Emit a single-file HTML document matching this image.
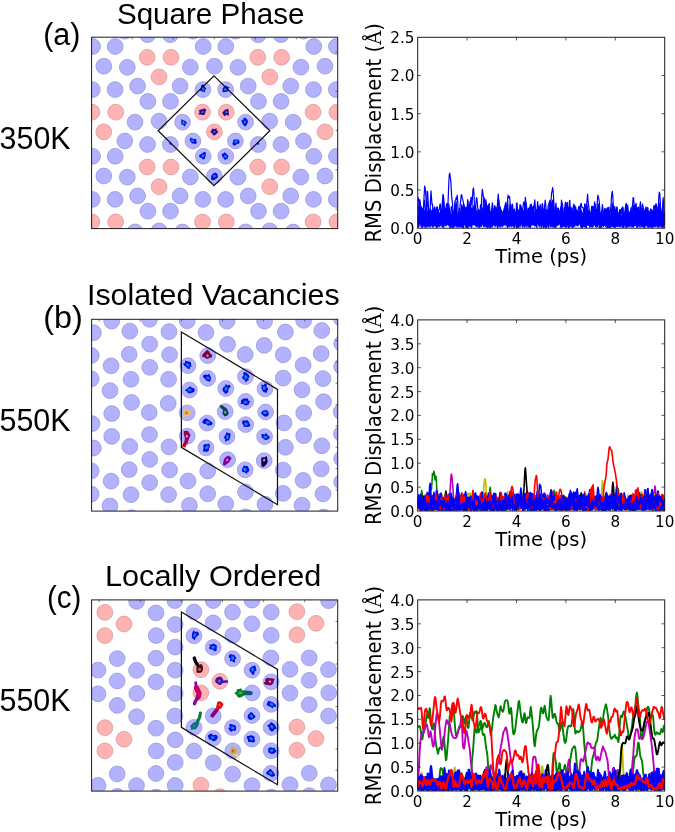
<!DOCTYPE html>
<html><head><meta charset="utf-8"><title>RMS Displacement figure</title>
<style>
html,body{margin:0;padding:0;background:#fff;}
svg{display:block}
.lb{font-family:"Liberation Sans",sans-serif;fill:#000}
.dv{font-family:"DejaVu Sans","Liberation Sans",sans-serif;fill:#000}
.sf{font-family:"DejaVu Serif","Liberation Serif",serif;fill:#000}
.ln{fill:none;stroke-linejoin:round;stroke-linecap:round}
</style></head><body>
<svg width="675" height="832" viewBox="0 0 675 832">
<rect width="675" height="832" fill="#fff"/>
<defs>
<clipPath id="cpa"><rect x="91.6" y="37.2" width="246.1" height="191.4"/></clipPath>
<clipPath id="cpb"><rect x="91.6" y="319.3" width="246.1" height="191.8"/></clipPath>
<clipPath id="cpc"><rect x="91.6" y="599.9" width="246.1" height="191.2"/></clipPath>
<clipPath id="cqa"><rect x="417.7" y="37.3" width="247.0" height="190.9"/></clipPath>
<clipPath id="cqb"><rect x="417.7" y="319.9" width="247.0" height="191.1"/></clipPath>
<clipPath id="cqc"><rect x="417.7" y="599.9" width="247.0" height="191.1"/></clipPath>
</defs>
<text x="116.9" y="24.0" font-size="30" class="lb" text-anchor="start" textLength="187.6" lengthAdjust="spacingAndGlyphs">Square Phase</text>
<text x="43.2" y="45.2" font-size="31" class="lb" text-anchor="start" textLength="37.3" lengthAdjust="spacingAndGlyphs">(a)</text>
<text x="-0.4" y="148.9" font-size="31.4" class="lb" text-anchor="start" textLength="70.9" lengthAdjust="spacingAndGlyphs">350K</text>
<text x="87.0" y="304.6" font-size="30" class="lb" text-anchor="start" textLength="252.7" lengthAdjust="spacingAndGlyphs">Isolated Vacancies</text>
<text x="43.3" y="328.0" font-size="31" class="lb" text-anchor="start" textLength="39.6" lengthAdjust="spacingAndGlyphs">(b)</text>
<text x="-0.5" y="430.7" font-size="31.4" class="lb" text-anchor="start" textLength="71.0" lengthAdjust="spacingAndGlyphs">550K</text>
<text x="105.0" y="585.9" font-size="30" class="lb" text-anchor="start" textLength="216.4" lengthAdjust="spacingAndGlyphs">Locally Ordered</text>
<text x="46.9" y="607.9" font-size="31" class="lb" text-anchor="start" textLength="34.3" lengthAdjust="spacingAndGlyphs">(c)</text>
<text x="-0.5" y="710.7" font-size="31.4" class="lb" text-anchor="start" textLength="71.0" lengthAdjust="spacingAndGlyphs">550K</text>
<g clip-path="url(#cpa)">
<circle cx="124.8" cy="31.2" r="7.9" fill="#b2b2ff" stroke="#9292d0" stroke-width="0.7"/>
<circle cx="92.6" cy="46.5" r="7.9" fill="#b2b2ff" stroke="#9292d0" stroke-width="0.7"/>
<circle cx="115.2" cy="46.5" r="7.9" fill="#b2b2ff" stroke="#9292d0" stroke-width="0.7"/>
<circle cx="103.8" cy="66.2" r="7.9" fill="#b2b2ff" stroke="#9292d0" stroke-width="0.7"/>
<circle cx="92.3" cy="89.6" r="7.9" fill="#b2b2ff" stroke="#9292d0" stroke-width="0.7"/>
<circle cx="115.1" cy="89.6" r="7.9" fill="#b2b2ff" stroke="#9292d0" stroke-width="0.7"/>
<circle cx="135.0" cy="122.1" r="7.9" fill="#b2b2ff" stroke="#9292d0" stroke-width="0.7"/>
<circle cx="124.8" cy="141.0" r="7.9" fill="#b2b2ff" stroke="#9292d0" stroke-width="0.7"/>
<circle cx="92.6" cy="156.3" r="7.9" fill="#b2b2ff" stroke="#9292d0" stroke-width="0.7"/>
<circle cx="115.2" cy="156.3" r="7.9" fill="#b2b2ff" stroke="#9292d0" stroke-width="0.7"/>
<circle cx="103.8" cy="176.0" r="7.9" fill="#b2b2ff" stroke="#9292d0" stroke-width="0.7"/>
<circle cx="91.9" cy="112.2" r="7.9" fill="#ffb2b2" stroke="#d49696" stroke-width="0.7"/>
<circle cx="115.7" cy="112.2" r="7.9" fill="#ffb2b2" stroke="#d49696" stroke-width="0.7"/>
<circle cx="103.8" cy="131.8" r="7.9" fill="#ffb2b2" stroke="#d49696" stroke-width="0.7"/>
<circle cx="147.6" cy="34.7" r="7.9" fill="#b2b2ff" stroke="#9292d0" stroke-width="0.7"/>
<circle cx="170.4" cy="34.7" r="7.9" fill="#b2b2ff" stroke="#9292d0" stroke-width="0.7"/>
<circle cx="127.3" cy="67.3" r="7.9" fill="#b2b2ff" stroke="#9292d0" stroke-width="0.7"/>
<circle cx="190.3" cy="67.2" r="7.9" fill="#b2b2ff" stroke="#9292d0" stroke-width="0.7"/>
<circle cx="137.6" cy="86.1" r="7.9" fill="#b2b2ff" stroke="#9292d0" stroke-width="0.7"/>
<circle cx="180.1" cy="86.1" r="7.9" fill="#b2b2ff" stroke="#9292d0" stroke-width="0.7"/>
<circle cx="147.9" cy="101.4" r="7.9" fill="#b2b2ff" stroke="#9292d0" stroke-width="0.7"/>
<circle cx="170.5" cy="101.4" r="7.9" fill="#b2b2ff" stroke="#9292d0" stroke-width="0.7"/>
<circle cx="159.1" cy="121.1" r="7.9" fill="#b2b2ff" stroke="#9292d0" stroke-width="0.7"/>
<circle cx="147.2" cy="57.3" r="7.9" fill="#ffb2b2" stroke="#d49696" stroke-width="0.7"/>
<circle cx="171.0" cy="57.3" r="7.9" fill="#ffb2b2" stroke="#d49696" stroke-width="0.7"/>
<circle cx="159.1" cy="76.9" r="7.9" fill="#ffb2b2" stroke="#d49696" stroke-width="0.7"/>
<circle cx="192.9" cy="31.2" r="7.9" fill="#b2b2ff" stroke="#9292d0" stroke-width="0.7"/>
<circle cx="235.4" cy="31.2" r="7.9" fill="#b2b2ff" stroke="#9292d0" stroke-width="0.7"/>
<circle cx="203.2" cy="46.5" r="7.9" fill="#b2b2ff" stroke="#9292d0" stroke-width="0.7"/>
<circle cx="225.8" cy="46.5" r="7.9" fill="#b2b2ff" stroke="#9292d0" stroke-width="0.7"/>
<circle cx="214.4" cy="66.2" r="7.9" fill="#b2b2ff" stroke="#9292d0" stroke-width="0.7"/>
<circle cx="92.3" cy="199.4" r="7.9" fill="#b2b2ff" stroke="#9292d0" stroke-width="0.7"/>
<circle cx="115.1" cy="199.4" r="7.9" fill="#b2b2ff" stroke="#9292d0" stroke-width="0.7"/>
<circle cx="135.0" cy="231.9" r="7.9" fill="#b2b2ff" stroke="#9292d0" stroke-width="0.7"/>
<circle cx="91.9" cy="221.9" r="7.9" fill="#ffb2b2" stroke="#d49696" stroke-width="0.7"/>
<circle cx="115.7" cy="221.9" r="7.9" fill="#ffb2b2" stroke="#d49696" stroke-width="0.7"/>
<circle cx="147.6" cy="144.5" r="7.9" fill="#b2b2ff" stroke="#9292d0" stroke-width="0.7"/>
<circle cx="170.4" cy="144.5" r="7.9" fill="#b2b2ff" stroke="#9292d0" stroke-width="0.7"/>
<circle cx="127.3" cy="177.1" r="7.9" fill="#b2b2ff" stroke="#9292d0" stroke-width="0.7"/>
<circle cx="190.3" cy="177.0" r="7.9" fill="#b2b2ff" stroke="#9292d0" stroke-width="0.7"/>
<circle cx="137.6" cy="195.9" r="7.9" fill="#b2b2ff" stroke="#9292d0" stroke-width="0.7"/>
<circle cx="180.1" cy="195.9" r="7.9" fill="#b2b2ff" stroke="#9292d0" stroke-width="0.7"/>
<circle cx="147.9" cy="211.2" r="7.9" fill="#b2b2ff" stroke="#9292d0" stroke-width="0.7"/>
<circle cx="170.5" cy="211.2" r="7.9" fill="#b2b2ff" stroke="#9292d0" stroke-width="0.7"/>
<circle cx="159.1" cy="230.9" r="7.9" fill="#b2b2ff" stroke="#9292d0" stroke-width="0.7"/>
<circle cx="147.2" cy="167.0" r="7.9" fill="#ffb2b2" stroke="#d49696" stroke-width="0.7"/>
<circle cx="171.0" cy="167.0" r="7.9" fill="#ffb2b2" stroke="#d49696" stroke-width="0.7"/>
<circle cx="159.1" cy="186.7" r="7.9" fill="#ffb2b2" stroke="#d49696" stroke-width="0.7"/>
<circle cx="202.9" cy="89.6" r="7.9" fill="#b2b2ff" stroke="#9292d0" stroke-width="0.7"/>
<circle cx="225.7" cy="89.6" r="7.9" fill="#b2b2ff" stroke="#9292d0" stroke-width="0.7"/>
<circle cx="182.6" cy="122.2" r="7.9" fill="#b2b2ff" stroke="#9292d0" stroke-width="0.7"/>
<circle cx="245.6" cy="122.1" r="7.9" fill="#b2b2ff" stroke="#9292d0" stroke-width="0.7"/>
<circle cx="192.9" cy="141.0" r="7.9" fill="#b2b2ff" stroke="#9292d0" stroke-width="0.7"/>
<circle cx="235.4" cy="141.0" r="7.9" fill="#b2b2ff" stroke="#9292d0" stroke-width="0.7"/>
<circle cx="203.2" cy="156.3" r="7.9" fill="#b2b2ff" stroke="#9292d0" stroke-width="0.7"/>
<circle cx="225.8" cy="156.3" r="7.9" fill="#b2b2ff" stroke="#9292d0" stroke-width="0.7"/>
<circle cx="214.4" cy="176.0" r="7.9" fill="#b2b2ff" stroke="#9292d0" stroke-width="0.7"/>
<circle cx="202.5" cy="112.2" r="7.9" fill="#ffb2b2" stroke="#d49696" stroke-width="0.7"/>
<circle cx="226.3" cy="112.2" r="7.9" fill="#ffb2b2" stroke="#d49696" stroke-width="0.7"/>
<circle cx="214.4" cy="131.8" r="7.9" fill="#ffb2b2" stroke="#d49696" stroke-width="0.7"/>
<circle cx="258.2" cy="34.7" r="7.9" fill="#b2b2ff" stroke="#9292d0" stroke-width="0.7"/>
<circle cx="281.0" cy="34.7" r="7.9" fill="#b2b2ff" stroke="#9292d0" stroke-width="0.7"/>
<circle cx="237.9" cy="67.3" r="7.9" fill="#b2b2ff" stroke="#9292d0" stroke-width="0.7"/>
<circle cx="300.9" cy="67.2" r="7.9" fill="#b2b2ff" stroke="#9292d0" stroke-width="0.7"/>
<circle cx="248.2" cy="86.1" r="7.9" fill="#b2b2ff" stroke="#9292d0" stroke-width="0.7"/>
<circle cx="290.7" cy="86.1" r="7.9" fill="#b2b2ff" stroke="#9292d0" stroke-width="0.7"/>
<circle cx="258.5" cy="101.4" r="7.9" fill="#b2b2ff" stroke="#9292d0" stroke-width="0.7"/>
<circle cx="281.1" cy="101.4" r="7.9" fill="#b2b2ff" stroke="#9292d0" stroke-width="0.7"/>
<circle cx="269.7" cy="121.1" r="7.9" fill="#b2b2ff" stroke="#9292d0" stroke-width="0.7"/>
<circle cx="257.8" cy="57.3" r="7.9" fill="#ffb2b2" stroke="#d49696" stroke-width="0.7"/>
<circle cx="281.6" cy="57.3" r="7.9" fill="#ffb2b2" stroke="#d49696" stroke-width="0.7"/>
<circle cx="269.8" cy="76.9" r="7.9" fill="#ffb2b2" stroke="#d49696" stroke-width="0.7"/>
<circle cx="303.5" cy="31.2" r="7.9" fill="#b2b2ff" stroke="#9292d0" stroke-width="0.7"/>
<circle cx="346.0" cy="31.2" r="7.9" fill="#b2b2ff" stroke="#9292d0" stroke-width="0.7"/>
<circle cx="313.8" cy="46.5" r="7.9" fill="#b2b2ff" stroke="#9292d0" stroke-width="0.7"/>
<circle cx="336.4" cy="46.5" r="7.9" fill="#b2b2ff" stroke="#9292d0" stroke-width="0.7"/>
<circle cx="325.0" cy="66.2" r="7.9" fill="#b2b2ff" stroke="#9292d0" stroke-width="0.7"/>
<circle cx="202.9" cy="199.4" r="7.9" fill="#b2b2ff" stroke="#9292d0" stroke-width="0.7"/>
<circle cx="225.7" cy="199.4" r="7.9" fill="#b2b2ff" stroke="#9292d0" stroke-width="0.7"/>
<circle cx="182.6" cy="232.0" r="7.9" fill="#b2b2ff" stroke="#9292d0" stroke-width="0.7"/>
<circle cx="245.6" cy="231.9" r="7.9" fill="#b2b2ff" stroke="#9292d0" stroke-width="0.7"/>
<circle cx="202.5" cy="221.9" r="7.9" fill="#ffb2b2" stroke="#d49696" stroke-width="0.7"/>
<circle cx="226.3" cy="221.9" r="7.9" fill="#ffb2b2" stroke="#d49696" stroke-width="0.7"/>
<circle cx="258.2" cy="144.5" r="7.9" fill="#b2b2ff" stroke="#9292d0" stroke-width="0.7"/>
<circle cx="281.0" cy="144.5" r="7.9" fill="#b2b2ff" stroke="#9292d0" stroke-width="0.7"/>
<circle cx="237.9" cy="177.1" r="7.9" fill="#b2b2ff" stroke="#9292d0" stroke-width="0.7"/>
<circle cx="300.9" cy="177.0" r="7.9" fill="#b2b2ff" stroke="#9292d0" stroke-width="0.7"/>
<circle cx="248.2" cy="195.9" r="7.9" fill="#b2b2ff" stroke="#9292d0" stroke-width="0.7"/>
<circle cx="290.7" cy="195.9" r="7.9" fill="#b2b2ff" stroke="#9292d0" stroke-width="0.7"/>
<circle cx="258.5" cy="211.2" r="7.9" fill="#b2b2ff" stroke="#9292d0" stroke-width="0.7"/>
<circle cx="281.1" cy="211.2" r="7.9" fill="#b2b2ff" stroke="#9292d0" stroke-width="0.7"/>
<circle cx="269.7" cy="230.9" r="7.9" fill="#b2b2ff" stroke="#9292d0" stroke-width="0.7"/>
<circle cx="257.8" cy="167.0" r="7.9" fill="#ffb2b2" stroke="#d49696" stroke-width="0.7"/>
<circle cx="281.6" cy="167.0" r="7.9" fill="#ffb2b2" stroke="#d49696" stroke-width="0.7"/>
<circle cx="269.8" cy="186.7" r="7.9" fill="#ffb2b2" stroke="#d49696" stroke-width="0.7"/>
<circle cx="313.5" cy="89.6" r="7.9" fill="#b2b2ff" stroke="#9292d0" stroke-width="0.7"/>
<circle cx="336.3" cy="89.6" r="7.9" fill="#b2b2ff" stroke="#9292d0" stroke-width="0.7"/>
<circle cx="293.2" cy="122.2" r="7.9" fill="#b2b2ff" stroke="#9292d0" stroke-width="0.7"/>
<circle cx="303.5" cy="141.0" r="7.9" fill="#b2b2ff" stroke="#9292d0" stroke-width="0.7"/>
<circle cx="346.0" cy="141.0" r="7.9" fill="#b2b2ff" stroke="#9292d0" stroke-width="0.7"/>
<circle cx="313.8" cy="156.3" r="7.9" fill="#b2b2ff" stroke="#9292d0" stroke-width="0.7"/>
<circle cx="336.4" cy="156.3" r="7.9" fill="#b2b2ff" stroke="#9292d0" stroke-width="0.7"/>
<circle cx="325.0" cy="176.0" r="7.9" fill="#b2b2ff" stroke="#9292d0" stroke-width="0.7"/>
<circle cx="313.1" cy="112.2" r="7.9" fill="#ffb2b2" stroke="#d49696" stroke-width="0.7"/>
<circle cx="336.9" cy="112.2" r="7.9" fill="#ffb2b2" stroke="#d49696" stroke-width="0.7"/>
<circle cx="325.1" cy="131.8" r="7.9" fill="#ffb2b2" stroke="#d49696" stroke-width="0.7"/>
<circle cx="313.5" cy="199.4" r="7.9" fill="#b2b2ff" stroke="#9292d0" stroke-width="0.7"/>
<circle cx="336.3" cy="199.4" r="7.9" fill="#b2b2ff" stroke="#9292d0" stroke-width="0.7"/>
<circle cx="293.2" cy="232.0" r="7.9" fill="#b2b2ff" stroke="#9292d0" stroke-width="0.7"/>
<circle cx="313.1" cy="221.9" r="7.9" fill="#ffb2b2" stroke="#d49696" stroke-width="0.7"/>
<circle cx="336.9" cy="221.9" r="7.9" fill="#ffb2b2" stroke="#d49696" stroke-width="0.7"/>
<polygon points="171.5,143.7 171.0,144.4 170.1,145.0 169.6,144.1 169.3,143.2 170.1,142.6 170.9,143.0" fill="#0a0ae0"/>
<polygon points="203.5,91.5 202.5,91.4 201.2,91.2 199.8,90.1 200.8,88.3 201.0,87.0 201.4,85.2 202.8,84.2 204.2,85.6 205.0,87.2 206.5,88.7 204.8,90.0 205.3,92.4" fill="#0606ee"/><polygon points="203.3,90.7 202.4,90.3 201.7,89.4 201.5,88.2 201.9,86.9 203.0,87.1 204.0,87.5 204.5,88.9 204.1,90.1" fill="#0058d8"/><polygon points="203.2,90.1 202.5,89.7 202.1,89.0 202.2,88.2 202.6,87.6 203.4,87.9 203.8,88.7 203.7,89.6" fill="#00a4a4"/>
<polygon points="222.3,91.8 222.8,90.1 222.5,88.7 223.6,87.3 225.0,85.8 226.9,85.7 227.7,87.0 229.9,87.2 228.1,89.1 228.1,90.5 227.1,92.1 225.4,91.7 223.8,92.2" fill="#0606ee"/><polygon points="224.3,90.3 223.7,89.4 224.3,88.2 225.6,87.6 227.0,87.5 227.3,88.6 227.4,89.8 226.3,90.7 224.9,91.1" fill="#0058d8"/><polygon points="224.7,90.0 224.4,89.3 225.0,88.4 225.9,88.2 226.7,88.5 226.6,89.3 226.2,90.1 225.3,90.4" fill="#00a4a4"/>
<polygon points="185.5,125.4 184.5,126.4 183.1,124.8 181.6,124.7 181.2,123.2 181.0,122.0 181.4,121.0 181.4,119.0 183.2,120.2 184.4,120.5 185.6,121.4 187.2,123.0 185.6,124.0" fill="#0606ee"/><polygon points="184.6,124.3 183.6,124.6 182.3,124.1 181.5,122.8 181.5,121.4 182.7,121.1 183.8,121.1 184.7,122.1 185.4,123.4" fill="#0058d8"/><polygon points="184.3,123.8 183.4,123.7 182.7,123.2 182.4,122.5 182.7,121.8 183.4,121.6 184.1,122.1 184.4,123.0" fill="#00a4a4"/>
<polygon points="246.3,125.5 245.0,126.5 243.4,125.1 242.5,123.5 241.7,121.8 241.7,120.0 243.4,119.8 243.8,117.5 245.5,118.1 247.1,119.2 248.0,121.2 247.5,122.9 247.1,124.3" fill="#0606ee"/><polygon points="245.5,123.5 244.5,123.9 243.8,122.7 243.5,121.6 243.7,120.6 244.6,120.3 245.6,120.6 246.1,121.7 246.0,122.8" fill="#0058d8"/><polygon points="245.2,123.0 244.6,122.9 244.0,122.3 244.0,121.5 244.3,120.7 245.1,120.9 245.6,121.6 245.7,122.5" fill="#00a4a4"/>
<polygon points="196.8,142.5 196.0,144.0 193.7,143.6 192.0,143.5 191.1,142.2 190.2,141.3 189.5,140.1 190.1,139.1 190.4,137.5 192.5,138.5 193.7,139.1 196.2,139.1 196.2,140.8" fill="#0606ee"/><polygon points="194.3,141.4 193.8,142.3 192.5,142.0 191.2,141.6 190.3,140.5 190.8,139.4 192.2,139.0 193.5,139.6 194.4,140.5" fill="#0058d8"/><polygon points="193.7,141.2 193.3,141.8 192.3,141.6 191.5,141.1 191.6,140.3 192.1,139.9 193.0,139.9 193.9,140.5" fill="#00a4a4"/>
<polygon points="232.4,143.8 233.1,142.1 233.0,140.7 234.3,139.6 235.8,139.5 236.9,139.4 238.2,139.4 238.8,140.3 239.7,141.5 239.2,143.4 237.0,143.9 235.3,145.4 233.3,145.2" fill="#0606ee"/><polygon points="233.9,142.8 234.2,141.5 235.0,140.5 236.1,140.0 237.1,140.2 237.6,141.0 237.6,142.1 236.6,143.2 235.1,143.4" fill="#0058d8"/><polygon points="234.9,142.1 234.8,141.4 235.4,140.6 236.3,140.6 237.0,140.8 237.2,141.6 236.5,142.3 235.6,142.6" fill="#00a4a4"/>
<polygon points="200.6,157.8 199.2,157.0 199.2,155.1 201.3,154.0 202.6,153.1 204.5,151.8 205.9,152.7 205.7,154.5 205.7,155.6 205.2,156.7 204.8,158.8 202.9,159.5 201.8,158.1" fill="#0606ee"/><polygon points="201.3,157.2 201.0,156.0 201.9,154.8 203.2,154.2 204.4,154.2 204.7,155.1 204.5,156.1 203.9,157.5 202.5,157.6" fill="#0058d8"/><polygon points="202.2,156.5 201.9,155.8 202.6,155.1 203.5,154.6 204.2,155.0 204.2,155.8 203.7,156.5 202.9,156.8" fill="#00a4a4"/>
<polygon points="227.8,159.0 226.4,158.9 225.1,160.3 223.9,158.4 222.7,157.2 222.0,155.7 221.7,153.7 223.5,153.5 224.7,152.3 226.4,153.7 227.7,154.9 228.5,156.4 227.6,157.5" fill="#0606ee"/><polygon points="226.8,157.9 225.7,158.0 224.7,157.5 223.5,156.6 223.9,155.5 224.5,154.7 225.7,154.6 226.8,155.6 227.0,156.9" fill="#0058d8"/><polygon points="226.2,157.3 225.5,157.5 224.7,157.1 224.4,156.3 224.5,155.5 225.3,155.4 226.0,155.9 226.5,156.6" fill="#00a4a4"/>
<polygon points="211.0,179.3 211.3,177.3 211.1,175.9 212.2,174.4 213.6,173.3 215.3,172.5 216.5,173.3 217.5,174.1 217.6,175.6 217.9,177.4 216.2,178.7 214.5,179.9 212.5,180.2" fill="#0606ee"/><polygon points="213.1,177.4 212.6,176.5 212.9,175.1 214.2,174.2 215.3,174.7 215.9,175.3 216.0,176.4 215.1,177.2 214.0,177.7" fill="#0058d8"/><polygon points="213.6,176.8 213.3,176.2 213.7,175.4 214.6,174.9 215.2,175.3 215.6,176.0 215.1,176.8 214.2,177.1" fill="#00a4a4"/>
<polygon points="198.4,114.4 199.6,112.2 198.8,110.2 201.1,109.6 202.8,108.9 205.1,108.4 206.3,110.1 205.3,112.1 205.3,113.6 204.0,114.9 202.2,115.1 200.8,114.5" fill="#2a00a0"/><polygon points="203.7,112.2 203.5,113.2 202.5,113.2 201.6,113.1 201.2,112.2 201.8,111.4 202.5,110.9 203.5,111.2" fill="#308070"/>
<polygon points="226.4,114.8 224.4,116.3 223.2,114.4 222.3,112.3 224.2,110.8 224.9,109.5 226.2,109.5 228.0,108.4 228.6,110.5 228.7,112.1 228.9,113.8 228.4,116.0" fill="#2a00a0"/><polygon points="227.8,112.2 227.1,113.0 226.3,113.3 225.2,113.2 225.0,112.2 225.3,111.2 226.3,111.1 227.1,111.4" fill="#308070"/>
<polygon points="212.8,134.9 212.3,133.3 210.3,132.2 211.5,130.2 212.6,128.4 214.5,129.2 216.5,127.9 216.6,130.3 218.4,131.4 217.1,133.2 215.8,134.4 214.3,135.4" fill="#2a00a0"/><polygon points="216.0,131.8 215.3,132.6 214.4,132.9 213.5,132.7 213.3,131.8 213.7,131.0 214.4,130.7 215.2,131.0" fill="#308070"/>
<polygon points="259.2,143.7 258.9,144.5 258.0,144.7 257.0,144.3 257.3,143.2 258.0,142.5 258.8,142.9" fill="#0a0ae0"/>
<polygon points="214.0,75.9 269.85,130.75 214.0,185.6 158.15,130.75" fill="none" stroke="#111" stroke-width="1.25"/>
</g>
<rect x="91.6" y="37.2" width="246.1" height="191.4" fill="none" stroke="#1c1c1c" stroke-width="1.0"/><path d="M132.2 37.2v2.2M173.2 37.2v2.2M214.3 37.2v2.2M255.3 37.2v2.2M296.4 37.2v2.2M337.7 52.0h-2.2M337.7 91.3h-2.2M337.7 130.6h-2.2M337.7 169.9h-2.2M337.7 209.2h-2.2" stroke="#222" stroke-width="0.6" fill="none"/>
<g clip-path="url(#cpb)">
<circle cx="187.2" cy="320.8" r="7.9" fill="#b2b2ff" stroke="#9292d0" stroke-width="0.7"/>
<circle cx="227.0" cy="321.2" r="7.9" fill="#b2b2ff" stroke="#9292d0" stroke-width="0.7"/>
<circle cx="264.6" cy="321.2" r="7.9" fill="#b2b2ff" stroke="#9292d0" stroke-width="0.7"/>
<circle cx="206.0" cy="332.5" r="7.9" fill="#b2b2ff" stroke="#9292d0" stroke-width="0.7"/>
<circle cx="227.6" cy="344.4" r="7.9" fill="#b2b2ff" stroke="#9292d0" stroke-width="0.7"/>
<circle cx="264.2" cy="345.4" r="7.9" fill="#b2b2ff" stroke="#9292d0" stroke-width="0.7"/>
<circle cx="245.2" cy="354.5" r="7.9" fill="#b2b2ff" stroke="#9292d0" stroke-width="0.7"/>
<circle cx="303.7" cy="320.4" r="7.9" fill="#b2b2ff" stroke="#9292d0" stroke-width="0.7"/>
<circle cx="341.5" cy="318.6" r="7.9" fill="#b2b2ff" stroke="#9292d0" stroke-width="0.7"/>
<circle cx="285.4" cy="332.0" r="7.9" fill="#b2b2ff" stroke="#9292d0" stroke-width="0.7"/>
<circle cx="321.8" cy="330.5" r="7.9" fill="#b2b2ff" stroke="#9292d0" stroke-width="0.7"/>
<circle cx="341.7" cy="343.4" r="7.9" fill="#b2b2ff" stroke="#9292d0" stroke-width="0.7"/>
<circle cx="283.2" cy="354.8" r="7.9" fill="#b2b2ff" stroke="#9292d0" stroke-width="0.7"/>
<circle cx="321.2" cy="353.6" r="7.9" fill="#b2b2ff" stroke="#9292d0" stroke-width="0.7"/>
<circle cx="303.1" cy="365.1" r="7.9" fill="#b2b2ff" stroke="#9292d0" stroke-width="0.7"/>
<circle cx="341.7" cy="366.6" r="7.9" fill="#b2b2ff" stroke="#9292d0" stroke-width="0.7"/>
<circle cx="283.2" cy="378.1" r="7.9" fill="#b2b2ff" stroke="#9292d0" stroke-width="0.7"/>
<circle cx="323.0" cy="378.6" r="7.9" fill="#b2b2ff" stroke="#9292d0" stroke-width="0.7"/>
<circle cx="302.0" cy="389.9" r="7.9" fill="#b2b2ff" stroke="#9292d0" stroke-width="0.7"/>
<circle cx="323.6" cy="401.7" r="7.9" fill="#b2b2ff" stroke="#9292d0" stroke-width="0.7"/>
<circle cx="341.2" cy="411.8" r="7.9" fill="#b2b2ff" stroke="#9292d0" stroke-width="0.7"/>
<circle cx="111.7" cy="321.1" r="7.9" fill="#b2b2ff" stroke="#9292d0" stroke-width="0.7"/>
<circle cx="149.5" cy="319.3" r="7.9" fill="#b2b2ff" stroke="#9292d0" stroke-width="0.7"/>
<circle cx="93.4" cy="332.7" r="7.9" fill="#b2b2ff" stroke="#9292d0" stroke-width="0.7"/>
<circle cx="129.8" cy="331.2" r="7.9" fill="#b2b2ff" stroke="#9292d0" stroke-width="0.7"/>
<circle cx="169.0" cy="331.6" r="7.9" fill="#b2b2ff" stroke="#9292d0" stroke-width="0.7"/>
<circle cx="149.7" cy="344.1" r="7.9" fill="#b2b2ff" stroke="#9292d0" stroke-width="0.7"/>
<circle cx="91.2" cy="355.5" r="7.9" fill="#b2b2ff" stroke="#9292d0" stroke-width="0.7"/>
<circle cx="129.2" cy="354.3" r="7.9" fill="#b2b2ff" stroke="#9292d0" stroke-width="0.7"/>
<circle cx="169.6" cy="354.7" r="7.9" fill="#b2b2ff" stroke="#9292d0" stroke-width="0.7"/>
<circle cx="111.1" cy="365.8" r="7.9" fill="#b2b2ff" stroke="#9292d0" stroke-width="0.7"/>
<circle cx="149.7" cy="367.3" r="7.9" fill="#b2b2ff" stroke="#9292d0" stroke-width="0.7"/>
<circle cx="91.2" cy="378.8" r="7.9" fill="#b2b2ff" stroke="#9292d0" stroke-width="0.7"/>
<circle cx="131.0" cy="379.3" r="7.9" fill="#b2b2ff" stroke="#9292d0" stroke-width="0.7"/>
<circle cx="168.6" cy="379.3" r="7.9" fill="#b2b2ff" stroke="#9292d0" stroke-width="0.7"/>
<circle cx="110.0" cy="390.6" r="7.9" fill="#b2b2ff" stroke="#9292d0" stroke-width="0.7"/>
<circle cx="131.6" cy="402.4" r="7.9" fill="#b2b2ff" stroke="#9292d0" stroke-width="0.7"/>
<circle cx="168.2" cy="403.4" r="7.9" fill="#b2b2ff" stroke="#9292d0" stroke-width="0.7"/>
<circle cx="149.2" cy="412.5" r="7.9" fill="#b2b2ff" stroke="#9292d0" stroke-width="0.7"/>
<circle cx="207.7" cy="355.6" r="7.9" fill="#b2b2ff" stroke="#9292d0" stroke-width="0.7"/>
<circle cx="188.0" cy="365.6" r="7.9" fill="#b2b2ff" stroke="#9292d0" stroke-width="0.7"/>
<circle cx="207.7" cy="378.4" r="7.9" fill="#b2b2ff" stroke="#9292d0" stroke-width="0.7"/>
<circle cx="245.5" cy="376.6" r="7.9" fill="#b2b2ff" stroke="#9292d0" stroke-width="0.7"/>
<circle cx="189.4" cy="390.0" r="7.9" fill="#b2b2ff" stroke="#9292d0" stroke-width="0.7"/>
<circle cx="225.8" cy="388.5" r="7.9" fill="#b2b2ff" stroke="#9292d0" stroke-width="0.7"/>
<circle cx="265.0" cy="388.9" r="7.9" fill="#b2b2ff" stroke="#9292d0" stroke-width="0.7"/>
<circle cx="245.7" cy="401.4" r="7.9" fill="#b2b2ff" stroke="#9292d0" stroke-width="0.7"/>
<circle cx="187.2" cy="412.8" r="7.9" fill="#b2b2ff" stroke="#9292d0" stroke-width="0.7"/>
<circle cx="225.2" cy="411.6" r="7.9" fill="#b2b2ff" stroke="#9292d0" stroke-width="0.7"/>
<circle cx="265.6" cy="412.0" r="7.9" fill="#b2b2ff" stroke="#9292d0" stroke-width="0.7"/>
<circle cx="207.1" cy="423.1" r="7.9" fill="#b2b2ff" stroke="#9292d0" stroke-width="0.7"/>
<circle cx="245.7" cy="424.6" r="7.9" fill="#b2b2ff" stroke="#9292d0" stroke-width="0.7"/>
<circle cx="187.2" cy="436.1" r="7.9" fill="#b2b2ff" stroke="#9292d0" stroke-width="0.7"/>
<circle cx="227.0" cy="436.6" r="7.9" fill="#b2b2ff" stroke="#9292d0" stroke-width="0.7"/>
<circle cx="264.6" cy="436.6" r="7.9" fill="#b2b2ff" stroke="#9292d0" stroke-width="0.7"/>
<circle cx="206.0" cy="447.9" r="7.9" fill="#b2b2ff" stroke="#9292d0" stroke-width="0.7"/>
<circle cx="227.6" cy="459.7" r="7.9" fill="#b2b2ff" stroke="#9292d0" stroke-width="0.7"/>
<circle cx="264.2" cy="460.7" r="7.9" fill="#b2b2ff" stroke="#9292d0" stroke-width="0.7"/>
<circle cx="245.2" cy="469.8" r="7.9" fill="#b2b2ff" stroke="#9292d0" stroke-width="0.7"/>
<circle cx="303.7" cy="412.9" r="7.9" fill="#b2b2ff" stroke="#9292d0" stroke-width="0.7"/>
<circle cx="284.0" cy="422.9" r="7.9" fill="#b2b2ff" stroke="#9292d0" stroke-width="0.7"/>
<circle cx="303.7" cy="435.7" r="7.9" fill="#b2b2ff" stroke="#9292d0" stroke-width="0.7"/>
<circle cx="341.5" cy="433.9" r="7.9" fill="#b2b2ff" stroke="#9292d0" stroke-width="0.7"/>
<circle cx="285.4" cy="447.3" r="7.9" fill="#b2b2ff" stroke="#9292d0" stroke-width="0.7"/>
<circle cx="321.8" cy="445.8" r="7.9" fill="#b2b2ff" stroke="#9292d0" stroke-width="0.7"/>
<circle cx="341.7" cy="458.7" r="7.9" fill="#b2b2ff" stroke="#9292d0" stroke-width="0.7"/>
<circle cx="283.2" cy="470.1" r="7.9" fill="#b2b2ff" stroke="#9292d0" stroke-width="0.7"/>
<circle cx="321.2" cy="468.9" r="7.9" fill="#b2b2ff" stroke="#9292d0" stroke-width="0.7"/>
<circle cx="303.1" cy="480.4" r="7.9" fill="#b2b2ff" stroke="#9292d0" stroke-width="0.7"/>
<circle cx="341.7" cy="481.9" r="7.9" fill="#b2b2ff" stroke="#9292d0" stroke-width="0.7"/>
<circle cx="283.2" cy="493.4" r="7.9" fill="#b2b2ff" stroke="#9292d0" stroke-width="0.7"/>
<circle cx="323.0" cy="493.9" r="7.9" fill="#b2b2ff" stroke="#9292d0" stroke-width="0.7"/>
<circle cx="302.0" cy="505.2" r="7.9" fill="#b2b2ff" stroke="#9292d0" stroke-width="0.7"/>
<circle cx="323.6" cy="517.0" r="7.9" fill="#b2b2ff" stroke="#9292d0" stroke-width="0.7"/>
<circle cx="111.7" cy="413.6" r="7.9" fill="#b2b2ff" stroke="#9292d0" stroke-width="0.7"/>
<circle cx="92.0" cy="423.6" r="7.9" fill="#b2b2ff" stroke="#9292d0" stroke-width="0.7"/>
<circle cx="111.7" cy="436.4" r="7.9" fill="#b2b2ff" stroke="#9292d0" stroke-width="0.7"/>
<circle cx="149.5" cy="434.6" r="7.9" fill="#b2b2ff" stroke="#9292d0" stroke-width="0.7"/>
<circle cx="93.4" cy="448.0" r="7.9" fill="#b2b2ff" stroke="#9292d0" stroke-width="0.7"/>
<circle cx="129.8" cy="446.5" r="7.9" fill="#b2b2ff" stroke="#9292d0" stroke-width="0.7"/>
<circle cx="169.0" cy="446.9" r="7.9" fill="#b2b2ff" stroke="#9292d0" stroke-width="0.7"/>
<circle cx="149.7" cy="459.4" r="7.9" fill="#b2b2ff" stroke="#9292d0" stroke-width="0.7"/>
<circle cx="91.2" cy="470.8" r="7.9" fill="#b2b2ff" stroke="#9292d0" stroke-width="0.7"/>
<circle cx="129.2" cy="469.6" r="7.9" fill="#b2b2ff" stroke="#9292d0" stroke-width="0.7"/>
<circle cx="169.6" cy="470.0" r="7.9" fill="#b2b2ff" stroke="#9292d0" stroke-width="0.7"/>
<circle cx="111.1" cy="481.1" r="7.9" fill="#b2b2ff" stroke="#9292d0" stroke-width="0.7"/>
<circle cx="149.7" cy="482.6" r="7.9" fill="#b2b2ff" stroke="#9292d0" stroke-width="0.7"/>
<circle cx="91.2" cy="494.1" r="7.9" fill="#b2b2ff" stroke="#9292d0" stroke-width="0.7"/>
<circle cx="131.0" cy="494.6" r="7.9" fill="#b2b2ff" stroke="#9292d0" stroke-width="0.7"/>
<circle cx="168.6" cy="494.6" r="7.9" fill="#b2b2ff" stroke="#9292d0" stroke-width="0.7"/>
<circle cx="110.0" cy="505.9" r="7.9" fill="#b2b2ff" stroke="#9292d0" stroke-width="0.7"/>
<circle cx="131.6" cy="517.7" r="7.9" fill="#b2b2ff" stroke="#9292d0" stroke-width="0.7"/>
<circle cx="168.2" cy="518.7" r="7.9" fill="#b2b2ff" stroke="#9292d0" stroke-width="0.7"/>
<circle cx="207.7" cy="471.0" r="7.9" fill="#b2b2ff" stroke="#9292d0" stroke-width="0.7"/>
<circle cx="188.0" cy="481.0" r="7.9" fill="#b2b2ff" stroke="#9292d0" stroke-width="0.7"/>
<circle cx="207.7" cy="493.8" r="7.9" fill="#b2b2ff" stroke="#9292d0" stroke-width="0.7"/>
<circle cx="245.5" cy="492.0" r="7.9" fill="#b2b2ff" stroke="#9292d0" stroke-width="0.7"/>
<circle cx="189.4" cy="505.4" r="7.9" fill="#b2b2ff" stroke="#9292d0" stroke-width="0.7"/>
<circle cx="225.8" cy="503.9" r="7.9" fill="#b2b2ff" stroke="#9292d0" stroke-width="0.7"/>
<circle cx="265.0" cy="504.2" r="7.9" fill="#b2b2ff" stroke="#9292d0" stroke-width="0.7"/>
<circle cx="245.7" cy="516.8" r="7.9" fill="#b2b2ff" stroke="#9292d0" stroke-width="0.7"/>
<polygon points="189.9,366.9 189.6,369.2 187.6,368.6 186.2,366.9 184.6,365.9 182.9,363.8 185.1,363.0 184.9,360.6 187.0,361.2 188.8,361.6 191.0,362.5 191.1,364.7 191.5,366.5" fill="#0606ee"/><polygon points="189.6,366.7 188.3,367.4 186.9,366.3 185.5,365.1 185.6,363.6 186.5,362.7 188.0,363.0 189.2,363.9 189.5,365.2" fill="#0058d8"/><polygon points="188.7,365.7 187.9,365.9 186.9,365.6 186.6,364.7 186.8,363.9 187.6,363.7 188.6,364.0 189.2,365.0" fill="#00a4a4"/>
<polygon points="210.7,380.6 209.7,381.7 207.9,380.9 206.2,380.6 205.3,379.0 203.0,377.2 203.3,375.0 205.4,374.5 207.3,374.9 209.2,373.8 210.3,376.3 211.3,377.8 210.6,379.1" fill="#0606ee"/><polygon points="209.6,379.6 208.5,380.1 207.1,379.6 206.3,378.3 205.9,376.9 207.0,376.4 208.2,376.3 209.2,377.2 210.0,378.5" fill="#0058d8"/><polygon points="208.9,378.9 208.2,379.1 207.3,378.8 206.8,377.9 206.9,377.0 207.8,376.8 208.8,377.2 209.3,378.2" fill="#00a4a4"/>
<polygon points="247.2,380.8 245.7,382.6 244.5,379.7 242.6,379.0 242.2,376.8 243.6,375.6 243.2,372.7 245.0,371.9 246.8,373.1 248.5,374.4 249.7,376.5 248.4,378.3 248.6,380.3" fill="#0606ee"/><polygon points="246.7,379.5 245.3,379.6 244.1,378.3 243.7,376.5 244.5,375.2 245.6,374.5 247.0,375.4 247.8,377.0 247.4,378.4" fill="#0058d8"/><polygon points="246.3,378.4 245.5,378.3 244.9,377.6 244.9,376.6 245.3,375.7 246.2,376.0 246.9,376.8 247.0,377.9" fill="#00a4a4"/>
<polygon points="194.8,390.0 194.1,391.8 192.1,392.7 190.2,393.3 188.0,393.3 187.3,391.5 184.8,390.8 186.2,389.3 187.4,388.4 188.4,387.4 190.3,386.3 191.7,387.8 194.1,388.3" fill="#0606ee"/><polygon points="192.5,390.0 191.5,391.2 190.1,391.7 188.5,391.5 187.3,390.6 187.2,389.3 188.4,388.3 190.1,388.1 191.2,389.0" fill="#0058d8"/><polygon points="191.0,390.0 190.6,390.7 189.7,391.1 188.7,390.7 188.2,390.0 188.8,389.3 189.7,389.0 190.6,389.3" fill="#00a4a4"/>
<polygon points="224.1,392.0 222.8,391.3 222.6,389.5 223.1,387.6 224.7,386.6 225.9,383.9 227.3,385.6 229.8,384.7 230.6,386.7 228.4,389.0 228.5,390.9 227.3,393.0 225.1,394.1" fill="#0606ee"/><polygon points="224.8,390.8 224.3,389.7 224.5,388.3 225.3,386.6 226.7,386.8 227.8,387.2 227.8,388.6 227.4,390.1 226.1,391.4" fill="#0058d8"/><polygon points="225.4,389.9 224.8,389.3 225.2,388.2 225.9,387.4 226.9,387.5 227.2,388.4 227.1,389.4 226.2,390.1" fill="#00a4a4"/>
<polygon points="264.3,392.3 263.0,391.5 262.2,390.0 261.4,388.6 261.5,386.8 261.5,384.2 263.6,385.3 265.0,383.2 266.8,384.1 266.5,386.9 268.3,388.7 267.3,390.8 266.3,392.9" fill="#0606ee"/><polygon points="264.3,390.3 263.2,389.9 262.6,388.5 262.3,386.7 263.5,385.8 264.8,386.0 265.7,386.9 265.9,388.4 265.2,389.6" fill="#0058d8"/><polygon points="264.3,389.4 263.4,389.2 263.2,388.1 263.3,387.0 264.2,386.8 264.9,387.1 265.3,388.1 265.0,389.0" fill="#00a4a4"/>
<polygon points="240.7,404.0 241.0,402.1 241.4,400.1 243.4,398.5 245.9,398.6 248.1,398.5 248.1,400.6 250.3,401.2 249.2,403.0 248.4,404.8 246.2,405.6 244.3,405.0 243.3,404.1" fill="#0606ee"/><polygon points="242.9,403.1 243.7,401.8 244.5,400.6 246.0,400.4 247.2,400.9 248.0,401.9 247.5,403.4 245.7,403.8 244.1,404.0" fill="#0058d8"/><polygon points="244.2,402.6 244.3,401.8 245.1,401.2 246.1,401.2 246.7,401.7 246.6,402.5 245.9,403.3 244.8,403.2" fill="#00a4a4"/>
<polygon points="261.0,412.7 262.2,411.5 263.2,410.5 264.7,410.3 266.5,409.9 267.5,411.0 268.6,412.0 268.7,413.3 268.6,414.9 267.1,416.4 264.6,416.4 262.9,415.2 261.6,414.1" fill="#0606ee"/><polygon points="262.7,412.7 263.4,411.6 264.7,411.0 266.1,411.4 267.2,412.1 267.8,413.4 266.2,414.0 264.8,414.4 263.2,413.9" fill="#0058d8"/><polygon points="263.6,412.7 264.2,412.0 265.1,411.6 266.1,411.9 266.5,412.6 266.2,413.4 265.2,413.9 264.0,413.5" fill="#00a4a4"/>
<polygon points="212.6,422.8 212.3,424.7 209.8,425.2 207.9,425.8 206.5,424.3 204.5,424.0 202.3,422.8 202.7,420.9 204.0,419.3 206.1,418.2 208.4,419.7 209.7,420.5 210.8,421.5" fill="#0606ee"/><polygon points="210.1,422.6 209.5,423.8 208.0,424.5 206.2,423.9 205.3,422.7 205.3,421.4 206.7,420.7 208.3,420.6 209.3,421.5" fill="#0058d8"/><polygon points="209.3,422.5 208.6,423.1 207.6,423.5 206.6,423.0 206.3,422.2 206.9,421.6 207.8,421.3 208.8,421.7" fill="#00a4a4"/>
<polygon points="250.3,424.9 249.6,426.4 247.7,426.9 245.9,426.7 243.7,426.8 243.5,424.9 242.3,423.8 242.2,422.3 242.5,420.4 245.1,420.4 247.5,420.2 248.9,421.9 249.4,423.5" fill="#0606ee"/><polygon points="248.1,424.5 247.8,425.8 246.0,425.9 244.6,425.1 244.1,424.1 244.0,422.9 245.1,422.1 246.8,422.4 247.9,423.3" fill="#0058d8"/><polygon points="247.5,424.3 246.9,425.1 245.8,424.9 245.0,424.4 244.7,423.7 245.2,423.0 246.3,422.9 247.1,423.5" fill="#00a4a4"/>
<polygon points="227.4,440.5 225.4,441.9 225.1,439.1 223.6,437.6 225.0,435.7 225.8,434.3 226.6,432.1 228.2,433.3 230.3,432.9 230.5,435.5 230.0,437.4 229.6,439.0 228.8,440.6" fill="#0606ee"/><polygon points="227.4,439.5 226.1,439.1 225.9,437.3 226.0,435.8 227.0,435.0 228.2,434.3 228.8,436.0 228.9,437.3 228.4,438.5" fill="#0058d8"/><polygon points="227.5,438.4 226.6,438.1 226.3,437.0 226.7,435.9 227.5,435.3 228.4,435.8 228.5,437.0 228.2,437.9" fill="#00a4a4"/>
<polygon points="270.0,437.5 268.7,438.7 267.3,439.7 265.5,439.9 263.9,439.2 263.0,438.2 261.6,437.3 261.6,435.9 261.4,433.8 264.4,434.6 266.4,432.9 267.5,435.0 268.9,436.0" fill="#0606ee"/><polygon points="268.0,437.3 267.2,438.5 265.5,438.8 264.2,438.2 263.0,437.4 263.2,436.2 264.1,435.0 265.8,435.5 267.1,436.1" fill="#0058d8"/><polygon points="266.9,437.2 266.1,437.7 265.2,438.0 264.1,437.7 263.8,436.8 264.5,436.3 265.4,436.1 266.2,436.4" fill="#00a4a4"/>
<polygon points="202.9,451.4 203.3,449.0 203.6,447.4 203.2,445.1 205.5,444.1 207.3,444.3 209.4,443.5 209.8,445.4 209.9,446.8 208.9,448.2 208.9,450.6 206.9,452.1 204.9,451.6" fill="#0606ee"/><polygon points="204.7,449.5 205.0,447.9 205.3,446.7 206.4,445.6 208.0,445.1 209.1,446.1 208.5,447.7 207.5,448.9 206.2,449.6" fill="#0058d8"/><polygon points="205.7,448.5 205.3,447.7 206.0,446.8 206.9,446.1 207.8,446.4 208.1,447.3 207.5,448.3 206.5,448.8" fill="#00a4a4"/>
<polygon points="247.1,474.1 245.1,472.5 243.8,472.2 241.8,471.6 242.1,469.4 242.5,468.0 243.2,467.1 243.8,465.2 245.4,466.1 247.7,466.0 248.8,468.4 249.5,471.0 247.5,471.9" fill="#0606ee"/><polygon points="245.8,471.3 244.7,471.3 243.5,470.6 242.8,469.0 243.4,467.8 244.6,467.5 245.8,467.8 246.8,469.1 246.9,470.8" fill="#0058d8"/><polygon points="245.6,470.9 244.6,470.9 243.9,470.0 243.9,469.0 244.3,468.1 245.2,468.3 245.9,469.0 246.0,470.1" fill="#00a4a4"/>
<polygon points="211.7,357.2 209.4,357.9 207.9,358.7 206.1,358.6 204.8,357.6 202.0,356.8 202.6,354.4 203.9,352.9 205.3,351.6 207.2,349.7 209.2,351.6 210.2,353.4 212.2,354.9" fill="#760040"/><polygon points="208.9,355.8 208.6,356.9 207.5,356.9 206.6,356.7 206.0,355.8 206.5,354.8 207.5,354.3 208.3,355.0" fill="#d878b0"/>
<path d="M183.6 410.4L186.6 409.2L189.6 410.0L191.2 413.2L188.8 415.4L185.8 416.8L183.4 418.6L183.0 414.3Z" fill="#e4c44c"/>
<polygon points="188.2,412.9 187.6,413.9 186.6,414.4 185.2,414.3 184.8,412.9 185.2,411.5 186.6,411.3 188.0,411.5" fill="#f06878"/>
<path d="M219.6 405.6L221.8 405.0L226.8 408.6L228.8 413.0L227.6 415.4L224.4 416.4L222.4 413.6L223.0 410.0L220.2 407.6Z" fill="#0c4448"/>
<polygon points="226.5,412.2 226.1,413.0 225.3,413.5 224.3,413.2 224.3,412.2 224.4,411.3 225.3,410.9 226.1,411.4" fill="#88b4b4"/>
<path d="M183.8 431.1L187.8 430.7L190.6 435.1L188.6 439.7L187.0 444.7L183.8 444.1L185.0 438.6L183.8 434.7Z" fill="#96005a"/>
<polygon points="187.8,436.2 187.5,437.2 186.9,437.7 186.3,437.3 185.9,436.2 186.2,434.9 186.9,434.7 187.4,435.2" fill="#e8a8d0"/>
<rect x="182.4" y="443.5" width="3.6" height="3.6" fill="#c4001c" transform="rotate(20 184.2 445.3)"/>
<polygon points="230.3,456.9 231.7,458.1 230.2,460.6 229.0,462.6 227.0,463.9 224.4,465.7 222.9,464.5 223.3,462.2 223.6,460.4 224.5,458.3 226.6,456.4 229.0,455.6" fill="#8400a8"/><polygon points="228.1,458.9 228.3,459.6 228.0,460.7 226.9,461.2 226.2,461.0 226.0,460.2 226.4,459.1 227.5,458.7" fill="#e080c8"/>
<polygon points="267.8,461.5 266.8,463.7 265.4,465.5 263.6,467.1 261.5,466.4 261.2,463.2 261.3,460.8 261.1,457.9 263.1,457.2 264.6,457.3 266.8,456.0 267.3,458.9" fill="#14004e"/><polygon points="265.3,460.1 264.8,461.1 264.0,461.8 263.2,461.1 263.0,460.1 263.4,459.2 264.0,458.6 264.8,459.0" fill="#b0a0e0"/>
<polygon points="181.4,332.0 277.5,389.4 277.5,504.7 181.4,447.4" fill="none" stroke="#111" stroke-width="1.25"/>
</g>
<rect x="91.6" y="319.3" width="246.1" height="191.8" fill="none" stroke="#1c1c1c" stroke-width="1.0"/><path d="M99.2 319.3v2.2M140.3 319.3v2.2M181.4 319.3v2.2M222.5 319.3v2.2M263.6 319.3v2.2M304.7 319.3v2.2M337.7 340.5h-2.2M337.7 361.9h-2.2M337.7 383.2h-2.2M337.7 404.6h-2.2M337.7 425.9h-2.2M337.7 447.2h-2.2M337.7 468.6h-2.2M337.7 490.0h-2.2" stroke="#222" stroke-width="0.6" fill="none"/>
<g clip-path="url(#cpc)">
<circle cx="174.9" cy="600.6" r="7.9" fill="#b2b2ff" stroke="#9292d0" stroke-width="0.7"/>
<circle cx="213.2" cy="600.5" r="7.9" fill="#b2b2ff" stroke="#9292d0" stroke-width="0.7"/>
<circle cx="252.0" cy="600.1" r="7.9" fill="#b2b2ff" stroke="#9292d0" stroke-width="0.7"/>
<circle cx="194.0" cy="612.0" r="7.9" fill="#b2b2ff" stroke="#9292d0" stroke-width="0.7"/>
<circle cx="232.5" cy="612.2" r="7.9" fill="#b2b2ff" stroke="#9292d0" stroke-width="0.7"/>
<circle cx="271.2" cy="612.1" r="7.9" fill="#b2b2ff" stroke="#9292d0" stroke-width="0.7"/>
<circle cx="213.2" cy="622.9" r="7.9" fill="#b2b2ff" stroke="#9292d0" stroke-width="0.7"/>
<circle cx="251.9" cy="623.8" r="7.9" fill="#b2b2ff" stroke="#9292d0" stroke-width="0.7"/>
<circle cx="232.8" cy="635.4" r="7.9" fill="#b2b2ff" stroke="#9292d0" stroke-width="0.7"/>
<circle cx="271.2" cy="635.4" r="7.9" fill="#b2b2ff" stroke="#9292d0" stroke-width="0.7"/>
<circle cx="270.9" cy="657.9" r="7.9" fill="#b2b2ff" stroke="#9292d0" stroke-width="0.7"/>
<circle cx="328.6" cy="600.7" r="7.9" fill="#b2b2ff" stroke="#9292d0" stroke-width="0.7"/>
<circle cx="296.9" cy="611.7" r="7.9" fill="#ffb2b2" stroke="#d49696" stroke-width="0.7"/>
<circle cx="316.0" cy="623.3" r="7.9" fill="#ffb2b2" stroke="#d49696" stroke-width="0.7"/>
<circle cx="296.9" cy="634.9" r="7.9" fill="#ffb2b2" stroke="#d49696" stroke-width="0.7"/>
<circle cx="309.2" cy="657.9" r="7.9" fill="#b2b2ff" stroke="#9292d0" stroke-width="0.7"/>
<circle cx="290.0" cy="669.4" r="7.9" fill="#b2b2ff" stroke="#9292d0" stroke-width="0.7"/>
<circle cx="328.5" cy="669.6" r="7.9" fill="#b2b2ff" stroke="#9292d0" stroke-width="0.7"/>
<circle cx="309.2" cy="680.3" r="7.9" fill="#b2b2ff" stroke="#9292d0" stroke-width="0.7"/>
<circle cx="328.8" cy="692.8" r="7.9" fill="#b2b2ff" stroke="#9292d0" stroke-width="0.7"/>
<circle cx="136.6" cy="601.4" r="7.9" fill="#b2b2ff" stroke="#9292d0" stroke-width="0.7"/>
<circle cx="156.0" cy="612.9" r="7.9" fill="#b2b2ff" stroke="#9292d0" stroke-width="0.7"/>
<circle cx="104.9" cy="612.4" r="7.9" fill="#ffb2b2" stroke="#d49696" stroke-width="0.7"/>
<circle cx="124.0" cy="624.0" r="7.9" fill="#ffb2b2" stroke="#d49696" stroke-width="0.7"/>
<circle cx="175.2" cy="624.5" r="7.9" fill="#b2b2ff" stroke="#9292d0" stroke-width="0.7"/>
<circle cx="104.9" cy="635.6" r="7.9" fill="#ffb2b2" stroke="#d49696" stroke-width="0.7"/>
<circle cx="156.2" cy="635.6" r="7.9" fill="#b2b2ff" stroke="#9292d0" stroke-width="0.7"/>
<circle cx="175.2" cy="647.1" r="7.9" fill="#b2b2ff" stroke="#9292d0" stroke-width="0.7"/>
<circle cx="117.2" cy="658.6" r="7.9" fill="#b2b2ff" stroke="#9292d0" stroke-width="0.7"/>
<circle cx="156.0" cy="658.2" r="7.9" fill="#b2b2ff" stroke="#9292d0" stroke-width="0.7"/>
<circle cx="98.0" cy="670.1" r="7.9" fill="#b2b2ff" stroke="#9292d0" stroke-width="0.7"/>
<circle cx="136.5" cy="670.3" r="7.9" fill="#b2b2ff" stroke="#9292d0" stroke-width="0.7"/>
<circle cx="175.2" cy="670.2" r="7.9" fill="#b2b2ff" stroke="#9292d0" stroke-width="0.7"/>
<circle cx="117.2" cy="681.0" r="7.9" fill="#b2b2ff" stroke="#9292d0" stroke-width="0.7"/>
<circle cx="155.9" cy="681.8" r="7.9" fill="#b2b2ff" stroke="#9292d0" stroke-width="0.7"/>
<circle cx="136.8" cy="693.5" r="7.9" fill="#b2b2ff" stroke="#9292d0" stroke-width="0.7"/>
<circle cx="175.2" cy="693.5" r="7.9" fill="#b2b2ff" stroke="#9292d0" stroke-width="0.7"/>
<circle cx="174.9" cy="716.0" r="7.9" fill="#b2b2ff" stroke="#9292d0" stroke-width="0.7"/>
<circle cx="194.0" cy="635.8" r="7.9" fill="#b2b2ff" stroke="#9292d0" stroke-width="0.7"/>
<circle cx="213.2" cy="647.4" r="7.9" fill="#b2b2ff" stroke="#9292d0" stroke-width="0.7"/>
<circle cx="232.6" cy="658.7" r="7.9" fill="#b2b2ff" stroke="#9292d0" stroke-width="0.7"/>
<circle cx="252.0" cy="670.2" r="7.9" fill="#b2b2ff" stroke="#9292d0" stroke-width="0.7"/>
<circle cx="200.9" cy="669.7" r="7.9" fill="#ffb2b2" stroke="#d49696" stroke-width="0.7"/>
<circle cx="220.0" cy="681.3" r="7.9" fill="#ffb2b2" stroke="#d49696" stroke-width="0.7"/>
<circle cx="271.2" cy="681.8" r="7.9" fill="#b2b2ff" stroke="#9292d0" stroke-width="0.7"/>
<circle cx="200.9" cy="692.9" r="7.9" fill="#ffb2b2" stroke="#d49696" stroke-width="0.7"/>
<circle cx="252.2" cy="692.9" r="7.9" fill="#b2b2ff" stroke="#9292d0" stroke-width="0.7"/>
<circle cx="271.2" cy="704.4" r="7.9" fill="#b2b2ff" stroke="#9292d0" stroke-width="0.7"/>
<circle cx="213.2" cy="715.9" r="7.9" fill="#b2b2ff" stroke="#9292d0" stroke-width="0.7"/>
<circle cx="252.0" cy="715.5" r="7.9" fill="#b2b2ff" stroke="#9292d0" stroke-width="0.7"/>
<circle cx="194.0" cy="727.4" r="7.9" fill="#b2b2ff" stroke="#9292d0" stroke-width="0.7"/>
<circle cx="232.5" cy="727.6" r="7.9" fill="#b2b2ff" stroke="#9292d0" stroke-width="0.7"/>
<circle cx="271.2" cy="727.5" r="7.9" fill="#b2b2ff" stroke="#9292d0" stroke-width="0.7"/>
<circle cx="213.2" cy="738.3" r="7.9" fill="#b2b2ff" stroke="#9292d0" stroke-width="0.7"/>
<circle cx="251.9" cy="739.1" r="7.9" fill="#b2b2ff" stroke="#9292d0" stroke-width="0.7"/>
<circle cx="232.8" cy="750.8" r="7.9" fill="#b2b2ff" stroke="#9292d0" stroke-width="0.7"/>
<circle cx="271.2" cy="750.8" r="7.9" fill="#b2b2ff" stroke="#9292d0" stroke-width="0.7"/>
<circle cx="270.9" cy="773.3" r="7.9" fill="#b2b2ff" stroke="#9292d0" stroke-width="0.7"/>
<circle cx="290.0" cy="693.1" r="7.9" fill="#b2b2ff" stroke="#9292d0" stroke-width="0.7"/>
<circle cx="309.2" cy="704.7" r="7.9" fill="#b2b2ff" stroke="#9292d0" stroke-width="0.7"/>
<circle cx="328.6" cy="716.0" r="7.9" fill="#b2b2ff" stroke="#9292d0" stroke-width="0.7"/>
<circle cx="296.9" cy="727.0" r="7.9" fill="#ffb2b2" stroke="#d49696" stroke-width="0.7"/>
<circle cx="316.0" cy="738.6" r="7.9" fill="#ffb2b2" stroke="#d49696" stroke-width="0.7"/>
<circle cx="296.9" cy="750.2" r="7.9" fill="#ffb2b2" stroke="#d49696" stroke-width="0.7"/>
<circle cx="309.2" cy="773.2" r="7.9" fill="#b2b2ff" stroke="#9292d0" stroke-width="0.7"/>
<circle cx="290.0" cy="784.7" r="7.9" fill="#b2b2ff" stroke="#9292d0" stroke-width="0.7"/>
<circle cx="328.5" cy="784.9" r="7.9" fill="#b2b2ff" stroke="#9292d0" stroke-width="0.7"/>
<circle cx="309.2" cy="795.6" r="7.9" fill="#b2b2ff" stroke="#9292d0" stroke-width="0.7"/>
<circle cx="98.0" cy="693.8" r="7.9" fill="#b2b2ff" stroke="#9292d0" stroke-width="0.7"/>
<circle cx="117.2" cy="705.4" r="7.9" fill="#b2b2ff" stroke="#9292d0" stroke-width="0.7"/>
<circle cx="136.6" cy="716.7" r="7.9" fill="#b2b2ff" stroke="#9292d0" stroke-width="0.7"/>
<circle cx="156.0" cy="728.2" r="7.9" fill="#b2b2ff" stroke="#9292d0" stroke-width="0.7"/>
<circle cx="104.9" cy="727.7" r="7.9" fill="#ffb2b2" stroke="#d49696" stroke-width="0.7"/>
<circle cx="124.0" cy="739.3" r="7.9" fill="#ffb2b2" stroke="#d49696" stroke-width="0.7"/>
<circle cx="175.2" cy="739.8" r="7.9" fill="#b2b2ff" stroke="#9292d0" stroke-width="0.7"/>
<circle cx="104.9" cy="750.9" r="7.9" fill="#ffb2b2" stroke="#d49696" stroke-width="0.7"/>
<circle cx="156.2" cy="750.9" r="7.9" fill="#b2b2ff" stroke="#9292d0" stroke-width="0.7"/>
<circle cx="175.2" cy="762.4" r="7.9" fill="#b2b2ff" stroke="#9292d0" stroke-width="0.7"/>
<circle cx="117.2" cy="773.9" r="7.9" fill="#b2b2ff" stroke="#9292d0" stroke-width="0.7"/>
<circle cx="156.0" cy="773.5" r="7.9" fill="#b2b2ff" stroke="#9292d0" stroke-width="0.7"/>
<circle cx="98.0" cy="785.4" r="7.9" fill="#b2b2ff" stroke="#9292d0" stroke-width="0.7"/>
<circle cx="136.5" cy="785.6" r="7.9" fill="#b2b2ff" stroke="#9292d0" stroke-width="0.7"/>
<circle cx="175.2" cy="785.5" r="7.9" fill="#b2b2ff" stroke="#9292d0" stroke-width="0.7"/>
<circle cx="117.2" cy="796.3" r="7.9" fill="#b2b2ff" stroke="#9292d0" stroke-width="0.7"/>
<circle cx="155.9" cy="797.1" r="7.9" fill="#b2b2ff" stroke="#9292d0" stroke-width="0.7"/>
<circle cx="194.0" cy="751.1" r="7.9" fill="#b2b2ff" stroke="#9292d0" stroke-width="0.7"/>
<circle cx="213.2" cy="762.8" r="7.9" fill="#b2b2ff" stroke="#9292d0" stroke-width="0.7"/>
<circle cx="232.6" cy="774.1" r="7.9" fill="#b2b2ff" stroke="#9292d0" stroke-width="0.7"/>
<circle cx="252.0" cy="785.6" r="7.9" fill="#b2b2ff" stroke="#9292d0" stroke-width="0.7"/>
<circle cx="200.9" cy="785.1" r="7.9" fill="#ffb2b2" stroke="#d49696" stroke-width="0.7"/>
<circle cx="220.0" cy="796.6" r="7.9" fill="#ffb2b2" stroke="#d49696" stroke-width="0.7"/>
<circle cx="271.2" cy="797.1" r="7.9" fill="#b2b2ff" stroke="#9292d0" stroke-width="0.7"/>
<polygon points="193.2,638.8 191.8,638.1 192.0,636.1 191.9,634.5 192.4,632.6 193.7,630.3 195.3,632.0 196.9,631.6 198.5,632.5 199.0,634.8 196.9,636.5 195.8,637.6 194.6,640.4" fill="#0606ee"/><polygon points="193.6,637.8 192.9,636.4 193.2,634.9 193.5,633.2 194.9,632.9 196.3,633.0 196.6,634.6 196.3,636.3 195.0,637.0" fill="#0058d8"/><polygon points="194.1,636.6 193.7,635.7 193.7,634.7 194.3,633.8 195.2,633.7 195.6,634.5 195.6,635.5 195.0,636.3" fill="#00a4a4"/>
<polygon points="216.6,648.6 216.6,650.5 214.8,651.5 212.7,649.5 210.6,649.5 208.8,648.1 210.3,646.6 208.9,644.4 211.6,644.8 212.9,643.6 215.0,644.3 216.8,645.5 216.8,647.3" fill="#0606ee"/><polygon points="215.4,648.1 214.5,649.0 213.0,649.0 211.4,648.3 211.0,646.9 211.4,645.8 212.8,645.7 214.3,645.7 215.4,646.8" fill="#0058d8"/><polygon points="214.5,647.7 213.9,648.4 212.8,648.3 212.0,647.5 212.0,646.7 212.6,646.1 213.6,646.3 214.3,646.9" fill="#00a4a4"/>
<polygon points="233.3,662.3 231.9,660.9 230.1,661.2 230.2,658.8 228.7,656.9 229.3,654.8 231.0,654.0 232.5,655.0 234.0,654.5 235.0,656.2 236.7,658.0 234.8,659.5 235.2,662.3" fill="#0606ee"/><polygon points="233.0,660.9 231.6,660.3 230.6,658.9 231.0,657.3 231.3,655.5 232.7,655.7 234.0,656.3 234.6,658.1 233.8,659.4" fill="#0058d8"/><polygon points="232.8,659.6 231.8,659.3 231.6,658.2 231.6,657.2 232.2,656.5 233.0,657.0 233.7,657.8 233.4,658.9" fill="#00a4a4"/>
<polygon points="252.5,675.1 251.3,672.7 250.2,671.7 249.3,670.1 249.8,668.3 251.0,667.3 251.9,666.3 253.1,666.3 255.3,665.5 255.9,667.9 256.5,670.3 254.6,671.6 254.3,674.2" fill="#0606ee"/><polygon points="252.5,671.7 251.3,671.5 250.6,670.1 251.0,668.5 251.8,667.0 253.2,667.3 254.1,668.4 254.5,670.1 253.5,671.2" fill="#0058d8"/><polygon points="252.5,671.3 251.7,670.7 251.5,669.6 251.7,668.5 252.5,668.3 253.4,668.5 253.6,669.6 253.2,670.6" fill="#00a4a4"/>
<polygon points="275.9,706.9 273.4,706.7 272.4,708.6 270.6,706.8 268.5,706.2 266.5,704.5 267.4,702.7 268.1,701.1 270.2,701.2 271.8,702.0 273.1,702.6 274.3,703.6 276.0,705.1" fill="#0606ee"/><polygon points="273.6,705.5 272.6,706.3 271.0,706.3 270.1,704.9 269.6,703.7 269.9,702.5 271.5,702.7 272.7,703.3 273.7,704.3" fill="#0058d8"/><polygon points="272.7,705.0 272.1,705.4 271.1,705.1 270.3,704.4 270.4,703.5 271.2,703.2 272.2,703.4 272.9,704.2" fill="#00a4a4"/>
<polygon points="253.8,718.5 252.7,719.0 251.3,720.1 249.1,719.5 247.6,717.5 247.8,715.6 248.4,714.2 249.7,713.8 250.5,712.1 252.4,712.8 253.8,714.4 255.4,716.0 255.1,717.7" fill="#0606ee"/><polygon points="253.4,718.2 252.0,718.5 250.6,717.6 249.2,716.5 249.7,715.3 250.2,714.2 251.6,714.3 252.8,715.3 253.2,716.6" fill="#0058d8"/><polygon points="252.5,717.3 251.6,717.3 250.7,717.0 250.0,716.0 250.5,715.3 251.2,715.1 252.2,715.4 252.7,716.4" fill="#00a4a4"/>
<polygon points="236.0,730.1 234.9,731.0 233.2,730.6 231.2,731.9 229.3,730.2 228.3,728.3 230.0,727.1 228.9,724.6 230.8,724.0 233.0,724.8 235.2,725.2 236.1,727.1 236.1,728.7" fill="#0606ee"/><polygon points="234.5,729.2 233.6,729.8 232.3,729.5 231.0,728.8 230.3,727.4 231.0,726.3 232.5,725.9 234.1,726.7 234.7,728.1" fill="#0058d8"/><polygon points="234.0,728.9 233.2,729.3 232.1,729.1 231.5,728.2 231.6,727.4 232.2,726.9 233.4,727.1 233.9,728.0" fill="#00a4a4"/>
<polygon points="274.3,729.3 273.6,731.1 271.5,731.4 269.5,729.7 268.9,727.6 267.1,725.6 268.8,724.5 269.9,723.7 271.0,721.9 273.1,723.3 274.8,724.7 275.8,726.7 276.7,729.0" fill="#0606ee"/><polygon points="273.4,728.5 272.3,729.1 270.7,728.4 269.6,726.9 269.9,725.5 270.6,724.5 272.1,724.7 273.3,725.9 273.7,727.2" fill="#0058d8"/><polygon points="272.8,727.8 271.9,727.8 270.9,727.6 270.7,726.5 271.0,725.8 271.7,725.6 272.7,725.9 273.0,726.9" fill="#00a4a4"/>
<polygon points="217.4,738.2 216.5,739.7 215.0,740.9 212.7,741.3 211.2,739.6 208.9,739.4 208.7,737.7 207.7,736.0 209.1,734.5 211.2,733.5 213.3,735.3 216.1,734.7 217.7,736.3" fill="#0606ee"/><polygon points="215.4,737.9 214.0,738.7 212.8,739.1 211.5,738.7 210.7,737.8 210.2,736.5 211.5,735.6 213.3,735.8 214.9,736.5" fill="#0058d8"/><polygon points="214.1,737.7 213.5,738.4 212.5,738.5 211.7,738.1 211.1,737.3 211.8,736.7 212.8,736.5 213.7,736.9" fill="#00a4a4"/>
<polygon points="254.2,742.5 252.3,742.3 250.7,741.9 248.3,741.9 247.8,739.4 246.6,737.3 247.6,735.7 249.7,736.1 250.8,735.1 252.5,735.7 254.5,736.8 254.4,738.9 255.2,741.0" fill="#0606ee"/><polygon points="252.7,740.6 251.4,740.6 249.9,740.4 249.5,738.8 249.0,737.2 250.3,736.9 251.5,737.2 252.6,738.0 253.4,739.5" fill="#0058d8"/><polygon points="252.2,740.0 251.2,739.8 250.3,739.4 249.9,738.4 250.1,737.5 251.1,737.6 252.0,738.0 252.3,739.0" fill="#00a4a4"/>
<polygon points="268.1,751.1 268.4,749.8 268.5,747.9 270.7,747.3 272.5,748.0 274.8,747.5 274.7,749.3 276.8,750.4 275.7,752.2 274.1,753.6 271.8,753.9 270.0,753.2 268.5,752.4" fill="#0606ee"/><polygon points="269.5,750.8 269.4,749.5 271.1,749.0 272.8,748.4 273.4,749.6 273.8,750.6 273.0,751.6 271.6,752.5 270.1,751.9" fill="#0058d8"/><polygon points="270.4,750.7 270.5,749.8 271.6,749.4 272.6,749.5 273.2,750.2 273.0,751.0 271.9,751.6 270.8,751.4" fill="#00a4a4"/>
<polygon points="275.3,775.5 273.6,776.5 271.7,777.1 269.8,775.5 268.0,774.9 266.1,773.5 266.4,771.7 268.1,771.0 268.9,769.7 270.7,768.8 272.3,770.9 273.4,772.1 274.2,773.4" fill="#0606ee"/><polygon points="272.9,774.2 271.9,775.2 270.3,774.5 269.1,773.7 268.6,772.6 269.1,771.5 270.3,771.1 271.7,771.8 272.7,772.9" fill="#0058d8"/><polygon points="271.8,773.6 271.3,774.3 270.1,774.0 269.6,773.2 269.2,772.3 270.2,772.0 271.1,772.1 272.1,772.8" fill="#00a4a4"/>
<path d="M194.3 658.1L195.5 661.7L197.7 665.1" class="ln" stroke="#080808" stroke-width="3.4"/>
<polygon points="203.0,669.6 201.9,672.1 200.0,673.1 198.4,672.8 196.5,672.8 196.5,670.2 196.4,668.2 196.9,666.0 198.6,665.4 200.1,664.3 202.1,664.5 202.9,666.9" fill="#4a0818"/><polygon points="201.1,669.5 200.7,670.7 199.5,671.1 198.5,670.5 197.8,669.5 198.4,668.4 199.5,667.7 200.8,668.2" fill="#a86870"/>
<path d="M222.0 681.7L226.8 681.5" class="ln" stroke="#3a18c0" stroke-width="2.6"/>
<polygon points="222.9,681.7 222.3,683.6 220.7,685.1 218.7,684.7 217.3,683.5 215.5,682.4 215.1,680.1 216.3,678.1 218.1,677.0 220.3,676.5 222.1,677.8 223.2,679.6" fill="#4410b0"/><polygon points="220.9,681.1 220.4,682.1 219.4,682.7 218.5,682.0 217.9,681.1 218.2,679.9 219.4,679.5 220.5,680.0" fill="#5078b0"/>
<polygon points="273.6,681.2 273.7,682.8 272.4,684.2 270.4,685.4 268.1,685.0 265.6,684.7 263.5,683.3 265.5,681.3 265.1,679.4 267.0,677.8 269.6,678.2 271.9,678.3 274.8,678.9" fill="#7a0058"/><polygon points="271.1,681.6 270.9,682.5 270.0,682.7 269.0,682.6 268.5,681.6 269.1,680.7 270.0,680.5 270.9,680.7" fill="#e098c4"/>
<path d="M195.7 682.7L196.1 686.9" class="ln" stroke="#8a00a0" stroke-width="2.8"/>
<path d="M196.5 687.9L199.1 693.4L198.3 696.9" class="ln" stroke="#c40060" stroke-width="5.2"/>
<path d="M197.5 697.9L195.3 701.3L194.5 703.7" class="ln" stroke="#8a00a0" stroke-width="3.4"/>
<path d="M244.2 692.7L250.6 693.1" class="ln" stroke="#0c5878" stroke-width="4.4"/>
<polygon points="244.7,692.9 244.7,695.0 242.9,696.2 241.1,697.3 238.8,697.8 237.1,696.2 236.1,694.6 234.1,692.9 236.6,691.4 236.8,689.3 239.0,689.1 241.2,688.2 242.2,690.4 245.4,690.6" fill="#087a28"/><polygon points="242.3,692.9 241.5,693.8 240.2,694.3 238.7,693.9 238.4,692.9 238.7,691.9 240.2,691.4 241.9,691.7" fill="#40b858"/>
<path d="M216.8 709.9L214.2 713.3L212.4 715.5" class="ln" stroke="#880088" stroke-width="4.0"/>
<polygon points="222.6,706.2 221.5,708.0 220.0,709.0 218.1,710.0 216.4,709.1 216.2,706.6 216.8,704.4 217.3,701.9 219.2,701.3 220.8,701.5 221.9,702.6 223.4,703.9" fill="#e40808"/><polygon points="220.9,705.1 220.5,706.4 219.6,706.8 218.8,706.3 218.6,705.1 218.6,703.7 219.6,703.5 220.5,703.8" fill="#ff4830"/>
<path d="M200.4 713.0L199.6 717.4L197.6 721.4" class="ln" stroke="#0a7a40" stroke-width="3.2"/>
<polygon points="198.1,721.4 199.1,723.3 198.3,725.8 197.0,727.7 195.4,729.6 193.6,729.3 191.1,730.2 191.0,727.8 190.1,725.9 192.2,723.9 193.8,722.3 195.7,722.0" fill="#106a80"/><polygon points="195.6,726.2 195.1,727.1 194.2,727.3 193.1,727.3 192.9,726.2 193.3,725.3 194.2,724.9 195.2,725.2" fill="#3888a0"/>
<path d="M235.4 753.4L237.6 756.0" class="ln" stroke="#e8e040" stroke-width="2.4"/>
<polygon points="237.3,750.6 237.1,752.6 235.6,754.1 233.6,754.2 231.4,754.5 229.8,752.8 230.5,750.6 229.9,748.5 231.4,746.8 233.6,746.4 235.2,747.8 237.3,748.4" fill="#c8b048"/><polygon points="234.3,751.0 233.7,752.1 233.0,752.6 232.0,752.6 231.7,751.0 232.2,749.8 233.0,749.4 233.7,749.8" fill="#e83868"/>
<polygon points="181.4,612.0 277.5,669.4 277.5,784.7 181.4,727.4" fill="none" stroke="#111" stroke-width="1.25"/>
</g>
<rect x="91.6" y="599.9" width="246.1" height="191.2" fill="none" stroke="#1c1c1c" stroke-width="1.0"/><path d="M99.2 599.9v2.2M140.3 599.9v2.2M181.4 599.9v2.2M222.5 599.9v2.2M263.6 599.9v2.2M304.7 599.9v2.2M337.7 621.5h-2.2M337.7 642.8h-2.2M337.7 664.0h-2.2M337.7 685.2h-2.2M337.7 706.5h-2.2M337.7 727.8h-2.2M337.7 749.0h-2.2M337.7 770.2h-2.2" stroke="#222" stroke-width="0.6" fill="none"/>
<g clip-path="url(#cqa)">
<polyline points="417.7,217.9 418.2,217.2 418.7,216.8 419.2,216.5 419.7,222.9 420.2,219.6 420.7,217.0 421.2,218.7 421.7,216.8 422.1,215.3 422.6,216.0 423.1,215.2 423.6,206.5 424.1,195.5 424.6,186.2 425.1,187.5 425.6,193.0 426.1,199.9 426.6,206.7 427.1,202.5 427.6,201.6 428.1,210.4 428.6,213.6 429.1,210.5 429.6,217.6 430.1,226.8 430.5,224.7 431.0,223.2 431.5,221.8 432.0,216.3 432.5,210.1 433.0,217.6 433.5,221.3 434.0,213.9 434.5,215.4 435.0,215.9 435.5,218.6 436.0,225.5 436.5,227.4 437.0,222.5 437.5,215.3 438.0,211.4 438.4,214.8 438.9,223.9 439.4,224.1 439.9,224.5 440.4,221.8 440.9,217.5 441.4,219.2 441.9,224.2 442.4,218.2 442.9,209.2 443.4,213.0 443.9,217.9 444.4,217.9 444.9,217.8 445.4,218.4 445.9,213.0 446.4,213.8 446.8,223.5 447.3,224.1 447.8,220.7 448.3,223.7 448.8,224.2 449.3,221.1 449.8,219.6 450.3,216.3 450.8,211.7 451.3,206.8 451.8,206.5 452.3,212.0 452.8,221.0 453.3,227.6 453.8,220.3 454.3,215.6 454.8,214.8 455.2,215.6 455.7,216.1 456.2,216.7 456.7,220.9 457.2,220.7 457.7,221.2 458.2,225.8 458.7,216.4 459.2,208.7 459.7,208.5 460.2,214.6 460.7,217.5 461.2,220.2 461.7,220.7 462.2,220.6 462.7,220.2 463.1,217.6 463.6,215.5 464.1,219.0 464.6,221.3 465.1,213.0 465.6,210.8 466.1,215.1 466.6,218.7 467.1,221.5 467.6,224.1 468.1,222.3 468.6,220.0 469.1,213.2 469.6,208.3 470.1,206.9 470.6,213.0 471.1,220.2 471.5,215.2 472.0,212.4 472.5,215.8 473.0,219.8 473.5,219.4 474.0,216.1 474.5,213.1 475.0,215.0 475.5,219.7 476.0,220.5 476.5,221.4 477.0,224.5 477.5,223.0 478.0,215.1 478.5,210.6 479.0,213.2 479.4,214.6 479.9,217.3 480.4,222.2 480.9,218.2 481.4,215.6 481.9,212.6 482.4,209.6 482.9,212.2 483.4,211.7 483.9,209.0 484.4,206.1 484.9,212.8 485.4,222.2 485.9,223.4 486.4,223.0 486.9,221.5 487.4,225.9 487.8,222.7 488.3,219.8 488.8,222.1 489.3,225.4 489.8,227.4 490.3,226.5 490.8,223.7 491.3,221.3 491.8,217.4 492.3,215.0 492.8,216.3 493.3,220.4 493.8,221.3 494.3,213.8 494.8,210.0 495.3,210.8 495.8,212.5 496.2,215.5 496.7,218.5 497.2,221.3 497.7,219.2 498.2,218.4 498.7,221.0 499.2,220.4 499.7,223.4 500.2,227.2 500.7,225.0 501.2,220.6 501.7,219.5 502.2,219.1 502.7,214.1 503.2,219.0 503.7,214.9 504.1,208.3 504.6,210.0 505.1,215.8 505.6,220.3 506.1,222.7 506.6,223.9 507.1,221.7 507.6,216.7 508.1,218.8 508.6,221.1 509.1,215.3 509.6,213.0 510.1,218.9 510.6,222.5 511.1,226.6 511.6,222.7 512.1,219.1 512.5,217.7 513.0,223.1 513.5,226.0 514.0,221.0 514.5,216.0 515.0,215.5 515.5,217.1 516.0,217.8 516.5,220.7 517.0,218.9 517.5,214.1 518.0,220.9 518.5,225.8 519.0,221.3 519.5,218.8 520.0,210.8 520.5,211.4 520.9,221.9 521.4,221.9 521.9,219.6 522.4,222.3 522.9,224.1 523.4,223.9 523.9,224.7 524.4,219.6 524.9,219.4 525.4,211.8 525.9,211.7 526.4,216.3 526.9,215.1 527.4,214.6 527.9,223.3 528.4,226.5 528.9,221.9 529.3,217.9 529.8,221.7 530.3,220.7 530.8,220.6 531.3,217.0 531.8,213.9 532.3,224.3 532.8,216.6 533.3,216.2 533.8,224.2 534.3,222.9 534.8,220.5 535.3,217.2 535.8,211.4 536.3,209.7 536.8,211.2 537.2,217.1 537.7,219.7 538.2,215.1 538.7,209.7 539.2,209.4 539.7,215.2 540.2,219.5 540.7,219.0 541.2,219.7 541.7,223.2 542.2,219.5 542.7,214.8 543.2,214.5 543.7,219.4 544.2,224.5 544.7,221.5 545.2,225.7 545.6,222.4 546.1,220.3 546.6,221.3 547.1,219.9 547.6,219.4 548.1,226.1 548.6,223.8 549.1,220.9 549.6,220.1 550.1,222.3 550.6,220.3 551.1,211.8 551.6,219.6 552.1,222.3 552.6,221.0 553.1,226.5 553.5,223.6 554.0,220.8 554.5,223.1 555.0,226.7 555.5,218.4 556.0,219.7 556.5,225.7 557.0,220.2 557.5,225.3 558.0,212.9 558.5,211.2 559.0,216.3 559.5,217.7 560.0,221.5 560.5,223.5 561.0,209.7 561.5,200.0 561.9,204.4 562.4,216.9 562.9,226.3 563.4,220.8 563.9,220.4 564.4,220.7 564.9,221.8 565.4,220.4 565.9,218.6 566.4,219.0 566.9,220.6 567.4,220.1 567.9,216.8 568.4,216.5 568.9,214.2 569.4,212.2 569.9,217.8 570.3,220.6 570.8,210.5 571.3,216.3 571.8,218.7 572.3,211.1 572.8,210.3 573.3,211.8 573.8,215.2 574.3,217.6 574.8,215.3 575.3,215.7 575.8,215.5 576.3,214.3 576.8,220.0 577.3,222.1 577.8,218.4 578.2,213.6 578.7,211.9 579.2,211.7 579.7,210.2 580.2,214.8 580.7,222.8 581.2,224.6 581.7,226.0 582.2,219.5 582.7,216.7 583.2,215.9 583.7,220.8 584.2,213.5 584.7,203.8 585.2,204.6 585.7,213.7 586.2,220.3 586.6,222.9 587.1,224.1 587.6,216.2 588.1,211.1 588.6,213.9 589.1,217.7 589.6,216.3 590.1,218.3 590.6,222.1 591.1,223.7 591.6,219.2 592.1,216.1 592.6,216.0 593.1,217.4 593.6,219.8 594.1,221.4 594.6,219.3 595.0,218.3 595.5,220.2 596.0,218.5 596.5,215.8 597.0,207.9 597.5,198.0 598.0,195.0 598.5,197.7 599.0,199.6 599.5,204.1 600.0,214.0 600.5,220.5 601.0,218.2 601.5,214.1 602.0,214.1 602.5,220.2 603.0,224.5 603.4,219.2 603.9,219.1 604.4,220.6 604.9,220.1 605.4,214.4 605.9,215.7 606.4,222.3 606.9,220.0 607.4,215.9 607.9,211.5 608.4,213.4 608.9,218.1 609.4,218.7 609.9,218.0 610.4,220.8 610.9,225.8 611.3,223.6 611.8,216.9 612.3,217.9 612.8,212.8 613.3,205.9 613.8,206.6 614.3,209.8 614.8,216.6 615.3,224.6 615.8,219.1 616.3,217.3 616.8,220.0 617.3,220.8 617.8,218.3 618.3,220.4 618.8,223.0 619.3,219.6 619.7,217.1 620.2,217.0 620.7,224.0 621.2,224.3 621.7,224.3 622.2,222.7 622.7,222.0 623.2,218.7 623.7,219.0 624.2,225.5 624.7,218.7 625.2,209.2 625.7,204.4 626.2,203.4 626.7,206.4 627.2,214.0 627.7,219.0 628.1,216.8 628.6,213.8 629.1,221.5 629.6,226.0 630.1,224.7 630.6,224.0 631.1,223.5 631.6,225.5 632.1,223.3 632.6,222.1 633.1,222.9 633.6,225.2 634.1,221.9 634.6,218.9 635.1,217.7 635.6,218.6 636.0,220.4 636.5,223.9 637.0,220.3 637.5,218.3 638.0,218.4 638.5,216.8 639.0,217.0 639.5,219.5 640.0,222.9 640.5,224.6 641.0,224.9 641.5,221.8 642.0,219.2 642.5,218.6 643.0,219.2 643.5,217.6 644.0,217.0 644.4,214.8 644.9,212.5 645.4,208.9 645.9,206.9 646.4,209.9 646.9,215.7 647.4,219.7 647.9,227.3 648.4,222.5 648.9,218.9 649.4,217.9 649.9,220.9 650.4,221.9 650.9,218.5 651.4,222.1 651.9,225.9 652.4,226.9 652.8,222.0 653.3,221.2 653.8,216.0 654.3,217.9 654.8,223.8 655.3,225.8 655.8,223.3 656.3,222.6 656.8,224.7 657.3,221.2 657.8,209.5 658.3,206.1 658.8,209.5 659.3,211.7 659.8,211.8 660.3,219.5 660.7,222.5 661.2,220.9 661.7,224.2 662.2,218.2 662.7,204.0 663.2,197.7 663.7,205.4 664.2,218.1 664.7,222.9" class="ln" stroke="#0000ff" stroke-width="1.2"/>
<polyline points="417.7,227.6 418.2,222.0 418.7,219.7 419.2,217.3 419.7,210.2 420.2,207.3 420.7,212.7 421.2,218.7 421.7,218.2 422.1,219.1 422.6,219.7 423.1,223.3 423.6,226.1 424.1,224.8 424.6,220.6 425.1,216.0 425.6,212.7 426.1,213.3 426.6,204.3 427.1,191.2 427.6,191.6 428.1,201.1 428.6,209.2 429.1,211.8 429.6,212.6 430.1,212.3 430.5,212.5 431.0,213.7 431.5,217.9 432.0,220.7 432.5,218.0 433.0,224.2 433.5,219.9 434.0,211.8 434.5,216.2 435.0,224.1 435.5,221.2 436.0,219.6 436.5,218.5 437.0,224.2 437.5,223.8 438.0,221.0 438.4,222.9 438.9,226.3 439.4,221.9 439.9,219.6 440.4,218.4 440.9,214.9 441.4,210.6 441.9,213.6 442.4,222.5 442.9,227.1 443.4,221.8 443.9,215.5 444.4,217.3 444.9,219.1 445.4,210.6 445.9,215.7 446.4,222.4 446.8,223.5 447.3,224.5 447.8,210.0 448.3,206.2 448.8,216.7 449.3,219.4 449.8,215.9 450.3,217.2 450.8,223.7 451.3,219.6 451.8,220.9 452.3,221.9 452.8,223.8 453.3,221.2 453.8,214.2 454.3,215.8 454.8,222.3 455.2,215.3 455.7,216.8 456.2,219.5 456.7,218.8 457.2,217.0 457.7,214.2 458.2,212.6 458.7,216.3 459.2,222.9 459.7,222.5 460.2,219.7 460.7,220.8 461.2,226.2 461.7,220.3 462.2,215.6 462.7,217.2 463.1,212.8 463.6,211.6 464.1,218.9 464.6,215.6 465.1,209.8 465.6,207.8 466.1,211.6 466.6,217.7 467.1,211.9 467.6,199.7 468.1,201.2 468.6,209.8 469.1,217.6 469.6,224.0 470.1,222.3 470.6,218.7 471.1,216.5 471.5,211.1 472.0,207.3 472.5,210.2 473.0,215.6 473.5,218.1 474.0,220.9 474.5,224.0 475.0,223.1 475.5,222.2 476.0,226.3 476.5,224.5 477.0,223.6 477.5,226.6 478.0,223.9 478.5,224.4 479.0,223.1 479.4,227.7 479.9,222.4 480.4,219.4 480.9,217.9 481.4,221.0 481.9,220.6 482.4,219.6 482.9,212.1 483.4,209.3 483.9,212.3 484.4,208.8 484.9,206.8 485.4,208.4 485.9,211.3 486.4,215.8 486.9,221.2 487.4,222.1 487.8,223.5 488.3,218.5 488.8,219.4 489.3,217.8 489.8,216.0 490.3,216.3 490.8,220.7 491.3,222.9 491.8,217.4 492.3,215.2 492.8,219.2 493.3,219.0 493.8,218.8 494.3,219.6 494.8,220.6 495.3,219.3 495.8,215.0 496.2,217.3 496.7,221.1 497.2,221.5 497.7,219.7 498.2,213.2 498.7,208.1 499.2,209.8 499.7,214.8 500.2,216.0 500.7,225.0 501.2,218.4 501.7,215.9 502.2,217.4 502.7,215.8 503.2,217.9 503.7,215.7 504.1,218.8 504.6,221.1 505.1,211.7 505.6,205.3 506.1,210.6 506.6,220.2 507.1,223.4 507.6,212.8 508.1,211.7 508.6,216.6 509.1,216.5 509.6,210.1 510.1,204.4 510.6,205.3 511.1,212.2 511.6,214.6 512.1,207.0 512.5,204.1 513.0,208.9 513.5,215.1 514.0,212.2 514.5,211.2 515.0,212.4 515.5,212.6 516.0,213.3 516.5,213.5 517.0,221.1 517.5,223.1 518.0,215.4 518.5,211.5 519.0,212.1 519.5,223.4 520.0,218.7 520.5,221.7 520.9,220.7 521.4,217.8 521.9,222.7 522.4,222.5 522.9,217.3 523.4,215.6 523.9,216.8 524.4,210.3 524.9,204.4 525.4,205.1 525.9,210.9 526.4,217.0 526.9,220.4 527.4,222.2 527.9,223.6 528.4,222.0 528.9,219.3 529.3,219.0 529.8,222.0 530.3,218.9 530.8,214.9 531.3,215.5 531.8,219.7 532.3,224.2 532.8,223.3 533.3,221.6 533.8,221.0 534.3,218.9 534.8,217.6 535.3,217.0 535.8,217.4 536.3,220.4 536.8,223.3 537.2,222.5 537.7,221.1 538.2,221.6 538.7,218.2 539.2,221.1 539.7,219.8 540.2,215.4 540.7,212.9 541.2,213.6 541.7,213.4 542.2,210.9 542.7,217.1 543.2,221.5 543.7,223.7 544.2,219.9 544.7,221.7 545.2,226.7 545.6,226.0 546.1,227.6 546.6,222.7 547.1,224.0 547.6,224.8 548.1,224.8 548.6,222.4 549.1,220.6 549.6,215.6 550.1,216.6 550.6,223.1 551.1,217.1 551.6,226.0 552.1,216.9 552.6,218.5 553.1,219.8 553.5,221.2 554.0,224.1 554.5,223.3 555.0,218.7 555.5,206.3 556.0,203.1 556.5,215.9 557.0,220.7 557.5,214.2 558.0,208.0 558.5,208.3 559.0,210.7 559.5,211.4 560.0,215.8 560.5,220.6 561.0,222.2 561.5,223.5 561.9,223.6 562.4,217.8 562.9,216.5 563.4,217.0 563.9,218.4 564.4,218.7 564.9,213.2 565.4,215.7 565.9,221.0 566.4,221.3 566.9,222.8 567.4,218.1 567.9,218.4 568.4,216.0 568.9,213.9 569.4,219.8 569.9,217.7 570.3,217.2 570.8,221.1 571.3,221.9 571.8,217.9 572.3,219.6 572.8,222.8 573.3,219.3 573.8,216.7 574.3,216.2 574.8,218.9 575.3,220.5 575.8,222.5 576.3,218.0 576.8,216.9 577.3,215.4 577.8,213.5 578.2,218.2 578.7,219.0 579.2,216.3 579.7,218.9 580.2,222.6 580.7,221.1 581.2,220.5 581.7,223.0 582.2,224.3 582.7,216.7 583.2,218.5 583.7,222.6 584.2,222.3 584.7,226.7 585.2,223.9 585.7,221.5 586.2,223.8 586.6,225.6 587.1,224.6 587.6,222.2 588.1,222.1 588.6,221.8 589.1,214.6 589.6,211.2 590.1,215.4 590.6,219.6 591.1,223.8 591.6,220.3 592.1,213.4 592.6,208.6 593.1,206.8 593.6,210.4 594.1,216.0 594.6,216.0 595.0,216.0 595.5,215.7 596.0,219.8 596.5,223.2 597.0,217.9 597.5,217.0 598.0,214.1 598.5,219.2 599.0,223.5 599.5,221.3 600.0,216.1 600.5,213.1 601.0,216.8 601.5,224.7 602.0,224.9 602.5,220.7 603.0,220.1 603.4,225.2 603.9,222.6 604.4,222.1 604.9,211.0 605.4,210.1 605.9,217.4 606.4,223.2 606.9,217.8 607.4,215.0 607.9,218.0 608.4,220.9 608.9,226.5 609.4,216.1 609.9,210.9 610.4,210.6 610.9,206.7 611.3,199.5 611.8,193.5 612.3,191.3 612.8,195.7 613.3,206.4 613.8,216.5 614.3,217.4 614.8,210.2 615.3,210.1 615.8,215.3 616.3,214.5 616.8,214.3 617.3,222.8 617.8,222.1 618.3,217.7 618.8,216.9 619.3,213.7 619.7,210.5 620.2,210.8 620.7,213.7 621.2,210.2 621.7,208.2 622.2,214.6 622.7,221.4 623.2,218.3 623.7,220.2 624.2,217.5 624.7,218.4 625.2,219.1 625.7,220.7 626.2,227.3 626.7,219.2 627.2,217.5 627.7,221.5 628.1,225.0 628.6,217.5 629.1,217.8 629.6,219.7 630.1,224.2 630.6,219.3 631.1,210.1 631.6,211.4 632.1,215.0 632.6,216.0 633.1,219.1 633.6,222.8 634.1,223.2 634.6,221.5 635.1,224.3 635.6,225.3 636.0,220.4 636.5,216.7 637.0,216.6 637.5,217.7 638.0,220.3 638.5,221.0 639.0,214.7 639.5,217.8 640.0,224.0 640.5,223.2 641.0,215.3 641.5,214.0 642.0,222.6 642.5,225.9 643.0,223.8 643.5,224.7 644.0,216.5 644.4,213.0 644.9,217.5 645.4,222.4 645.9,220.6 646.4,221.9 646.9,218.2 647.4,215.6 647.9,216.5 648.4,213.1 648.9,211.3 649.4,216.3 649.9,225.7 650.4,216.5 650.9,212.6 651.4,218.3 651.9,223.0 652.4,223.7 652.8,216.7 653.3,209.3 653.8,211.2 654.3,219.4 654.8,226.5 655.3,215.7 655.8,209.0 656.3,213.1 656.8,220.9 657.3,214.9 657.8,217.8 658.3,226.7 658.8,219.1 659.3,218.0 659.8,218.3 660.3,217.6 660.7,221.3 661.2,222.1 661.7,217.1 662.2,213.5 662.7,215.9 663.2,226.5 663.7,220.2 664.2,215.5 664.7,216.4" class="ln" stroke="#0000ff" stroke-width="1.2"/>
<polyline points="417.7,205.5 418.2,207.3 418.7,212.7 419.2,212.5 419.7,214.8 420.2,221.6 420.7,217.4 421.2,216.1 421.7,221.1 422.1,220.7 422.6,216.6 423.1,220.4 423.6,222.2 424.1,225.2 424.6,224.0 425.1,224.3 425.6,226.1 426.1,222.1 426.6,221.9 427.1,227.0 427.6,222.3 428.1,223.2 428.6,223.9 429.1,223.0 429.6,221.1 430.1,212.8 430.5,199.1 431.0,190.8 431.5,197.8 432.0,204.6 432.5,204.0 433.0,215.5 433.5,215.2 434.0,210.7 434.5,210.6 435.0,216.6 435.5,219.6 436.0,216.0 436.5,207.7 437.0,212.1 437.5,218.4 438.0,219.5 438.4,223.7 438.9,222.5 439.4,215.9 439.9,214.4 440.4,221.1 440.9,217.5 441.4,212.5 441.9,213.3 442.4,214.3 442.9,217.6 443.4,224.0 443.9,223.9 444.4,217.9 444.9,216.2 445.4,218.0 445.9,221.8 446.4,223.4 446.8,219.8 447.3,219.2 447.8,222.8 448.3,225.4 448.8,223.1 449.3,216.3 449.8,212.6 450.3,215.8 450.8,217.0 451.3,215.0 451.8,217.0 452.3,222.5 452.8,224.1 453.3,219.2 453.8,220.9 454.3,225.8 454.8,223.9 455.2,220.8 455.7,213.0 456.2,208.7 456.7,216.4 457.2,225.6 457.7,220.6 458.2,218.5 458.7,217.3 459.2,213.1 459.7,216.9 460.2,223.0 460.7,217.1 461.2,219.7 461.7,220.2 462.2,221.7 462.7,223.7 463.1,214.5 463.6,205.8 464.1,204.7 464.6,210.5 465.1,218.5 465.6,225.1 466.1,225.3 466.6,222.6 467.1,221.9 467.6,223.3 468.1,222.4 468.6,223.1 469.1,222.9 469.6,219.7 470.1,219.6 470.6,222.0 471.1,225.7 471.5,227.3 472.0,226.2 472.5,222.0 473.0,219.9 473.5,219.5 474.0,224.2 474.5,213.4 475.0,208.7 475.5,212.4 476.0,217.3 476.5,216.6 477.0,219.0 477.5,223.9 478.0,221.3 478.5,218.6 479.0,216.6 479.4,217.5 479.9,221.9 480.4,222.2 480.9,219.1 481.4,220.9 481.9,223.1 482.4,216.4 482.9,215.2 483.4,215.2 483.9,215.6 484.4,218.0 484.9,222.1 485.4,223.4 485.9,210.4 486.4,205.0 486.9,209.4 487.4,213.4 487.8,213.3 488.3,211.3 488.8,210.5 489.3,217.2 489.8,226.9 490.3,223.2 490.8,222.0 491.3,223.6 491.8,225.8 492.3,227.0 492.8,222.3 493.3,215.1 493.8,208.6 494.3,209.0 494.8,205.7 495.3,209.3 495.8,224.2 496.2,219.7 496.7,219.5 497.2,221.7 497.7,221.5 498.2,222.6 498.7,220.0 499.2,213.7 499.7,213.6 500.2,212.8 500.7,212.6 501.2,217.5 501.7,222.8 502.2,220.2 502.7,217.8 503.2,220.0 503.7,218.2 504.1,218.6 504.6,223.0 505.1,223.8 505.6,222.4 506.1,217.2 506.6,209.8 507.1,211.9 507.6,221.2 508.1,221.4 508.6,215.2 509.1,214.1 509.6,221.4 510.1,222.2 510.6,220.6 511.1,222.1 511.6,223.1 512.1,215.6 512.5,211.4 513.0,210.9 513.5,209.7 514.0,210.5 514.5,214.0 515.0,219.6 515.5,220.6 516.0,218.2 516.5,216.1 517.0,217.9 517.5,226.7 518.0,220.2 518.5,224.1 519.0,222.6 519.5,218.7 520.0,212.8 520.5,214.6 520.9,225.4 521.4,223.6 521.9,222.2 522.4,222.4 522.9,218.9 523.4,216.3 523.9,216.2 524.4,218.0 524.9,220.3 525.4,224.3 525.9,224.4 526.4,221.3 526.9,220.2 527.4,217.5 527.9,209.2 528.4,209.3 528.9,215.8 529.3,218.6 529.8,219.0 530.3,225.8 530.8,217.9 531.3,220.6 531.8,225.7 532.3,217.9 532.8,212.9 533.3,213.9 533.8,215.5 534.3,203.4 534.8,199.9 535.3,206.7 535.8,214.9 536.3,220.4 536.8,222.0 537.2,219.4 537.7,217.9 538.2,218.5 538.7,218.9 539.2,224.7 539.7,223.5 540.2,217.3 540.7,215.5 541.2,219.9 541.7,225.8 542.2,223.6 542.7,220.8 543.2,218.4 543.7,212.8 544.2,210.6 544.7,216.5 545.2,220.3 545.6,220.7 546.1,223.5 546.6,221.8 547.1,217.8 547.6,219.8 548.1,223.5 548.6,223.5 549.1,220.2 549.6,214.9 550.1,210.6 550.6,210.9 551.1,217.8 551.6,226.1 552.1,219.5 552.6,216.3 553.1,220.0 553.5,223.3 554.0,222.9 554.5,220.7 555.0,213.5 555.5,211.5 556.0,216.5 556.5,222.7 557.0,221.9 557.5,217.8 558.0,215.8 558.5,222.6 559.0,220.5 559.5,220.2 560.0,223.3 560.5,220.8 561.0,212.4 561.5,206.3 561.9,208.9 562.4,217.6 562.9,221.8 563.4,218.9 563.9,219.6 564.4,221.6 564.9,219.4 565.4,216.1 565.9,217.6 566.4,217.0 566.9,212.5 567.4,212.2 567.9,216.8 568.4,219.5 568.9,219.0 569.4,220.6 569.9,220.9 570.3,223.1 570.8,222.5 571.3,223.8 571.8,226.2 572.3,225.2 572.8,224.9 573.3,227.0 573.8,224.6 574.3,224.5 574.8,221.9 575.3,216.4 575.8,211.6 576.3,212.4 576.8,218.3 577.3,220.6 577.8,218.2 578.2,218.3 578.7,224.6 579.2,222.9 579.7,212.8 580.2,208.1 580.7,213.4 581.2,217.2 581.7,218.2 582.2,219.2 582.7,225.1 583.2,226.6 583.7,224.5 584.2,219.5 584.7,218.8 585.2,221.8 585.7,224.7 586.2,227.5 586.6,222.8 587.1,222.8 587.6,223.4 588.1,219.9 588.6,225.2 589.1,225.0 589.6,225.2 590.1,226.7 590.6,225.6 591.1,214.9 591.6,206.4 592.1,209.7 592.6,213.8 593.1,221.8 593.6,224.9 594.1,225.4 594.6,219.0 595.0,217.4 595.5,223.8 596.0,217.2 596.5,219.0 597.0,226.9 597.5,226.5 598.0,219.1 598.5,218.0 599.0,222.1 599.5,222.1 600.0,222.1 600.5,218.5 601.0,216.4 601.5,215.4 602.0,213.6 602.5,213.4 603.0,216.2 603.4,224.9 603.9,224.3 604.4,225.5 604.9,222.9 605.4,220.8 605.9,213.9 606.4,209.3 606.9,212.2 607.4,217.4 607.9,224.3 608.4,223.7 608.9,216.6 609.4,215.8 609.9,220.0 610.4,221.1 610.9,218.4 611.3,214.5 611.8,207.5 612.3,203.0 612.8,207.4 613.3,214.8 613.8,215.1 614.3,215.2 614.8,223.0 615.3,221.7 615.8,218.2 616.3,223.6 616.8,226.4 617.3,226.2 617.8,223.0 618.3,219.3 618.8,215.2 619.3,218.5 619.7,220.0 620.2,214.7 620.7,214.0 621.2,220.7 621.7,224.7 622.2,223.9 622.7,224.9 623.2,218.6 623.7,213.4 624.2,218.9 624.7,224.1 625.2,221.1 625.7,224.1 626.2,218.8 626.7,211.0 627.2,212.0 627.7,215.8 628.1,219.7 628.6,221.7 629.1,214.4 629.6,213.2 630.1,213.1 630.6,214.4 631.1,215.4 631.6,212.2 632.1,206.8 632.6,204.5 633.1,197.6 633.6,198.0 634.1,204.0 634.6,210.5 635.1,213.7 635.6,207.5 636.0,204.6 636.5,211.6 637.0,224.4 637.5,219.6 638.0,219.3 638.5,224.0 639.0,212.0 639.5,215.1 640.0,227.5 640.5,216.2 641.0,208.4 641.5,210.2 642.0,213.7 642.5,215.8 643.0,224.3 643.5,227.0 644.0,220.3 644.4,217.3 644.9,220.2 645.4,219.6 645.9,218.3 646.4,222.4 646.9,225.5 647.4,221.1 647.9,225.4 648.4,227.3 648.9,221.0 649.4,213.9 649.9,215.9 650.4,223.1 650.9,215.0 651.4,210.2 651.9,217.1 652.4,227.7 652.8,221.3 653.3,216.1 653.8,216.1 654.3,217.7 654.8,218.3 655.3,219.3 655.8,219.3 656.3,216.3 656.8,217.5 657.3,223.8 657.8,219.7 658.3,221.7 658.8,226.2 659.3,220.1 659.8,216.7 660.3,223.2 660.7,217.0 661.2,214.0 661.7,214.1 662.2,217.0 662.7,220.8 663.2,221.1 663.7,223.9 664.2,223.6 664.7,217.9" class="ln" stroke="#0000ff" stroke-width="1.2"/>
<polyline points="417.7,216.0 418.2,222.1 418.7,223.9 419.2,223.8 419.7,223.9 420.2,216.1 420.7,212.7 421.2,213.0 421.7,216.1 422.1,217.7 422.6,221.1 423.1,222.3 423.6,212.4 424.1,201.6 424.6,200.1 425.1,205.7 425.6,210.6 426.1,213.7 426.6,212.9 427.1,212.1 427.6,215.0 428.1,216.9 428.6,213.7 429.1,213.0 429.6,216.1 430.1,218.4 430.5,216.4 431.0,214.6 431.5,216.9 432.0,220.8 432.5,221.6 433.0,224.3 433.5,226.3 434.0,221.9 434.5,219.9 435.0,220.3 435.5,222.1 436.0,225.1 436.5,224.8 437.0,227.1 437.5,222.5 438.0,217.9 438.4,220.7 438.9,226.0 439.4,225.3 439.9,226.0 440.4,224.5 440.9,221.3 441.4,214.4 441.9,213.8 442.4,218.3 442.9,217.8 443.4,215.5 443.9,217.4 444.4,220.7 444.9,218.4 445.4,214.6 445.9,210.5 446.4,205.2 446.8,203.5 447.3,205.9 447.8,207.9 448.3,196.1 448.8,182.6 449.3,174.5 449.8,173.2 450.3,177.5 450.8,180.7 451.3,190.4 451.8,198.2 452.3,201.6 452.8,207.2 453.3,215.4 453.8,219.0 454.3,217.0 454.8,218.4 455.2,214.1 455.7,209.0 456.2,209.7 456.7,216.3 457.2,223.7 457.7,220.2 458.2,213.8 458.7,212.4 459.2,217.6 459.7,224.2 460.2,222.2 460.7,219.9 461.2,222.0 461.7,224.8 462.2,225.2 462.7,220.4 463.1,216.9 463.6,213.3 464.1,211.8 464.6,218.0 465.1,216.4 465.6,219.3 466.1,217.8 466.6,223.8 467.1,219.3 467.6,214.4 468.1,217.3 468.6,216.4 469.1,215.7 469.6,225.4 470.1,220.3 470.6,218.9 471.1,224.3 471.5,223.1 472.0,215.5 472.5,213.6 473.0,220.8 473.5,223.7 474.0,216.2 474.5,209.4 475.0,205.2 475.5,206.1 476.0,209.3 476.5,216.5 477.0,221.7 477.5,221.8 478.0,221.0 478.5,220.9 479.0,220.7 479.4,220.2 479.9,220.3 480.4,223.2 480.9,226.7 481.4,216.7 481.9,211.3 482.4,216.1 482.9,219.7 483.4,226.3 483.9,221.6 484.4,221.3 484.9,223.5 485.4,216.3 485.9,212.1 486.4,216.4 486.9,217.4 487.4,212.7 487.8,213.4 488.3,217.9 488.8,222.9 489.3,218.3 489.8,219.9 490.3,218.8 490.8,211.4 491.3,210.4 491.8,208.1 492.3,202.9 492.8,206.2 493.3,215.6 493.8,222.0 494.3,224.6 494.8,225.2 495.3,225.4 495.8,222.4 496.2,225.8 496.7,225.4 497.2,223.0 497.7,224.1 498.2,220.9 498.7,219.3 499.2,224.4 499.7,218.2 500.2,225.8 500.7,221.7 501.2,225.2 501.7,220.7 502.2,214.2 502.7,212.2 503.2,213.9 503.7,220.5 504.1,220.2 504.6,214.1 505.1,208.1 505.6,202.7 506.1,203.6 506.6,212.9 507.1,226.0 507.6,215.4 508.1,211.1 508.6,213.9 509.1,217.2 509.6,220.0 510.1,222.2 510.6,218.7 511.1,214.1 511.6,214.1 512.1,219.2 512.5,220.5 513.0,219.8 513.5,225.4 514.0,221.4 514.5,216.2 515.0,217.4 515.5,220.1 516.0,219.3 516.5,222.0 517.0,221.9 517.5,224.8 518.0,219.2 518.5,217.3 519.0,217.7 519.5,212.2 520.0,204.5 520.5,205.6 520.9,213.7 521.4,221.4 521.9,223.2 522.4,226.6 522.9,219.3 523.4,218.0 523.9,222.2 524.4,224.6 524.9,223.5 525.4,223.1 525.9,225.3 526.4,222.0 526.9,217.0 527.4,216.9 527.9,216.7 528.4,214.7 528.9,217.1 529.3,226.9 529.8,223.4 530.3,223.2 530.8,210.3 531.3,204.0 531.8,208.7 532.3,214.3 532.8,207.6 533.3,205.9 533.8,215.1 534.3,223.5 534.8,215.4 535.3,220.7 535.8,220.3 536.3,220.7 536.8,227.4 537.2,223.7 537.7,222.5 538.2,222.1 538.7,224.9 539.2,225.0 539.7,222.2 540.2,221.6 540.7,219.4 541.2,220.0 541.7,212.0 542.2,203.6 542.7,204.8 543.2,211.4 543.7,216.9 544.2,209.0 544.7,208.0 545.2,215.2 545.6,221.7 546.1,220.3 546.6,215.9 547.1,215.0 547.6,220.7 548.1,224.3 548.6,224.4 549.1,220.1 549.6,220.1 550.1,222.7 550.6,221.5 551.1,222.6 551.6,223.8 552.1,219.6 552.6,221.3 553.1,222.1 553.5,219.8 554.0,222.4 554.5,225.2 555.0,225.3 555.5,217.6 556.0,211.0 556.5,207.5 557.0,208.7 557.5,212.4 558.0,220.5 558.5,223.7 559.0,219.8 559.5,212.6 560.0,217.8 560.5,223.0 561.0,221.5 561.5,224.8 561.9,214.7 562.4,203.0 562.9,210.2 563.4,225.2 563.9,222.5 564.4,223.5 564.9,214.3 565.4,215.9 565.9,221.9 566.4,226.4 566.9,224.4 567.4,222.0 567.9,213.9 568.4,209.4 568.9,214.6 569.4,219.1 569.9,218.7 570.3,222.0 570.8,220.7 571.3,217.5 571.8,213.4 572.3,215.2 572.8,220.6 573.3,217.4 573.8,214.4 574.3,213.9 574.8,217.1 575.3,218.7 575.8,215.9 576.3,219.9 576.8,215.9 577.3,215.5 577.8,220.5 578.2,223.2 578.7,219.3 579.2,215.9 579.7,216.4 580.2,219.3 580.7,223.5 581.2,225.0 581.7,225.7 582.2,227.6 582.7,226.3 583.2,220.9 583.7,217.7 584.2,217.6 584.7,216.2 585.2,217.7 585.7,217.5 586.2,212.1 586.6,210.1 587.1,212.8 587.6,218.6 588.1,225.5 588.6,223.4 589.1,224.4 589.6,226.8 590.1,223.6 590.6,224.1 591.1,224.4 591.6,216.0 592.1,217.7 592.6,223.5 593.1,217.2 593.6,215.1 594.1,214.6 594.6,221.0 595.0,222.6 595.5,223.5 596.0,222.9 596.5,221.0 597.0,221.6 597.5,220.2 598.0,214.4 598.5,214.6 599.0,217.6 599.5,220.3 600.0,227.2 600.5,219.6 601.0,216.1 601.5,220.7 602.0,222.6 602.5,213.9 603.0,211.6 603.4,216.8 603.9,220.1 604.4,216.4 604.9,215.7 605.4,220.0 605.9,226.5 606.4,216.0 606.9,208.9 607.4,207.7 607.9,213.8 608.4,217.5 608.9,214.2 609.4,211.4 609.9,214.9 610.4,226.3 610.9,222.5 611.3,222.7 611.8,221.7 612.3,223.1 612.8,217.6 613.3,214.5 613.8,219.8 614.3,227.1 614.8,219.2 615.3,217.4 615.8,225.2 616.3,218.2 616.8,214.1 617.3,211.6 617.8,212.1 618.3,222.1 618.8,222.2 619.3,215.4 619.7,210.7 620.2,211.7 620.7,220.1 621.2,221.4 621.7,224.4 622.2,227.1 622.7,226.2 623.2,223.7 623.7,221.7 624.2,222.5 624.7,219.4 625.2,212.0 625.7,210.0 626.2,213.7 626.7,223.4 627.2,220.4 627.7,220.6 628.1,226.9 628.6,226.3 629.1,224.7 629.6,221.7 630.1,219.6 630.6,214.7 631.1,211.2 631.6,210.3 632.1,211.3 632.6,211.0 633.1,207.9 633.6,207.2 634.1,210.1 634.6,212.3 635.1,215.7 635.6,224.6 636.0,213.7 636.5,213.3 637.0,222.4 637.5,227.1 638.0,224.0 638.5,222.3 639.0,226.1 639.5,221.6 640.0,213.9 640.5,213.2 641.0,219.7 641.5,225.8 642.0,217.9 642.5,213.4 643.0,216.9 643.5,219.7 644.0,220.1 644.4,220.6 644.9,210.7 645.4,209.0 645.9,211.2 646.4,216.6 646.9,222.6 647.4,223.7 647.9,221.2 648.4,220.9 648.9,226.1 649.4,221.7 649.9,220.5 650.4,224.2 650.9,225.4 651.4,225.3 651.9,225.0 652.4,225.1 652.8,224.7 653.3,212.3 653.8,206.1 654.3,215.7 654.8,217.4 655.3,214.7 655.8,217.4 656.3,215.5 656.8,213.8 657.3,216.8 657.8,217.2 658.3,207.5 658.8,196.9 659.3,192.1 659.8,193.6 660.3,202.1 660.7,212.2 661.2,219.5 661.7,220.1 662.2,213.0 662.7,209.7 663.2,215.2 663.7,217.8 664.2,213.0 664.7,215.3" class="ln" stroke="#0000ff" stroke-width="1.2"/>
<polyline points="417.7,200.5 418.2,197.5 418.7,201.4 419.2,212.0 419.7,220.3 420.2,221.3 420.7,219.4 421.2,221.2 421.7,224.0 422.1,227.7 422.6,221.5 423.1,219.2 423.6,218.3 424.1,213.3 424.6,217.7 425.1,224.0 425.6,220.9 426.1,218.1 426.6,212.4 427.1,217.3 427.6,224.9 428.1,222.2 428.6,215.7 429.1,211.1 429.6,213.5 430.1,220.5 430.5,223.2 431.0,219.4 431.5,213.3 432.0,216.8 432.5,219.1 433.0,216.9 433.5,220.9 434.0,223.3 434.5,218.9 435.0,218.2 435.5,221.0 436.0,226.1 436.5,222.3 437.0,223.0 437.5,224.8 438.0,223.8 438.4,219.4 438.9,218.3 439.4,224.1 439.9,220.4 440.4,211.4 440.9,209.4 441.4,214.2 441.9,222.0 442.4,220.5 442.9,212.4 443.4,212.0 443.9,219.4 444.4,221.1 444.9,220.7 445.4,223.0 445.9,219.4 446.4,221.6 446.8,222.1 447.3,217.9 447.8,224.4 448.3,220.3 448.8,214.4 449.3,217.3 449.8,223.3 450.3,217.3 450.8,221.1 451.3,224.6 451.8,219.3 452.3,212.7 452.8,213.0 453.3,222.0 453.8,223.2 454.3,212.6 454.8,201.7 455.2,201.2 455.7,199.4 456.2,197.3 456.7,199.9 457.2,195.2 457.7,200.9 458.2,214.4 458.7,222.6 459.2,216.2 459.7,211.9 460.2,212.8 460.7,219.4 461.2,224.0 461.7,223.8 462.2,221.2 462.7,218.8 463.1,220.9 463.6,227.8 464.1,220.5 464.6,216.4 465.1,216.2 465.6,221.4 466.1,227.3 466.6,225.2 467.1,219.4 467.6,219.7 468.1,224.6 468.6,221.9 469.1,221.5 469.6,220.7 470.1,225.8 470.6,219.2 471.1,216.8 471.5,218.8 472.0,220.3 472.5,221.3 473.0,221.1 473.5,221.2 474.0,225.0 474.5,219.4 475.0,213.1 475.5,214.6 476.0,220.3 476.5,225.2 477.0,225.2 477.5,224.2 478.0,214.3 478.5,209.3 479.0,211.5 479.4,217.3 479.9,221.3 480.4,205.6 480.9,204.6 481.4,214.6 481.9,220.7 482.4,218.5 482.9,219.6 483.4,221.5 483.9,221.5 484.4,226.0 484.9,220.4 485.4,218.0 485.9,219.0 486.4,215.7 486.9,212.5 487.4,210.6 487.8,211.5 488.3,214.2 488.8,221.4 489.3,227.4 489.8,224.0 490.3,220.5 490.8,217.5 491.3,212.3 491.8,210.5 492.3,215.8 492.8,218.0 493.3,213.6 493.8,212.2 494.3,216.5 494.8,215.1 495.3,217.0 495.8,221.4 496.2,222.8 496.7,220.2 497.2,217.1 497.7,223.9 498.2,224.5 498.7,220.5 499.2,223.4 499.7,215.5 500.2,216.8 500.7,225.7 501.2,225.7 501.7,223.0 502.2,217.3 502.7,216.3 503.2,215.8 503.7,212.4 504.1,215.8 504.6,223.6 505.1,221.0 505.6,220.3 506.1,217.8 506.6,217.2 507.1,216.0 507.6,215.0 508.1,217.9 508.6,216.6 509.1,213.9 509.6,212.5 510.1,213.7 510.6,214.1 511.1,215.0 511.6,218.7 512.1,218.9 512.5,220.0 513.0,220.7 513.5,220.8 514.0,224.0 514.5,221.8 515.0,220.8 515.5,218.1 516.0,218.0 516.5,216.3 517.0,207.3 517.5,208.7 518.0,218.2 518.5,225.8 519.0,225.8 519.5,225.5 520.0,221.4 520.5,220.3 520.9,218.8 521.4,215.2 521.9,214.6 522.4,214.8 522.9,216.1 523.4,221.7 523.9,221.4 524.4,220.5 524.9,222.4 525.4,220.9 525.9,216.8 526.4,216.6 526.9,219.6 527.4,221.9 527.9,220.0 528.4,215.2 528.9,213.4 529.3,209.0 529.8,208.6 530.3,218.2 530.8,222.6 531.3,221.9 531.8,220.5 532.3,218.1 532.8,216.2 533.3,218.0 533.8,222.7 534.3,225.0 534.8,224.4 535.3,220.2 535.8,224.1 536.3,221.0 536.8,217.6 537.2,216.0 537.7,213.3 538.2,216.7 538.7,215.3 539.2,208.5 539.7,211.2 540.2,216.6 540.7,220.8 541.2,223.9 541.7,226.3 542.2,224.2 542.7,217.2 543.2,215.0 543.7,216.2 544.2,220.0 544.7,223.7 545.2,217.5 545.6,219.4 546.1,220.4 546.6,217.0 547.1,220.6 547.6,224.0 548.1,217.8 548.6,220.7 549.1,224.3 549.6,219.5 550.1,218.7 550.6,217.6 551.1,220.7 551.6,224.1 552.1,220.7 552.6,221.2 553.1,222.2 553.5,220.3 554.0,219.2 554.5,220.2 555.0,219.7 555.5,217.2 556.0,215.0 556.5,220.5 557.0,221.9 557.5,218.9 558.0,216.7 558.5,217.9 559.0,222.6 559.5,221.9 560.0,221.2 560.5,225.6 561.0,225.1 561.5,226.2 561.9,218.4 562.4,212.2 562.9,213.5 563.4,220.4 563.9,224.2 564.4,221.8 564.9,225.4 565.4,222.9 565.9,216.1 566.4,213.2 566.9,205.7 567.4,202.5 567.9,209.8 568.4,215.5 568.9,217.0 569.4,222.4 569.9,220.9 570.3,215.3 570.8,218.1 571.3,221.6 571.8,221.3 572.3,223.4 572.8,222.9 573.3,217.6 573.8,218.1 574.3,225.0 574.8,226.5 575.3,223.5 575.8,223.9 576.3,217.3 576.8,216.3 577.3,215.6 577.8,211.7 578.2,212.7 578.7,221.1 579.2,216.6 579.7,210.0 580.2,206.3 580.7,209.6 581.2,214.3 581.7,215.8 582.2,216.9 582.7,219.0 583.2,221.3 583.7,215.9 584.2,209.9 584.7,211.2 585.2,218.2 585.7,220.8 586.2,222.3 586.6,224.1 587.1,223.2 587.6,217.4 588.1,213.2 588.6,215.4 589.1,219.5 589.6,220.5 590.1,220.6 590.6,224.0 591.1,214.8 591.6,210.5 592.1,209.7 592.6,211.1 593.1,213.9 593.6,209.5 594.1,210.5 594.6,220.9 595.0,224.7 595.5,217.9 596.0,215.2 596.5,217.2 597.0,215.6 597.5,208.7 598.0,204.3 598.5,208.1 599.0,209.9 599.5,214.6 600.0,218.5 600.5,218.8 601.0,218.4 601.5,213.7 602.0,210.7 602.5,216.0 603.0,223.6 603.4,226.5 603.9,217.9 604.4,209.8 604.9,208.3 605.4,209.3 605.9,211.6 606.4,213.8 606.9,212.4 607.4,219.1 607.9,226.6 608.4,222.3 608.9,216.3 609.4,214.3 609.9,217.8 610.4,216.6 610.9,214.8 611.3,216.6 611.8,217.7 612.3,219.7 612.8,226.5 613.3,221.3 613.8,217.1 614.3,219.2 614.8,220.4 615.3,222.4 615.8,221.2 616.3,216.1 616.8,219.8 617.3,225.5 617.8,223.7 618.3,224.6 618.8,216.6 619.3,218.2 619.7,221.0 620.2,223.8 620.7,222.6 621.2,225.2 621.7,224.8 622.2,222.3 622.7,222.9 623.2,224.0 623.7,220.6 624.2,214.8 624.7,214.6 625.2,217.7 625.7,218.5 626.2,216.2 626.7,212.4 627.2,215.8 627.7,222.6 628.1,221.1 628.6,220.6 629.1,219.4 629.6,222.8 630.1,223.7 630.6,219.4 631.1,217.9 631.6,214.0 632.1,212.0 632.6,215.4 633.1,221.8 633.6,225.9 634.1,222.0 634.6,225.7 635.1,223.4 635.6,222.9 636.0,220.4 636.5,219.6 637.0,220.1 637.5,222.8 638.0,225.2 638.5,221.4 639.0,222.1 639.5,219.2 640.0,215.7 640.5,211.8 641.0,211.8 641.5,215.7 642.0,214.3 642.5,210.0 643.0,208.6 643.5,213.9 644.0,221.2 644.4,226.8 644.9,223.7 645.4,219.4 645.9,216.1 646.4,212.2 646.9,210.0 647.4,217.2 647.9,222.9 648.4,211.4 648.9,211.3 649.4,215.2 649.9,219.1 650.4,219.8 650.9,216.5 651.4,216.4 651.9,218.6 652.4,221.7 652.8,220.7 653.3,218.0 653.8,220.1 654.3,222.7 654.8,225.5 655.3,225.6 655.8,221.6 656.3,218.6 656.8,220.1 657.3,226.9 657.8,223.3 658.3,222.6 658.8,224.2 659.3,216.7 659.8,210.6 660.3,218.4 660.7,223.8 661.2,217.1 661.7,214.9 662.2,221.5 662.7,225.5 663.2,222.8 663.7,220.9 664.2,222.9 664.7,219.2" class="ln" stroke="#0000ff" stroke-width="1.2"/>
<polyline points="417.7,220.1 418.2,224.9 418.7,221.6 419.2,216.9 419.7,219.0 420.2,226.0 420.7,218.3 421.2,215.8 421.7,220.9 422.1,223.0 422.6,222.9 423.1,223.3 423.6,222.3 424.1,223.6 424.6,222.7 425.1,218.3 425.6,212.5 426.1,211.3 426.6,214.0 427.1,220.0 427.6,220.3 428.1,218.1 428.6,220.3 429.1,223.0 429.6,223.2 430.1,220.1 430.5,216.9 431.0,219.8 431.5,225.2 432.0,224.8 432.5,225.4 433.0,219.4 433.5,211.3 434.0,212.0 434.5,213.8 435.0,215.0 435.5,218.3 436.0,222.3 436.5,223.6 437.0,217.3 437.5,215.9 438.0,215.3 438.4,211.6 438.9,215.3 439.4,222.4 439.9,222.4 440.4,223.4 440.9,220.0 441.4,214.5 441.9,213.5 442.4,217.5 442.9,221.9 443.4,227.3 443.9,216.9 444.4,211.6 444.9,214.5 445.4,209.2 445.9,209.6 446.4,217.8 446.8,221.7 447.3,222.7 447.8,213.8 448.3,207.6 448.8,206.9 449.3,216.4 449.8,227.6 450.3,227.0 450.8,222.4 451.3,217.6 451.8,217.4 452.3,218.8 452.8,223.3 453.3,217.1 453.8,211.3 454.3,213.2 454.8,218.2 455.2,220.1 455.7,215.3 456.2,215.2 456.7,226.8 457.2,217.0 457.7,226.1 458.2,220.7 458.7,223.6 459.2,222.3 459.7,211.0 460.2,204.3 460.7,200.8 461.2,195.0 461.7,194.7 462.2,198.2 462.7,199.3 463.1,201.1 463.6,204.3 464.1,213.7 464.6,221.2 465.1,225.0 465.6,224.6 466.1,219.1 466.6,214.9 467.1,215.7 467.6,213.4 468.1,208.5 468.6,210.1 469.1,214.2 469.6,215.9 470.1,216.9 470.6,219.6 471.1,218.4 471.5,212.4 472.0,214.0 472.5,219.3 473.0,212.0 473.5,208.4 474.0,209.8 474.5,210.2 475.0,212.5 475.5,221.4 476.0,219.8 476.5,218.0 477.0,223.0 477.5,224.7 478.0,224.2 478.5,222.0 479.0,217.1 479.4,218.9 479.9,224.4 480.4,225.2 480.9,223.9 481.4,216.4 481.9,213.0 482.4,216.8 482.9,221.5 483.4,218.5 483.9,214.4 484.4,210.7 484.9,211.8 485.4,217.3 485.9,218.8 486.4,220.1 486.9,221.3 487.4,224.0 487.8,224.8 488.3,218.7 488.8,220.4 489.3,224.4 489.8,222.8 490.3,214.0 490.8,212.6 491.3,215.7 491.8,219.2 492.3,219.9 492.8,221.2 493.3,220.4 493.8,216.7 494.3,217.8 494.8,225.6 495.3,226.3 495.8,223.4 496.2,220.7 496.7,220.9 497.2,216.5 497.7,209.8 498.2,206.9 498.7,212.0 499.2,214.5 499.7,208.2 500.2,208.6 500.7,212.8 501.2,217.4 501.7,219.1 502.2,216.8 502.7,219.6 503.2,222.5 503.7,215.5 504.1,213.9 504.6,218.3 505.1,219.0 505.6,213.8 506.1,212.6 506.6,217.1 507.1,222.6 507.6,217.8 508.1,221.1 508.6,225.3 509.1,226.2 509.6,221.3 510.1,219.3 510.6,222.5 511.1,221.5 511.6,217.0 512.1,211.0 512.5,212.4 513.0,221.2 513.5,225.1 514.0,225.3 514.5,224.0 515.0,222.6 515.5,224.0 516.0,221.6 516.5,222.1 517.0,227.9 517.5,226.3 518.0,218.9 518.5,211.6 519.0,213.6 519.5,217.7 520.0,219.8 520.5,218.8 520.9,214.7 521.4,218.4 521.9,223.8 522.4,219.4 522.9,208.3 523.4,203.9 523.9,201.8 524.4,203.0 524.9,213.3 525.4,223.2 525.9,222.7 526.4,222.9 526.9,224.3 527.4,220.6 527.9,220.3 528.4,222.8 528.9,224.1 529.3,223.4 529.8,224.7 530.3,223.2 530.8,218.2 531.3,216.4 531.8,223.3 532.3,221.1 532.8,212.3 533.3,211.5 533.8,213.3 534.3,215.7 534.8,220.5 535.3,224.2 535.8,217.5 536.3,218.8 536.8,217.0 537.2,207.0 537.7,201.5 538.2,211.1 538.7,220.4 539.2,220.9 539.7,223.9 540.2,223.8 540.7,216.4 541.2,213.2 541.7,213.3 542.2,216.0 542.7,218.4 543.2,215.4 543.7,217.5 544.2,219.2 544.7,222.2 545.2,227.3 545.6,223.3 546.1,217.3 546.6,216.7 547.1,220.0 547.6,211.5 548.1,214.2 548.6,225.9 549.1,216.0 549.6,205.3 550.1,200.2 550.6,202.0 551.1,210.2 551.6,216.6 552.1,215.8 552.6,221.3 553.1,219.1 553.5,215.0 554.0,217.2 554.5,222.3 555.0,221.5 555.5,209.3 556.0,210.9 556.5,221.5 557.0,217.6 557.5,210.0 558.0,210.1 558.5,215.9 559.0,221.8 559.5,222.2 560.0,217.5 560.5,209.0 561.0,206.5 561.5,211.0 561.9,218.5 562.4,223.1 562.9,219.1 563.4,223.9 563.9,220.3 564.4,217.2 564.9,217.6 565.4,219.8 565.9,217.3 566.4,208.7 566.9,202.9 567.4,207.4 567.9,220.0 568.4,223.1 568.9,223.4 569.4,222.9 569.9,225.8 570.3,222.3 570.8,218.2 571.3,217.4 571.8,219.0 572.3,214.9 572.8,210.9 573.3,206.5 573.8,204.2 574.3,209.1 574.8,218.8 575.3,219.9 575.8,218.9 576.3,216.2 576.8,218.4 577.3,220.2 577.8,217.6 578.2,220.1 578.7,218.5 579.2,218.4 579.7,217.2 580.2,215.5 580.7,223.0 581.2,225.0 581.7,220.4 582.2,217.6 582.7,222.1 583.2,222.5 583.7,218.5 584.2,215.6 584.7,221.6 585.2,221.5 585.7,216.3 586.2,217.5 586.6,222.9 587.1,222.6 587.6,215.3 588.1,210.6 588.6,213.0 589.1,216.9 589.6,224.8 590.1,222.4 590.6,223.4 591.1,224.6 591.6,218.0 592.1,217.2 592.6,221.6 593.1,225.6 593.6,224.5 594.1,221.6 594.6,214.5 595.0,215.7 595.5,217.4 596.0,217.6 596.5,218.6 597.0,221.1 597.5,223.7 598.0,223.5 598.5,213.5 599.0,207.3 599.5,212.3 600.0,217.4 600.5,217.2 601.0,218.4 601.5,220.3 602.0,221.3 602.5,215.1 603.0,214.1 603.4,225.5 603.9,219.9 604.4,222.3 604.9,224.4 605.4,221.6 605.9,222.9 606.4,221.1 606.9,221.2 607.4,225.0 607.9,216.4 608.4,207.9 608.9,207.1 609.4,215.4 609.9,222.2 610.4,220.9 610.9,226.0 611.3,219.0 611.8,216.0 612.3,217.5 612.8,220.2 613.3,222.0 613.8,216.4 614.3,217.5 614.8,221.4 615.3,225.9 615.8,223.4 616.3,216.8 616.8,208.7 617.3,210.9 617.8,225.4 618.3,217.8 618.8,215.4 619.3,212.7 619.7,209.5 620.2,209.8 620.7,220.0 621.2,224.2 621.7,221.8 622.2,220.7 622.7,219.7 623.2,216.6 623.7,214.6 624.2,215.8 624.7,215.4 625.2,218.3 625.7,222.5 626.2,219.9 626.7,219.2 627.2,218.4 627.7,216.2 628.1,213.1 628.6,214.1 629.1,217.2 629.6,220.6 630.1,221.0 630.6,212.6 631.1,207.5 631.6,211.9 632.1,216.3 632.6,214.7 633.1,220.9 633.6,224.5 634.1,221.8 634.6,220.0 635.1,219.2 635.6,222.9 636.0,223.3 636.5,219.5 637.0,223.8 637.5,227.4 638.0,224.3 638.5,220.4 639.0,220.3 639.5,221.5 640.0,214.6 640.5,211.2 641.0,213.3 641.5,218.9 642.0,216.5 642.5,210.5 643.0,209.8 643.5,215.2 644.0,222.9 644.4,217.1 644.9,213.2 645.4,218.4 645.9,222.8 646.4,220.3 646.9,214.9 647.4,218.4 647.9,224.4 648.4,224.4 648.9,221.2 649.4,226.1 649.9,219.5 650.4,212.5 650.9,209.6 651.4,211.0 651.9,215.9 652.4,214.3 652.8,210.9 653.3,211.5 653.8,216.0 654.3,222.5 654.8,223.2 655.3,223.7 655.8,221.5 656.3,218.2 656.8,220.0 657.3,221.4 657.8,216.4 658.3,216.0 658.8,218.8 659.3,222.7 659.8,226.5 660.3,221.4 660.7,211.7 661.2,215.1 661.7,224.6 662.2,225.3 662.7,222.7 663.2,224.4 663.7,223.7 664.2,222.8 664.7,224.7" class="ln" stroke="#0000ff" stroke-width="1.2"/>
<polyline points="417.7,222.4 418.2,218.9 418.7,218.8 419.2,217.6 419.7,216.8 420.2,217.0 420.7,219.0 421.2,222.4 421.7,217.7 422.1,212.0 422.6,210.1 423.1,213.5 423.6,222.0 424.1,224.1 424.6,214.1 425.1,213.8 425.6,221.8 426.1,221.6 426.6,221.2 427.1,226.0 427.6,218.6 428.1,217.0 428.6,221.3 429.1,226.7 429.6,222.8 430.1,226.0 430.5,216.7 431.0,210.2 431.5,211.7 432.0,218.3 432.5,225.5 433.0,227.3 433.5,218.6 434.0,211.5 434.5,214.2 435.0,219.1 435.5,223.2 436.0,222.5 436.5,218.5 437.0,223.3 437.5,226.7 438.0,223.4 438.4,216.5 438.9,215.9 439.4,219.3 439.9,223.3 440.4,220.2 440.9,213.4 441.4,214.4 441.9,220.0 442.4,223.2 442.9,226.1 443.4,220.8 443.9,219.0 444.4,217.4 444.9,219.2 445.4,222.6 445.9,220.8 446.4,223.8 446.8,223.3 447.3,219.7 447.8,217.5 448.3,219.7 448.8,218.7 449.3,217.9 449.8,221.7 450.3,220.8 450.8,214.6 451.3,214.5 451.8,218.0 452.3,218.0 452.8,216.9 453.3,220.0 453.8,218.5 454.3,220.0 454.8,226.8 455.2,225.0 455.7,221.9 456.2,215.7 456.7,220.8 457.2,222.3 457.7,220.6 458.2,220.7 458.7,221.1 459.2,222.6 459.7,221.2 460.2,221.8 460.7,220.4 461.2,216.4 461.7,218.6 462.2,220.2 462.7,223.2 463.1,223.7 463.6,219.5 464.1,220.8 464.6,221.8 465.1,217.0 465.6,216.2 466.1,216.7 466.6,218.1 467.1,220.2 467.6,221.4 468.1,218.9 468.6,213.7 469.1,211.8 469.6,211.6 470.1,209.5 470.6,200.9 471.1,197.0 471.5,200.9 472.0,206.1 472.5,196.5 473.0,189.2 473.5,188.0 474.0,193.8 474.5,207.1 475.0,214.8 475.5,220.5 476.0,218.6 476.5,217.7 477.0,221.8 477.5,224.4 478.0,218.7 478.5,210.3 479.0,215.1 479.4,220.8 479.9,210.8 480.4,209.5 480.9,217.0 481.4,221.0 481.9,224.7 482.4,222.3 482.9,214.7 483.4,209.3 483.9,209.3 484.4,215.1 484.9,220.7 485.4,219.8 485.9,220.8 486.4,227.1 486.9,223.5 487.4,221.5 487.8,225.5 488.3,221.0 488.8,219.4 489.3,224.1 489.8,226.2 490.3,219.6 490.8,215.4 491.3,215.8 491.8,214.9 492.3,222.7 492.8,223.6 493.3,220.2 493.8,219.5 494.3,225.4 494.8,224.8 495.3,223.0 495.8,220.8 496.2,217.7 496.7,212.6 497.2,212.4 497.7,214.1 498.2,206.2 498.7,200.1 499.2,204.9 499.7,218.4 500.2,226.3 500.7,221.6 501.2,215.4 501.7,214.7 502.2,220.5 502.7,221.5 503.2,215.9 503.7,210.7 504.1,213.8 504.6,223.0 505.1,218.5 505.6,220.0 506.1,226.0 506.6,220.0 507.1,205.7 507.6,200.2 508.1,208.9 508.6,216.3 509.1,219.4 509.6,223.5 510.1,221.3 510.6,223.8 511.1,226.3 511.6,218.3 512.1,212.8 512.5,217.0 513.0,225.4 513.5,218.5 514.0,222.2 514.5,225.6 515.0,222.4 515.5,222.6 516.0,223.1 516.5,220.6 517.0,216.2 517.5,214.4 518.0,215.9 518.5,220.5 519.0,220.9 519.5,216.7 520.0,219.6 520.5,224.7 520.9,217.3 521.4,217.1 521.9,218.3 522.4,218.6 522.9,219.3 523.4,219.2 523.9,226.4 524.4,216.7 524.9,204.0 525.4,197.3 525.9,203.3 526.4,219.8 526.9,225.2 527.4,222.1 527.9,218.5 528.4,217.0 528.9,224.0 529.3,218.4 529.8,210.5 530.3,204.5 530.8,207.2 531.3,217.9 531.8,218.2 532.3,210.9 532.8,213.2 533.3,215.8 533.8,216.6 534.3,217.4 534.8,222.1 535.3,217.7 535.8,210.4 536.3,211.7 536.8,219.7 537.2,215.6 537.7,217.1 538.2,216.6 538.7,207.5 539.2,209.4 539.7,216.9 540.2,219.9 540.7,219.4 541.2,222.3 541.7,225.9 542.2,220.7 542.7,215.1 543.2,210.9 543.7,211.3 544.2,210.7 544.7,205.0 545.2,200.1 545.6,203.6 546.1,209.5 546.6,213.8 547.1,216.8 547.6,220.3 548.1,223.9 548.6,220.1 549.1,216.8 549.6,215.9 550.1,216.5 550.6,216.1 551.1,214.2 551.6,215.2 552.1,215.9 552.6,208.5 553.1,202.5 553.5,205.4 554.0,218.7 554.5,221.2 555.0,213.9 555.5,213.4 556.0,209.4 556.5,209.6 557.0,213.7 557.5,214.9 558.0,216.8 558.5,222.9 559.0,220.5 559.5,218.1 560.0,217.4 560.5,217.7 561.0,221.5 561.5,226.4 561.9,224.8 562.4,222.1 562.9,223.5 563.4,221.8 563.9,221.2 564.4,222.3 564.9,219.8 565.4,212.8 565.9,209.9 566.4,215.3 566.9,221.5 567.4,216.8 567.9,211.3 568.4,216.6 568.9,224.4 569.4,219.9 569.9,218.7 570.3,223.3 570.8,223.1 571.3,217.8 571.8,213.7 572.3,219.7 572.8,222.7 573.3,218.2 573.8,222.7 574.3,216.4 574.8,216.6 575.3,221.2 575.8,219.2 576.3,211.2 576.8,209.7 577.3,217.8 577.8,224.6 578.2,224.8 578.7,217.1 579.2,210.3 579.7,207.1 580.2,207.4 580.7,209.8 581.2,212.2 581.7,219.1 582.2,222.2 582.7,213.3 583.2,215.3 583.7,224.0 584.2,223.4 584.7,225.9 585.2,226.2 585.7,226.8 586.2,219.3 586.6,217.7 587.1,221.7 587.6,214.0 588.1,211.8 588.6,214.8 589.1,214.7 589.6,217.7 590.1,226.5 590.6,217.5 591.1,212.9 591.6,209.8 592.1,209.2 592.6,212.6 593.1,216.4 593.6,214.3 594.1,210.8 594.6,208.6 595.0,207.8 595.5,208.9 596.0,210.2 596.5,214.9 597.0,220.6 597.5,220.5 598.0,219.6 598.5,222.5 599.0,218.3 599.5,214.1 600.0,212.7 600.5,212.3 601.0,216.9 601.5,220.7 602.0,221.5 602.5,216.5 603.0,214.3 603.4,217.2 603.9,217.0 604.4,216.8 604.9,213.4 605.4,211.6 605.9,214.6 606.4,223.3 606.9,223.6 607.4,227.5 607.9,224.2 608.4,221.6 608.9,211.9 609.4,213.7 609.9,216.4 610.4,221.4 610.9,222.8 611.3,218.9 611.8,217.8 612.3,223.7 612.8,225.5 613.3,226.7 613.8,225.1 614.3,223.5 614.8,225.3 615.3,218.7 615.8,210.7 616.3,209.8 616.8,214.6 617.3,218.3 617.8,216.8 618.3,217.8 618.8,217.5 619.3,215.4 619.7,218.2 620.2,223.1 620.7,222.0 621.2,219.7 621.7,220.1 622.2,221.6 622.7,225.6 623.2,221.4 623.7,221.9 624.2,222.0 624.7,219.1 625.2,218.9 625.7,212.8 626.2,211.2 626.7,214.6 627.2,215.2 627.7,219.2 628.1,221.4 628.6,216.8 629.1,219.6 629.6,221.1 630.1,218.4 630.6,212.5 631.1,214.4 631.6,220.3 632.1,225.5 632.6,221.5 633.1,215.6 633.6,220.7 634.1,223.2 634.6,221.0 635.1,224.3 635.6,224.2 636.0,222.5 636.5,215.3 637.0,207.3 637.5,208.2 638.0,212.8 638.5,214.1 639.0,215.3 639.5,216.6 640.0,217.9 640.5,218.6 641.0,217.5 641.5,217.4 642.0,217.6 642.5,220.3 643.0,225.8 643.5,220.3 644.0,220.3 644.4,216.9 644.9,220.5 645.4,223.7 645.9,226.0 646.4,225.4 646.9,222.0 647.4,220.4 647.9,222.7 648.4,223.0 648.9,219.4 649.4,219.6 649.9,224.5 650.4,209.4 650.9,209.0 651.4,217.2 651.9,225.0 652.4,225.5 652.8,225.4 653.3,223.2 653.8,218.6 654.3,215.9 654.8,214.1 655.3,214.5 655.8,212.2 656.3,214.1 656.8,222.6 657.3,218.3 657.8,215.4 658.3,221.4 658.8,217.3 659.3,220.7 659.8,219.7 660.3,216.4 660.7,218.9 661.2,216.4 661.7,213.5 662.2,214.3 662.7,221.9 663.2,222.2 663.7,219.1 664.2,220.7 664.7,214.7" class="ln" stroke="#0000ff" stroke-width="1.2"/>
<polyline points="417.7,219.7 418.2,218.6 418.7,209.3 419.2,207.9 419.7,213.9 420.2,214.6 420.7,207.1 421.2,206.4 421.7,218.1 422.1,227.3 422.6,218.5 423.1,209.8 423.6,212.9 424.1,218.9 424.6,219.0 425.1,217.0 425.6,221.1 426.1,214.0 426.6,208.6 427.1,211.0 427.6,218.8 428.1,223.2 428.6,222.9 429.1,221.2 429.6,218.4 430.1,220.3 430.5,225.4 431.0,223.5 431.5,219.4 432.0,218.9 432.5,224.6 433.0,224.0 433.5,223.9 434.0,224.2 434.5,220.0 435.0,217.9 435.5,218.8 436.0,212.7 436.5,209.0 437.0,209.8 437.5,209.5 438.0,211.9 438.4,210.8 438.9,210.3 439.4,209.6 439.9,204.3 440.4,204.0 440.9,211.2 441.4,218.6 441.9,216.6 442.4,205.9 442.9,199.3 443.4,201.7 443.9,209.9 444.4,216.9 444.9,221.1 445.4,225.3 445.9,220.9 446.4,215.7 446.8,214.6 447.3,220.7 447.8,220.8 448.3,218.3 448.8,219.0 449.3,215.7 449.8,216.4 450.3,221.7 450.8,222.1 451.3,218.2 451.8,215.4 452.3,213.2 452.8,211.3 453.3,211.1 453.8,212.0 454.3,212.4 454.8,211.5 455.2,212.8 455.7,221.3 456.2,220.0 456.7,215.1 457.2,214.2 457.7,222.8 458.2,222.7 458.7,224.4 459.2,225.3 459.7,222.7 460.2,220.8 460.7,223.2 461.2,220.4 461.7,222.1 462.2,219.5 462.7,217.6 463.1,216.9 463.6,211.8 464.1,210.7 464.6,215.4 465.1,216.4 465.6,216.8 466.1,224.2 466.6,224.8 467.1,220.5 467.6,221.1 468.1,227.2 468.6,223.6 469.1,225.4 469.6,224.0 470.1,224.7 470.6,226.4 471.1,222.4 471.5,214.3 472.0,216.7 472.5,222.4 473.0,217.7 473.5,223.6 474.0,220.2 474.5,216.5 475.0,215.3 475.5,208.8 476.0,202.2 476.5,197.6 477.0,198.7 477.5,205.8 478.0,210.3 478.5,214.5 479.0,224.7 479.4,220.8 479.9,217.4 480.4,215.5 480.9,217.9 481.4,223.1 481.9,224.4 482.4,221.4 482.9,218.7 483.4,220.4 483.9,225.0 484.4,222.6 484.9,220.9 485.4,221.8 485.9,220.0 486.4,214.9 486.9,220.0 487.4,226.6 487.8,223.3 488.3,222.2 488.8,223.8 489.3,220.6 489.8,221.6 490.3,224.4 490.8,226.1 491.3,225.1 491.8,223.8 492.3,221.0 492.8,220.7 493.3,221.0 493.8,224.6 494.3,217.7 494.8,211.1 495.3,213.8 495.8,222.4 496.2,225.3 496.7,223.9 497.2,222.3 497.7,217.2 498.2,210.1 498.7,210.4 499.2,217.0 499.7,220.0 500.2,217.2 500.7,214.1 501.2,213.0 501.7,213.6 502.2,218.2 502.7,226.5 503.2,222.0 503.7,218.4 504.1,219.1 504.6,220.7 505.1,222.0 505.6,218.5 506.1,218.4 506.6,214.3 507.1,213.8 507.6,221.2 508.1,225.4 508.6,223.9 509.1,215.4 509.6,210.0 510.1,209.5 510.6,216.0 511.1,223.0 511.6,222.6 512.1,219.7 512.5,225.9 513.0,222.4 513.5,222.8 514.0,215.0 514.5,209.0 515.0,213.6 515.5,221.5 516.0,222.7 516.5,219.1 517.0,218.1 517.5,224.9 518.0,218.3 518.5,214.6 519.0,217.6 519.5,220.4 520.0,224.4 520.5,222.9 520.9,220.9 521.4,221.1 521.9,214.9 522.4,209.7 522.9,212.4 523.4,212.3 523.9,212.1 524.4,212.9 524.9,208.4 525.4,207.7 525.9,216.0 526.4,222.8 526.9,227.2 527.4,220.4 527.9,217.3 528.4,221.3 528.9,223.3 529.3,227.2 529.8,223.5 530.3,218.9 530.8,217.8 531.3,224.8 531.8,219.8 532.3,214.7 532.8,214.7 533.3,212.7 533.8,216.5 534.3,224.4 534.8,222.3 535.3,221.1 535.8,225.7 536.3,219.5 536.8,211.6 537.2,216.2 537.7,222.9 538.2,214.1 538.7,213.0 539.2,211.9 539.7,208.6 540.2,209.6 540.7,211.3 541.2,210.9 541.7,210.9 542.2,214.9 542.7,221.9 543.2,221.1 543.7,219.0 544.2,217.2 544.7,217.8 545.2,223.1 545.6,222.4 546.1,219.8 546.6,218.9 547.1,219.8 547.6,219.7 548.1,222.8 548.6,227.7 549.1,224.2 549.6,223.3 550.1,221.4 550.6,224.5 551.1,221.8 551.6,218.5 552.1,219.9 552.6,224.2 553.1,227.5 553.5,223.4 554.0,220.3 554.5,223.9 555.0,225.5 555.5,222.3 556.0,221.6 556.5,223.3 557.0,225.6 557.5,217.6 558.0,217.8 558.5,220.7 559.0,221.3 559.5,218.7 560.0,216.4 560.5,216.2 561.0,219.6 561.5,222.4 561.9,217.9 562.4,215.3 562.9,218.5 563.4,223.3 563.9,221.3 564.4,226.5 564.9,223.4 565.4,226.2 565.9,219.8 566.4,218.8 566.9,222.7 567.4,221.4 567.9,220.7 568.4,214.3 568.9,212.9 569.4,221.0 569.9,214.7 570.3,214.2 570.8,225.6 571.3,220.9 571.8,216.4 572.3,217.6 572.8,218.3 573.3,220.0 573.8,223.9 574.3,215.6 574.8,218.0 575.3,224.0 575.8,220.4 576.3,221.0 576.8,225.6 577.3,223.3 577.8,226.0 578.2,224.3 578.7,219.7 579.2,216.3 579.7,222.6 580.2,215.4 580.7,204.2 581.2,203.3 581.7,206.1 582.2,207.7 582.7,207.5 583.2,207.5 583.7,211.7 584.2,216.9 584.7,218.4 585.2,216.6 585.7,220.8 586.2,227.4 586.6,223.9 587.1,218.3 587.6,212.0 588.1,211.3 588.6,218.2 589.1,222.0 589.6,215.7 590.1,216.7 590.6,225.3 591.1,220.8 591.6,223.6 592.1,217.8 592.6,214.1 593.1,217.8 593.6,220.8 594.1,224.4 594.6,221.6 595.0,216.8 595.5,213.1 596.0,214.3 596.5,218.5 597.0,225.1 597.5,210.0 598.0,203.8 598.5,206.6 599.0,213.3 599.5,216.9 600.0,216.0 600.5,213.4 601.0,212.7 601.5,215.4 602.0,213.0 602.5,209.6 603.0,213.0 603.4,216.4 603.9,214.6 604.4,210.8 604.9,212.9 605.4,219.5 605.9,222.7 606.4,216.7 606.9,210.4 607.4,211.8 607.9,210.5 608.4,211.5 608.9,219.5 609.4,227.4 609.9,221.8 610.4,219.4 610.9,220.5 611.3,223.2 611.8,226.0 612.3,226.0 612.8,226.2 613.3,223.9 613.8,222.6 614.3,224.0 614.8,221.9 615.3,221.7 615.8,224.3 616.3,224.0 616.8,223.4 617.3,226.4 617.8,223.7 618.3,222.0 618.8,221.6 619.3,221.9 619.7,221.6 620.2,218.5 620.7,219.8 621.2,218.0 621.7,219.8 622.2,222.4 622.7,224.0 623.2,223.6 623.7,219.3 624.2,219.1 624.7,218.1 625.2,219.3 625.7,224.3 626.2,228.0 626.7,225.5 627.2,223.5 627.7,218.3 628.1,217.7 628.6,218.4 629.1,222.5 629.6,222.5 630.1,211.5 630.6,212.8 631.1,224.2 631.6,218.6 632.1,216.3 632.6,221.5 633.1,225.4 633.6,222.0 634.1,217.3 634.6,217.6 635.1,215.0 635.6,206.8 636.0,203.3 636.5,208.8 637.0,216.2 637.5,217.2 638.0,222.4 638.5,224.0 639.0,219.8 639.5,224.8 640.0,222.0 640.5,218.0 641.0,218.2 641.5,214.5 642.0,207.2 642.5,204.2 643.0,206.1 643.5,212.8 644.0,218.5 644.4,222.2 644.9,216.6 645.4,211.8 645.9,213.9 646.4,219.7 646.9,215.2 647.4,207.5 647.9,207.8 648.4,215.8 648.9,222.5 649.4,226.8 649.9,224.2 650.4,225.1 650.9,227.5 651.4,224.1 651.9,218.9 652.4,211.9 652.8,212.7 653.3,215.2 653.8,215.6 654.3,211.2 654.8,211.9 655.3,217.7 655.8,221.3 656.3,217.7 656.8,215.2 657.3,220.4 657.8,217.4 658.3,206.8 658.8,206.3 659.3,207.7 659.8,207.3 660.3,216.2 660.7,224.0 661.2,217.7 661.7,218.1 662.2,223.5 662.7,225.1 663.2,222.6 663.7,225.9 664.2,220.5 664.7,213.4" class="ln" stroke="#0000ff" stroke-width="1.2"/>
<polyline points="417.7,224.9 418.2,227.1 418.7,216.9 419.2,205.4 419.7,199.5 420.2,201.8 420.7,207.3 421.2,212.6 421.7,215.3 422.1,216.4 422.6,211.4 423.1,207.6 423.6,215.1 424.1,221.8 424.6,218.7 425.1,222.5 425.6,222.6 426.1,216.4 426.6,211.8 427.1,212.0 427.6,216.1 428.1,219.0 428.6,224.2 429.1,219.7 429.6,218.9 430.1,221.2 430.5,221.0 431.0,223.0 431.5,223.9 432.0,219.7 432.5,223.3 433.0,224.0 433.5,223.1 434.0,214.3 434.5,206.8 435.0,208.4 435.5,215.0 436.0,213.6 436.5,209.8 437.0,213.0 437.5,217.6 438.0,222.0 438.4,218.4 438.9,216.0 439.4,220.5 439.9,219.7 440.4,212.5 440.9,210.9 441.4,215.7 441.9,217.5 442.4,213.3 442.9,208.9 443.4,211.1 443.9,215.6 444.4,220.0 444.9,226.2 445.4,221.4 445.9,216.1 446.4,213.4 446.8,209.7 447.3,207.9 447.8,210.1 448.3,213.4 448.8,218.1 449.3,218.4 449.8,213.0 450.3,213.9 450.8,221.3 451.3,219.4 451.8,214.7 452.3,216.3 452.8,221.8 453.3,215.2 453.8,215.9 454.3,220.5 454.8,215.5 455.2,215.8 455.7,217.3 456.2,216.1 456.7,216.9 457.2,222.6 457.7,226.5 458.2,222.4 458.7,219.1 459.2,219.2 459.7,218.8 460.2,219.2 460.7,219.5 461.2,221.1 461.7,220.5 462.2,213.8 462.7,208.9 463.1,211.1 463.6,219.3 464.1,219.0 464.6,218.9 465.1,219.1 465.6,210.3 466.1,206.8 466.6,214.9 467.1,223.1 467.6,220.6 468.1,220.3 468.6,222.3 469.1,222.0 469.6,216.3 470.1,217.6 470.6,224.6 471.1,218.2 471.5,224.0 472.0,219.3 472.5,224.3 473.0,220.3 473.5,218.1 474.0,220.8 474.5,213.0 475.0,212.7 475.5,216.2 476.0,219.3 476.5,213.7 477.0,211.2 477.5,217.4 478.0,217.0 478.5,220.4 479.0,226.2 479.4,225.1 479.9,218.6 480.4,211.9 480.9,209.7 481.4,204.2 481.9,194.0 482.4,189.3 482.9,193.1 483.4,197.0 483.9,201.6 484.4,206.9 484.9,210.2 485.4,213.1 485.9,214.7 486.4,216.4 486.9,217.8 487.4,211.9 487.8,210.9 488.3,214.7 488.8,214.9 489.3,210.7 489.8,214.3 490.3,223.8 490.8,221.2 491.3,217.2 491.8,216.5 492.3,222.3 492.8,223.1 493.3,217.6 493.8,221.8 494.3,223.3 494.8,220.5 495.3,225.0 495.8,217.7 496.2,221.8 496.7,222.6 497.2,221.9 497.7,228.1 498.2,224.0 498.7,219.2 499.2,216.8 499.7,222.0 500.2,222.8 500.7,219.8 501.2,213.4 501.7,211.2 502.2,213.7 502.7,212.3 503.2,212.8 503.7,214.9 504.1,214.3 504.6,215.7 505.1,217.8 505.6,220.7 506.1,217.2 506.6,218.8 507.1,219.3 507.6,216.9 508.1,217.3 508.6,214.2 509.1,213.7 509.6,218.0 510.1,219.9 510.6,215.4 511.1,210.9 511.6,210.2 512.1,210.0 512.5,210.6 513.0,215.0 513.5,219.2 514.0,223.2 514.5,210.3 515.0,212.1 515.5,220.8 516.0,221.6 516.5,214.9 517.0,210.4 517.5,214.5 518.0,220.1 518.5,221.3 519.0,220.7 519.5,218.4 520.0,219.0 520.5,224.3 520.9,223.9 521.4,222.0 521.9,219.9 522.4,217.7 522.9,218.5 523.4,215.4 523.9,212.6 524.4,216.3 524.9,221.1 525.4,219.6 525.9,220.2 526.4,223.6 526.9,223.2 527.4,223.9 527.9,219.1 528.4,215.2 528.9,212.6 529.3,211.2 529.8,207.0 530.3,207.1 530.8,207.8 531.3,207.4 531.8,210.0 532.3,212.3 532.8,216.3 533.3,220.5 533.8,219.8 534.3,215.8 534.8,219.2 535.3,225.4 535.8,219.2 536.3,217.9 536.8,222.3 537.2,219.6 537.7,214.1 538.2,214.8 538.7,220.3 539.2,222.5 539.7,222.3 540.2,215.1 540.7,211.9 541.2,217.3 541.7,227.7 542.2,216.8 542.7,211.4 543.2,215.9 543.7,227.5 544.2,218.8 544.7,218.7 545.2,220.7 545.6,216.7 546.1,217.4 546.6,226.1 547.1,219.2 547.6,213.4 548.1,216.4 548.6,221.3 549.1,218.3 549.6,221.2 550.1,209.1 550.6,208.2 551.1,224.3 551.6,219.8 552.1,220.6 552.6,222.0 553.1,218.0 553.5,217.9 554.0,220.9 554.5,221.5 555.0,222.8 555.5,223.8 556.0,217.4 556.5,212.0 557.0,214.9 557.5,217.5 558.0,216.0 558.5,215.6 559.0,216.6 559.5,216.7 560.0,221.4 560.5,226.8 561.0,222.8 561.5,221.1 561.9,221.8 562.4,221.5 562.9,218.9 563.4,215.5 563.9,216.3 564.4,216.2 564.9,215.2 565.4,216.5 565.9,217.8 566.4,217.8 566.9,210.6 567.4,212.8 567.9,222.4 568.4,227.4 568.9,217.1 569.4,201.4 569.9,200.3 570.3,213.6 570.8,223.6 571.3,224.3 571.8,220.2 572.3,214.6 572.8,217.5 573.3,224.6 573.8,221.6 574.3,210.5 574.8,207.1 575.3,213.6 575.8,213.2 576.3,213.6 576.8,218.5 577.3,224.9 577.8,218.8 578.2,217.9 578.7,220.7 579.2,219.7 579.7,219.6 580.2,225.3 580.7,224.8 581.2,220.9 581.7,219.7 582.2,223.2 582.7,224.2 583.2,221.9 583.7,220.8 584.2,222.7 584.7,214.8 585.2,211.2 585.7,213.8 586.2,216.9 586.6,220.1 587.1,219.5 587.6,220.5 588.1,222.4 588.6,218.7 589.1,217.9 589.6,222.0 590.1,226.4 590.6,223.3 591.1,218.8 591.6,215.0 592.1,214.8 592.6,216.8 593.1,217.5 593.6,219.9 594.1,223.4 594.6,219.5 595.0,215.6 595.5,214.4 596.0,211.7 596.5,209.7 597.0,213.3 597.5,218.6 598.0,218.8 598.5,224.5 599.0,217.5 599.5,214.3 600.0,214.9 600.5,213.4 601.0,220.4 601.5,222.6 602.0,212.3 602.5,212.4 603.0,219.3 603.4,222.9 603.9,224.1 604.4,220.1 604.9,217.6 605.4,216.7 605.9,213.5 606.4,213.1 606.9,216.4 607.4,223.7 607.9,216.6 608.4,211.0 608.9,213.0 609.4,215.7 609.9,221.7 610.4,222.3 610.9,214.5 611.3,219.5 611.8,218.8 612.3,212.1 612.8,215.5 613.3,223.4 613.8,226.3 614.3,219.7 614.8,211.2 615.3,209.9 615.8,215.5 616.3,217.9 616.8,216.0 617.3,218.7 617.8,222.3 618.3,218.2 618.8,221.3 619.3,223.3 619.7,226.5 620.2,224.0 620.7,221.8 621.2,218.8 621.7,217.6 622.2,223.6 622.7,217.6 623.2,212.9 623.7,217.7 624.2,224.7 624.7,218.1 625.2,217.5 625.7,222.5 626.2,217.6 626.7,213.9 627.2,212.5 627.7,207.0 628.1,211.7 628.6,220.7 629.1,219.5 629.6,221.7 630.1,223.9 630.6,219.6 631.1,221.1 631.6,225.3 632.1,217.7 632.6,214.1 633.1,219.6 633.6,224.8 634.1,220.4 634.6,212.1 635.1,206.7 635.6,211.8 636.0,221.9 636.5,225.5 637.0,217.6 637.5,212.8 638.0,211.7 638.5,210.6 639.0,215.0 639.5,225.5 640.0,222.1 640.5,218.8 641.0,216.7 641.5,218.2 642.0,218.7 642.5,217.8 643.0,219.4 643.5,220.7 644.0,216.7 644.4,212.0 644.9,210.6 645.4,216.3 645.9,218.5 646.4,211.6 646.9,214.6 647.4,218.4 647.9,217.6 648.4,215.6 648.9,218.4 649.4,225.8 649.9,224.8 650.4,221.6 650.9,217.2 651.4,215.9 651.9,220.9 652.4,225.5 652.8,217.0 653.3,214.5 653.8,211.3 654.3,206.3 654.8,205.5 655.3,208.0 655.8,209.1 656.3,214.3 656.8,222.9 657.3,225.5 657.8,223.4 658.3,221.1 658.8,219.2 659.3,219.5 659.8,223.5 660.3,226.1 660.7,221.0 661.2,220.2 661.7,225.2 662.2,224.2 662.7,221.5 663.2,223.0 663.7,223.0 664.2,212.8 664.7,214.0" class="ln" stroke="#0000ff" stroke-width="1.2"/>
<polyline points="417.7,217.4 418.2,221.8 418.7,226.7 419.2,222.0 419.7,222.4 420.2,219.2 420.7,213.8 421.2,211.2 421.7,215.0 422.1,223.6 422.6,209.3 423.1,208.4 423.6,220.6 424.1,223.2 424.6,224.6 425.1,226.0 425.6,225.4 426.1,219.3 426.6,211.9 427.1,213.7 427.6,220.3 428.1,219.4 428.6,215.0 429.1,210.7 429.6,211.8 430.1,216.0 430.5,221.7 431.0,226.1 431.5,222.7 432.0,218.0 432.5,218.2 433.0,216.7 433.5,214.5 434.0,219.2 434.5,221.4 435.0,222.1 435.5,223.2 436.0,220.9 436.5,217.6 437.0,217.1 437.5,225.0 438.0,219.5 438.4,216.5 438.9,217.1 439.4,217.1 439.9,212.9 440.4,212.1 440.9,221.7 441.4,222.1 441.9,211.8 442.4,201.5 442.9,194.5 443.4,195.4 443.9,200.8 444.4,207.3 444.9,218.3 445.4,223.7 445.9,223.1 446.4,224.5 446.8,219.9 447.3,215.2 447.8,216.0 448.3,222.8 448.8,223.5 449.3,221.5 449.8,223.1 450.3,226.2 450.8,220.6 451.3,218.1 451.8,227.7 452.3,216.2 452.8,210.8 453.3,213.2 453.8,219.0 454.3,219.6 454.8,215.4 455.2,214.5 455.7,220.1 456.2,220.3 456.7,216.6 457.2,214.7 457.7,218.3 458.2,224.2 458.7,224.3 459.2,223.7 459.7,219.3 460.2,223.7 460.7,219.4 461.2,211.3 461.7,214.0 462.2,219.7 462.7,227.0 463.1,223.8 463.6,223.9 464.1,225.0 464.6,220.4 465.1,219.7 465.6,221.8 466.1,224.0 466.6,222.2 467.1,212.5 467.6,206.4 468.1,209.4 468.6,215.7 469.1,212.2 469.6,204.7 470.1,201.5 470.6,208.6 471.1,221.0 471.5,221.7 472.0,212.7 472.5,212.8 473.0,217.8 473.5,216.5 474.0,214.4 474.5,216.4 475.0,223.8 475.5,219.3 476.0,215.5 476.5,213.7 477.0,213.3 477.5,216.7 478.0,211.7 478.5,212.7 479.0,224.9 479.4,219.2 479.9,217.9 480.4,222.3 480.9,218.6 481.4,216.0 481.9,212.4 482.4,207.8 482.9,209.8 483.4,217.8 483.9,224.6 484.4,220.8 484.9,214.8 485.4,204.3 485.9,199.6 486.4,203.8 486.9,209.2 487.4,214.7 487.8,219.2 488.3,220.9 488.8,219.1 489.3,218.0 489.8,216.0 490.3,220.7 490.8,223.6 491.3,220.9 491.8,221.6 492.3,224.7 492.8,225.7 493.3,224.6 493.8,214.8 494.3,216.2 494.8,221.3 495.3,219.3 495.8,220.3 496.2,221.0 496.7,217.3 497.2,213.0 497.7,212.1 498.2,221.1 498.7,218.9 499.2,211.6 499.7,216.6 500.2,214.2 500.7,211.0 501.2,209.7 501.7,215.3 502.2,221.3 502.7,219.4 503.2,216.4 503.7,219.9 504.1,223.9 504.6,218.7 505.1,214.6 505.6,215.6 506.1,223.0 506.6,221.3 507.1,215.4 507.6,216.4 508.1,220.0 508.6,225.0 509.1,224.2 509.6,224.9 510.1,221.9 510.6,220.3 511.1,224.8 511.6,223.0 512.1,214.8 512.5,213.2 513.0,217.8 513.5,223.7 514.0,227.8 514.5,225.6 515.0,219.3 515.5,216.4 516.0,223.9 516.5,224.6 517.0,220.2 517.5,217.7 518.0,221.0 518.5,220.1 519.0,219.5 519.5,225.0 520.0,216.0 520.5,210.4 520.9,211.9 521.4,211.4 521.9,208.0 522.4,215.2 522.9,226.9 523.4,216.5 523.9,214.5 524.4,222.4 524.9,227.2 525.4,225.3 525.9,223.1 526.4,219.2 526.9,219.7 527.4,220.7 527.9,217.9 528.4,217.4 528.9,218.2 529.3,214.7 529.8,211.8 530.3,219.8 530.8,221.6 531.3,220.2 531.8,222.8 532.3,221.6 532.8,217.9 533.3,215.2 533.8,220.2 534.3,224.5 534.8,222.5 535.3,224.8 535.8,223.0 536.3,220.8 536.8,218.1 537.2,219.7 537.7,219.8 538.2,216.6 538.7,217.0 539.2,222.2 539.7,225.3 540.2,224.3 540.7,218.9 541.2,212.5 541.7,213.4 542.2,218.2 542.7,222.9 543.2,224.3 543.7,220.9 544.2,220.3 544.7,218.1 545.2,216.8 545.6,213.6 546.1,218.9 546.6,225.6 547.1,225.7 547.6,215.7 548.1,206.2 548.6,204.2 549.1,202.9 549.6,201.3 550.1,200.9 550.6,207.5 551.1,220.2 551.6,225.8 552.1,226.1 552.6,218.7 553.1,218.9 553.5,223.6 554.0,214.3 554.5,217.0 555.0,216.9 555.5,214.5 556.0,215.4 556.5,217.5 557.0,214.2 557.5,216.8 558.0,219.9 558.5,214.1 559.0,218.4 559.5,223.6 560.0,221.4 560.5,221.4 561.0,226.4 561.5,221.9 561.9,222.2 562.4,221.8 562.9,220.6 563.4,217.9 563.9,210.4 564.4,207.6 564.9,209.3 565.4,207.1 565.9,205.7 566.4,211.5 566.9,217.2 567.4,216.9 567.9,215.5 568.4,219.1 568.9,225.6 569.4,214.4 569.9,208.7 570.3,211.4 570.8,215.2 571.3,218.4 571.8,223.1 572.3,227.1 572.8,224.9 573.3,222.9 573.8,221.1 574.3,216.2 574.8,210.9 575.3,213.2 575.8,220.0 576.3,221.2 576.8,217.2 577.3,218.8 577.8,222.2 578.2,216.8 578.7,219.8 579.2,223.2 579.7,221.8 580.2,220.0 580.7,220.9 581.2,224.8 581.7,227.4 582.2,224.1 582.7,220.0 583.2,223.3 583.7,222.9 584.2,219.9 584.7,223.3 585.2,222.4 585.7,221.8 586.2,217.5 586.6,215.8 587.1,220.9 587.6,218.1 588.1,219.8 588.6,220.8 589.1,216.6 589.6,219.4 590.1,225.7 590.6,222.6 591.1,218.7 591.6,214.0 592.1,212.2 592.6,219.2 593.1,220.7 593.6,219.7 594.1,224.9 594.6,218.5 595.0,210.1 595.5,213.8 596.0,224.2 596.5,223.3 597.0,222.5 597.5,223.5 598.0,220.3 598.5,217.0 599.0,218.3 599.5,220.7 600.0,219.2 600.5,214.8 601.0,212.4 601.5,212.4 602.0,217.4 602.5,223.4 603.0,219.9 603.4,218.9 603.9,219.3 604.4,224.6 604.9,219.4 605.4,217.5 605.9,221.7 606.4,227.2 606.9,220.4 607.4,214.4 607.9,215.9 608.4,220.7 608.9,220.8 609.4,214.9 609.9,213.4 610.4,221.5 610.9,223.7 611.3,220.6 611.8,226.3 612.3,219.2 612.8,216.0 613.3,221.6 613.8,223.7 614.3,214.7 614.8,206.6 615.3,214.1 615.8,223.0 616.3,224.5 616.8,221.0 617.3,212.8 617.8,219.7 618.3,223.9 618.8,216.5 619.3,215.6 619.7,221.4 620.2,226.7 620.7,223.1 621.2,220.4 621.7,223.3 622.2,225.1 622.7,219.3 623.2,213.0 623.7,213.9 624.2,221.7 624.7,222.6 625.2,217.9 625.7,215.4 626.2,216.2 626.7,222.3 627.2,217.5 627.7,214.9 628.1,215.1 628.6,217.0 629.1,222.6 629.6,226.1 630.1,224.5 630.6,220.5 631.1,213.1 631.6,212.9 632.1,219.4 632.6,218.0 633.1,215.5 633.6,215.0 634.1,207.4 634.6,205.3 635.1,211.1 635.6,216.9 636.0,215.6 636.5,216.3 637.0,219.3 637.5,221.7 638.0,222.9 638.5,218.7 639.0,218.3 639.5,220.5 640.0,223.1 640.5,222.4 641.0,223.1 641.5,226.5 642.0,224.6 642.5,216.9 643.0,211.5 643.5,211.4 644.0,213.2 644.4,221.2 644.9,227.4 645.4,223.8 645.9,215.3 646.4,217.1 646.9,217.9 647.4,214.9 647.9,216.6 648.4,217.9 648.9,221.5 649.4,221.9 649.9,212.1 650.4,213.2 650.9,222.2 651.4,216.8 651.9,214.3 652.4,216.6 652.8,222.6 653.3,224.3 653.8,223.5 654.3,220.7 654.8,219.7 655.3,220.4 655.8,222.9 656.3,221.3 656.8,215.4 657.3,215.7 657.8,218.8 658.3,222.6 658.8,225.3 659.3,224.9 659.8,222.9 660.3,222.3 660.7,222.3 661.2,222.2 661.7,221.5 662.2,220.2 662.7,213.0 663.2,214.2 663.7,218.3 664.2,224.8 664.7,223.5" class="ln" stroke="#0000ff" stroke-width="1.2"/>
<polyline points="417.7,205.5 418.2,210.7 418.7,218.5 419.2,219.7 419.7,220.3 420.2,221.2 420.7,222.3 421.2,221.8 421.7,221.6 422.1,226.6 422.6,227.0 423.1,221.9 423.6,213.9 424.1,209.8 424.6,212.5 425.1,217.2 425.6,221.3 426.1,223.2 426.6,220.9 427.1,223.3 427.6,224.1 428.1,226.3 428.6,219.9 429.1,213.0 429.6,217.3 430.1,223.6 430.5,221.9 431.0,220.3 431.5,224.0 432.0,219.9 432.5,214.4 433.0,212.7 433.5,217.4 434.0,220.7 434.5,222.8 435.0,220.8 435.5,217.6 436.0,216.4 436.5,212.0 437.0,206.8 437.5,207.0 438.0,212.3 438.4,219.9 438.9,222.8 439.4,220.5 439.9,216.9 440.4,217.4 440.9,225.3 441.4,221.5 441.9,222.7 442.4,222.9 442.9,219.5 443.4,215.6 443.9,212.8 444.4,217.0 444.9,224.3 445.4,214.3 445.9,208.2 446.4,207.8 446.8,208.5 447.3,216.5 447.8,223.9 448.3,209.0 448.8,207.8 449.3,215.8 449.8,220.6 450.3,217.8 450.8,216.6 451.3,219.9 451.8,214.9 452.3,215.2 452.8,219.4 453.3,216.8 453.8,213.4 454.3,213.1 454.8,216.0 455.2,221.6 455.7,216.6 456.2,214.4 456.7,216.1 457.2,218.9 457.7,216.5 458.2,215.2 458.7,215.4 459.2,213.3 459.7,214.8 460.2,219.6 460.7,221.1 461.2,209.8 461.7,204.6 462.2,206.7 462.7,213.2 463.1,215.7 463.6,219.5 464.1,219.1 464.6,215.7 465.1,216.8 465.6,222.4 466.1,224.3 466.6,223.7 467.1,222.6 467.6,222.4 468.1,219.5 468.6,222.1 469.1,226.4 469.6,222.1 470.1,218.9 470.6,219.8 471.1,216.0 471.5,208.6 472.0,210.7 472.5,219.3 473.0,219.9 473.5,216.8 474.0,215.3 474.5,221.4 475.0,217.4 475.5,209.7 476.0,210.7 476.5,217.5 477.0,218.3 477.5,215.0 478.0,216.0 478.5,222.8 479.0,222.4 479.4,217.6 479.9,216.6 480.4,218.9 480.9,224.7 481.4,226.3 481.9,224.2 482.4,214.8 482.9,211.6 483.4,218.9 483.9,219.8 484.4,220.6 484.9,221.8 485.4,219.0 485.9,218.8 486.4,220.0 486.9,223.4 487.4,226.8 487.8,222.1 488.3,218.4 488.8,223.6 489.3,225.5 489.8,223.1 490.3,221.0 490.8,220.1 491.3,217.0 491.8,214.6 492.3,216.2 492.8,217.9 493.3,217.4 493.8,219.2 494.3,223.0 494.8,219.2 495.3,208.5 495.8,207.2 496.2,216.4 496.7,213.5 497.2,206.7 497.7,200.9 498.2,194.0 498.7,199.3 499.2,208.1 499.7,211.8 500.2,214.4 500.7,218.9 501.2,223.5 501.7,223.3 502.2,218.9 502.7,217.7 503.2,218.2 503.7,221.6 504.1,225.1 504.6,218.7 505.1,213.4 505.6,212.8 506.1,217.5 506.6,224.2 507.1,218.4 507.6,216.5 508.1,216.7 508.6,219.8 509.1,216.6 509.6,209.1 510.1,213.6 510.6,223.5 511.1,219.1 511.6,213.8 512.1,217.5 512.5,222.9 513.0,222.8 513.5,222.9 514.0,219.6 514.5,216.8 515.0,219.7 515.5,219.0 516.0,224.6 516.5,225.0 517.0,226.8 517.5,220.2 518.0,212.1 518.5,210.1 519.0,213.3 519.5,216.7 520.0,213.6 520.5,207.7 520.9,210.7 521.4,222.9 521.9,220.5 522.4,217.7 522.9,221.9 523.4,224.0 523.9,216.0 524.4,217.3 524.9,219.9 525.4,221.6 525.9,223.5 526.4,220.9 526.9,220.1 527.4,216.9 527.9,215.7 528.4,219.1 528.9,222.0 529.3,220.4 529.8,215.8 530.3,217.0 530.8,221.9 531.3,218.7 531.8,217.8 532.3,212.6 532.8,207.5 533.3,213.0 533.8,222.4 534.3,223.1 534.8,217.2 535.3,215.5 535.8,215.4 536.3,217.5 536.8,219.5 537.2,214.3 537.7,211.9 538.2,211.5 538.7,206.4 539.2,212.0 539.7,215.7 540.2,215.4 540.7,218.2 541.2,220.9 541.7,215.7 542.2,211.1 542.7,210.9 543.2,211.8 543.7,219.0 544.2,225.0 544.7,221.7 545.2,223.6 545.6,219.9 546.1,220.4 546.6,224.0 547.1,224.5 547.6,222.9 548.1,218.0 548.6,210.2 549.1,206.3 549.6,213.0 550.1,222.6 550.6,226.8 551.1,220.3 551.6,210.8 552.1,204.4 552.6,200.0 553.1,200.9 553.5,208.7 554.0,217.1 554.5,222.8 555.0,226.6 555.5,227.4 556.0,222.1 556.5,217.3 557.0,213.2 557.5,213.4 558.0,221.1 558.5,221.8 559.0,213.9 559.5,219.2 560.0,221.4 560.5,224.2 561.0,226.7 561.5,227.7 561.9,218.6 562.4,212.2 562.9,217.1 563.4,220.6 563.9,212.4 564.4,214.6 564.9,223.2 565.4,227.0 565.9,227.3 566.4,225.0 566.9,220.2 567.4,216.3 567.9,217.7 568.4,223.3 568.9,220.6 569.4,227.2 569.9,221.6 570.3,219.1 570.8,220.6 571.3,220.6 571.8,223.4 572.3,227.6 572.8,224.5 573.3,221.4 573.8,217.4 574.3,218.4 574.8,225.3 575.3,220.9 575.8,219.0 576.3,223.3 576.8,222.5 577.3,213.7 577.8,215.9 578.2,221.5 578.7,214.7 579.2,212.8 579.7,214.4 580.2,218.9 580.7,226.6 581.2,221.3 581.7,214.4 582.2,213.1 582.7,216.8 583.2,217.5 583.7,214.3 584.2,212.0 584.7,213.1 585.2,220.3 585.7,218.8 586.2,215.5 586.6,205.0 587.1,204.9 587.6,216.4 588.1,222.8 588.6,221.6 589.1,222.7 589.6,222.8 590.1,218.2 590.6,214.8 591.1,219.7 591.6,215.8 592.1,207.1 592.6,206.5 593.1,210.9 593.6,212.9 594.1,210.3 594.6,206.2 595.0,204.1 595.5,212.5 596.0,219.2 596.5,215.4 597.0,215.8 597.5,216.3 598.0,217.1 598.5,223.8 599.0,222.8 599.5,218.1 600.0,215.6 600.5,214.2 601.0,212.9 601.5,215.2 602.0,220.0 602.5,222.3 603.0,225.4 603.4,226.3 603.9,224.8 604.4,224.6 604.9,220.7 605.4,216.3 605.9,221.1 606.4,221.5 606.9,219.2 607.4,219.6 607.9,224.5 608.4,224.5 608.9,220.6 609.4,217.5 609.9,219.7 610.4,228.0 610.9,220.6 611.3,217.8 611.8,217.2 612.3,215.3 612.8,216.4 613.3,223.1 613.8,221.9 614.3,214.5 614.8,216.5 615.3,217.4 615.8,213.5 616.3,216.3 616.8,220.5 617.3,222.3 617.8,224.7 618.3,226.1 618.8,225.3 619.3,222.2 619.7,217.0 620.2,213.5 620.7,214.8 621.2,219.5 621.7,221.3 622.2,217.4 622.7,218.8 623.2,226.8 623.7,224.9 624.2,225.7 624.7,222.8 625.2,219.4 625.7,208.8 626.2,207.2 626.7,211.3 627.2,205.9 627.7,205.1 628.1,217.2 628.6,222.1 629.1,212.1 629.6,212.4 630.1,219.7 630.6,224.1 631.1,220.8 631.6,220.6 632.1,221.0 632.6,222.5 633.1,225.9 633.6,220.3 634.1,212.7 634.6,206.4 635.1,207.5 635.6,215.1 636.0,224.1 636.5,221.6 637.0,217.2 637.5,215.7 638.0,212.2 638.5,215.9 639.0,221.3 639.5,218.9 640.0,216.5 640.5,216.2 641.0,221.0 641.5,221.9 642.0,218.6 642.5,221.1 643.0,227.0 643.5,220.8 644.0,219.8 644.4,224.3 644.9,223.4 645.4,220.0 645.9,219.9 646.4,216.9 646.9,213.9 647.4,212.6 647.9,214.3 648.4,211.0 648.9,214.3 649.4,224.3 649.9,224.5 650.4,223.5 650.9,219.8 651.4,223.1 651.9,226.8 652.4,223.1 652.8,219.9 653.3,221.4 653.8,224.8 654.3,222.4 654.8,218.2 655.3,219.8 655.8,226.6 656.3,221.0 656.8,221.3 657.3,223.2 657.8,215.5 658.3,213.7 658.8,213.4 659.3,210.4 659.8,208.0 660.3,208.0 660.7,209.2 661.2,212.2 661.7,217.8 662.2,215.3 662.7,209.7 663.2,211.9 663.7,219.1 664.2,224.9 664.7,219.8" class="ln" stroke="#0000ff" stroke-width="1.2"/>
<polyline points="417.7,224.1 418.2,222.1 418.7,214.2 419.2,208.1 419.7,206.7 420.2,210.2 420.7,218.8 421.2,220.9 421.7,218.8 422.1,219.1 422.6,219.3 423.1,220.6 423.6,217.3 424.1,217.2 424.6,225.3 425.1,226.3 425.6,220.3 426.1,212.8 426.6,212.8 427.1,215.6 427.6,214.0 428.1,212.0 428.6,218.1 429.1,225.3 429.6,224.1 430.1,220.2 430.5,220.3 431.0,222.2 431.5,218.9 432.0,217.1 432.5,218.3 433.0,220.1 433.5,223.3 434.0,225.6 434.5,225.7 435.0,225.2 435.5,225.9 436.0,219.6 436.5,216.6 437.0,214.3 437.5,211.5 438.0,213.5 438.4,223.9 438.9,221.4 439.4,214.9 439.9,216.3 440.4,223.3 440.9,213.9 441.4,217.4 441.9,226.3 442.4,222.6 442.9,220.3 443.4,221.8 443.9,221.5 444.4,219.9 444.9,212.3 445.4,210.9 445.9,212.5 446.4,220.6 446.8,221.2 447.3,216.0 447.8,221.4 448.3,223.4 448.8,223.0 449.3,224.9 449.8,218.8 450.3,214.3 450.8,214.8 451.3,220.7 451.8,225.6 452.3,227.1 452.8,222.9 453.3,220.3 453.8,218.0 454.3,219.1 454.8,218.5 455.2,210.6 455.7,204.2 456.2,201.7 456.7,210.6 457.2,224.6 457.7,222.9 458.2,221.6 458.7,218.8 459.2,218.1 459.7,218.5 460.2,214.7 460.7,216.5 461.2,220.4 461.7,214.3 462.2,208.1 462.7,210.3 463.1,219.4 463.6,218.0 464.1,210.3 464.6,213.4 465.1,222.0 465.6,224.7 466.1,227.1 466.6,227.8 467.1,223.0 467.6,220.1 468.1,218.7 468.6,222.9 469.1,224.5 469.6,222.4 470.1,218.9 470.6,214.4 471.1,214.6 471.5,222.0 472.0,220.8 472.5,214.6 473.0,217.1 473.5,222.4 474.0,224.9 474.5,220.5 475.0,220.1 475.5,225.9 476.0,224.6 476.5,225.4 477.0,224.9 477.5,226.7 478.0,220.9 478.5,215.5 479.0,216.8 479.4,216.2 479.9,214.2 480.4,214.6 480.9,216.2 481.4,221.4 481.9,222.7 482.4,220.0 482.9,215.2 483.4,215.2 483.9,223.5 484.4,225.1 484.9,226.8 485.4,225.5 485.9,220.8 486.4,223.7 486.9,214.1 487.4,210.0 487.8,206.5 488.3,207.8 488.8,211.4 489.3,214.3 489.8,219.2 490.3,225.3 490.8,227.6 491.3,222.4 491.8,216.4 492.3,216.0 492.8,217.9 493.3,224.1 493.8,219.1 494.3,217.6 494.8,214.0 495.3,218.2 495.8,225.3 496.2,219.6 496.7,221.3 497.2,224.1 497.7,217.8 498.2,219.5 498.7,226.1 499.2,224.2 499.7,214.5 500.2,206.8 500.7,211.1 501.2,222.0 501.7,215.7 502.2,214.9 502.7,222.1 503.2,224.8 503.7,221.2 504.1,224.3 504.6,224.5 505.1,220.8 505.6,223.7 506.1,224.9 506.6,217.6 507.1,208.3 507.6,199.0 508.1,195.0 508.6,197.0 509.1,198.2 509.6,196.5 510.1,203.9 510.6,215.6 511.1,216.6 511.6,214.9 512.1,215.3 512.5,218.8 513.0,215.4 513.5,214.9 514.0,220.8 514.5,225.1 515.0,218.9 515.5,222.0 516.0,218.0 516.5,203.4 517.0,202.8 517.5,211.4 518.0,220.3 518.5,218.1 519.0,218.2 519.5,220.7 520.0,227.0 520.5,224.2 520.9,217.0 521.4,207.6 521.9,208.8 522.4,216.5 522.9,216.2 523.4,214.6 523.9,211.1 524.4,219.8 524.9,219.2 525.4,210.8 525.9,214.4 526.4,220.5 526.9,222.0 527.4,223.3 527.9,217.5 528.4,208.2 528.9,213.3 529.3,223.9 529.8,223.7 530.3,218.0 530.8,216.3 531.3,211.2 531.8,210.6 532.3,211.9 532.8,210.5 533.3,212.3 533.8,221.2 534.3,219.9 534.8,225.4 535.3,218.4 535.8,218.0 536.3,222.7 536.8,223.5 537.2,223.6 537.7,222.6 538.2,222.8 538.7,221.1 539.2,218.2 539.7,209.8 540.2,204.5 540.7,206.7 541.2,213.2 541.7,219.9 542.2,223.1 542.7,222.1 543.2,220.3 543.7,219.2 544.2,219.3 544.7,212.7 545.2,209.9 545.6,209.8 546.1,209.7 546.6,213.3 547.1,218.5 547.6,220.8 548.1,219.7 548.6,220.4 549.1,224.8 549.6,218.8 550.1,218.1 550.6,220.9 551.1,217.7 551.6,212.7 552.1,212.8 552.6,217.3 553.1,215.7 553.5,213.1 554.0,218.9 554.5,220.5 555.0,218.9 555.5,213.9 556.0,207.8 556.5,208.2 557.0,214.7 557.5,222.9 558.0,222.7 558.5,218.7 559.0,217.9 559.5,223.4 560.0,224.1 560.5,221.7 561.0,215.6 561.5,212.7 561.9,217.5 562.4,222.7 562.9,226.6 563.4,225.5 563.9,225.1 564.4,226.2 564.9,220.4 565.4,214.4 565.9,211.4 566.4,215.5 566.9,223.1 567.4,223.9 567.9,223.7 568.4,217.9 568.9,211.8 569.4,209.0 569.9,209.9 570.3,210.1 570.8,207.1 571.3,210.3 571.8,215.0 572.3,215.0 572.8,214.7 573.3,218.8 573.8,222.2 574.3,223.8 574.8,220.6 575.3,216.3 575.8,216.0 576.3,217.0 576.8,215.1 577.3,221.9 577.8,217.9 578.2,209.6 578.7,206.9 579.2,206.2 579.7,208.5 580.2,217.5 580.7,226.6 581.2,217.1 581.7,210.7 582.2,215.4 582.7,221.6 583.2,221.4 583.7,216.6 584.2,218.7 584.7,218.1 585.2,221.4 585.7,222.0 586.2,222.8 586.6,220.6 587.1,208.8 587.6,207.3 588.1,214.2 588.6,223.2 589.1,219.1 589.6,213.6 590.1,215.9 590.6,216.7 591.1,217.0 591.6,219.2 592.1,222.4 592.6,221.2 593.1,210.3 593.6,207.2 594.1,220.3 594.6,217.7 595.0,219.8 595.5,221.2 596.0,221.4 596.5,224.8 597.0,224.8 597.5,220.4 598.0,218.6 598.5,221.7 599.0,225.4 599.5,227.9 600.0,223.0 600.5,219.5 601.0,223.8 601.5,223.0 602.0,219.0 602.5,218.7 603.0,224.2 603.4,217.4 603.9,213.8 604.4,221.9 604.9,221.9 605.4,215.8 605.9,212.5 606.4,212.7 606.9,222.5 607.4,218.3 607.9,213.8 608.4,218.9 608.9,225.2 609.4,225.8 609.9,221.6 610.4,222.1 610.9,221.1 611.3,218.1 611.8,215.5 612.3,210.9 612.8,211.9 613.3,221.1 613.8,215.7 614.3,216.0 614.8,219.7 615.3,220.4 615.8,222.0 616.3,224.6 616.8,220.4 617.3,214.3 617.8,215.4 618.3,216.6 618.8,219.3 619.3,222.3 619.7,225.7 620.2,226.3 620.7,224.9 621.2,220.0 621.7,219.4 622.2,215.3 622.7,206.9 623.2,208.3 623.7,222.2 624.2,219.4 624.7,216.0 625.2,219.2 625.7,223.6 626.2,219.4 626.7,215.4 627.2,220.4 627.7,226.3 628.1,219.7 628.6,217.6 629.1,216.4 629.6,219.8 630.1,217.4 630.6,211.8 631.1,209.7 631.6,216.3 632.1,226.7 632.6,225.2 633.1,227.1 633.6,225.6 634.1,219.4 634.6,213.7 635.1,213.3 635.6,216.9 636.0,217.3 636.5,215.5 637.0,219.3 637.5,222.9 638.0,223.5 638.5,218.1 639.0,214.0 639.5,215.5 640.0,218.1 640.5,220.9 641.0,221.3 641.5,222.5 642.0,224.9 642.5,224.8 643.0,216.5 643.5,219.1 644.0,220.5 644.4,213.8 644.9,221.6 645.4,222.0 645.9,217.2 646.4,215.5 646.9,216.3 647.4,216.6 647.9,214.9 648.4,217.7 648.9,222.6 649.4,221.5 649.9,226.1 650.4,219.2 650.9,220.8 651.4,225.5 651.9,218.5 652.4,213.4 652.8,217.0 653.3,224.9 653.8,226.7 654.3,225.0 654.8,225.7 655.3,222.8 655.8,224.6 656.3,223.8 656.8,225.4 657.3,224.9 657.8,213.5 658.3,206.9 658.8,213.2 659.3,208.2 659.8,203.0 660.3,204.6 660.7,209.8 661.2,216.0 661.7,220.0 662.2,213.2 662.7,213.9 663.2,216.5 663.7,214.2 664.2,215.1 664.7,211.1" class="ln" stroke="#0000ff" stroke-width="1.2"/>
<polyline points="417.7,207.8 418.2,211.1 418.7,218.9 419.2,216.0 419.7,216.3 420.2,222.4 420.7,219.7 421.2,216.6 421.7,217.4 422.1,223.6 422.6,225.0 423.1,222.5 423.6,216.2 424.1,211.9 424.6,213.7 425.1,217.1 425.6,215.0 426.1,219.0 426.6,222.9 427.1,216.0 427.6,217.2 428.1,218.5 428.6,217.3 429.1,220.4 429.6,218.7 430.1,213.7 430.5,215.3 431.0,216.7 431.5,212.0 432.0,210.7 432.5,216.2 433.0,223.3 433.5,221.1 434.0,214.4 434.5,218.1 435.0,222.5 435.5,224.4 436.0,221.2 436.5,215.3 437.0,217.5 437.5,213.0 438.0,219.9 438.4,219.9 438.9,218.5 439.4,226.1 439.9,220.1 440.4,218.5 440.9,218.3 441.4,218.2 441.9,218.6 442.4,216.5 442.9,217.6 443.4,221.1 443.9,222.7 444.4,222.5 444.9,218.6 445.4,216.4 445.9,215.2 446.4,219.5 446.8,222.5 447.3,219.8 447.8,218.1 448.3,217.5 448.8,216.9 449.3,217.2 449.8,222.0 450.3,224.9 450.8,225.1 451.3,220.4 451.8,216.1 452.3,222.3 452.8,220.4 453.3,222.7 453.8,221.5 454.3,212.5 454.8,207.8 455.2,213.6 455.7,225.5 456.2,224.8 456.7,225.3 457.2,224.2 457.7,225.3 458.2,227.3 458.7,220.6 459.2,219.6 459.7,226.7 460.2,220.7 460.7,212.9 461.2,212.4 461.7,219.8 462.2,214.7 462.7,207.0 463.1,209.3 463.6,217.6 464.1,219.1 464.6,216.6 465.1,213.5 465.6,211.7 466.1,214.3 466.6,217.9 467.1,218.4 467.6,220.9 468.1,223.5 468.6,221.8 469.1,221.6 469.6,216.4 470.1,211.0 470.6,215.5 471.1,220.8 471.5,216.8 472.0,214.8 472.5,211.8 473.0,208.0 473.5,205.9 474.0,209.2 474.5,215.9 475.0,223.7 475.5,219.5 476.0,215.4 476.5,215.2 477.0,219.5 477.5,223.1 478.0,223.5 478.5,218.5 479.0,216.5 479.4,216.4 479.9,217.5 480.4,216.5 480.9,213.3 481.4,215.8 481.9,219.9 482.4,219.4 482.9,221.5 483.4,221.6 483.9,223.5 484.4,225.3 484.9,225.0 485.4,219.7 485.9,208.9 486.4,212.8 486.9,221.6 487.4,208.3 487.8,205.5 488.3,212.3 488.8,216.6 489.3,218.8 489.8,223.0 490.3,225.3 490.8,218.3 491.3,216.2 491.8,212.2 492.3,210.2 492.8,211.4 493.3,213.6 493.8,216.7 494.3,221.6 494.8,217.2 495.3,209.4 495.8,212.4 496.2,220.2 496.7,224.8 497.2,223.0 497.7,220.0 498.2,219.6 498.7,222.9 499.2,223.8 499.7,219.4 500.2,216.9 500.7,219.5 501.2,225.8 501.7,226.1 502.2,222.8 502.7,223.3 503.2,224.7 503.7,220.7 504.1,220.7 504.6,219.5 505.1,215.4 505.6,214.6 506.1,218.5 506.6,223.3 507.1,222.1 507.6,227.7 508.1,223.6 508.6,223.1 509.1,226.7 509.6,221.5 510.1,213.4 510.6,204.0 511.1,205.8 511.6,213.4 512.1,211.1 512.5,212.5 513.0,216.8 513.5,219.3 514.0,217.4 514.5,216.1 515.0,217.6 515.5,216.5 516.0,216.1 516.5,216.0 517.0,215.1 517.5,216.6 518.0,221.8 518.5,227.2 519.0,221.6 519.5,220.0 520.0,219.9 520.5,220.3 520.9,218.9 521.4,222.5 521.9,223.2 522.4,216.6 522.9,215.2 523.4,216.0 523.9,215.4 524.4,213.1 524.9,210.6 525.4,205.2 525.9,202.4 526.4,205.0 526.9,210.5 527.4,217.5 527.9,220.8 528.4,226.0 528.9,226.5 529.3,223.1 529.8,222.2 530.3,227.8 530.8,220.0 531.3,216.9 531.8,218.0 532.3,223.2 532.8,224.5 533.3,221.9 533.8,223.8 534.3,225.8 534.8,221.6 535.3,219.8 535.8,225.3 536.3,226.1 536.8,222.1 537.2,221.9 537.7,223.3 538.2,216.4 538.7,220.2 539.2,226.6 539.7,225.2 540.2,223.9 540.7,225.5 541.2,223.4 541.7,225.4 542.2,224.5 542.7,224.1 543.2,225.3 543.7,219.8 544.2,217.9 544.7,218.6 545.2,218.4 545.6,215.5 546.1,217.2 546.6,227.7 547.1,217.0 547.6,210.3 548.1,210.6 548.6,211.8 549.1,215.9 549.6,219.8 550.1,210.8 550.6,214.5 551.1,219.4 551.6,217.0 552.1,215.5 552.6,213.1 553.1,217.6 553.5,221.7 554.0,218.7 554.5,215.5 555.0,218.2 555.5,216.3 556.0,213.6 556.5,215.6 557.0,220.0 557.5,220.8 558.0,217.7 558.5,220.0 559.0,222.8 559.5,217.8 560.0,214.9 560.5,215.0 561.0,220.0 561.5,223.8 561.9,225.6 562.4,225.7 562.9,221.6 563.4,221.5 563.9,225.0 564.4,218.2 564.9,206.7 565.4,202.0 565.9,206.8 566.4,211.7 566.9,211.4 567.4,212.6 567.9,223.6 568.4,221.3 568.9,221.7 569.4,220.2 569.9,213.8 570.3,211.4 570.8,216.5 571.3,222.1 571.8,221.4 572.3,220.2 572.8,218.1 573.3,213.8 573.8,217.2 574.3,217.6 574.8,210.1 575.3,207.3 575.8,213.2 576.3,223.0 576.8,224.3 577.3,222.2 577.8,220.5 578.2,216.8 578.7,217.2 579.2,220.5 579.7,223.0 580.2,222.5 580.7,217.1 581.2,213.4 581.7,218.6 582.2,221.2 582.7,215.8 583.2,213.4 583.7,220.2 584.2,219.1 584.7,209.7 585.2,214.7 585.7,222.4 586.2,220.7 586.6,208.4 587.1,207.5 587.6,217.8 588.1,223.0 588.6,217.5 589.1,216.0 589.6,214.4 590.1,215.8 590.6,222.8 591.1,226.5 591.6,223.1 592.1,218.9 592.6,215.8 593.1,217.6 593.6,215.8 594.1,213.8 594.6,216.7 595.0,219.8 595.5,225.4 596.0,225.3 596.5,226.9 597.0,223.2 597.5,218.4 598.0,220.6 598.5,217.0 599.0,212.7 599.5,216.8 600.0,218.1 600.5,222.5 601.0,226.7 601.5,227.3 602.0,224.9 602.5,220.5 603.0,218.1 603.4,222.5 603.9,225.7 604.4,223.4 604.9,224.3 605.4,223.1 605.9,217.5 606.4,216.9 606.9,219.3 607.4,217.2 607.9,221.8 608.4,224.6 608.9,222.9 609.4,227.2 609.9,227.2 610.4,222.3 610.9,218.8 611.3,220.8 611.8,223.6 612.3,222.1 612.8,220.2 613.3,219.9 613.8,218.4 614.3,214.2 614.8,209.1 615.3,210.3 615.8,214.0 616.3,214.0 616.8,206.8 617.3,207.5 617.8,216.5 618.3,223.0 618.8,220.5 619.3,216.6 619.7,218.5 620.2,220.2 620.7,223.3 621.2,223.2 621.7,221.1 622.2,218.6 622.7,213.3 623.2,216.9 623.7,227.6 624.2,221.2 624.7,216.6 625.2,210.7 625.7,209.5 626.2,212.4 626.7,215.4 627.2,214.8 627.7,217.8 628.1,220.8 628.6,218.7 629.1,216.5 629.6,222.9 630.1,221.1 630.6,219.1 631.1,220.1 631.6,224.1 632.1,222.2 632.6,220.4 633.1,217.1 633.6,215.0 634.1,216.0 634.6,221.8 635.1,224.7 635.6,222.0 636.0,216.7 636.5,219.3 637.0,220.5 637.5,213.8 638.0,209.4 638.5,207.2 639.0,210.4 639.5,214.6 640.0,216.4 640.5,213.5 641.0,208.7 641.5,209.6 642.0,213.1 642.5,217.9 643.0,223.2 643.5,222.8 644.0,216.2 644.4,211.5 644.9,213.0 645.4,218.1 645.9,219.9 646.4,218.6 646.9,223.9 647.4,223.0 647.9,222.4 648.4,223.1 648.9,219.9 649.4,214.3 649.9,213.3 650.4,217.9 650.9,218.6 651.4,216.8 651.9,221.2 652.4,223.8 652.8,215.5 653.3,213.3 653.8,214.8 654.3,214.9 654.8,211.6 655.3,211.0 655.8,203.8 656.3,204.1 656.8,211.5 657.3,222.4 657.8,222.1 658.3,221.7 658.8,227.1 659.3,220.8 659.8,213.8 660.3,213.0 660.7,219.6 661.2,221.6 661.7,216.3 662.2,215.4 662.7,219.4 663.2,227.5 663.7,219.2 664.2,216.7 664.7,221.6" class="ln" stroke="#0000ff" stroke-width="1.2"/>
<polyline points="417.7,219.5 418.2,220.6 418.7,220.9 419.2,216.5 419.7,214.6 420.2,216.1 420.7,213.1 421.2,209.7 421.7,212.1 422.1,217.8 422.6,223.3 423.1,222.7 423.6,221.8 424.1,224.2 424.6,220.0 425.1,227.9 425.6,215.6 426.1,212.0 426.6,217.9 427.1,226.9 427.6,221.8 428.1,218.0 428.6,218.3 429.1,220.9 429.6,223.5 430.1,223.8 430.5,224.1 431.0,225.2 431.5,224.0 432.0,222.0 432.5,224.1 433.0,220.1 433.5,214.8 434.0,208.4 434.5,210.2 435.0,221.0 435.5,216.9 436.0,209.8 436.5,208.5 437.0,214.4 437.5,220.2 438.0,224.2 438.4,219.9 438.9,217.4 439.4,219.8 439.9,222.7 440.4,224.9 440.9,223.4 441.4,221.5 441.9,222.6 442.4,219.0 442.9,218.6 443.4,215.9 443.9,211.8 444.4,213.5 444.9,223.1 445.4,223.1 445.9,218.5 446.4,215.9 446.8,221.6 447.3,223.5 447.8,219.7 448.3,209.1 448.8,203.9 449.3,210.7 449.8,218.4 450.3,219.0 450.8,216.8 451.3,218.3 451.8,220.1 452.3,222.7 452.8,223.9 453.3,218.2 453.8,222.9 454.3,224.1 454.8,218.5 455.2,217.4 455.7,224.7 456.2,222.1 456.7,218.8 457.2,217.0 457.7,214.4 458.2,215.9 458.7,219.4 459.2,217.7 459.7,215.2 460.2,215.1 460.7,218.9 461.2,227.0 461.7,221.7 462.2,221.9 462.7,227.1 463.1,226.1 463.6,224.5 464.1,221.4 464.6,220.6 465.1,221.4 465.6,224.9 466.1,225.6 466.6,224.2 467.1,223.6 467.6,227.5 468.1,221.8 468.6,214.1 469.1,212.0 469.6,219.7 470.1,222.0 470.6,218.7 471.1,220.8 471.5,219.8 472.0,213.1 472.5,210.1 473.0,211.0 473.5,217.0 474.0,221.2 474.5,215.5 475.0,218.1 475.5,219.4 476.0,217.0 476.5,218.5 477.0,220.5 477.5,222.4 478.0,224.6 478.5,223.0 479.0,219.5 479.4,214.4 479.9,216.3 480.4,221.5 480.9,218.6 481.4,219.2 481.9,216.6 482.4,216.0 482.9,214.7 483.4,202.2 483.9,197.3 484.4,199.1 484.9,203.2 485.4,211.1 485.9,213.3 486.4,210.9 486.9,215.9 487.4,225.1 487.8,227.6 488.3,226.0 488.8,223.9 489.3,224.1 489.8,225.3 490.3,216.9 490.8,220.4 491.3,225.0 491.8,222.1 492.3,224.8 492.8,222.7 493.3,220.5 493.8,218.7 494.3,216.3 494.8,222.0 495.3,218.9 495.8,214.2 496.2,221.5 496.7,224.6 497.2,225.0 497.7,222.5 498.2,214.3 498.7,216.7 499.2,217.5 499.7,217.8 500.2,222.1 500.7,220.0 501.2,216.1 501.7,218.0 502.2,223.7 502.7,224.3 503.2,217.9 503.7,221.2 504.1,221.1 504.6,208.7 505.1,205.2 505.6,211.9 506.1,218.4 506.6,216.1 507.1,213.6 507.6,214.6 508.1,220.2 508.6,224.2 509.1,222.7 509.6,220.6 510.1,221.3 510.6,225.0 511.1,218.8 511.6,211.1 512.1,213.1 512.5,221.7 513.0,222.7 513.5,217.1 514.0,214.1 514.5,218.1 515.0,226.7 515.5,219.7 516.0,219.6 516.5,219.6 517.0,218.3 517.5,218.4 518.0,223.6 518.5,226.6 519.0,225.7 519.5,221.7 520.0,216.0 520.5,209.0 520.9,205.7 521.4,209.6 521.9,214.9 522.4,220.2 522.9,219.4 523.4,214.1 523.9,215.7 524.4,219.6 524.9,214.1 525.4,215.4 525.9,221.1 526.4,222.7 526.9,221.0 527.4,221.4 527.9,223.7 528.4,223.3 528.9,219.2 529.3,218.4 529.8,223.5 530.3,226.3 530.8,224.7 531.3,223.5 531.8,219.1 532.3,213.0 532.8,211.2 533.3,209.9 533.8,210.9 534.3,213.1 534.8,216.9 535.3,222.6 535.8,224.0 536.3,222.3 536.8,216.0 537.2,218.9 537.7,223.0 538.2,211.9 538.7,207.3 539.2,206.7 539.7,212.1 540.2,218.2 540.7,219.7 541.2,222.0 541.7,220.7 542.2,223.0 542.7,223.5 543.2,219.5 543.7,223.2 544.2,217.7 544.7,215.7 545.2,213.1 545.6,217.4 546.1,221.8 546.6,219.9 547.1,217.9 547.6,223.2 548.1,223.0 548.6,220.4 549.1,214.2 549.6,208.3 550.1,209.4 550.6,208.3 551.1,199.7 551.6,192.8 552.1,190.8 552.6,187.6 553.1,190.4 553.5,196.5 554.0,205.1 554.5,211.5 555.0,214.6 555.5,220.1 556.0,223.6 556.5,218.6 557.0,213.1 557.5,215.5 558.0,218.3 558.5,224.8 559.0,221.0 559.5,217.6 560.0,218.8 560.5,215.7 561.0,215.7 561.5,217.3 561.9,218.6 562.4,219.9 562.9,222.2 563.4,225.2 563.9,222.9 564.4,219.1 564.9,226.2 565.4,220.5 565.9,218.7 566.4,219.6 566.9,224.7 567.4,219.0 567.9,206.7 568.4,208.2 568.9,222.7 569.4,222.9 569.9,223.6 570.3,226.2 570.8,222.7 571.3,215.8 571.8,214.1 572.3,211.4 572.8,212.1 573.3,220.8 573.8,224.5 574.3,217.6 574.8,212.3 575.3,212.8 575.8,210.7 576.3,216.0 576.8,223.1 577.3,219.4 577.8,220.5 578.2,223.1 578.7,219.3 579.2,212.4 579.7,210.7 580.2,210.7 580.7,211.6 581.2,218.2 581.7,223.9 582.2,221.2 582.7,220.9 583.2,214.6 583.7,220.0 584.2,218.7 584.7,224.2 585.2,223.7 585.7,222.1 586.2,218.0 586.6,217.8 587.1,222.9 587.6,224.4 588.1,224.5 588.6,221.3 589.1,217.1 589.6,215.8 590.1,218.4 590.6,220.1 591.1,219.9 591.6,225.0 592.1,227.3 592.6,226.2 593.1,226.4 593.6,219.4 594.1,207.9 594.6,201.8 595.0,204.3 595.5,210.2 596.0,215.0 596.5,219.9 597.0,225.3 597.5,222.1 598.0,216.0 598.5,213.6 599.0,215.5 599.5,225.0 600.0,220.4 600.5,217.4 601.0,217.7 601.5,218.1 602.0,217.3 602.5,217.6 603.0,214.5 603.4,212.1 603.9,218.2 604.4,218.6 604.9,210.8 605.4,210.8 605.9,216.0 606.4,220.1 606.9,219.3 607.4,222.6 607.9,220.6 608.4,211.8 608.9,212.6 609.4,217.7 609.9,219.8 610.4,221.2 610.9,217.8 611.3,219.8 611.8,225.0 612.3,215.8 612.8,218.8 613.3,224.5 613.8,226.9 614.3,224.7 614.8,223.2 615.3,227.0 615.8,224.7 616.3,225.1 616.8,224.8 617.3,222.9 617.8,222.7 618.3,220.2 618.8,219.6 619.3,224.6 619.7,226.3 620.2,222.6 620.7,216.7 621.2,216.9 621.7,224.0 622.2,220.5 622.7,217.2 623.2,216.5 623.7,218.8 624.2,220.2 624.7,222.6 625.2,218.0 625.7,213.2 626.2,216.0 626.7,216.9 627.2,217.1 627.7,221.1 628.1,225.7 628.6,220.8 629.1,221.7 629.6,222.5 630.1,220.5 630.6,222.3 631.1,227.0 631.6,219.0 632.1,216.1 632.6,213.4 633.1,205.9 633.6,205.4 634.1,210.7 634.6,214.5 635.1,216.8 635.6,215.8 636.0,216.0 636.5,215.4 637.0,211.2 637.5,212.0 638.0,214.8 638.5,215.8 639.0,218.2 639.5,214.2 640.0,205.0 640.5,201.9 641.0,212.9 641.5,224.6 642.0,220.1 642.5,222.6 643.0,222.5 643.5,227.0 644.0,221.0 644.4,221.4 644.9,222.3 645.4,220.9 645.9,218.0 646.4,213.4 646.9,215.1 647.4,224.9 647.9,221.1 648.4,221.9 648.9,224.3 649.4,219.2 649.9,222.1 650.4,222.4 650.9,218.4 651.4,219.2 651.9,226.3 652.4,223.7 652.8,221.6 653.3,222.1 653.8,226.6 654.3,224.1 654.8,224.3 655.3,220.4 655.8,220.8 656.3,224.9 656.8,220.4 657.3,222.4 657.8,222.2 658.3,215.4 658.8,215.4 659.3,219.4 659.8,219.9 660.3,221.4 660.7,220.4 661.2,220.3 661.7,219.5 662.2,220.0 662.7,226.9 663.2,223.3 663.7,221.2 664.2,216.1 664.7,223.6" class="ln" stroke="#0000ff" stroke-width="1.2"/>
<polyline points="417.7,220.7 418.2,216.9 418.7,213.3 419.2,214.7 419.7,217.5 420.2,220.3 420.7,220.5 421.2,214.6 421.7,211.8 422.1,212.7 422.6,213.9 423.1,217.9 423.6,223.3 424.1,223.0 424.6,216.0 425.1,218.5 425.6,217.8 426.1,215.8 426.6,220.3 427.1,222.1 427.6,221.1 428.1,224.6 428.6,212.6 429.1,208.9 429.6,211.0 430.1,214.4 430.5,214.1 431.0,214.3 431.5,212.7 432.0,212.8 432.5,216.0 433.0,217.4 433.5,217.3 434.0,220.8 434.5,218.4 435.0,218.1 435.5,218.8 436.0,218.9 436.5,219.2 437.0,225.3 437.5,219.8 438.0,215.3 438.4,219.0 438.9,217.6 439.4,217.4 439.9,217.5 440.4,217.1 440.9,216.2 441.4,217.6 441.9,222.3 442.4,224.3 442.9,219.8 443.4,215.8 443.9,220.1 444.4,214.5 444.9,210.0 445.4,219.9 445.9,224.0 446.4,225.6 446.8,221.1 447.3,216.2 447.8,212.8 448.3,214.6 448.8,224.8 449.3,220.6 449.8,219.7 450.3,220.5 450.8,221.9 451.3,220.3 451.8,222.1 452.3,218.6 452.8,214.9 453.3,214.8 453.8,212.5 454.3,215.6 454.8,225.8 455.2,220.3 455.7,215.2 456.2,212.9 456.7,217.9 457.2,219.2 457.7,217.3 458.2,219.0 458.7,214.2 459.2,212.1 459.7,216.7 460.2,224.3 460.7,226.9 461.2,222.3 461.7,217.9 462.2,216.7 462.7,221.6 463.1,227.6 463.6,220.5 464.1,211.5 464.6,206.8 465.1,212.9 465.6,223.4 466.1,220.4 466.6,223.2 467.1,226.0 467.6,226.3 468.1,221.4 468.6,218.2 469.1,224.1 469.6,222.1 470.1,219.9 470.6,213.9 471.1,211.1 471.5,214.1 472.0,219.4 472.5,221.2 473.0,219.7 473.5,219.4 474.0,217.7 474.5,215.2 475.0,215.7 475.5,222.5 476.0,222.8 476.5,225.8 477.0,222.1 477.5,218.1 478.0,213.4 478.5,218.2 479.0,226.8 479.4,223.2 479.9,221.4 480.4,220.8 480.9,221.1 481.4,216.5 481.9,216.6 482.4,221.9 482.9,221.7 483.4,215.8 483.9,212.7 484.4,214.9 484.9,212.2 485.4,218.7 485.9,224.4 486.4,215.9 486.9,210.8 487.4,217.9 487.8,216.2 488.3,208.3 488.8,204.3 489.3,203.6 489.8,211.3 490.3,220.5 490.8,222.2 491.3,223.1 491.8,222.0 492.3,221.9 492.8,219.2 493.3,219.4 493.8,216.6 494.3,209.7 494.8,210.7 495.3,217.8 495.8,217.1 496.2,215.5 496.7,219.1 497.2,222.0 497.7,220.6 498.2,219.3 498.7,221.7 499.2,222.5 499.7,221.5 500.2,223.3 500.7,224.4 501.2,222.6 501.7,220.5 502.2,214.3 502.7,214.0 503.2,222.5 503.7,213.7 504.1,211.7 504.6,216.7 505.1,217.6 505.6,219.8 506.1,219.7 506.6,209.3 507.1,210.2 507.6,220.4 508.1,223.2 508.6,223.7 509.1,222.5 509.6,219.2 510.1,217.7 510.6,220.4 511.1,224.9 511.6,223.3 512.1,216.8 512.5,216.3 513.0,223.1 513.5,223.0 514.0,215.2 514.5,212.7 515.0,213.9 515.5,215.2 516.0,219.1 516.5,224.4 517.0,216.8 517.5,216.7 518.0,213.0 518.5,214.0 519.0,220.2 519.5,218.3 520.0,212.5 520.5,214.8 520.9,218.8 521.4,214.9 521.9,217.7 522.4,220.9 522.9,219.8 523.4,216.1 523.9,215.1 524.4,210.4 524.9,206.8 525.4,210.6 525.9,218.2 526.4,214.8 526.9,211.2 527.4,212.9 527.9,215.1 528.4,213.5 528.9,216.0 529.3,225.1 529.8,225.0 530.3,225.5 530.8,223.2 531.3,221.7 531.8,218.3 532.3,213.7 532.8,213.4 533.3,211.2 533.8,216.2 534.3,224.2 534.8,225.9 535.3,225.0 535.8,222.4 536.3,219.9 536.8,217.3 537.2,218.2 537.7,218.2 538.2,215.4 538.7,213.3 539.2,215.3 539.7,217.8 540.2,218.1 540.7,220.6 541.2,227.6 541.7,221.2 542.2,216.3 542.7,212.3 543.2,216.5 543.7,226.9 544.2,225.6 544.7,223.5 545.2,221.8 545.6,224.5 546.1,223.5 546.6,224.7 547.1,222.1 547.6,219.1 548.1,218.0 548.6,216.8 549.1,216.5 549.6,211.8 550.1,204.1 550.6,202.3 551.1,202.9 551.6,206.6 552.1,214.5 552.6,217.3 553.1,216.8 553.5,215.9 554.0,219.8 554.5,224.6 555.0,227.0 555.5,227.8 556.0,224.3 556.5,221.6 557.0,224.1 557.5,215.4 558.0,214.5 558.5,219.5 559.0,220.6 559.5,218.3 560.0,216.1 560.5,217.2 561.0,220.3 561.5,223.2 561.9,217.7 562.4,218.8 562.9,222.4 563.4,222.4 563.9,216.9 564.4,219.1 564.9,222.7 565.4,217.3 565.9,218.0 566.4,218.2 566.9,214.8 567.4,218.7 567.9,226.5 568.4,218.4 568.9,215.6 569.4,225.9 569.9,219.4 570.3,222.8 570.8,221.5 571.3,213.4 571.8,208.1 572.3,211.2 572.8,217.5 573.3,224.9 573.8,221.9 574.3,210.0 574.8,205.5 575.3,207.8 575.8,207.4 576.3,215.0 576.8,217.9 577.3,211.9 577.8,213.1 578.2,219.3 578.7,219.7 579.2,218.3 579.7,217.3 580.2,218.9 580.7,222.6 581.2,225.8 581.7,223.7 582.2,220.6 582.7,218.6 583.2,217.8 583.7,218.2 584.2,216.7 584.7,219.0 585.2,224.3 585.7,210.5 586.2,204.8 586.6,204.6 587.1,199.9 587.6,194.1 588.1,201.7 588.6,205.2 589.1,208.6 589.6,213.8 590.1,219.6 590.6,224.4 591.1,224.0 591.6,225.7 592.1,221.9 592.6,216.1 593.1,219.5 593.6,225.3 594.1,217.7 594.6,216.3 595.0,220.7 595.5,226.4 596.0,221.9 596.5,221.9 597.0,218.9 597.5,216.1 598.0,214.9 598.5,216.6 599.0,219.2 599.5,217.2 600.0,217.6 600.5,221.4 601.0,227.8 601.5,220.0 602.0,208.4 602.5,204.7 603.0,210.2 603.4,215.8 603.9,219.3 604.4,225.2 604.9,222.7 605.4,223.1 605.9,220.1 606.4,216.0 606.9,217.1 607.4,220.5 607.9,224.3 608.4,227.3 608.9,225.6 609.4,222.9 609.9,216.5 610.4,209.3 610.9,209.6 611.3,210.5 611.8,212.4 612.3,218.8 612.8,226.4 613.3,226.4 613.8,226.0 614.3,220.4 614.8,218.2 615.3,219.7 615.8,222.2 616.3,220.0 616.8,214.2 617.3,220.5 617.8,222.8 618.3,218.1 618.8,216.1 619.3,215.8 619.7,215.5 620.2,221.0 620.7,224.9 621.2,223.2 621.7,219.0 622.2,219.8 622.7,220.9 623.2,221.2 623.7,221.6 624.2,226.0 624.7,222.2 625.2,219.9 625.7,216.8 626.2,221.8 626.7,220.0 627.2,219.7 627.7,224.6 628.1,220.8 628.6,223.3 629.1,226.5 629.6,219.4 630.1,216.5 630.6,218.5 631.1,219.1 631.6,214.0 632.1,213.9 632.6,222.2 633.1,226.5 633.6,226.7 634.1,221.0 634.6,212.1 635.1,217.7 635.6,225.2 636.0,224.9 636.5,225.6 637.0,227.2 637.5,221.3 638.0,217.1 638.5,220.9 639.0,223.1 639.5,219.1 640.0,223.1 640.5,223.1 641.0,219.0 641.5,223.3 642.0,212.9 642.5,212.0 643.0,215.0 643.5,213.6 644.0,216.9 644.4,219.9 644.9,222.8 645.4,219.8 645.9,219.7 646.4,221.2 646.9,218.6 647.4,215.0 647.9,217.5 648.4,226.7 648.9,223.3 649.4,220.7 649.9,219.4 650.4,217.8 650.9,216.8 651.4,218.7 651.9,223.7 652.4,215.5 652.8,211.1 653.3,215.5 653.8,221.3 654.3,218.0 654.8,219.5 655.3,225.7 655.8,221.9 656.3,223.2 656.8,218.5 657.3,218.0 657.8,216.3 658.3,216.0 658.8,219.8 659.3,223.4 659.8,225.6 660.3,220.0 660.7,215.7 661.2,219.5 661.7,227.4 662.2,219.4 662.7,215.1 663.2,215.2 663.7,216.4 664.2,217.1 664.7,222.4" class="ln" stroke="#0000ff" stroke-width="1.2"/>
</g>
<rect x="417.7" y="37.3" width="247.0" height="190.9" fill="none" stroke="#1c1c1c" stroke-width="1.0"/><path d="M467.1 228.2v-3.2M467.1 37.3v3.2M516.5 228.2v-3.2M516.5 37.3v3.2M565.9 228.2v-3.2M565.9 37.3v3.2M615.3 228.2v-3.2M615.3 37.3v3.2M417.7 190.0h3.2M664.7 190.0h-3.2M417.7 151.8h3.2M664.7 151.8h-3.2M417.7 113.7h3.2M664.7 113.7h-3.2M417.7 75.5h3.2M664.7 75.5h-3.2" stroke="#111" stroke-width="0.7" fill="none"/><text x="0" y="0" font-size="16.4" class="dv" text-anchor="middle" transform="translate(417.7 243.7) scale(0.93 1)">0</text><text x="0" y="0" font-size="16.4" class="dv" text-anchor="middle" transform="translate(467.1 243.7) scale(0.93 1)">2</text><text x="0" y="0" font-size="16.4" class="dv" text-anchor="middle" transform="translate(516.5 243.7) scale(0.93 1)">4</text><text x="0" y="0" font-size="16.4" class="dv" text-anchor="middle" transform="translate(565.9 243.7) scale(0.93 1)">6</text><text x="0" y="0" font-size="16.4" class="dv" text-anchor="middle" transform="translate(615.3 243.7) scale(0.93 1)">8</text><text x="0" y="0" font-size="16.4" class="dv" text-anchor="middle" transform="translate(664.7 243.7) scale(0.93 1)">10</text><text x="0" y="0" font-size="16.4" class="dv" text-anchor="end" transform="translate(414.5 234.1) scale(0.93 1)">0.0</text><text x="0" y="0" font-size="16.4" class="dv" text-anchor="end" transform="translate(414.5 195.9) scale(0.93 1)">0.5</text><text x="0" y="0" font-size="16.4" class="dv" text-anchor="end" transform="translate(414.5 157.7) scale(0.93 1)">1.0</text><text x="0" y="0" font-size="16.4" class="dv" text-anchor="end" transform="translate(414.5 119.6) scale(0.93 1)">1.5</text><text x="0" y="0" font-size="16.4" class="dv" text-anchor="end" transform="translate(414.5 81.4) scale(0.93 1)">2.0</text><text x="0" y="0" font-size="16.4" class="dv" text-anchor="end" transform="translate(414.5 43.2) scale(0.93 1)">2.5</text><text x="541.2" y="263.0" font-size="19.5" class="dv" text-anchor="middle">Time (ps)</text><text x="0" y="0" font-size="19.6" class="dv" text-anchor="middle" transform="translate(380.7 132.8) rotate(-90) scale(1 1.07)">RMS Displacement (<tspan class="sf" font-size="19.5">Å</tspan>)</text>
<g clip-path="url(#cqb)">
<polyline points="417.7,505.6 418.2,506.4 418.7,504.0 419.2,497.3 419.7,498.3 420.2,506.4 420.7,503.3 421.2,497.1 421.7,490.6 422.1,492.3 422.6,499.4 423.1,504.5 423.6,504.1 424.1,501.4 424.6,498.5 425.1,498.3 425.6,501.5 426.1,505.2 426.6,505.5 427.1,505.3 427.6,506.5 428.1,509.4 428.6,510.3 429.1,507.0 429.6,503.8 430.1,498.2 430.5,492.7 431.0,489.4 431.5,488.9 432.0,482.0 432.5,473.6 433.0,473.6 433.5,475.3 434.0,471.2 434.5,474.4 435.0,480.0 435.5,476.4 436.0,476.3 436.5,483.3 437.0,492.8 437.5,497.3 438.0,503.4 438.4,503.3 438.9,501.0 439.4,501.7 439.9,503.2 440.4,507.6 440.9,508.2 441.4,509.0 441.9,506.1 442.4,504.5 442.9,503.7 443.4,507.6 443.9,505.1 444.4,499.9 444.9,495.7 445.4,494.4 445.9,497.2 446.4,502.7 446.8,499.8 447.3,499.8 447.8,503.1 448.3,501.1 448.8,498.0 449.3,499.8 449.8,504.0 450.3,500.9 450.8,499.0 451.3,504.6 451.8,506.9 452.3,500.9 452.8,501.7 453.3,507.9 453.8,506.5 454.3,502.8 454.8,499.9 455.2,498.3 455.7,500.7 456.2,506.9 456.7,506.7 457.2,503.4 457.7,498.3 458.2,498.5 458.7,506.1 459.2,506.2 459.7,499.4 460.2,495.6 460.7,495.9 461.2,500.5 461.7,504.0 462.2,502.0 462.7,499.0 463.1,498.7 463.6,498.8 464.1,501.5 464.6,509.8 465.1,503.9 465.6,500.4 466.1,499.4 466.6,501.2 467.1,505.0 467.6,506.3 468.1,507.8 468.6,506.3 469.1,503.9 469.6,505.6 470.1,508.3 470.6,503.8 471.1,498.5 471.5,496.8 472.0,498.4 472.5,504.0 473.0,504.7 473.5,502.0 474.0,506.2 474.5,508.4 475.0,508.4 475.5,506.6 476.0,505.1 476.5,504.7 477.0,501.4 477.5,499.0 478.0,500.4 478.5,503.0 479.0,504.9 479.4,504.6 479.9,503.0 480.4,503.6 480.9,503.9 481.4,506.3 481.9,507.0 482.4,499.0 482.9,499.7 483.4,505.7 483.9,509.3 484.4,508.0 484.9,505.4 485.4,507.0 485.9,510.3 486.4,506.9 486.9,502.0 487.4,501.7 487.8,508.7 488.3,502.1 488.8,497.8 489.3,494.5 489.8,489.5 490.3,487.3 490.8,492.9 491.3,502.8 491.8,506.1 492.3,504.5 492.8,504.5 493.3,507.7 493.8,500.0 494.3,498.8 494.8,499.6 495.3,495.6 495.8,493.7 496.2,498.6 496.7,505.1 497.2,509.0 497.7,505.4 498.2,499.6 498.7,500.2 499.2,504.5 499.7,503.5 500.2,501.9 500.7,501.7 501.2,503.9 501.7,507.4 502.2,510.2 502.7,506.8 503.2,507.5 503.7,509.4 504.1,504.5 504.6,502.8 505.1,504.5 505.6,507.8 506.1,510.1 506.6,506.6 507.1,504.8 507.6,505.0 508.1,507.3 508.6,505.9 509.1,501.7 509.6,498.1 510.1,497.6 510.6,500.5 511.1,503.9 511.6,506.4 512.1,507.9 512.5,504.1 513.0,500.5 513.5,498.7 514.0,498.6 514.5,501.6 515.0,501.9 515.5,499.8 516.0,501.5 516.5,504.8 517.0,503.5 517.5,500.3 518.0,500.4 518.5,503.1 519.0,502.7 519.5,503.3 520.0,504.2 520.5,500.7 520.9,501.7 521.4,506.5 521.9,506.8 522.4,504.8 522.9,506.5 523.4,508.7 523.9,509.7 524.4,505.8 524.9,503.7 525.4,501.6 525.9,498.7 526.4,495.8 526.9,495.0 527.4,496.3 527.9,500.1 528.4,507.7 528.9,507.1 529.3,506.0 529.8,501.7 530.3,495.0 530.8,497.1 531.3,505.1 531.8,507.3 532.3,501.5 532.8,497.1 533.3,500.4 533.8,503.8 534.3,504.8 534.8,504.5 535.3,502.3 535.8,499.3 536.3,496.5 536.8,496.2 537.2,499.2 537.7,499.7 538.2,495.8 538.7,495.5 539.2,496.7 539.7,497.7 540.2,501.0 540.7,504.8 541.2,506.2 541.7,504.8 542.2,502.2 542.7,501.1 543.2,499.5 543.7,498.6 544.2,501.9 544.7,504.7 545.2,501.8 545.6,500.6 546.1,505.6 546.6,506.1 547.1,502.9 547.6,505.2 548.1,508.7 548.6,508.3 549.1,506.2 549.6,505.4 550.1,505.5 550.6,505.2 551.1,504.2 551.6,503.1 552.1,501.4 552.6,499.3 553.1,499.6 553.5,494.5 554.0,490.3 554.5,494.3 555.0,499.8 555.5,498.2 556.0,497.4 556.5,503.9 557.0,505.1 557.5,504.0 558.0,508.8 558.5,505.6 559.0,500.3 559.5,499.6 560.0,500.3 560.5,498.2 561.0,498.0 561.5,499.7 561.9,501.1 562.4,503.4 562.9,510.0 563.4,501.5 563.9,495.8 564.4,496.5 564.9,501.2 565.4,502.4 565.9,501.4 566.4,499.1 566.9,497.4 567.4,499.8 567.9,501.4 568.4,501.3 568.9,504.3 569.4,504.8 569.9,507.2 570.3,507.1 570.8,507.1 571.3,507.2 571.8,509.2 572.3,501.7 572.8,494.5 573.3,493.8 573.8,499.5 574.3,504.9 574.8,504.6 575.3,502.3 575.8,500.6 576.3,502.6 576.8,505.1 577.3,502.8 577.8,499.5 578.2,498.3 578.7,501.4 579.2,506.8 579.7,508.7 580.2,507.6 580.7,504.6 581.2,504.8 581.7,502.4 582.2,503.5 582.7,510.4 583.2,508.2 583.7,504.4 584.2,503.8 584.7,505.2 585.2,505.2 585.7,510.0 586.2,504.1 586.6,497.7 587.1,497.7 587.6,501.9 588.1,502.6 588.6,501.9 589.1,503.7 589.6,503.7 590.1,505.8 590.6,507.4 591.1,507.2 591.6,508.9 592.1,504.9 592.6,504.1 593.1,508.9 593.6,506.8 594.1,503.9 594.6,504.5 595.0,508.0 595.5,504.7 596.0,500.9 596.5,501.3 597.0,504.7 597.5,508.6 598.0,509.4 598.5,509.0 599.0,507.0 599.5,509.4 600.0,505.5 600.5,503.3 601.0,501.7 601.5,503.8 602.0,506.4 602.5,507.1 603.0,505.6 603.4,501.5 603.9,498.7 604.4,498.9 604.9,502.2 605.4,505.1 605.9,504.9 606.4,505.6 606.9,507.7 607.4,502.4 607.9,498.1 608.4,497.8 608.9,501.9 609.4,506.4 609.9,510.7 610.4,505.7 610.9,502.9 611.3,505.4 611.8,508.2 612.3,505.8 612.8,503.5 613.3,504.9 613.8,509.1 614.3,507.2 614.8,510.3 615.3,502.8 615.8,498.9 616.3,504.1 616.8,503.1 617.3,494.9 617.8,489.0 618.3,488.4 618.8,495.6 619.3,508.2 619.7,501.5 620.2,494.5 620.7,493.8 621.2,498.9 621.7,504.8 622.2,506.4 622.7,503.3 623.2,501.4 623.7,498.0 624.2,501.8 624.7,505.1 625.2,503.5 625.7,508.7 626.2,505.9 626.7,503.8 627.2,503.1 627.7,503.1 628.1,506.1 628.6,507.9 629.1,507.7 629.6,503.0 630.1,499.6 630.6,501.6 631.1,503.5 631.6,503.3 632.1,503.3 632.6,503.8 633.1,502.7 633.6,503.2 634.1,505.9 634.6,505.9 635.1,504.4 635.6,505.5 636.0,507.0 636.5,503.3 637.0,501.4 637.5,504.7 638.0,508.4 638.5,507.1 639.0,507.5 639.5,505.0 640.0,502.2 640.5,502.6 641.0,507.0 641.5,506.2 642.0,508.8 642.5,509.6 643.0,509.7 643.5,507.3 644.0,506.5 644.4,507.8 644.9,503.8 645.4,497.1 645.9,497.2 646.4,503.9 646.9,505.9 647.4,502.9 647.9,504.4 648.4,505.5 648.9,506.0 649.4,509.1 649.9,507.0 650.4,502.2 650.9,501.4 651.4,507.5 651.9,507.5 652.4,509.5 652.8,507.3 653.3,502.6 653.8,500.1 654.3,504.1 654.8,508.7 655.3,510.4 655.8,506.0 656.3,503.5 656.8,499.7 657.3,498.1 657.8,500.7 658.3,503.1 658.8,503.7 659.3,505.4 659.8,504.7 660.3,502.0 660.7,507.2 661.2,506.0 661.7,503.8 662.2,505.4 662.7,504.2 663.2,502.5 663.7,503.4 664.2,504.0 664.7,498.6" class="ln" stroke="#008000" stroke-width="1.6"/>
<polyline points="417.7,498.9 418.2,502.3 418.7,504.6 419.2,500.9 419.7,500.3 420.2,501.8 420.7,505.9 421.2,505.4 421.7,503.4 422.1,504.9 422.6,503.6 423.1,501.1 423.6,502.1 424.1,504.1 424.6,501.4 425.1,499.2 425.6,502.1 426.1,506.0 426.6,503.7 427.1,501.4 427.6,504.1 428.1,505.0 428.6,505.8 429.1,508.4 429.6,508.9 430.1,509.2 430.5,506.3 431.0,504.2 431.5,506.2 432.0,509.4 432.5,508.2 433.0,503.8 433.5,499.1 434.0,497.6 434.5,501.2 435.0,507.1 435.5,507.7 436.0,508.4 436.5,508.7 437.0,509.7 437.5,509.6 438.0,506.7 438.4,506.0 438.9,501.7 439.4,494.1 439.9,495.5 440.4,505.6 440.9,507.2 441.4,506.0 441.9,509.6 442.4,503.5 442.9,501.6 443.4,504.5 443.9,508.4 444.4,508.9 444.9,505.2 445.4,504.6 445.9,504.8 446.4,502.8 446.8,501.2 447.3,506.4 447.8,508.0 448.3,508.1 448.8,503.1 449.3,496.5 449.8,494.0 450.3,487.6 450.8,478.7 451.3,474.1 451.8,475.8 452.3,480.9 452.8,486.0 453.3,494.5 453.8,502.6 454.3,500.3 454.8,500.8 455.2,504.0 455.7,506.0 456.2,506.1 456.7,504.3 457.2,502.6 457.7,501.8 458.2,504.1 458.7,507.5 459.2,502.9 459.7,500.6 460.2,500.4 460.7,502.2 461.2,503.8 461.7,504.9 462.2,507.0 462.7,507.6 463.1,502.2 463.6,497.1 464.1,498.7 464.6,505.4 465.1,507.5 465.6,505.4 466.1,507.3 466.6,507.9 467.1,505.8 467.6,508.8 468.1,506.1 468.6,503.5 469.1,506.5 469.6,510.0 470.1,504.3 470.6,499.2 471.1,499.1 471.5,502.5 472.0,507.8 472.5,506.4 473.0,504.8 473.5,507.9 474.0,508.2 474.5,508.8 475.0,510.1 475.5,510.1 476.0,509.6 476.5,506.1 477.0,501.8 477.5,499.6 478.0,501.4 478.5,506.1 479.0,507.9 479.4,507.0 479.9,504.4 480.4,505.1 480.9,508.8 481.4,507.8 481.9,505.4 482.4,506.1 482.9,507.4 483.4,509.1 483.9,510.3 484.4,506.7 484.9,504.2 485.4,505.0 485.9,506.6 486.4,506.0 486.9,504.6 487.4,501.7 487.8,502.0 488.3,505.8 488.8,505.7 489.3,502.8 489.8,499.5 490.3,498.3 490.8,497.1 491.3,494.9 491.8,497.1 492.3,501.4 492.8,501.0 493.3,499.7 493.8,501.0 494.3,501.5 494.8,501.5 495.3,505.2 495.8,508.1 496.2,503.1 496.7,501.8 497.2,506.8 497.7,500.5 498.2,497.8 498.7,502.2 499.2,506.0 499.7,508.8 500.2,507.5 500.7,504.9 501.2,504.3 501.7,502.2 502.2,503.8 502.7,508.0 503.2,507.5 503.7,504.6 504.1,501.4 504.6,502.0 505.1,506.7 505.6,508.2 506.1,508.5 506.6,506.0 507.1,504.6 507.6,505.9 508.1,508.5 508.6,507.7 509.1,507.2 509.6,508.3 510.1,508.3 510.6,507.7 511.1,505.7 511.6,502.7 512.1,503.0 512.5,505.1 513.0,502.8 513.5,501.0 514.0,504.7 514.5,508.8 515.0,504.9 515.5,501.2 516.0,497.4 516.5,498.9 517.0,501.7 517.5,502.5 518.0,500.9 518.5,496.8 519.0,495.8 519.5,499.6 520.0,504.3 520.5,505.7 520.9,508.6 521.4,507.1 521.9,506.1 522.4,497.2 522.9,498.4 523.4,505.7 523.9,506.9 524.4,503.8 524.9,501.5 525.4,504.4 525.9,504.4 526.4,493.1 526.9,491.6 527.4,496.5 527.9,502.4 528.4,504.5 528.9,499.3 529.3,499.1 529.8,502.5 530.3,506.5 530.8,506.0 531.3,503.6 531.8,505.5 532.3,508.0 532.8,510.5 533.3,510.0 533.8,509.1 534.3,505.7 534.8,503.9 535.3,502.9 535.8,503.5 536.3,507.4 536.8,509.3 537.2,505.6 537.7,504.7 538.2,508.2 538.7,508.1 539.2,507.1 539.7,507.7 540.2,508.6 540.7,505.1 541.2,505.3 541.7,506.6 542.2,505.1 542.7,500.2 543.2,500.4 543.7,495.8 544.2,492.9 544.7,498.2 545.2,503.5 545.6,503.6 546.1,504.3 546.6,502.8 547.1,498.7 547.6,495.1 548.1,495.5 548.6,502.2 549.1,507.2 549.6,505.2 550.1,506.2 550.6,504.8 551.1,508.9 551.6,506.1 552.1,502.1 552.6,503.4 553.1,500.9 553.5,500.1 554.0,505.5 554.5,506.0 555.0,505.8 555.5,508.2 556.0,510.1 556.5,509.6 557.0,508.1 557.5,509.3 558.0,508.0 558.5,506.3 559.0,508.5 559.5,506.1 560.0,501.2 560.5,503.0 561.0,509.2 561.5,506.1 561.9,510.0 562.4,507.0 562.9,508.2 563.4,508.7 563.9,503.3 564.4,499.9 564.9,500.8 565.4,503.6 565.9,505.8 566.4,510.2 566.9,507.8 567.4,508.6 567.9,509.6 568.4,507.1 568.9,507.6 569.4,510.5 569.9,505.3 570.3,503.7 570.8,504.5 571.3,504.7 571.8,506.0 572.3,508.2 572.8,504.5 573.3,501.9 573.8,504.8 574.3,506.8 574.8,508.2 575.3,506.3 575.8,499.8 576.3,494.9 576.8,494.8 577.3,496.0 577.8,498.9 578.2,502.3 578.7,503.2 579.2,502.4 579.7,501.7 580.2,503.6 580.7,504.2 581.2,503.0 581.7,505.9 582.2,509.4 582.7,505.6 583.2,503.2 583.7,501.3 584.2,497.6 584.7,496.0 585.2,500.1 585.7,506.4 586.2,506.3 586.6,501.3 587.1,502.2 587.6,510.9 588.1,500.7 588.6,498.5 589.1,503.3 589.6,505.8 590.1,503.8 590.6,503.2 591.1,504.8 591.6,509.5 592.1,504.5 592.6,503.1 593.1,507.8 593.6,506.3 594.1,507.5 594.6,504.5 595.0,500.7 595.5,498.0 596.0,499.1 596.5,504.0 597.0,505.6 597.5,504.7 598.0,504.7 598.5,502.0 599.0,502.1 599.5,506.9 600.0,505.7 600.5,502.6 601.0,501.8 601.5,506.1 602.0,509.3 602.5,503.3 603.0,499.2 603.4,499.1 603.9,501.1 604.4,501.3 604.9,497.6 605.4,495.9 605.9,499.7 606.4,500.2 606.9,501.0 607.4,498.8 607.9,496.9 608.4,498.6 608.9,499.7 609.4,498.7 609.9,496.6 610.4,494.2 610.9,495.6 611.3,500.5 611.8,502.1 612.3,499.4 612.8,503.0 613.3,509.3 613.8,503.5 614.3,504.1 614.8,509.1 615.3,506.4 615.8,504.0 616.3,503.0 616.8,498.4 617.3,494.2 617.8,495.8 618.3,501.1 618.8,504.8 619.3,504.3 619.7,502.9 620.2,502.7 620.7,500.4 621.2,501.0 621.7,506.9 622.2,509.4 622.7,508.8 623.2,505.2 623.7,507.0 624.2,506.9 624.7,503.3 625.2,505.7 625.7,503.4 626.2,499.2 626.7,501.7 627.2,507.4 627.7,507.6 628.1,507.9 628.6,501.2 629.1,499.7 629.6,500.2 630.1,503.7 630.6,509.7 631.1,506.1 631.6,506.1 632.1,507.5 632.6,508.0 633.1,507.8 633.6,510.1 634.1,507.9 634.6,504.3 635.1,500.6 635.6,495.9 636.0,491.1 636.5,489.5 637.0,491.2 637.5,494.2 638.0,496.5 638.5,498.4 639.0,501.4 639.5,506.8 640.0,504.7 640.5,503.0 641.0,502.3 641.5,505.0 642.0,507.1 642.5,498.9 643.0,496.3 643.5,500.9 644.0,508.1 644.4,506.7 644.9,501.8 645.4,502.1 645.9,503.0 646.4,501.1 646.9,502.5 647.4,504.4 647.9,503.9 648.4,503.3 648.9,502.1 649.4,502.2 649.9,502.3 650.4,502.1 650.9,499.2 651.4,498.1 651.9,502.9 652.4,509.8 652.8,506.3 653.3,505.0 653.8,500.9 654.3,492.7 654.8,486.0 655.3,487.6 655.8,494.6 656.3,501.6 656.8,508.6 657.3,503.7 657.8,497.2 658.3,495.1 658.8,500.3 659.3,508.4 659.8,507.3 660.3,504.4 660.7,503.7 661.2,506.5 661.7,508.2 662.2,503.5 662.7,503.6 663.2,508.9 663.7,508.2 664.2,509.7 664.7,508.6" class="ln" stroke="#bf00bf" stroke-width="1.6"/>
<polyline points="417.7,501.2 418.2,502.0 418.7,502.5 419.2,501.1 419.7,501.0 420.2,506.0 420.7,510.1 421.2,506.1 421.7,502.8 422.1,504.4 422.6,507.7 423.1,507.0 423.6,501.6 424.1,495.1 424.6,496.7 425.1,502.6 425.6,504.2 426.1,503.4 426.6,497.9 427.1,494.4 427.6,494.1 428.1,497.7 428.6,502.9 429.1,506.4 429.6,509.8 430.1,508.1 430.5,506.3 431.0,505.6 431.5,503.5 432.0,504.1 432.5,506.5 433.0,505.9 433.5,507.2 434.0,508.9 434.5,510.2 435.0,509.0 435.5,507.1 436.0,504.9 436.5,502.3 437.0,503.3 437.5,505.8 438.0,507.4 438.4,505.8 438.9,504.7 439.4,505.9 439.9,506.8 440.4,505.3 440.9,499.5 441.4,493.7 441.9,494.7 442.4,504.6 442.9,505.8 443.4,504.8 443.9,505.9 444.4,502.8 444.9,506.5 445.4,505.0 445.9,496.6 446.4,495.9 446.8,499.9 447.3,501.0 447.8,501.5 448.3,502.8 448.8,503.2 449.3,502.4 449.8,502.2 450.3,504.7 450.8,506.8 451.3,505.1 451.8,501.9 452.3,501.6 452.8,502.4 453.3,500.8 453.8,498.9 454.3,499.4 454.8,502.4 455.2,504.3 455.7,502.2 456.2,502.2 456.7,506.7 457.2,508.7 457.7,504.1 458.2,503.3 458.7,502.9 459.2,503.4 459.7,504.0 460.2,503.1 460.7,501.0 461.2,501.5 461.7,504.2 462.2,507.4 462.7,508.8 463.1,504.6 463.6,504.4 464.1,507.8 464.6,507.4 465.1,504.6 465.6,502.0 466.1,495.7 466.6,494.7 467.1,497.5 467.6,495.6 468.1,493.3 468.6,495.8 469.1,496.0 469.6,493.9 470.1,493.0 470.6,497.2 471.1,503.9 471.5,507.8 472.0,503.6 472.5,499.1 473.0,499.5 473.5,503.6 474.0,507.2 474.5,508.5 475.0,506.2 475.5,505.7 476.0,508.4 476.5,505.4 477.0,503.7 477.5,506.5 478.0,510.4 478.5,507.8 479.0,508.5 479.4,506.7 479.9,506.6 480.4,506.6 480.9,506.2 481.4,506.6 481.9,506.2 482.4,501.3 482.9,498.8 483.4,494.2 483.9,486.4 484.4,481.2 484.9,478.8 485.4,479.4 485.9,485.2 486.4,494.6 486.9,500.6 487.4,499.6 487.8,501.3 488.3,506.8 488.8,509.0 489.3,509.0 489.8,507.9 490.3,506.2 490.8,500.8 491.3,496.7 491.8,503.2 492.3,508.4 492.8,503.6 493.3,502.3 493.8,500.6 494.3,500.5 494.8,500.3 495.3,502.6 495.8,506.1 496.2,509.0 496.7,508.4 497.2,506.3 497.7,505.0 498.2,507.3 498.7,504.9 499.2,499.8 499.7,498.8 500.2,498.5 500.7,498.7 501.2,501.1 501.7,503.4 502.2,503.2 502.7,502.5 503.2,506.5 503.7,503.9 504.1,499.1 504.6,501.3 505.1,500.6 505.6,501.1 506.1,503.9 506.6,502.3 507.1,496.0 507.6,491.5 508.1,494.2 508.6,500.4 509.1,502.1 509.6,504.4 510.1,503.2 510.6,500.9 511.1,502.2 511.6,506.8 512.1,506.4 512.5,507.8 513.0,508.2 513.5,508.8 514.0,507.6 514.5,500.8 515.0,496.9 515.5,497.9 516.0,502.3 516.5,505.8 517.0,505.9 517.5,506.1 518.0,507.9 518.5,510.2 519.0,509.1 519.5,504.1 520.0,500.7 520.5,501.3 520.9,503.3 521.4,502.1 521.9,499.7 522.4,501.9 522.9,506.7 523.4,509.3 523.9,509.7 524.4,508.4 524.9,508.6 525.4,506.2 525.9,501.1 526.4,499.3 526.9,499.7 527.4,503.5 527.9,505.1 528.4,499.7 528.9,494.9 529.3,497.3 529.8,503.4 530.3,508.1 530.8,504.6 531.3,502.6 531.8,506.5 532.3,509.6 532.8,509.2 533.3,505.4 533.8,503.5 534.3,505.2 534.8,505.3 535.3,503.1 535.8,503.1 536.3,504.7 536.8,502.2 537.2,502.3 537.7,507.3 538.2,509.3 538.7,507.1 539.2,507.0 539.7,506.0 540.2,509.3 540.7,504.6 541.2,506.1 541.7,508.3 542.2,502.5 542.7,502.0 543.2,503.8 543.7,503.3 544.2,502.9 544.7,503.2 545.2,501.3 545.6,499.8 546.1,499.4 546.6,502.8 547.1,506.5 547.6,504.6 548.1,504.0 548.6,507.4 549.1,509.7 549.6,505.6 550.1,501.4 550.6,502.8 551.1,508.9 551.6,501.9 552.1,501.8 552.6,507.7 553.1,506.5 553.5,503.1 554.0,499.7 554.5,500.9 555.0,501.6 555.5,501.9 556.0,507.1 556.5,506.4 557.0,502.5 557.5,503.4 558.0,505.8 558.5,505.0 559.0,506.0 559.5,510.3 560.0,508.7 560.5,505.4 561.0,504.3 561.5,504.3 561.9,504.9 562.4,506.0 562.9,506.4 563.4,507.6 563.9,501.6 564.4,501.6 564.9,507.8 565.4,506.9 565.9,499.8 566.4,496.5 566.9,497.4 567.4,502.9 567.9,508.8 568.4,508.7 568.9,508.0 569.4,508.6 569.9,510.3 570.3,506.7 570.8,504.5 571.3,503.5 571.8,504.8 572.3,501.4 572.8,499.5 573.3,498.0 573.8,496.4 574.3,499.4 574.8,502.5 575.3,503.3 575.8,502.2 576.3,500.8 576.8,501.9 577.3,505.2 577.8,508.2 578.2,504.5 578.7,498.5 579.2,499.3 579.7,503.8 580.2,507.6 580.7,508.2 581.2,500.2 581.7,495.8 582.2,497.4 582.7,499.7 583.2,501.1 583.7,504.7 584.2,510.1 584.7,505.6 585.2,502.2 585.7,495.5 586.2,494.4 586.6,500.5 587.1,507.1 587.6,506.1 588.1,508.7 588.6,504.2 589.1,502.7 589.6,508.3 590.1,505.8 590.6,500.1 591.1,497.7 591.6,496.4 592.1,497.4 592.6,500.8 593.1,503.9 593.6,505.7 594.1,508.5 594.6,504.2 595.0,504.5 595.5,509.2 596.0,507.0 596.5,504.2 597.0,500.2 597.5,499.8 598.0,503.4 598.5,506.8 599.0,502.6 599.5,501.8 600.0,507.5 600.5,508.2 601.0,503.0 601.5,495.1 602.0,485.7 602.5,480.7 603.0,484.1 603.4,493.7 603.9,496.2 604.4,501.2 604.9,506.4 605.4,508.5 605.9,509.2 606.4,510.8 606.9,508.3 607.4,499.5 607.9,496.4 608.4,503.0 608.9,507.1 609.4,504.9 609.9,507.7 610.4,506.6 610.9,503.1 611.3,502.5 611.8,503.5 612.3,503.3 612.8,505.2 613.3,510.1 613.8,507.3 614.3,507.9 614.8,509.2 615.3,507.9 615.8,505.8 616.3,506.2 616.8,505.2 617.3,501.8 617.8,499.1 618.3,500.3 618.8,503.7 619.3,508.5 619.7,507.6 620.2,505.1 620.7,507.6 621.2,509.7 621.7,507.7 622.2,506.8 622.7,508.3 623.2,507.1 623.7,506.5 624.2,505.2 624.7,504.2 625.2,505.1 625.7,508.7 626.2,508.4 626.7,509.4 627.2,505.0 627.7,497.9 628.1,495.0 628.6,500.7 629.1,507.6 629.6,505.6 630.1,508.9 630.6,505.0 631.1,506.8 631.6,510.8 632.1,507.9 632.6,507.3 633.1,506.0 633.6,499.7 634.1,499.4 634.6,503.1 635.1,502.1 635.6,504.5 636.0,507.4 636.5,507.0 637.0,508.3 637.5,507.1 638.0,502.3 638.5,502.6 639.0,503.8 639.5,505.4 640.0,505.5 640.5,500.2 641.0,493.6 641.5,491.9 642.0,493.6 642.5,495.9 643.0,498.8 643.5,506.0 644.0,504.6 644.4,500.6 644.9,503.4 645.4,509.2 645.9,508.1 646.4,507.5 646.9,507.3 647.4,505.0 647.9,502.9 648.4,500.8 648.9,499.7 649.4,500.7 649.9,504.7 650.4,505.0 650.9,502.3 651.4,502.0 651.9,500.9 652.4,502.7 652.8,504.3 653.3,503.4 653.8,497.8 654.3,494.6 654.8,497.8 655.3,503.5 655.8,506.0 656.3,509.0 656.8,509.2 657.3,507.0 657.8,501.4 658.3,497.9 658.8,499.7 659.3,505.8 659.8,507.3 660.3,504.5 660.7,505.7 661.2,503.9 661.7,503.8 662.2,506.0 662.7,507.2 663.2,509.8 663.7,508.5 664.2,507.5 664.7,508.7" class="ln" stroke="#bfbf00" stroke-width="1.6"/>
<polyline points="417.7,505.3 418.2,503.8 418.7,501.8 419.2,500.2 419.7,502.2 420.2,503.3 420.7,501.5 421.2,500.7 421.7,503.4 422.1,504.1 422.6,501.9 423.1,500.0 423.6,496.2 424.1,498.3 424.6,505.1 425.1,506.9 425.6,506.6 426.1,504.6 426.6,501.2 427.1,501.0 427.6,505.0 428.1,507.1 428.6,503.4 429.1,503.7 429.6,509.3 430.1,508.1 430.5,510.0 431.0,505.7 431.5,501.8 432.0,502.1 432.5,505.5 433.0,505.9 433.5,503.1 434.0,502.6 434.5,503.6 435.0,503.9 435.5,503.3 436.0,502.4 436.5,502.0 437.0,498.7 437.5,496.0 438.0,497.7 438.4,504.0 438.9,504.4 439.4,503.3 439.9,506.4 440.4,509.0 440.9,505.9 441.4,503.6 441.9,505.4 442.4,506.8 442.9,504.7 443.4,500.1 443.9,498.9 444.4,503.1 444.9,502.0 445.4,495.2 445.9,491.0 446.4,495.8 446.8,501.8 447.3,502.0 447.8,503.3 448.3,504.0 448.8,501.3 449.3,499.4 449.8,498.7 450.3,499.6 450.8,502.1 451.3,506.1 451.8,507.5 452.3,502.7 452.8,500.9 453.3,501.2 453.8,502.0 454.3,501.5 454.8,502.4 455.2,506.5 455.7,509.1 456.2,510.2 456.7,508.6 457.2,503.4 457.7,502.3 458.2,507.3 458.7,507.7 459.2,505.9 459.7,506.5 460.2,506.0 460.7,500.0 461.2,495.9 461.7,498.8 462.2,504.0 462.7,506.6 463.1,505.1 463.6,504.9 464.1,504.0 464.6,505.6 465.1,510.8 465.6,504.4 466.1,499.9 466.6,500.8 467.1,504.1 467.6,507.5 468.1,509.2 468.6,509.2 469.1,507.9 469.6,505.7 470.1,507.7 470.6,505.0 471.1,499.5 471.5,499.2 472.0,501.0 472.5,501.3 473.0,503.9 473.5,510.1 474.0,505.4 474.5,503.1 475.0,501.6 475.5,498.4 476.0,497.2 476.5,499.3 477.0,506.4 477.5,505.0 478.0,499.7 478.5,501.7 479.0,506.3 479.4,505.2 479.9,501.5 480.4,500.6 480.9,502.2 481.4,504.1 481.9,508.8 482.4,503.5 482.9,499.1 483.4,504.3 483.9,509.0 484.4,504.8 484.9,504.7 485.4,506.8 485.9,503.1 486.4,503.6 486.9,506.8 487.4,505.5 487.8,505.4 488.3,507.8 488.8,507.1 489.3,506.1 489.8,503.1 490.3,501.2 490.8,498.6 491.3,495.7 491.8,498.5 492.3,501.2 492.8,496.6 493.3,496.3 493.8,502.5 494.3,510.5 494.8,505.1 495.3,501.1 495.8,502.0 496.2,503.0 496.7,503.1 497.2,507.6 497.7,506.4 498.2,508.2 498.7,506.9 499.2,504.6 499.7,504.3 500.2,505.7 500.7,506.9 501.2,508.9 501.7,509.8 502.2,508.9 502.7,507.5 503.2,506.8 503.7,503.5 504.1,504.0 504.6,503.9 505.1,502.6 505.6,503.9 506.1,502.0 506.6,499.4 507.1,500.1 507.6,503.4 508.1,506.1 508.6,508.8 509.1,507.8 509.6,506.8 510.1,507.4 510.6,504.7 511.1,503.2 511.6,504.2 512.1,504.3 512.5,503.6 513.0,506.3 513.5,507.9 514.0,505.2 514.5,503.6 515.0,501.5 515.5,500.9 516.0,504.6 516.5,502.8 517.0,496.4 517.5,497.9 518.0,504.1 518.5,506.0 519.0,508.0 519.5,507.3 520.0,506.4 520.5,508.0 520.9,507.0 521.4,508.1 521.9,506.0 522.4,503.4 522.9,501.5 523.4,493.8 523.9,490.3 524.4,480.8 524.9,470.4 525.4,467.7 525.9,473.7 526.4,482.8 526.9,488.6 527.4,495.7 527.9,502.5 528.4,505.3 528.9,506.6 529.3,508.2 529.8,501.5 530.3,497.4 530.8,498.3 531.3,501.7 531.8,506.8 532.3,504.8 532.8,501.9 533.3,503.9 533.8,506.1 534.3,506.7 534.8,506.7 535.3,505.2 535.8,503.6 536.3,505.3 536.8,508.4 537.2,508.8 537.7,507.6 538.2,507.4 538.7,503.2 539.2,502.1 539.7,503.9 540.2,506.7 540.7,508.5 541.2,509.5 541.7,508.0 542.2,504.3 542.7,501.7 543.2,502.5 543.7,503.5 544.2,503.6 544.7,506.6 545.2,508.6 545.6,505.5 546.1,502.6 546.6,502.1 547.1,505.0 547.6,506.7 548.1,506.9 548.6,502.1 549.1,503.2 549.6,507.4 550.1,502.0 550.6,501.5 551.1,504.7 551.6,506.1 552.1,504.7 552.6,503.3 553.1,504.6 553.5,507.3 554.0,507.1 554.5,505.9 555.0,507.7 555.5,507.5 556.0,502.8 556.5,504.3 557.0,508.8 557.5,507.6 558.0,506.6 558.5,505.4 559.0,502.8 559.5,501.4 560.0,505.0 560.5,504.9 561.0,502.3 561.5,504.1 561.9,510.4 562.4,502.0 562.9,498.4 563.4,502.1 563.9,504.4 564.4,506.9 564.9,509.7 565.4,507.1 565.9,505.3 566.4,504.5 566.9,503.0 567.4,502.7 567.9,503.8 568.4,502.8 568.9,503.1 569.4,507.2 569.9,508.3 570.3,507.1 570.8,501.6 571.3,496.8 571.8,497.0 572.3,501.3 572.8,502.0 573.3,499.7 573.8,501.6 574.3,501.5 574.8,495.7 575.3,492.7 575.8,492.4 576.3,494.9 576.8,498.5 577.3,500.8 577.8,502.5 578.2,504.4 578.7,505.1 579.2,500.7 579.7,495.6 580.2,495.3 580.7,494.3 581.2,492.9 581.7,497.7 582.2,498.4 582.7,498.8 583.2,504.4 583.7,508.1 584.2,508.3 584.7,507.2 585.2,507.1 585.7,508.5 586.2,503.4 586.6,504.0 587.1,504.9 587.6,500.2 588.1,500.9 588.6,506.2 589.1,509.1 589.6,509.6 590.1,507.7 590.6,506.9 591.1,507.2 591.6,507.9 592.1,504.7 592.6,502.6 593.1,502.1 593.6,499.8 594.1,498.9 594.6,499.3 595.0,502.5 595.5,509.0 596.0,507.5 596.5,508.1 597.0,503.4 597.5,502.0 598.0,504.7 598.5,505.7 599.0,503.7 599.5,502.9 600.0,504.7 600.5,508.2 601.0,508.9 601.5,507.9 602.0,505.2 602.5,504.9 603.0,504.0 603.4,504.2 603.9,506.0 604.4,504.3 604.9,500.9 605.4,496.8 605.9,494.1 606.4,492.6 606.9,494.4 607.4,500.8 607.9,507.2 608.4,509.2 608.9,509.6 609.4,506.8 609.9,505.6 610.4,505.0 610.9,503.8 611.3,502.8 611.8,498.2 612.3,488.3 612.8,482.4 613.3,485.0 613.8,492.3 614.3,497.3 614.8,499.4 615.3,500.9 615.8,502.3 616.3,503.3 616.8,504.6 617.3,504.7 617.8,502.4 618.3,500.0 618.8,497.6 619.3,497.1 619.7,502.0 620.2,508.7 620.7,508.8 621.2,509.3 621.7,506.0 622.2,501.7 622.7,500.8 623.2,503.9 623.7,505.6 624.2,506.8 624.7,508.9 625.2,506.3 625.7,504.4 626.2,507.2 626.7,509.4 627.2,507.7 627.7,504.3 628.1,500.3 628.6,503.7 629.1,507.0 629.6,499.0 630.1,495.9 630.6,495.9 631.1,498.0 631.6,500.5 632.1,501.2 632.6,501.7 633.1,505.2 633.6,505.6 634.1,504.6 634.6,510.6 635.1,501.6 635.6,498.5 636.0,501.9 636.5,501.8 637.0,500.1 637.5,501.5 638.0,504.9 638.5,498.7 639.0,493.7 639.5,492.8 640.0,496.2 640.5,500.0 641.0,495.8 641.5,495.4 642.0,497.3 642.5,499.2 643.0,500.1 643.5,500.3 644.0,503.6 644.4,508.9 644.9,506.3 645.4,504.3 645.9,503.2 646.4,504.0 646.9,504.6 647.4,504.8 647.9,506.0 648.4,508.0 648.9,507.5 649.4,504.7 649.9,502.7 650.4,502.7 650.9,504.8 651.4,508.2 651.9,509.1 652.4,509.6 652.8,508.0 653.3,509.8 653.8,507.1 654.3,502.6 654.8,501.6 655.3,504.9 655.8,507.8 656.3,505.3 656.8,505.7 657.3,504.5 657.8,501.0 658.3,502.2 658.8,506.8 659.3,501.1 659.8,501.4 660.3,505.9 660.7,507.7 661.2,508.5 661.7,507.5 662.2,507.9 662.7,507.7 663.2,508.2 663.7,508.3 664.2,509.3 664.7,502.9" class="ln" stroke="#000000" stroke-width="1.6"/>
<polyline points="417.7,503.2 418.2,504.9 418.7,504.2 419.2,507.7 419.7,506.0 420.2,507.1 420.7,509.9 421.2,507.6 421.7,507.1 422.1,506.8 422.6,506.2 423.1,507.4 423.6,508.9 424.1,503.0 424.6,503.1 425.1,509.4 425.6,506.7 426.1,504.4 426.6,503.3 427.1,502.0 427.6,500.8 428.1,500.4 428.6,502.5 429.1,497.7 429.6,486.5 430.1,483.3 430.5,489.1 431.0,496.0 431.5,498.9 432.0,504.7 432.5,500.9 433.0,495.4 433.5,495.7 434.0,500.7 434.5,504.4 435.0,506.2 435.5,506.0 436.0,504.7 436.5,508.9 437.0,506.6 437.5,507.9 438.0,508.8 438.4,509.1 438.9,506.6 439.4,502.7 439.9,505.9 440.4,504.2 440.9,504.0 441.4,507.6 441.9,507.0 442.4,503.1 442.9,498.8 443.4,497.5 443.9,500.7 444.4,503.2 444.9,499.5 445.4,499.3 445.9,503.4 446.4,507.0 446.8,509.2 447.3,507.2 447.8,505.8 448.3,506.1 448.8,503.2 449.3,503.0 449.8,503.1 450.3,500.4 450.8,501.4 451.3,502.2 451.8,499.2 452.3,499.6 452.8,504.0 453.3,507.1 453.8,504.6 454.3,502.9 454.8,501.2 455.2,499.9 455.7,500.0 456.2,501.6 456.7,503.1 457.2,505.7 457.7,509.0 458.2,508.2 458.7,504.5 459.2,503.8 459.7,506.0 460.2,506.7 460.7,502.5 461.2,502.3 461.7,505.3 462.2,507.1 462.7,508.9 463.1,502.6 463.6,498.3 464.1,495.7 464.6,499.2 465.1,506.4 465.6,504.8 466.1,507.6 466.6,507.4 467.1,503.9 467.6,501.5 468.1,503.9 468.6,508.7 469.1,508.8 469.6,506.2 470.1,507.6 470.6,509.0 471.1,510.1 471.5,508.0 472.0,505.5 472.5,505.7 473.0,505.5 473.5,504.4 474.0,504.6 474.5,506.0 475.0,502.1 475.5,497.6 476.0,499.3 476.5,506.3 477.0,507.8 477.5,504.0 478.0,505.0 478.5,508.4 479.0,504.7 479.4,502.1 479.9,503.7 480.4,507.0 480.9,510.1 481.4,509.3 481.9,509.6 482.4,509.9 482.9,507.5 483.4,506.0 483.9,504.5 484.4,501.7 484.9,500.5 485.4,503.5 485.9,508.3 486.4,507.5 486.9,505.1 487.4,506.4 487.8,505.3 488.3,505.7 488.8,504.4 489.3,500.0 489.8,498.8 490.3,503.5 490.8,505.4 491.3,502.7 491.8,504.6 492.3,508.3 492.8,503.3 493.3,501.4 493.8,504.3 494.3,506.1 494.8,503.9 495.3,502.9 495.8,504.7 496.2,507.0 496.7,506.4 497.2,507.9 497.7,505.9 498.2,505.0 498.7,503.2 499.2,499.3 499.7,500.1 500.2,504.4 500.7,509.6 501.2,510.0 501.7,508.4 502.2,506.2 502.7,507.1 503.2,507.5 503.7,506.0 504.1,504.8 504.6,509.1 505.1,509.0 505.6,505.8 506.1,502.7 506.6,503.7 507.1,505.8 507.6,499.4 508.1,497.4 508.6,499.3 509.1,500.2 509.6,498.9 510.1,501.5 510.6,508.4 511.1,503.6 511.6,501.8 512.1,503.6 512.5,510.1 513.0,501.5 513.5,498.7 514.0,500.2 514.5,502.7 515.0,504.6 515.5,504.9 516.0,504.2 516.5,505.4 517.0,505.8 517.5,506.0 518.0,505.0 518.5,501.4 519.0,499.6 519.5,501.4 520.0,502.8 520.5,502.4 520.9,501.7 521.4,500.2 521.9,500.4 522.4,502.7 522.9,503.8 523.4,503.0 523.9,501.4 524.4,501.9 524.9,504.0 525.4,505.2 525.9,507.8 526.4,507.9 526.9,505.9 527.4,503.0 527.9,502.8 528.4,505.4 528.9,507.3 529.3,508.0 529.8,504.3 530.3,505.2 530.8,510.4 531.3,505.5 531.8,499.3 532.3,493.7 532.8,494.5 533.3,499.6 533.8,502.7 534.3,506.6 534.8,508.5 535.3,504.9 535.8,500.2 536.3,496.8 536.8,495.2 537.2,497.2 537.7,504.2 538.2,509.7 538.7,506.2 539.2,500.6 539.7,498.2 540.2,498.7 540.7,500.7 541.2,501.6 541.7,496.8 542.2,494.9 542.7,501.1 543.2,508.0 543.7,505.1 544.2,506.0 544.7,508.3 545.2,508.7 545.6,506.6 546.1,501.2 546.6,499.5 547.1,505.3 547.6,510.2 548.1,509.5 548.6,505.4 549.1,501.7 549.6,502.8 550.1,506.5 550.6,509.0 551.1,504.7 551.6,505.4 552.1,509.3 552.6,506.3 553.1,500.6 553.5,500.1 554.0,504.5 554.5,505.0 555.0,499.2 555.5,498.5 556.0,502.6 556.5,507.1 557.0,504.6 557.5,503.6 558.0,503.0 558.5,504.1 559.0,505.6 559.5,506.8 560.0,510.0 560.5,508.2 561.0,507.5 561.5,509.9 561.9,505.1 562.4,505.7 562.9,506.6 563.4,504.0 563.9,507.7 564.4,506.3 564.9,503.9 565.4,505.4 565.9,507.7 566.4,506.8 566.9,505.6 567.4,506.1 567.9,507.6 568.4,507.8 568.9,507.9 569.4,503.9 569.9,498.5 570.3,500.2 570.8,504.0 571.3,497.9 571.8,496.0 572.3,498.6 572.8,500.6 573.3,501.3 573.8,502.2 574.3,502.0 574.8,500.9 575.3,501.2 575.8,502.9 576.3,502.8 576.8,502.5 577.3,504.9 577.8,508.6 578.2,505.7 578.7,503.5 579.2,504.4 579.7,504.2 580.2,503.0 580.7,503.5 581.2,505.0 581.7,506.7 582.2,500.7 582.7,497.1 583.2,501.1 583.7,506.5 584.2,507.9 584.7,507.7 585.2,509.7 585.7,508.7 586.2,508.3 586.6,507.3 587.1,505.0 587.6,503.4 588.1,502.1 588.6,501.5 589.1,504.3 589.6,504.7 590.1,503.5 590.6,505.1 591.1,508.2 591.6,506.4 592.1,502.8 592.6,502.7 593.1,505.4 593.6,507.3 594.1,501.6 594.6,501.7 595.0,502.5 595.5,502.3 596.0,505.5 596.5,507.2 597.0,504.8 597.5,502.9 598.0,504.0 598.5,507.2 599.0,509.6 599.5,508.7 600.0,509.4 600.5,508.4 601.0,503.3 601.5,499.1 602.0,498.6 602.5,504.7 603.0,508.8 603.4,507.4 603.9,508.0 604.4,502.8 604.9,502.9 605.4,506.4 605.9,510.6 606.4,508.8 606.9,507.4 607.4,507.7 607.9,507.9 608.4,507.6 608.9,503.5 609.4,501.8 609.9,504.6 610.4,506.2 610.9,503.1 611.3,500.9 611.8,502.4 612.3,503.3 612.8,498.6 613.3,494.0 613.8,493.7 614.3,499.0 614.8,507.0 615.3,510.3 615.8,508.3 616.3,506.1 616.8,506.6 617.3,505.8 617.8,504.3 618.3,505.5 618.8,507.3 619.3,507.6 619.7,509.3 620.2,508.1 620.7,507.8 621.2,508.7 621.7,505.6 622.2,502.9 622.7,503.1 623.2,498.3 623.7,493.8 624.2,492.9 624.7,497.3 625.2,506.7 625.7,505.6 626.2,500.6 626.7,502.6 627.2,509.0 627.7,506.1 628.1,505.7 628.6,508.0 629.1,508.1 629.6,507.2 630.1,509.6 630.6,507.9 631.1,506.8 631.6,505.9 632.1,504.7 632.6,503.2 633.1,500.6 633.6,497.5 634.1,497.5 634.6,499.2 635.1,499.2 635.6,500.3 636.0,503.0 636.5,504.7 637.0,502.6 637.5,501.8 638.0,504.7 638.5,504.9 639.0,502.3 639.5,500.7 640.0,502.5 640.5,505.7 641.0,506.8 641.5,507.6 642.0,504.4 642.5,504.3 643.0,507.7 643.5,508.0 644.0,505.0 644.4,505.1 644.9,509.6 645.4,504.7 645.9,501.8 646.4,503.0 646.9,507.5 647.4,508.7 647.9,508.8 648.4,505.2 648.9,497.8 649.4,497.3 649.9,504.2 650.4,504.4 650.9,499.5 651.4,494.0 651.9,489.5 652.4,490.3 652.8,493.2 653.3,499.2 653.8,506.6 654.3,507.9 654.8,505.0 655.3,504.1 655.8,505.0 656.3,504.5 656.8,501.3 657.3,496.2 657.8,491.0 658.3,491.5 658.8,500.2 659.3,508.3 659.8,504.5 660.3,506.0 660.7,505.0 661.2,501.3 661.7,501.1 662.2,502.1 662.7,502.7 663.2,502.9 663.7,505.8 664.2,509.2 664.7,505.9" class="ln" stroke="#0000ff" stroke-width="1.6"/>
<polyline points="417.7,502.3 418.2,499.1 418.7,496.5 419.2,499.9 419.7,508.7 420.2,505.2 420.7,506.4 421.2,506.3 421.7,505.6 422.1,510.4 422.6,506.0 423.1,507.5 423.6,507.2 424.1,499.8 424.6,497.7 425.1,500.4 425.6,503.3 426.1,502.4 426.6,497.1 427.1,492.5 427.6,492.5 428.1,496.5 428.6,500.8 429.1,506.3 429.6,509.3 430.1,509.0 430.5,504.7 431.0,502.2 431.5,502.8 432.0,506.0 432.5,510.5 433.0,506.4 433.5,501.7 434.0,497.2 434.5,495.5 435.0,498.2 435.5,503.0 436.0,495.1 436.5,490.5 437.0,491.0 437.5,493.5 438.0,496.6 438.4,499.8 438.9,502.5 439.4,503.5 439.9,504.0 440.4,508.1 440.9,505.6 441.4,499.5 441.9,501.2 442.4,504.4 442.9,503.4 443.4,502.1 443.9,503.3 444.4,506.0 444.9,505.3 445.4,504.2 445.9,502.3 446.4,500.4 446.8,499.0 447.3,498.9 447.8,502.6 448.3,506.3 448.8,506.5 449.3,505.4 449.8,506.2 450.3,506.9 450.8,507.0 451.3,508.2 451.8,506.8 452.3,509.6 452.8,503.8 453.3,503.0 453.8,503.8 454.3,503.6 454.8,504.0 455.2,505.3 455.7,507.5 456.2,507.3 456.7,506.8 457.2,507.5 457.7,506.0 458.2,504.5 458.7,507.6 459.2,506.6 459.7,504.1 460.2,505.7 460.7,507.8 461.2,506.5 461.7,504.3 462.2,503.3 462.7,504.0 463.1,504.5 463.6,504.3 464.1,502.7 464.6,500.4 465.1,499.6 465.6,498.6 466.1,497.4 466.6,498.4 467.1,501.1 467.6,503.9 468.1,506.1 468.6,506.6 469.1,506.2 469.6,505.8 470.1,502.4 470.6,496.4 471.1,496.3 471.5,505.8 472.0,504.0 472.5,497.9 473.0,500.3 473.5,506.9 474.0,510.5 474.5,510.2 475.0,507.5 475.5,503.1 476.0,503.2 476.5,508.5 477.0,507.3 477.5,503.9 478.0,501.9 478.5,501.9 479.0,504.1 479.4,507.5 479.9,506.3 480.4,502.4 480.9,501.6 481.4,503.2 481.9,503.3 482.4,505.3 482.9,508.9 483.4,502.4 483.9,503.0 484.4,505.6 484.9,508.2 485.4,509.0 485.9,507.6 486.4,508.0 486.9,508.5 487.4,506.3 487.8,503.7 488.3,504.1 488.8,507.3 489.3,507.9 489.8,506.3 490.3,501.9 490.8,499.3 491.3,498.2 491.8,497.2 492.3,497.9 492.8,499.0 493.3,498.1 493.8,498.4 494.3,501.8 494.8,504.5 495.3,504.5 495.8,506.9 496.2,508.7 496.7,509.8 497.2,509.4 497.7,510.3 498.2,507.3 498.7,504.6 499.2,508.1 499.7,509.3 500.2,506.6 500.7,506.2 501.2,508.8 501.7,508.7 502.2,505.5 502.7,504.7 503.2,507.0 503.7,509.2 504.1,510.1 504.6,505.4 505.1,498.5 505.6,493.2 506.1,494.3 506.6,500.3 507.1,503.6 507.6,509.2 508.1,503.1 508.6,498.1 509.1,502.1 509.6,507.6 510.1,508.3 510.6,506.1 511.1,504.8 511.6,502.6 512.1,498.3 512.5,498.0 513.0,501.1 513.5,504.9 514.0,507.1 514.5,506.6 515.0,506.9 515.5,509.5 516.0,503.4 516.5,497.9 517.0,498.5 517.5,503.8 518.0,506.1 518.5,505.3 519.0,505.9 519.5,506.0 520.0,505.9 520.5,504.6 520.9,501.4 521.4,502.5 521.9,504.0 522.4,505.4 522.9,506.8 523.4,500.1 523.9,497.1 524.4,503.0 524.9,507.4 525.4,503.2 525.9,507.6 526.4,500.6 526.9,497.4 527.4,498.4 527.9,499.8 528.4,504.8 528.9,505.4 529.3,501.0 529.8,500.9 530.3,501.5 530.8,499.2 531.3,493.7 531.8,493.6 532.3,500.6 532.8,507.1 533.3,508.4 533.8,506.6 534.3,508.7 534.8,506.2 535.3,501.6 535.8,502.7 536.3,505.9 536.8,508.9 537.2,503.5 537.7,498.0 538.2,497.5 538.7,498.1 539.2,499.0 539.7,503.7 540.2,507.4 540.7,506.1 541.2,507.9 541.7,507.6 542.2,504.6 542.7,503.9 543.2,505.7 543.7,507.6 544.2,506.8 544.7,503.6 545.2,505.8 545.6,509.2 546.1,510.0 546.6,508.2 547.1,507.3 547.6,507.7 548.1,506.6 548.6,506.4 549.1,508.7 549.6,505.6 550.1,500.3 550.6,500.2 551.1,504.6 551.6,508.5 552.1,501.6 552.6,501.5 553.1,501.2 553.5,500.9 554.0,504.1 554.5,508.7 555.0,510.1 555.5,510.4 556.0,506.7 556.5,502.2 557.0,502.5 557.5,505.9 558.0,508.3 558.5,509.3 559.0,506.0 559.5,504.1 560.0,504.5 560.5,507.7 561.0,508.2 561.5,504.6 561.9,505.0 562.4,504.4 562.9,504.8 563.4,507.3 563.9,506.3 564.4,505.5 564.9,503.7 565.4,507.3 565.9,509.6 566.4,509.8 566.9,507.5 567.4,507.1 567.9,509.8 568.4,509.3 568.9,509.4 569.4,509.5 569.9,507.9 570.3,504.9 570.8,499.5 571.3,493.7 571.8,493.0 572.3,496.9 572.8,500.0 573.3,499.9 573.8,500.4 574.3,501.1 574.8,499.0 575.3,495.6 575.8,496.1 576.3,502.8 576.8,509.4 577.3,508.1 577.8,503.4 578.2,498.1 578.7,498.0 579.2,503.4 579.7,507.3 580.2,506.3 580.7,504.0 581.2,505.8 581.7,507.2 582.2,504.8 582.7,503.1 583.2,504.2 583.7,504.9 584.2,505.8 584.7,507.5 585.2,508.0 585.7,506.5 586.2,507.2 586.6,505.9 587.1,504.0 587.6,502.7 588.1,501.6 588.6,503.6 589.1,503.5 589.6,506.6 590.1,507.1 590.6,504.3 591.1,502.3 591.6,501.8 592.1,502.6 592.6,505.0 593.1,505.6 593.6,504.3 594.1,500.8 594.6,496.9 595.0,496.5 595.5,500.7 596.0,503.6 596.5,503.9 597.0,506.6 597.5,508.2 598.0,505.0 598.5,501.1 599.0,499.5 599.5,499.0 600.0,500.9 600.5,504.0 601.0,505.0 601.5,504.1 602.0,503.5 602.5,505.8 603.0,510.5 603.4,508.2 603.9,509.0 604.4,505.2 604.9,501.1 605.4,497.5 605.9,494.0 606.4,495.1 606.9,500.6 607.4,506.8 607.9,509.3 608.4,507.3 608.9,507.4 609.4,509.2 609.9,505.5 610.4,502.5 610.9,502.4 611.3,506.4 611.8,507.3 612.3,506.2 612.8,508.2 613.3,508.5 613.8,505.7 614.3,505.6 614.8,506.1 615.3,506.8 615.8,508.3 616.3,508.4 616.8,505.4 617.3,503.9 617.8,503.8 618.3,503.8 618.8,501.4 619.3,497.9 619.7,500.3 620.2,508.2 620.7,503.6 621.2,502.0 621.7,503.1 622.2,503.6 622.7,504.4 623.2,506.5 623.7,506.2 624.2,501.7 624.7,498.7 625.2,498.8 625.7,499.4 626.2,500.2 626.7,502.5 627.2,505.8 627.7,506.9 628.1,504.3 628.6,502.6 629.1,499.3 629.6,498.6 630.1,499.1 630.6,498.9 631.1,498.3 631.6,501.0 632.1,504.9 632.6,505.0 633.1,505.9 633.6,508.1 634.1,505.7 634.6,504.8 635.1,505.8 635.6,508.3 636.0,505.7 636.5,501.5 637.0,506.8 637.5,505.2 638.0,500.1 638.5,502.4 639.0,506.1 639.5,506.2 640.0,509.0 640.5,507.6 641.0,504.6 641.5,506.8 642.0,509.1 642.5,504.0 643.0,500.0 643.5,501.2 644.0,503.9 644.4,503.8 644.9,504.2 645.4,506.3 645.9,509.0 646.4,509.4 646.9,507.1 647.4,504.1 647.9,505.1 648.4,508.1 648.9,505.9 649.4,507.5 649.9,508.5 650.4,504.2 650.9,502.0 651.4,502.3 651.9,502.2 652.4,504.5 652.8,507.2 653.3,508.6 653.8,506.8 654.3,507.0 654.8,506.4 655.3,504.5 655.8,506.6 656.3,507.2 656.8,506.5 657.3,500.7 657.8,495.1 658.3,495.6 658.8,500.0 659.3,501.1 659.8,500.5 660.3,503.7 660.7,504.1 661.2,498.7 661.7,495.5 662.2,494.8 662.7,496.0 663.2,497.5 663.7,500.8 664.2,508.4 664.7,506.0" class="ln" stroke="#0000ff" stroke-width="1.6"/>
<polyline points="417.7,507.5 418.2,507.6 418.7,506.1 419.2,505.1 419.7,507.8 420.2,505.4 420.7,503.6 421.2,503.4 421.7,503.8 422.1,501.7 422.6,499.4 423.1,502.5 423.6,506.1 424.1,504.6 424.6,502.4 425.1,501.0 425.6,502.0 426.1,504.8 426.6,504.0 427.1,502.9 427.6,503.4 428.1,502.6 428.6,502.2 429.1,503.3 429.6,502.2 430.1,500.2 430.5,498.6 431.0,501.6 431.5,504.9 432.0,506.8 432.5,507.5 433.0,503.0 433.5,498.6 434.0,504.0 434.5,506.0 435.0,499.4 435.5,500.9 436.0,507.4 436.5,508.6 437.0,504.7 437.5,502.5 438.0,504.1 438.4,508.4 438.9,505.7 439.4,500.6 439.9,501.5 440.4,506.1 440.9,509.3 441.4,509.3 441.9,506.5 442.4,505.2 442.9,510.2 443.4,505.5 443.9,504.8 444.4,504.4 444.9,504.9 445.4,508.4 445.9,508.9 446.4,507.7 446.8,506.9 447.3,503.5 447.8,497.3 448.3,494.4 448.8,498.2 449.3,503.8 449.8,506.5 450.3,505.5 450.8,502.7 451.3,501.1 451.8,503.0 452.3,504.6 452.8,504.0 453.3,502.4 453.8,504.0 454.3,508.1 454.8,509.0 455.2,503.3 455.7,498.8 456.2,496.5 456.7,491.8 457.2,485.4 457.7,483.8 458.2,490.1 458.7,500.7 459.2,502.3 459.7,503.0 460.2,502.8 460.7,501.9 461.2,503.6 461.7,508.3 462.2,503.0 462.7,504.8 463.1,508.9 463.6,504.0 464.1,499.1 464.6,494.2 465.1,498.0 465.6,506.4 466.1,501.0 466.6,499.6 467.1,501.0 467.6,507.1 468.1,507.9 468.6,504.3 469.1,505.9 469.6,508.0 470.1,503.0 470.6,503.8 471.1,505.6 471.5,505.2 472.0,503.8 472.5,504.1 473.0,507.5 473.5,507.7 474.0,503.7 474.5,500.9 475.0,500.0 475.5,502.3 476.0,508.5 476.5,503.7 477.0,500.2 477.5,501.9 478.0,501.7 478.5,498.7 479.0,498.3 479.4,498.3 479.9,498.1 480.4,503.3 480.9,507.9 481.4,504.7 481.9,504.3 482.4,505.3 482.9,506.9 483.4,505.6 483.9,503.3 484.4,502.4 484.9,502.2 485.4,503.2 485.9,505.1 486.4,506.9 486.9,506.6 487.4,502.6 487.8,498.2 488.3,496.0 488.8,498.4 489.3,502.1 489.8,505.1 490.3,507.9 490.8,506.8 491.3,504.0 491.8,505.7 492.3,507.8 492.8,501.9 493.3,495.6 493.8,493.3 494.3,495.7 494.8,502.9 495.3,508.6 495.8,509.4 496.2,506.4 496.7,503.9 497.2,503.3 497.7,505.4 498.2,504.8 498.7,502.2 499.2,501.7 499.7,503.4 500.2,509.5 500.7,506.7 501.2,507.9 501.7,502.5 502.2,497.8 502.7,496.9 503.2,498.8 503.7,502.3 504.1,501.4 504.6,500.9 505.1,505.9 505.6,508.3 506.1,502.0 506.6,499.9 507.1,502.4 507.6,506.6 508.1,505.3 508.6,501.3 509.1,502.5 509.6,504.6 510.1,502.5 510.6,505.7 511.1,504.9 511.6,499.2 512.1,496.6 512.5,497.6 513.0,499.0 513.5,501.7 514.0,507.1 514.5,506.1 515.0,501.6 515.5,504.3 516.0,506.1 516.5,505.2 517.0,509.3 517.5,506.2 518.0,504.2 518.5,506.5 519.0,505.2 519.5,503.8 520.0,507.5 520.5,503.8 520.9,502.2 521.4,504.7 521.9,507.6 522.4,507.0 522.9,510.9 523.4,508.2 523.9,509.8 524.4,506.0 524.9,507.3 525.4,508.0 525.9,504.5 526.4,503.6 526.9,507.2 527.4,502.9 527.9,495.1 528.4,493.0 528.9,496.2 529.3,497.9 529.8,498.2 530.3,500.5 530.8,503.9 531.3,503.3 531.8,501.7 532.3,498.0 532.8,494.3 533.3,495.2 533.8,496.5 534.3,497.9 534.8,503.0 535.3,505.9 535.8,502.8 536.3,500.7 536.8,501.2 537.2,500.2 537.7,501.5 538.2,501.0 538.7,498.6 539.2,504.8 539.7,508.0 540.2,504.8 540.7,504.9 541.2,502.7 541.7,500.4 542.2,506.2 542.7,504.0 543.2,503.3 543.7,509.0 544.2,506.8 544.7,501.5 545.2,498.1 545.6,498.0 546.1,500.5 546.6,506.0 547.1,510.0 547.6,509.4 548.1,508.2 548.6,509.4 549.1,506.1 549.6,503.0 550.1,503.2 550.6,503.5 551.1,505.5 551.6,506.0 552.1,502.6 552.6,497.7 553.1,498.5 553.5,506.1 554.0,508.1 554.5,507.7 555.0,504.6 555.5,502.2 556.0,499.9 556.5,500.4 557.0,502.1 557.5,504.1 558.0,506.8 558.5,506.2 559.0,501.9 559.5,499.5 560.0,501.3 560.5,504.4 561.0,507.3 561.5,508.1 561.9,505.4 562.4,506.8 562.9,507.8 563.4,507.7 563.9,508.6 564.4,502.9 564.9,497.6 565.4,499.9 565.9,507.2 566.4,509.2 566.9,506.7 567.4,504.1 567.9,500.3 568.4,499.2 568.9,503.1 569.4,499.2 569.9,497.3 570.3,498.0 570.8,496.0 571.3,496.6 571.8,503.1 572.3,506.8 572.8,507.5 573.3,508.3 573.8,506.9 574.3,509.1 574.8,507.0 575.3,503.2 575.8,500.4 576.3,497.1 576.8,490.9 577.3,488.8 577.8,493.9 578.2,499.3 578.7,500.3 579.2,500.0 579.7,503.0 580.2,504.6 580.7,501.0 581.2,500.6 581.7,504.1 582.2,503.9 582.7,504.4 583.2,507.0 583.7,506.4 584.2,502.4 584.7,501.8 585.2,505.0 585.7,505.5 586.2,502.5 586.6,498.3 587.1,496.3 587.6,501.1 588.1,506.4 588.6,505.8 589.1,498.8 589.6,489.9 590.1,491.7 590.6,501.4 591.1,508.0 591.6,505.1 592.1,508.5 592.6,506.8 593.1,505.9 593.6,505.4 594.1,502.9 594.6,502.6 595.0,501.9 595.5,501.3 596.0,502.5 596.5,506.2 597.0,507.9 597.5,502.6 598.0,503.8 598.5,510.3 599.0,506.5 599.5,506.3 600.0,502.2 600.5,497.5 601.0,500.0 601.5,506.7 602.0,502.7 602.5,503.7 603.0,506.6 603.4,504.0 603.9,500.8 604.4,501.3 604.9,503.6 605.4,503.9 605.9,505.7 606.4,507.7 606.9,505.7 607.4,502.4 607.9,501.8 608.4,506.9 608.9,507.4 609.4,503.8 609.9,504.1 610.4,505.9 610.9,504.8 611.3,503.4 611.8,505.3 612.3,506.7 612.8,506.1 613.3,505.0 613.8,503.2 614.3,501.6 614.8,503.1 615.3,506.9 615.8,504.7 616.3,498.4 616.8,493.3 617.3,490.5 617.8,493.0 618.3,500.4 618.8,501.2 619.3,500.7 619.7,504.7 620.2,502.5 620.7,497.0 621.2,493.4 621.7,496.9 622.2,505.0 622.7,508.7 623.2,501.4 623.7,496.0 624.2,495.5 624.7,498.9 625.2,504.4 625.7,507.7 626.2,504.6 626.7,503.3 627.2,505.1 627.7,508.4 628.1,508.5 628.6,506.2 629.1,503.4 629.6,502.5 630.1,503.7 630.6,506.1 631.1,507.3 631.6,507.3 632.1,506.6 632.6,510.0 633.1,504.2 633.6,500.7 634.1,501.9 634.6,508.2 635.1,505.5 635.6,495.9 636.0,491.0 636.5,497.6 637.0,507.5 637.5,502.0 638.0,500.3 638.5,506.2 639.0,507.5 639.5,503.6 640.0,503.9 640.5,505.8 641.0,507.1 641.5,509.0 642.0,506.0 642.5,505.9 643.0,506.6 643.5,504.5 644.0,502.8 644.4,505.9 644.9,505.4 645.4,501.3 645.9,505.8 646.4,508.6 646.9,504.2 647.4,504.8 647.9,507.4 648.4,502.5 648.9,501.0 649.4,504.8 649.9,504.4 650.4,503.4 650.9,506.9 651.4,506.2 651.9,500.8 652.4,497.7 652.8,500.6 653.3,505.6 653.8,501.9 654.3,499.1 654.8,504.3 655.3,505.9 655.8,502.2 656.3,502.6 656.8,506.5 657.3,504.8 657.8,501.1 658.3,501.5 658.8,504.3 659.3,504.5 659.8,502.4 660.3,502.8 660.7,504.4 661.2,503.2 661.7,502.2 662.2,503.8 662.7,506.1 663.2,507.0 663.7,507.1 664.2,505.3 664.7,503.6" class="ln" stroke="#0000ff" stroke-width="1.6"/>
<polyline points="417.7,506.4 418.2,507.9 418.7,507.6 419.2,504.1 419.7,504.7 420.2,500.9 420.7,494.3 421.2,494.8 421.7,502.7 422.1,508.5 422.6,508.0 423.1,509.8 423.6,504.0 424.1,501.7 424.6,503.4 425.1,504.2 425.6,502.2 426.1,501.1 426.6,502.1 427.1,501.8 427.6,498.9 428.1,498.9 428.6,503.4 429.1,508.9 429.6,506.9 430.1,502.9 430.5,502.6 431.0,506.7 431.5,505.2 432.0,501.3 432.5,501.9 433.0,507.1 433.5,508.6 434.0,504.3 434.5,503.5 435.0,509.2 435.5,504.5 436.0,502.7 436.5,500.7 437.0,498.7 437.5,502.8 438.0,503.6 438.4,504.1 438.9,507.4 439.4,508.9 439.9,510.5 440.4,506.2 440.9,499.9 441.4,497.8 441.9,502.7 442.4,510.6 442.9,502.9 443.4,498.7 443.9,499.8 444.4,505.3 444.9,510.0 445.4,505.4 445.9,502.3 446.4,499.7 446.8,500.2 447.3,505.7 447.8,508.4 448.3,501.4 448.8,497.3 449.3,497.7 449.8,501.3 450.3,502.4 450.8,500.8 451.3,504.1 451.8,508.1 452.3,503.4 452.8,507.1 453.3,507.1 453.8,503.9 454.3,504.1 454.8,504.7 455.2,506.1 455.7,505.4 456.2,504.9 456.7,506.0 457.2,506.5 457.7,508.0 458.2,509.7 458.7,509.3 459.2,508.1 459.7,510.0 460.2,509.1 460.7,507.4 461.2,505.9 461.7,501.6 462.2,497.5 462.7,500.2 463.1,510.8 463.6,501.4 464.1,500.3 464.6,503.0 465.1,504.2 465.6,505.7 466.1,506.3 466.6,507.1 467.1,510.4 467.6,507.5 468.1,506.9 468.6,505.7 469.1,501.1 469.6,501.6 470.1,506.4 470.6,504.7 471.1,502.8 471.5,498.6 472.0,497.8 472.5,506.6 473.0,502.7 473.5,496.3 474.0,495.3 474.5,495.0 475.0,494.3 475.5,496.5 476.0,499.6 476.5,499.1 477.0,496.4 477.5,496.7 478.0,501.1 478.5,504.7 479.0,502.7 479.4,499.6 479.9,499.7 480.4,497.3 480.9,495.2 481.4,499.5 481.9,503.3 482.4,503.1 482.9,501.3 483.4,502.7 483.9,508.1 484.4,506.2 484.9,502.6 485.4,502.1 485.9,504.6 486.4,506.4 486.9,507.9 487.4,508.0 487.8,499.3 488.3,493.3 488.8,493.6 489.3,497.4 489.8,503.1 490.3,506.5 490.8,506.9 491.3,508.0 491.8,508.6 492.3,509.5 492.8,510.0 493.3,510.4 493.8,510.5 494.3,508.1 494.8,505.1 495.3,502.4 495.8,501.5 496.2,503.2 496.7,507.6 497.2,503.6 497.7,505.1 498.2,508.8 498.7,509.1 499.2,509.4 499.7,504.1 500.2,501.5 500.7,500.3 501.2,499.1 501.7,501.3 502.2,504.0 502.7,506.3 503.2,509.8 503.7,504.2 504.1,503.5 504.6,506.4 505.1,507.7 505.6,504.6 506.1,506.1 506.6,506.2 507.1,503.6 507.6,503.7 508.1,506.7 508.6,504.6 509.1,500.4 509.6,496.4 510.1,491.3 510.6,492.9 511.1,497.0 511.6,498.1 512.1,500.0 512.5,501.2 513.0,502.5 513.5,504.7 514.0,505.2 514.5,505.2 515.0,504.5 515.5,504.2 516.0,506.6 516.5,509.8 517.0,506.2 517.5,505.6 518.0,507.6 518.5,503.9 519.0,499.3 519.5,497.4 520.0,500.5 520.5,504.1 520.9,506.7 521.4,507.8 521.9,503.0 522.4,501.2 522.9,501.6 523.4,503.0 523.9,503.9 524.4,500.8 524.9,496.0 525.4,497.3 525.9,503.7 526.4,501.8 526.9,500.5 527.4,503.3 527.9,502.6 528.4,498.9 528.9,499.0 529.3,504.5 529.8,509.1 530.3,509.7 530.8,507.3 531.3,507.2 531.8,506.9 532.3,505.7 532.8,505.7 533.3,507.6 533.8,506.3 534.3,502.2 534.8,497.7 535.3,496.1 535.8,498.6 536.3,500.5 536.8,500.8 537.2,501.2 537.7,500.6 538.2,502.2 538.7,504.4 539.2,505.8 539.7,505.4 540.2,505.6 540.7,507.0 541.2,507.2 541.7,507.9 542.2,508.7 542.7,501.3 543.2,494.2 543.7,496.5 544.2,507.5 544.7,501.8 545.2,494.0 545.6,495.0 546.1,501.6 546.6,505.9 547.1,505.9 547.6,506.9 548.1,508.2 548.6,503.9 549.1,503.6 549.6,505.9 550.1,503.7 550.6,498.3 551.1,497.8 551.6,501.3 552.1,502.8 552.6,500.8 553.1,497.7 553.5,500.0 554.0,506.6 554.5,504.6 555.0,501.3 555.5,501.5 556.0,503.0 556.5,500.9 557.0,498.7 557.5,496.5 558.0,496.2 558.5,497.7 559.0,498.7 559.5,504.0 560.0,508.3 560.5,507.5 561.0,506.4 561.5,509.4 561.9,506.2 562.4,502.5 562.9,504.0 563.4,505.6 563.9,502.1 564.4,497.8 564.9,497.2 565.4,499.7 565.9,504.0 566.4,506.8 566.9,508.0 567.4,505.1 567.9,503.9 568.4,504.2 568.9,504.9 569.4,501.1 569.9,494.2 570.3,490.5 570.8,491.7 571.3,497.1 571.8,503.7 572.3,507.1 572.8,507.4 573.3,506.7 573.8,507.0 574.3,506.2 574.8,507.6 575.3,509.4 575.8,509.0 576.3,504.1 576.8,501.3 577.3,500.1 577.8,500.1 578.2,503.5 578.7,507.9 579.2,507.3 579.7,499.2 580.2,496.2 580.7,501.7 581.2,505.0 581.7,503.1 582.2,499.1 582.7,495.8 583.2,498.8 583.7,502.0 584.2,503.5 584.7,508.7 585.2,504.8 585.7,504.5 586.2,508.1 586.6,501.2 587.1,501.9 587.6,507.0 588.1,504.7 588.6,506.5 589.1,508.9 589.6,505.7 590.1,500.7 590.6,498.6 591.1,499.6 591.6,501.3 592.1,500.8 592.6,502.4 593.1,508.7 593.6,505.5 594.1,503.0 594.6,502.9 595.0,501.8 595.5,500.1 596.0,497.7 596.5,496.4 597.0,501.1 597.5,507.6 598.0,502.6 598.5,497.0 599.0,498.4 599.5,506.0 600.0,508.3 600.5,504.8 601.0,502.1 601.5,501.0 602.0,503.0 602.5,506.2 603.0,507.1 603.4,507.1 603.9,506.3 604.4,503.2 604.9,500.7 605.4,503.6 605.9,509.8 606.4,506.2 606.9,504.3 607.4,502.9 607.9,501.6 608.4,501.8 608.9,502.6 609.4,503.1 609.9,504.8 610.4,506.0 610.9,502.4 611.3,500.0 611.8,504.0 612.3,506.9 612.8,506.7 613.3,505.7 613.8,502.5 614.3,502.4 614.8,503.0 615.3,504.3 615.8,507.5 616.3,508.9 616.8,504.5 617.3,504.9 617.8,507.2 618.3,507.2 618.8,509.9 619.3,508.6 619.7,504.2 620.2,501.3 620.7,502.5 621.2,504.7 621.7,507.1 622.2,506.1 622.7,504.8 623.2,503.6 623.7,501.6 624.2,501.9 624.7,503.4 625.2,501.2 625.7,501.7 626.2,505.6 626.7,507.7 627.2,507.9 627.7,508.7 628.1,506.9 628.6,508.6 629.1,508.4 629.6,508.2 630.1,506.8 630.6,503.1 631.1,500.1 631.6,500.9 632.1,503.2 632.6,506.8 633.1,507.2 633.6,503.3 634.1,501.8 634.6,505.7 635.1,509.7 635.6,508.4 636.0,506.4 636.5,508.4 637.0,504.1 637.5,498.5 638.0,499.3 638.5,501.7 639.0,498.1 639.5,495.3 640.0,496.9 640.5,499.3 641.0,497.4 641.5,494.9 642.0,498.5 642.5,504.2 643.0,508.3 643.5,507.1 644.0,504.0 644.4,503.3 644.9,502.9 645.4,502.8 645.9,504.9 646.4,502.6 646.9,502.5 647.4,505.5 647.9,508.5 648.4,508.4 648.9,506.1 649.4,503.5 649.9,502.6 650.4,505.7 650.9,506.1 651.4,501.4 651.9,501.6 652.4,507.4 652.8,505.1 653.3,500.7 653.8,498.6 654.3,501.5 654.8,503.7 655.3,503.6 655.8,504.6 656.3,506.2 656.8,508.6 657.3,507.8 657.8,509.7 658.3,505.1 658.8,507.1 659.3,509.9 659.8,510.1 660.3,507.5 660.7,506.6 661.2,505.7 661.7,502.6 662.2,501.6 662.7,504.9 663.2,508.3 663.7,506.1 664.2,505.6 664.7,508.3" class="ln" stroke="#0000ff" stroke-width="1.6"/>
<polyline points="417.7,502.4 418.2,504.2 418.7,506.6 419.2,504.2 419.7,504.0 420.2,501.2 420.7,498.0 421.2,500.7 421.7,503.3 422.1,504.3 422.6,506.0 423.1,506.8 423.6,507.4 424.1,505.1 424.6,505.3 425.1,508.7 425.6,508.5 426.1,505.1 426.6,504.9 427.1,504.9 427.6,499.1 428.1,493.4 428.6,494.7 429.1,499.4 429.6,503.8 430.1,509.3 430.5,503.3 431.0,500.6 431.5,504.1 432.0,510.4 432.5,508.1 433.0,509.9 433.5,509.4 434.0,509.6 434.5,509.3 435.0,506.9 435.5,505.6 436.0,504.4 436.5,504.8 437.0,506.4 437.5,505.1 438.0,505.3 438.4,501.3 438.9,496.8 439.4,500.1 439.9,506.8 440.4,505.0 440.9,500.7 441.4,499.1 441.9,502.0 442.4,505.8 442.9,506.3 443.4,502.5 443.9,501.0 444.4,501.3 444.9,504.4 445.4,507.4 445.9,510.4 446.4,504.5 446.8,501.2 447.3,500.5 447.8,500.5 448.3,502.6 448.8,503.4 449.3,504.7 449.8,506.3 450.3,505.3 450.8,503.7 451.3,504.9 451.8,506.1 452.3,506.8 452.8,508.2 453.3,508.5 453.8,505.3 454.3,505.6 454.8,505.9 455.2,504.6 455.7,503.3 456.2,500.6 456.7,499.5 457.2,500.1 457.7,504.0 458.2,507.0 458.7,507.1 459.2,507.1 459.7,506.4 460.2,507.4 460.7,506.2 461.2,503.1 461.7,497.5 462.2,495.9 462.7,499.5 463.1,506.3 463.6,507.9 464.1,506.7 464.6,505.5 465.1,506.6 465.6,508.7 466.1,508.0 466.6,507.9 467.1,502.5 467.6,502.0 468.1,506.6 468.6,504.6 469.1,499.8 469.6,499.3 470.1,502.2 470.6,504.5 471.1,502.8 471.5,502.2 472.0,502.0 472.5,501.8 473.0,503.9 473.5,506.7 474.0,507.3 474.5,506.2 475.0,506.4 475.5,505.5 476.0,503.3 476.5,501.5 477.0,503.3 477.5,502.2 478.0,502.3 478.5,504.8 479.0,506.3 479.4,505.9 479.9,504.7 480.4,504.5 480.9,505.4 481.4,507.4 481.9,506.4 482.4,504.6 482.9,504.5 483.4,504.8 483.9,501.6 484.4,500.5 484.9,503.1 485.4,510.0 485.9,502.8 486.4,498.4 486.9,499.0 487.4,501.8 487.8,502.8 488.3,506.9 488.8,507.5 489.3,502.5 489.8,501.8 490.3,505.5 490.8,505.1 491.3,502.8 491.8,504.3 492.3,508.9 492.8,505.0 493.3,498.1 493.8,494.6 494.3,495.9 494.8,501.4 495.3,508.9 495.8,506.0 496.2,504.5 496.7,506.8 497.2,504.9 497.7,500.8 498.2,502.2 498.7,506.3 499.2,508.7 499.7,509.5 500.2,508.6 500.7,507.6 501.2,507.5 501.7,507.4 502.2,507.1 502.7,507.8 503.2,508.7 503.7,507.1 504.1,504.2 504.6,505.1 505.1,505.1 505.6,506.2 506.1,503.6 506.6,499.7 507.1,502.0 507.6,507.5 508.1,507.2 508.6,508.1 509.1,508.0 509.6,504.9 510.1,504.2 510.6,507.1 511.1,507.2 511.6,505.8 512.1,502.8 512.5,499.6 513.0,501.5 513.5,505.0 514.0,506.0 514.5,507.6 515.0,507.4 515.5,505.1 516.0,501.9 516.5,498.8 517.0,500.2 517.5,505.6 518.0,509.2 518.5,508.9 519.0,504.3 519.5,500.2 520.0,497.9 520.5,497.4 520.9,502.9 521.4,507.7 521.9,506.8 522.4,499.8 522.9,497.9 523.4,504.5 523.9,506.0 524.4,501.7 524.9,504.4 525.4,505.1 525.9,503.3 526.4,507.3 526.9,505.9 527.4,502.3 527.9,506.8 528.4,505.4 528.9,503.2 529.3,507.0 529.8,507.4 530.3,505.6 530.8,504.5 531.3,504.4 531.8,502.6 532.3,502.5 532.8,507.7 533.3,506.4 533.8,501.7 534.3,499.7 534.8,501.1 535.3,505.8 535.8,509.6 536.3,503.2 536.8,500.3 537.2,502.8 537.7,503.3 538.2,500.8 538.7,496.9 539.2,488.4 539.7,484.2 540.2,485.7 540.7,485.8 541.2,490.0 541.7,497.9 542.2,503.1 542.7,507.7 543.2,504.7 543.7,506.5 544.2,510.1 544.7,505.8 545.2,503.5 545.6,505.0 546.1,508.6 546.6,507.4 547.1,507.3 547.6,509.4 548.1,504.3 548.6,499.3 549.1,500.9 549.6,507.0 550.1,503.2 550.6,496.7 551.1,497.0 551.6,498.5 552.1,496.2 552.6,495.5 553.1,497.6 553.5,499.0 554.0,498.6 554.5,500.6 555.0,508.5 555.5,503.0 556.0,499.6 556.5,501.4 557.0,500.8 557.5,503.1 558.0,506.7 558.5,507.6 559.0,505.2 559.5,502.1 560.0,503.2 560.5,506.9 561.0,509.1 561.5,508.7 561.9,506.2 562.4,501.4 562.9,498.2 563.4,500.1 563.9,505.9 564.4,508.7 564.9,506.9 565.4,505.7 565.9,504.8 566.4,506.5 566.9,504.8 567.4,501.5 567.9,502.1 568.4,501.2 568.9,497.0 569.4,498.1 569.9,501.2 570.3,504.0 570.8,507.5 571.3,508.9 571.8,502.4 572.3,501.5 572.8,505.7 573.3,509.7 573.8,507.4 574.3,504.9 574.8,503.2 575.3,501.0 575.8,500.0 576.3,501.1 576.8,503.7 577.3,506.6 577.8,509.1 578.2,506.8 578.7,501.9 579.2,498.6 579.7,498.7 580.2,503.3 580.7,507.8 581.2,500.9 581.7,500.9 582.2,504.4 582.7,504.7 583.2,500.9 583.7,501.5 584.2,506.0 584.7,509.1 585.2,509.6 585.7,507.0 586.2,509.0 586.6,508.7 587.1,507.4 587.6,505.6 588.1,504.1 588.6,503.3 589.1,504.7 589.6,502.1 590.1,496.2 590.6,494.2 591.1,498.4 591.6,505.1 592.1,508.5 592.6,506.0 593.1,505.9 593.6,505.5 594.1,506.6 594.6,507.1 595.0,507.8 595.5,508.9 596.0,508.4 596.5,506.6 597.0,502.8 597.5,503.5 598.0,505.0 598.5,504.9 599.0,502.4 599.5,497.5 600.0,494.5 600.5,496.6 601.0,502.9 601.5,507.2 602.0,508.5 602.5,508.1 603.0,508.5 603.4,510.6 603.9,506.1 604.4,502.1 604.9,502.9 605.4,502.5 605.9,497.9 606.4,495.8 606.9,498.5 607.4,503.5 607.9,505.4 608.4,502.8 608.9,500.8 609.4,500.2 609.9,499.4 610.4,499.0 610.9,498.2 611.3,497.5 611.8,498.5 612.3,501.3 612.8,502.5 613.3,502.4 613.8,504.4 614.3,503.5 614.8,500.3 615.3,499.6 615.8,501.1 616.3,503.7 616.8,504.3 617.3,503.4 617.8,506.1 618.3,509.3 618.8,508.5 619.3,505.7 619.7,503.6 620.2,501.9 620.7,500.1 621.2,503.0 621.7,506.0 622.2,504.6 622.7,505.0 623.2,506.9 623.7,507.0 624.2,502.2 624.7,498.0 625.2,497.7 625.7,499.7 626.2,504.2 626.7,505.7 627.2,503.9 627.7,501.4 628.1,500.8 628.6,501.2 629.1,504.1 629.6,510.2 630.1,507.0 630.6,507.4 631.1,507.5 631.6,505.1 632.1,504.9 632.6,506.5 633.1,507.5 633.6,508.0 634.1,510.0 634.6,505.4 635.1,500.8 635.6,497.7 636.0,497.6 636.5,504.2 637.0,507.9 637.5,505.7 638.0,508.9 638.5,503.7 639.0,504.0 639.5,506.3 640.0,502.3 640.5,502.1 641.0,506.9 641.5,504.7 642.0,502.5 642.5,504.8 643.0,510.1 643.5,508.4 644.0,506.5 644.4,503.7 644.9,504.0 645.4,508.3 645.9,504.5 646.4,502.8 646.9,506.8 647.4,506.9 647.9,504.4 648.4,503.9 648.9,503.5 649.4,502.3 649.9,503.3 650.4,505.2 650.9,505.3 651.4,505.1 651.9,504.9 652.4,504.2 652.8,501.7 653.3,499.0 653.8,500.8 654.3,507.8 654.8,506.6 655.3,505.7 655.8,504.9 656.3,504.8 656.8,505.7 657.3,505.4 657.8,504.8 658.3,505.1 658.8,500.8 659.3,501.0 659.8,505.0 660.3,504.5 660.7,502.7 661.2,501.4 661.7,499.5 662.2,496.0 662.7,494.9 663.2,497.9 663.7,503.4 664.2,508.8 664.7,510.3" class="ln" stroke="#0000ff" stroke-width="1.6"/>
<polyline points="417.7,507.0 418.2,507.6 418.7,505.6 419.2,504.3 419.7,507.8 420.2,507.9 420.7,503.2 421.2,500.6 421.7,500.7 422.1,505.2 422.6,507.4 423.1,505.2 423.6,507.6 424.1,507.1 424.6,503.3 425.1,504.7 425.6,507.9 426.1,507.6 426.6,509.5 427.1,504.8 427.6,501.0 428.1,500.3 428.6,497.9 429.1,495.4 429.6,498.3 430.1,506.7 430.5,506.5 431.0,504.3 431.5,506.9 432.0,504.8 432.5,501.3 433.0,500.8 433.5,502.2 434.0,505.0 434.5,504.8 435.0,502.2 435.5,502.8 436.0,505.2 436.5,505.1 437.0,501.2 437.5,500.8 438.0,507.4 438.4,507.2 438.9,505.6 439.4,506.5 439.9,507.3 440.4,505.7 440.9,501.6 441.4,500.3 441.9,501.0 442.4,499.7 442.9,497.6 443.4,500.0 443.9,504.1 444.4,500.8 444.9,499.0 445.4,501.6 445.9,505.3 446.4,506.3 446.8,506.4 447.3,507.8 447.8,507.8 448.3,508.6 448.8,508.1 449.3,505.2 449.8,506.8 450.3,510.2 450.8,503.1 451.3,497.1 451.8,497.6 452.3,499.9 452.8,501.1 453.3,503.5 453.8,507.1 454.3,505.9 454.8,505.1 455.2,507.3 455.7,506.6 456.2,503.2 456.7,502.2 457.2,503.0 457.7,505.0 458.2,507.3 458.7,506.9 459.2,507.7 459.7,502.8 460.2,499.0 460.7,498.3 461.2,501.0 461.7,504.0 462.2,509.1 462.7,503.6 463.1,499.1 463.6,499.6 464.1,501.6 464.6,503.0 465.1,503.3 465.6,504.4 466.1,505.1 466.6,504.3 467.1,505.3 467.6,503.2 468.1,500.4 468.6,498.1 469.1,500.7 469.6,506.6 470.1,506.9 470.6,509.7 471.1,507.2 471.5,505.9 472.0,508.0 472.5,508.4 473.0,507.7 473.5,505.6 474.0,503.3 474.5,500.6 475.0,503.0 475.5,508.6 476.0,509.3 476.5,505.5 477.0,499.9 477.5,499.0 478.0,503.8 478.5,506.6 479.0,506.6 479.4,507.4 479.9,509.8 480.4,506.7 480.9,504.5 481.4,507.5 481.9,510.1 482.4,505.8 482.9,498.8 483.4,497.9 483.9,502.4 484.4,498.4 484.9,495.3 485.4,495.1 485.9,497.9 486.4,502.2 486.9,504.4 487.4,504.6 487.8,505.3 488.3,506.2 488.8,506.0 489.3,507.3 489.8,508.3 490.3,508.2 490.8,506.3 491.3,503.4 491.8,504.0 492.3,504.3 492.8,504.7 493.3,507.5 493.8,508.5 494.3,507.1 494.8,503.6 495.3,501.6 495.8,504.5 496.2,506.5 496.7,505.9 497.2,501.1 497.7,500.8 498.2,503.2 498.7,503.5 499.2,500.1 499.7,494.9 500.2,492.2 500.7,495.4 501.2,503.1 501.7,509.0 502.2,508.4 502.7,508.7 503.2,506.1 503.7,505.4 504.1,504.4 504.6,501.1 505.1,502.1 505.6,507.8 506.1,506.6 506.6,506.5 507.1,508.5 507.6,507.4 508.1,506.5 508.6,503.4 509.1,502.2 509.6,505.2 510.1,510.0 510.6,506.3 511.1,502.9 511.6,502.4 512.1,505.1 512.5,507.7 513.0,506.0 513.5,503.5 514.0,500.0 514.5,497.3 515.0,496.9 515.5,498.7 516.0,499.7 516.5,502.6 517.0,507.5 517.5,508.3 518.0,506.1 518.5,505.2 519.0,506.5 519.5,508.3 520.0,507.3 520.5,503.9 520.9,502.8 521.4,500.2 521.9,499.3 522.4,505.1 522.9,508.0 523.4,503.5 523.9,503.7 524.4,506.0 524.9,508.0 525.4,503.7 525.9,501.2 526.4,504.0 526.9,508.1 527.4,507.3 527.9,509.6 528.4,504.3 528.9,501.9 529.3,498.6 529.8,497.6 530.3,503.3 530.8,509.9 531.3,502.3 531.8,496.6 532.3,497.2 532.8,499.8 533.3,500.4 533.8,500.4 534.3,499.8 534.8,501.2 535.3,502.5 535.8,503.0 536.3,503.6 536.8,503.3 537.2,502.2 537.7,502.3 538.2,505.2 538.7,508.7 539.2,503.9 539.7,500.3 540.2,499.4 540.7,499.9 541.2,500.9 541.7,504.1 542.2,508.8 542.7,503.6 543.2,501.1 543.7,503.9 544.2,507.8 544.7,503.6 545.2,505.1 545.6,501.6 546.1,499.8 546.6,504.3 547.1,508.3 547.6,508.2 548.1,505.6 548.6,504.3 549.1,503.9 549.6,504.7 550.1,505.1 550.6,505.4 551.1,506.0 551.6,506.5 552.1,507.5 552.6,506.9 553.1,507.1 553.5,508.3 554.0,509.3 554.5,508.9 555.0,508.0 555.5,506.9 556.0,505.5 556.5,507.5 557.0,505.3 557.5,504.6 558.0,507.3 558.5,509.5 559.0,504.0 559.5,502.2 560.0,503.7 560.5,506.3 561.0,509.4 561.5,507.9 561.9,504.4 562.4,500.3 562.9,498.9 563.4,499.0 563.9,498.8 564.4,499.7 564.9,501.6 565.4,504.8 565.9,508.3 566.4,509.7 566.9,508.7 567.4,506.6 567.9,508.2 568.4,507.8 568.9,506.2 569.4,508.8 569.9,507.6 570.3,505.8 570.8,507.0 571.3,508.6 571.8,507.3 572.3,501.2 572.8,498.2 573.3,503.5 573.8,504.0 574.3,495.7 574.8,496.4 575.3,503.1 575.8,501.1 576.3,495.0 576.8,494.3 577.3,497.4 577.8,499.5 578.2,499.3 578.7,498.9 579.2,500.6 579.7,503.3 580.2,507.6 580.7,508.0 581.2,502.3 581.7,499.3 582.2,498.6 582.7,501.5 583.2,507.8 583.7,510.1 584.2,509.3 584.7,509.1 585.2,509.6 585.7,507.9 586.2,501.8 586.6,499.1 587.1,501.0 587.6,503.9 588.1,503.6 588.6,503.7 589.1,504.5 589.6,505.2 590.1,505.9 590.6,508.0 591.1,509.8 591.6,507.8 592.1,509.7 592.6,502.6 593.1,497.8 593.6,498.2 594.1,505.5 594.6,506.1 595.0,498.6 595.5,496.3 596.0,499.4 596.5,499.9 597.0,496.9 597.5,500.2 598.0,507.0 598.5,500.4 599.0,496.2 599.5,498.5 600.0,499.7 600.5,496.6 601.0,496.3 601.5,501.4 602.0,509.2 602.5,508.2 603.0,507.8 603.4,503.1 603.9,503.6 604.4,505.6 604.9,502.9 605.4,502.3 605.9,502.1 606.4,502.6 606.9,505.0 607.4,505.3 607.9,502.2 608.4,499.3 608.9,502.7 609.4,508.7 609.9,502.3 610.4,501.2 610.9,504.1 611.3,507.6 611.8,506.7 612.3,506.7 612.8,509.2 613.3,504.7 613.8,501.4 614.3,506.3 614.8,504.5 615.3,497.9 615.8,494.6 616.3,489.4 616.8,485.4 617.3,489.4 617.8,498.2 618.3,494.3 618.8,497.0 619.3,503.0 619.7,509.2 620.2,507.4 620.7,506.9 621.2,507.7 621.7,508.9 622.2,506.8 622.7,501.9 623.2,498.8 623.7,499.1 624.2,500.7 624.7,506.9 625.2,505.6 625.7,500.1 626.2,501.7 626.7,505.0 627.2,506.5 627.7,509.2 628.1,506.7 628.6,506.2 629.1,504.7 629.6,502.3 630.1,506.0 630.6,509.0 631.1,509.6 631.6,507.4 632.1,503.8 632.6,504.0 633.1,506.0 633.6,505.8 634.1,504.9 634.6,505.9 635.1,506.2 635.6,502.6 636.0,503.1 636.5,507.1 637.0,500.0 637.5,497.2 638.0,500.6 638.5,506.9 639.0,507.6 639.5,504.4 640.0,505.6 640.5,506.6 641.0,508.3 641.5,509.5 642.0,506.0 642.5,503.2 643.0,504.6 643.5,504.5 644.0,500.7 644.4,494.5 644.9,489.7 645.4,490.5 645.9,495.7 646.4,501.0 646.9,504.6 647.4,505.0 647.9,504.6 648.4,507.7 648.9,507.3 649.4,503.5 649.9,506.6 650.4,506.2 650.9,507.4 651.4,509.4 651.9,507.6 652.4,501.6 652.8,498.2 653.3,499.2 653.8,504.2 654.3,506.1 654.8,498.8 655.3,495.6 655.8,499.0 656.3,503.6 656.8,503.6 657.3,502.3 657.8,503.0 658.3,503.1 658.8,504.0 659.3,503.4 659.8,502.6 660.3,506.4 660.7,508.9 661.2,507.9 661.7,509.8 662.2,506.1 662.7,502.9 663.2,504.7 663.7,508.9 664.2,505.0 664.7,505.2" class="ln" stroke="#0000ff" stroke-width="1.6"/>
<polyline points="417.7,504.8 418.2,498.1 418.7,494.7 419.2,497.3 419.7,497.7 420.2,496.1 420.7,500.0 421.2,508.0 421.7,507.5 422.1,503.5 422.6,501.8 423.1,503.3 423.6,505.2 424.1,507.7 424.6,510.0 425.1,510.2 425.6,509.0 426.1,505.3 426.6,501.8 427.1,501.4 427.6,504.2 428.1,504.9 428.6,500.9 429.1,500.7 429.6,501.8 430.1,501.4 430.5,504.6 431.0,508.8 431.5,501.8 432.0,497.1 432.5,496.4 433.0,497.6 433.5,500.0 434.0,503.0 434.5,507.2 435.0,507.1 435.5,508.1 436.0,505.5 436.5,501.0 437.0,500.6 437.5,504.2 438.0,508.9 438.4,510.1 438.9,508.0 439.4,503.1 439.9,504.7 440.4,507.5 440.9,504.3 441.4,504.2 441.9,509.8 442.4,505.5 442.9,502.4 443.4,502.2 443.9,505.5 444.4,506.2 444.9,507.3 445.4,508.7 445.9,506.6 446.4,505.5 446.8,506.4 447.3,509.7 447.8,506.8 448.3,503.5 448.8,502.7 449.3,500.5 449.8,496.5 450.3,494.2 450.8,493.7 451.3,493.9 451.8,496.8 452.3,502.4 452.8,502.4 453.3,498.5 453.8,499.3 454.3,503.0 454.8,504.5 455.2,505.4 455.7,505.2 456.2,506.2 456.7,509.6 457.2,504.2 457.7,499.0 458.2,497.0 458.7,497.9 459.2,502.5 459.7,504.8 460.2,508.0 460.7,503.8 461.2,496.1 461.7,493.1 462.2,494.5 462.7,497.6 463.1,503.3 463.6,509.4 464.1,506.8 464.6,505.9 465.1,505.3 465.6,501.5 466.1,499.8 466.6,502.5 467.1,505.4 467.6,500.8 468.1,500.8 468.6,504.0 469.1,506.0 469.6,507.8 470.1,508.2 470.6,509.0 471.1,509.4 471.5,508.7 472.0,506.7 472.5,503.6 473.0,502.7 473.5,504.6 474.0,505.8 474.5,505.5 475.0,505.9 475.5,507.7 476.0,509.1 476.5,509.6 477.0,505.2 477.5,505.1 478.0,504.6 478.5,503.4 479.0,505.8 479.4,505.6 479.9,502.7 480.4,504.0 480.9,505.6 481.4,504.6 481.9,504.0 482.4,504.2 482.9,501.2 483.4,498.3 483.9,499.1 484.4,503.5 484.9,508.1 485.4,509.4 485.9,508.8 486.4,508.0 486.9,507.9 487.4,509.3 487.8,508.6 488.3,504.7 488.8,501.2 489.3,499.2 489.8,501.7 490.3,505.5 490.8,507.2 491.3,508.3 491.8,507.4 492.3,505.5 492.8,506.9 493.3,507.0 493.8,500.6 494.3,495.7 494.8,493.5 495.3,493.7 495.8,499.2 496.2,509.2 496.7,504.7 497.2,503.0 497.7,504.8 498.2,506.2 498.7,505.7 499.2,507.6 499.7,510.2 500.2,508.9 500.7,509.5 501.2,508.8 501.7,506.2 502.2,504.0 502.7,502.9 503.2,507.0 503.7,508.2 504.1,504.7 504.6,496.1 505.1,493.3 505.6,498.7 506.1,503.7 506.6,502.2 507.1,501.7 507.6,500.6 508.1,500.4 508.6,503.0 509.1,504.4 509.6,504.0 510.1,503.6 510.6,501.0 511.1,500.9 511.6,502.9 512.1,503.5 512.5,503.5 513.0,502.6 513.5,502.8 514.0,507.2 514.5,506.9 515.0,502.4 515.5,498.3 516.0,501.4 516.5,509.3 517.0,499.9 517.5,494.6 518.0,493.8 518.5,496.4 519.0,500.2 519.5,504.7 520.0,503.6 520.5,502.0 520.9,503.4 521.4,505.7 521.9,507.3 522.4,507.9 522.9,504.9 523.4,501.9 523.9,498.8 524.4,495.9 524.9,493.2 525.4,495.4 525.9,501.4 526.4,502.7 526.9,504.3 527.4,504.9 527.9,504.1 528.4,505.8 528.9,504.4 529.3,501.8 529.8,498.1 530.3,499.2 530.8,504.4 531.3,508.9 531.8,506.5 532.3,500.2 532.8,499.5 533.3,505.3 533.8,509.5 534.3,510.6 534.8,507.8 535.3,501.9 535.8,496.4 536.3,496.6 536.8,501.7 537.2,508.1 537.7,504.9 538.2,502.9 538.7,501.1 539.2,500.6 539.7,504.6 540.2,510.6 540.7,507.4 541.2,503.7 541.7,500.4 542.2,500.4 542.7,502.4 543.2,503.8 543.7,503.3 544.2,504.6 544.7,507.6 545.2,511.0 545.6,508.4 546.1,506.1 546.6,503.9 547.1,502.4 547.6,504.7 548.1,508.3 548.6,503.9 549.1,504.3 549.6,507.3 550.1,507.0 550.6,503.5 551.1,498.9 551.6,498.7 552.1,503.4 552.6,505.4 553.1,505.6 553.5,506.4 554.0,506.9 554.5,508.2 555.0,508.0 555.5,505.3 556.0,504.6 556.5,507.6 557.0,507.2 557.5,502.6 558.0,503.4 558.5,505.9 559.0,507.9 559.5,507.1 560.0,502.0 560.5,495.8 561.0,495.5 561.5,501.2 561.9,506.2 562.4,507.6 562.9,504.2 563.4,503.0 563.9,503.4 564.4,503.9 564.9,506.2 565.4,506.8 565.9,504.3 566.4,501.8 566.9,502.5 567.4,505.3 567.9,504.3 568.4,503.2 568.9,505.5 569.4,503.5 569.9,501.5 570.3,502.1 570.8,504.5 571.3,505.9 571.8,502.4 572.3,501.0 572.8,502.6 573.3,505.3 573.8,506.7 574.3,505.1 574.8,500.4 575.3,497.5 575.8,497.0 576.3,496.9 576.8,500.3 577.3,505.0 577.8,507.0 578.2,504.9 578.7,498.7 579.2,497.8 579.7,502.9 580.2,506.8 580.7,508.9 581.2,506.4 581.7,500.8 582.2,499.6 582.7,502.3 583.2,502.1 583.7,498.1 584.2,497.8 584.7,504.2 585.2,508.6 585.7,508.5 586.2,509.6 586.6,503.4 587.1,501.4 587.6,503.9 588.1,507.5 588.6,510.0 589.1,509.7 589.6,506.4 590.1,504.3 590.6,506.0 591.1,505.4 591.6,503.1 592.1,503.6 592.6,505.9 593.1,503.0 593.6,503.9 594.1,507.6 594.6,501.9 595.0,504.1 595.5,507.8 596.0,502.3 596.5,497.1 597.0,497.7 597.5,500.9 598.0,504.6 598.5,507.0 599.0,504.8 599.5,501.9 600.0,504.5 600.5,505.4 601.0,502.0 601.5,505.0 602.0,510.8 602.5,507.4 603.0,509.1 603.4,509.1 603.9,506.1 604.4,503.1 604.9,502.5 605.4,503.8 605.9,502.8 606.4,503.4 606.9,507.6 607.4,507.9 607.9,504.0 608.4,504.2 608.9,505.0 609.4,505.7 609.9,507.8 610.4,509.7 610.9,507.5 611.3,504.9 611.8,502.8 612.3,506.2 612.8,507.0 613.3,504.6 613.8,503.1 614.3,502.2 614.8,504.2 615.3,507.1 615.8,507.6 616.3,504.6 616.8,503.0 617.3,504.6 617.8,505.0 618.3,507.3 618.8,507.4 619.3,507.0 619.7,509.1 620.2,509.4 620.7,509.1 621.2,510.6 621.7,506.4 622.2,502.8 622.7,501.1 623.2,499.3 623.7,500.8 624.2,504.0 624.7,503.3 625.2,503.3 625.7,503.1 626.2,504.3 626.7,507.6 627.2,507.0 627.7,504.3 628.1,506.2 628.6,508.4 629.1,505.7 629.6,501.5 630.1,497.8 630.6,498.4 631.1,495.1 631.6,497.3 632.1,503.2 632.6,507.0 633.1,505.2 633.6,503.5 634.1,501.3 634.6,503.0 635.1,504.6 635.6,503.8 636.0,506.8 636.5,507.6 637.0,507.0 637.5,504.9 638.0,500.7 638.5,499.8 639.0,504.5 639.5,507.2 640.0,505.3 640.5,499.0 641.0,496.5 641.5,500.7 642.0,503.1 642.5,502.4 643.0,501.7 643.5,498.6 644.0,497.9 644.4,504.8 644.9,505.6 645.4,499.5 645.9,501.1 646.4,503.2 646.9,502.1 647.4,499.4 647.9,497.7 648.4,498.9 648.9,501.1 649.4,500.8 649.9,498.6 650.4,498.1 650.9,498.5 651.4,497.7 651.9,496.6 652.4,497.4 652.8,499.8 653.3,501.4 653.8,501.0 654.3,498.5 654.8,497.7 655.3,500.7 655.8,503.1 656.3,503.8 656.8,505.3 657.3,503.7 657.8,505.6 658.3,510.3 658.8,508.8 659.3,507.4 659.8,508.0 660.3,507.6 660.7,502.6 661.2,502.1 661.7,505.1 662.2,505.3 662.7,505.8 663.2,510.2 663.7,508.2 664.2,508.6 664.7,509.4" class="ln" stroke="#0000ff" stroke-width="1.6"/>
<polyline points="417.7,505.3 418.2,506.1 418.7,507.4 419.2,509.0 419.7,509.8 420.2,509.2 420.7,508.5 421.2,508.5 421.7,508.8 422.1,508.1 422.6,506.3 423.1,504.3 423.6,502.6 424.1,501.8 424.6,501.9 425.1,502.8 425.6,504.2 426.1,505.4 426.6,506.4 427.1,507.1 427.6,507.3 428.1,507.3 428.6,507.1 429.1,506.9 429.6,507.0 430.1,507.4 430.5,508.1 431.0,509.1 431.5,509.8 432.0,509.5 432.5,508.7 433.0,508.4 433.5,508.7 434.0,509.2 434.5,508.8 435.0,507.4 435.5,506.5 436.0,506.9 436.5,508.1 437.0,507.8 437.5,505.3 438.0,502.7 438.4,501.8 438.9,502.6 439.4,505.0 439.9,507.8 440.4,508.9 440.9,507.5 441.4,505.4 441.9,504.0 442.4,503.3 442.9,503.3 443.4,503.6 443.9,503.9 444.4,504.1 444.9,503.8 445.4,503.2 445.9,502.9 446.4,504.0 446.8,505.7 447.3,505.6 447.8,502.2 448.3,498.2 448.8,495.6 449.3,494.8 449.8,495.3 450.3,496.5 450.8,498.0 451.3,499.9 451.8,501.9 452.3,503.9 452.8,505.5 453.3,506.2 453.8,505.8 454.3,504.4 454.8,502.3 455.2,499.7 455.7,497.4 456.2,495.7 456.7,494.9 457.2,495.3 457.7,496.9 458.2,499.5 458.7,502.8 459.2,505.8 459.7,506.6 460.2,504.8 460.7,501.4 461.2,497.6 461.7,494.6 462.2,493.5 462.7,495.1 463.1,499.0 463.6,504.0 464.1,507.3 464.6,506.4 465.1,503.4 465.6,500.5 466.1,498.8 466.6,498.8 467.1,500.0 467.6,501.2 468.1,501.0 468.6,499.9 469.1,499.1 469.6,499.9 470.1,502.3 470.6,505.9 471.1,508.8 471.5,509.0 472.0,508.3 472.5,507.5 473.0,505.7 473.5,503.6 474.0,502.6 474.5,503.3 475.0,505.0 475.5,506.4 476.0,506.7 476.5,506.4 477.0,506.1 477.5,506.2 478.0,506.6 478.5,506.0 479.0,503.3 479.4,499.6 479.9,496.4 480.4,494.2 480.9,493.1 481.4,492.9 481.9,493.5 482.4,494.8 482.9,496.5 483.4,498.3 483.9,499.9 484.4,501.2 484.9,502.3 485.4,503.7 485.9,505.4 486.4,506.5 486.9,506.3 487.4,505.4 487.8,504.7 488.3,504.0 488.8,503.2 489.3,502.3 489.8,501.7 490.3,501.5 490.8,501.6 491.3,501.7 491.8,501.9 492.3,502.8 492.8,505.1 493.3,507.5 493.8,506.8 494.3,502.9 494.8,499.1 495.3,496.8 495.8,496.0 496.2,496.3 496.7,497.1 497.2,498.0 497.7,499.1 498.2,500.2 498.7,501.1 499.2,501.6 499.7,501.7 500.2,501.9 500.7,502.4 501.2,503.4 501.7,504.4 502.2,505.2 502.7,505.1 503.2,503.2 503.7,500.0 504.1,497.1 504.6,495.8 505.1,496.6 505.6,499.2 506.1,502.4 506.6,504.3 507.1,503.8 507.6,502.4 508.1,501.7 508.6,502.2 509.1,503.4 509.6,503.5 510.1,500.7 510.6,495.9 511.1,490.9 511.6,487.6 512.1,486.4 512.5,487.5 513.0,489.9 513.5,493.0 514.0,496.3 514.5,499.5 515.0,502.1 515.5,503.6 516.0,503.1 516.5,501.2 517.0,498.9 517.5,497.5 518.0,497.5 518.5,498.7 519.0,500.1 519.5,501.2 520.0,501.8 520.5,502.6 520.9,504.1 521.4,504.9 521.9,504.1 522.4,502.1 522.9,500.5 523.4,499.6 523.9,499.3 524.4,499.3 524.9,499.3 525.4,499.1 525.9,498.6 526.4,497.7 526.9,496.0 527.4,494.2 527.9,493.3 528.4,493.9 528.9,495.7 529.3,498.0 529.8,500.5 530.3,502.9 530.8,504.7 531.3,505.3 531.8,504.5 532.3,502.9 532.8,501.7 533.3,501.2 533.8,500.9 534.3,500.1 534.8,498.5 535.3,496.9 535.8,495.9 536.3,495.6 536.8,496.0 537.2,497.1 537.7,499.1 538.2,502.1 538.7,505.5 539.2,508.0 539.7,507.7 540.2,506.7 540.7,507.2 541.2,508.3 541.7,507.0 542.2,503.2 542.7,499.8 543.2,498.2 543.7,498.5 544.2,499.9 544.7,501.4 545.2,502.2 545.6,502.1 546.1,501.7 546.6,501.9 547.1,503.1 547.6,505.6 548.1,507.9 548.6,507.0 549.1,503.0 549.6,498.5 550.1,494.6 550.6,491.7 551.1,490.3 551.6,490.6 552.1,492.7 552.6,496.6 553.1,501.6 553.5,506.2 554.0,508.5 554.5,508.1 555.0,507.6 555.5,508.0 556.0,508.3 556.5,507.6 557.0,505.8 557.5,503.4 558.0,500.4 558.5,497.2 559.0,493.9 559.5,491.0 560.0,489.4 560.5,489.4 561.0,490.8 561.5,492.9 561.9,494.9 562.4,496.5 562.9,497.7 563.4,498.8 563.9,499.8 564.4,500.4 564.9,500.7 565.4,501.1 565.9,501.9 566.4,502.6 566.9,503.0 567.4,503.4 567.9,504.4 568.4,506.2 568.9,508.0 569.4,508.4 569.9,507.6 570.3,506.4 570.8,504.9 571.3,503.3 571.8,501.8 572.3,500.8 572.8,500.3 573.3,500.3 573.8,500.6 574.3,501.0 574.8,501.5 575.3,502.5 575.8,504.2 576.3,506.2 576.8,506.8 577.3,505.4 577.8,503.2 578.2,501.6 578.7,501.0 579.2,501.7 579.7,503.6 580.2,506.4 580.7,508.5 581.2,508.3 581.7,506.9 582.2,506.2 582.7,506.5 583.2,506.9 583.7,506.8 584.2,506.4 584.7,506.2 585.2,506.3 585.7,506.5 586.2,506.7 586.6,507.1 587.1,507.3 587.6,506.4 588.1,503.9 588.6,500.3 589.1,496.6 589.6,493.4 590.1,491.2 590.6,490.2 591.1,490.8 591.6,492.6 592.1,495.4 592.6,498.3 593.1,500.8 593.6,502.3 594.1,502.8 594.6,502.7 595.0,502.4 595.5,502.3 596.0,502.6 596.5,503.2 597.0,503.9 597.5,504.7 598.0,505.6 598.5,506.0 599.0,505.0 599.5,502.8 600.0,500.3 600.5,498.5 601.0,498.1 601.5,498.9 602.0,500.1 602.5,500.8 603.0,500.3 603.4,499.0 603.9,497.9 604.4,497.8 604.9,499.0 605.4,501.0 605.9,502.6 606.4,503.2 606.9,502.6 607.4,501.3 607.9,500.0 608.4,499.3 608.9,499.3 609.4,499.9 609.9,500.8 610.4,502.3 610.9,504.2 611.3,505.4 611.8,504.4 612.3,502.4 612.8,501.3 613.3,501.6 613.8,502.8 614.3,504.4 614.8,505.9 615.3,507.0 615.8,507.8 616.3,508.0 616.8,507.2 617.3,505.4 617.8,503.7 618.3,503.1 618.8,503.9 619.3,505.9 619.7,508.2 620.2,509.2 620.7,508.3 621.2,507.0 621.7,506.0 622.2,505.0 622.7,503.6 623.2,502.0 623.7,501.0 624.2,501.2 624.7,502.4 625.2,503.5 625.7,504.0 626.2,504.9 626.7,506.6 627.2,507.0 627.7,504.2 628.1,500.6 628.6,498.2 629.1,497.2 629.6,497.7 630.1,499.2 630.6,501.5 631.1,504.2 631.6,506.4 632.1,506.9 632.6,506.2 633.1,505.6 633.6,505.6 634.1,505.9 634.6,505.8 635.1,504.9 635.6,503.6 636.0,502.3 636.5,501.3 637.0,500.9 637.5,501.2 638.0,502.0 638.5,503.4 639.0,504.6 639.5,504.9 640.0,503.8 640.5,501.6 641.0,498.7 641.5,496.0 642.0,494.5 642.5,494.7 643.0,496.5 643.5,498.9 644.0,500.5 644.4,500.5 644.9,499.4 645.4,497.8 645.9,496.2 646.4,495.0 646.9,494.5 647.4,494.9 647.9,496.6 648.4,499.4 648.9,503.0 649.4,506.6 649.9,508.5 650.4,507.7 650.9,506.4 651.4,506.0 651.9,506.4 652.4,507.4 652.8,508.8 653.3,509.4 653.8,508.0 654.3,505.9 654.8,504.9 655.3,505.4 655.8,506.8 656.3,506.6 656.8,503.2 657.3,498.8 657.8,495.3 658.3,493.8 658.8,494.5 659.3,497.0 659.8,500.4 660.3,503.9 660.7,506.2 661.2,507.0 661.7,506.5 662.2,505.6 662.7,504.7 663.2,504.0 663.7,503.3 664.2,502.6 664.7,502.0" class="ln" stroke="#ff0000" stroke-width="1.6"/>
<polyline points="417.7,502.7 418.2,497.1 418.7,496.4 419.2,496.6 419.7,498.7 420.2,503.4 420.7,504.8 421.2,506.3 421.7,509.6 422.1,508.4 422.6,507.6 423.1,508.5 423.6,502.8 424.1,499.0 424.6,499.8 425.1,505.6 425.6,508.3 426.1,504.0 426.6,500.7 427.1,500.8 427.6,503.0 428.1,505.4 428.6,508.1 429.1,503.6 429.6,501.5 430.1,504.9 430.5,505.1 431.0,503.9 431.5,503.3 432.0,507.1 432.5,508.8 433.0,505.0 433.5,503.2 434.0,501.9 434.5,500.6 435.0,501.6 435.5,504.2 436.0,505.4 436.5,504.5 437.0,502.5 437.5,500.2 438.0,499.2 438.4,503.8 438.9,504.8 439.4,501.0 439.9,498.7 440.4,495.4 440.9,493.1 441.4,494.8 441.9,498.7 442.4,505.2 442.9,508.0 443.4,503.6 443.9,503.8 444.4,503.2 444.9,500.1 445.4,497.8 445.9,499.8 446.4,505.4 446.8,510.1 447.3,506.6 447.8,506.0 448.3,506.5 448.8,510.1 449.3,507.8 449.8,505.7 450.3,506.1 450.8,509.5 451.3,510.3 451.8,510.3 452.3,509.3 452.8,506.7 453.3,503.7 453.8,503.0 454.3,503.2 454.8,504.2 455.2,506.9 455.7,508.5 456.2,507.5 456.7,507.7 457.2,508.5 457.7,504.6 458.2,506.8 458.7,508.4 459.2,506.3 459.7,506.3 460.2,505.3 460.7,508.4 461.2,508.5 461.7,506.4 462.2,506.2 462.7,508.4 463.1,508.1 463.6,504.3 464.1,498.6 464.6,499.8 465.1,505.4 465.6,509.2 466.1,505.7 466.6,503.1 467.1,504.5 467.6,508.2 468.1,508.3 468.6,506.2 469.1,503.3 469.6,502.8 470.1,499.6 470.6,498.7 471.1,501.3 471.5,499.5 472.0,500.0 472.5,505.1 473.0,508.1 473.5,507.4 474.0,505.9 474.5,506.0 475.0,506.3 475.5,505.4 476.0,503.2 476.5,502.9 477.0,506.8 477.5,510.1 478.0,508.8 478.5,508.2 479.0,503.1 479.4,501.3 479.9,502.1 480.4,502.0 480.9,503.4 481.4,505.9 481.9,505.7 482.4,501.9 482.9,501.0 483.4,506.4 483.9,508.2 484.4,504.2 484.9,504.1 485.4,504.6 485.9,504.6 486.4,501.5 486.9,497.4 487.4,496.9 487.8,501.8 488.3,505.8 488.8,508.3 489.3,508.4 489.8,505.8 490.3,505.2 490.8,503.6 491.3,504.0 491.8,505.1 492.3,505.9 492.8,508.1 493.3,509.4 493.8,507.5 494.3,506.1 494.8,505.5 495.3,505.5 495.8,508.1 496.2,508.0 496.7,506.5 497.2,505.2 497.7,504.0 498.2,509.7 498.7,504.1 499.2,500.6 499.7,500.2 500.2,497.2 500.7,498.0 501.2,506.2 501.7,505.4 502.2,504.9 502.7,509.7 503.2,506.3 503.7,505.8 504.1,505.4 504.6,502.9 505.1,499.2 505.6,500.1 506.1,504.9 506.6,506.0 507.1,503.4 507.6,504.4 508.1,504.6 508.6,498.1 509.1,495.1 509.6,497.7 510.1,504.7 510.6,507.6 511.1,503.5 511.6,503.6 512.1,506.2 512.5,505.6 513.0,504.2 513.5,502.3 514.0,500.9 514.5,503.8 515.0,508.9 515.5,502.4 516.0,494.2 516.5,494.2 517.0,501.6 517.5,508.0 518.0,507.8 518.5,502.1 519.0,498.2 519.5,496.8 520.0,497.3 520.5,501.9 520.9,505.2 521.4,499.6 521.9,496.7 522.4,500.7 522.9,499.6 523.4,500.2 523.9,505.7 524.4,499.8 524.9,497.7 525.4,499.9 525.9,500.9 526.4,502.4 526.9,505.8 527.4,508.4 527.9,509.5 528.4,505.3 528.9,502.7 529.3,499.2 529.8,500.6 530.3,507.2 530.8,507.4 531.3,505.5 531.8,506.5 532.3,507.1 532.8,507.4 533.3,509.0 533.8,508.4 534.3,506.2 534.8,505.7 535.3,507.7 535.8,504.4 536.3,506.4 536.8,506.2 537.2,496.6 537.7,491.5 538.2,492.3 538.7,498.6 539.2,504.3 539.7,498.6 540.2,494.5 540.7,494.1 541.2,495.5 541.7,499.4 542.2,507.0 542.7,507.2 543.2,504.8 543.7,503.4 544.2,500.8 544.7,502.1 545.2,506.4 545.6,508.9 546.1,505.2 546.6,502.9 547.1,502.5 547.6,503.9 548.1,507.1 548.6,509.5 549.1,510.1 549.6,505.8 550.1,503.4 550.6,502.3 551.1,502.5 551.6,501.2 552.1,496.2 552.6,499.5 553.1,507.1 553.5,508.6 554.0,508.4 554.5,503.6 555.0,503.3 555.5,506.3 556.0,507.3 556.5,506.5 557.0,501.8 557.5,500.1 558.0,503.4 558.5,508.2 559.0,505.9 559.5,502.9 560.0,503.7 560.5,505.8 561.0,503.5 561.5,503.1 561.9,508.0 562.4,509.4 562.9,507.9 563.4,506.2 563.9,506.4 564.4,509.0 564.9,507.5 565.4,503.7 565.9,501.3 566.4,503.9 566.9,506.7 567.4,505.5 567.9,503.2 568.4,500.7 568.9,495.8 569.4,493.8 569.9,496.4 570.3,500.8 570.8,502.3 571.3,499.5 571.8,496.4 572.3,497.6 572.8,502.2 573.3,507.5 573.8,505.9 574.3,506.2 574.8,510.2 575.3,507.8 575.8,507.9 576.3,502.4 576.8,496.2 577.3,496.2 577.8,501.7 578.2,504.6 578.7,504.7 579.2,507.1 579.7,509.5 580.2,508.7 580.7,506.3 581.2,505.6 581.7,504.1 582.2,499.9 582.7,497.9 583.2,499.5 583.7,501.2 584.2,500.0 584.7,499.5 585.2,501.9 585.7,503.1 586.2,501.9 586.6,501.8 587.1,502.6 587.6,502.3 588.1,501.8 588.6,501.1 589.1,499.2 589.6,500.5 590.1,507.7 590.6,506.8 591.1,505.9 591.6,508.0 592.1,506.6 592.6,505.8 593.1,503.5 593.6,500.0 594.1,501.1 594.6,505.0 595.0,507.0 595.5,505.7 596.0,506.3 596.5,505.2 597.0,497.4 597.5,490.0 598.0,487.4 598.5,490.1 599.0,496.5 599.5,503.5 600.0,507.2 600.5,507.3 601.0,507.7 601.5,507.5 602.0,506.6 602.5,507.6 603.0,509.1 603.4,508.7 603.9,508.7 604.4,506.8 604.9,500.4 605.4,499.7 605.9,508.5 606.4,502.6 606.9,498.7 607.4,502.2 607.9,502.2 608.4,500.6 608.9,505.5 609.4,507.8 609.9,508.7 610.4,508.6 610.9,506.1 611.3,503.8 611.8,505.8 612.3,503.5 612.8,501.0 613.3,505.6 613.8,508.2 614.3,503.6 614.8,501.6 615.3,503.3 615.8,510.4 616.3,501.0 616.8,497.2 617.3,502.0 617.8,507.8 618.3,504.7 618.8,505.2 619.3,508.5 619.7,509.2 620.2,509.3 620.7,510.0 621.2,505.7 621.7,500.0 622.2,501.2 622.7,503.4 623.2,499.3 623.7,494.7 624.2,493.9 624.7,495.6 625.2,500.3 625.7,504.6 626.2,504.6 626.7,501.5 627.2,500.8 627.7,505.7 628.1,505.0 628.6,503.3 629.1,499.9 629.6,496.0 630.1,496.8 630.6,500.2 631.1,501.5 631.6,499.6 632.1,499.9 632.6,501.5 633.1,503.1 633.6,504.2 634.1,505.4 634.6,503.3 635.1,499.4 635.6,501.6 636.0,507.1 636.5,509.8 637.0,505.4 637.5,503.5 638.0,506.8 638.5,502.7 639.0,505.3 639.5,508.2 640.0,506.3 640.5,506.4 641.0,504.8 641.5,504.7 642.0,509.5 642.5,508.5 643.0,510.1 643.5,508.1 644.0,508.3 644.4,509.6 644.9,509.4 645.4,506.4 645.9,502.0 646.4,497.2 646.9,493.4 647.4,489.4 647.9,488.5 648.4,492.9 648.9,498.8 649.4,501.2 649.9,501.6 650.4,501.6 650.9,497.4 651.4,493.7 651.9,496.4 652.4,502.8 652.8,507.1 653.3,507.2 653.8,507.1 654.3,506.6 654.8,503.2 655.3,502.4 655.8,501.6 656.3,497.4 656.8,494.3 657.3,496.8 657.8,501.7 658.3,505.4 658.8,502.6 659.3,500.1 659.8,499.2 660.3,498.1 660.7,500.2 661.2,504.9 661.7,509.4 662.2,505.9 662.7,502.8 663.2,503.2 663.7,505.4 664.2,509.2 664.7,508.4" class="ln" stroke="#0000ff" stroke-width="1.6"/>
<polyline points="417.7,507.4 418.2,503.7 418.7,502.3 419.2,501.1 419.7,500.1 420.2,499.3 420.7,500.7 421.2,503.6 421.7,506.0 422.1,505.3 422.6,502.0 423.1,503.1 423.6,506.2 424.1,508.7 424.6,507.8 425.1,507.7 425.6,508.0 426.1,507.9 426.6,508.4 427.1,510.6 427.6,507.9 428.1,506.4 428.6,502.9 429.1,498.7 429.6,494.3 430.1,492.8 430.5,496.9 431.0,503.0 431.5,508.1 432.0,503.7 432.5,502.7 433.0,508.3 433.5,498.5 434.0,492.2 434.5,496.6 435.0,503.5 435.5,500.6 436.0,500.9 436.5,496.8 437.0,493.0 437.5,496.8 438.0,500.5 438.4,504.8 438.9,506.9 439.4,502.3 439.9,500.3 440.4,500.3 440.9,501.9 441.4,502.6 441.9,502.0 442.4,503.7 442.9,507.1 443.4,504.5 443.9,504.6 444.4,508.0 444.9,509.3 445.4,504.2 445.9,500.0 446.4,499.6 446.8,500.9 447.3,499.9 447.8,499.8 448.3,505.9 448.8,506.5 449.3,505.4 449.8,508.9 450.3,510.6 450.8,509.1 451.3,505.9 451.8,506.6 452.3,506.2 452.8,505.8 453.3,508.6 453.8,510.1 454.3,509.7 454.8,506.8 455.2,503.0 455.7,498.6 456.2,498.4 456.7,505.1 457.2,509.5 457.7,507.9 458.2,509.8 458.7,508.8 459.2,508.7 459.7,509.3 460.2,504.2 460.7,502.4 461.2,503.2 461.7,502.5 462.2,501.7 462.7,505.6 463.1,504.9 463.6,504.4 464.1,508.7 464.6,508.7 465.1,505.9 465.6,502.1 466.1,502.2 466.6,507.1 467.1,502.0 467.6,497.2 468.1,497.6 468.6,502.1 469.1,507.5 469.6,508.2 470.1,510.0 470.6,509.2 471.1,508.5 471.5,510.0 472.0,509.5 472.5,507.2 473.0,502.7 473.5,502.8 474.0,503.6 474.5,503.0 475.0,500.2 475.5,498.8 476.0,503.1 476.5,510.0 477.0,504.9 477.5,501.1 478.0,498.5 478.5,501.9 479.0,506.6 479.4,506.9 479.9,506.5 480.4,506.6 480.9,504.7 481.4,502.8 481.9,502.8 482.4,502.0 482.9,501.3 483.4,501.3 483.9,503.3 484.4,510.2 484.9,502.9 485.4,503.3 485.9,502.9 486.4,500.3 486.9,506.3 487.4,508.7 487.8,506.9 488.3,505.3 488.8,503.6 489.3,502.7 489.8,503.7 490.3,506.8 490.8,510.0 491.3,506.9 491.8,504.5 492.3,502.4 492.8,501.8 493.3,502.1 493.8,502.5 494.3,501.2 494.8,500.1 495.3,500.9 495.8,503.8 496.2,506.9 496.7,508.6 497.2,508.8 497.7,506.6 498.2,504.4 498.7,503.9 499.2,501.1 499.7,497.0 500.2,497.2 500.7,502.6 501.2,505.5 501.7,506.7 502.2,506.5 502.7,509.8 503.2,508.7 503.7,506.4 504.1,506.3 504.6,509.6 505.1,510.0 505.6,508.5 506.1,506.9 506.6,506.4 507.1,501.6 507.6,499.3 508.1,500.2 508.6,502.4 509.1,505.6 509.6,506.4 510.1,502.3 510.6,498.0 511.1,497.0 511.6,499.6 512.1,506.7 512.5,505.9 513.0,501.4 513.5,503.9 514.0,499.1 514.5,494.8 515.0,498.2 515.5,504.7 516.0,509.8 516.5,508.1 517.0,503.7 517.5,501.2 518.0,501.3 518.5,502.4 519.0,501.9 519.5,501.5 520.0,503.9 520.5,506.0 520.9,504.7 521.4,502.3 521.9,502.7 522.4,503.7 522.9,503.9 523.4,507.2 523.9,503.9 524.4,500.8 524.9,503.3 525.4,507.8 525.9,508.6 526.4,505.5 526.9,504.8 527.4,505.8 527.9,509.3 528.4,505.5 528.9,501.2 529.3,503.8 529.8,509.6 530.3,508.0 530.8,505.2 531.3,500.4 531.8,498.9 532.3,495.7 532.8,496.8 533.3,502.8 533.8,505.6 534.3,500.6 534.8,499.5 535.3,502.9 535.8,508.6 536.3,510.1 536.8,509.0 537.2,508.5 537.7,504.2 538.2,501.0 538.7,503.6 539.2,508.5 539.7,509.7 540.2,510.0 540.7,506.0 541.2,503.8 541.7,502.7 542.2,501.3 542.7,501.3 543.2,502.3 543.7,502.9 544.2,505.1 544.7,507.4 545.2,509.7 545.6,506.7 546.1,504.2 546.6,503.9 547.1,503.7 547.6,504.3 548.1,504.4 548.6,502.2 549.1,500.2 549.6,499.6 550.1,497.6 550.6,493.1 551.1,489.9 551.6,491.6 552.1,497.6 552.6,504.5 553.1,508.0 553.5,502.6 554.0,495.3 554.5,495.8 555.0,503.1 555.5,505.9 556.0,503.8 556.5,503.8 557.0,506.3 557.5,505.7 558.0,504.6 558.5,502.9 559.0,502.3 559.5,504.9 560.0,508.2 560.5,505.6 561.0,505.2 561.5,505.8 561.9,508.1 562.4,507.8 562.9,505.0 563.4,507.3 563.9,507.0 564.4,505.5 564.9,507.2 565.4,508.2 565.9,505.4 566.4,503.7 566.9,504.6 567.4,506.6 567.9,507.6 568.4,502.7 568.9,499.1 569.4,501.5 569.9,507.8 570.3,509.1 570.8,508.9 571.3,501.2 571.8,498.0 572.3,498.2 572.8,497.7 573.3,494.6 573.8,492.0 574.3,495.7 574.8,502.3 575.3,503.6 575.8,502.3 576.3,502.4 576.8,503.2 577.3,501.8 577.8,503.5 578.2,508.4 578.7,508.3 579.2,508.5 579.7,508.2 580.2,504.6 580.7,502.7 581.2,500.8 581.7,501.4 582.2,506.9 582.7,509.1 583.2,509.8 583.7,510.5 584.2,505.7 584.7,499.6 585.2,498.8 585.7,500.7 586.2,500.1 586.6,497.7 587.1,496.3 587.6,497.0 588.1,501.0 588.6,506.8 589.1,509.4 589.6,508.0 590.1,507.1 590.6,509.8 591.1,507.4 591.6,505.3 592.1,505.4 592.6,508.3 593.1,505.2 593.6,504.7 594.1,505.9 594.6,504.2 595.0,500.8 595.5,503.5 596.0,509.3 596.5,502.0 597.0,502.1 597.5,503.3 598.0,503.4 598.5,506.0 599.0,504.5 599.5,505.8 600.0,504.2 600.5,503.2 601.0,504.9 601.5,508.2 602.0,509.6 602.5,507.3 603.0,504.8 603.4,505.4 603.9,508.6 604.4,509.9 604.9,506.7 605.4,505.8 605.9,508.1 606.4,504.3 606.9,503.9 607.4,505.7 607.9,504.2 608.4,501.9 608.9,503.9 609.4,507.8 609.9,507.6 610.4,503.0 610.9,503.7 611.3,506.5 611.8,504.7 612.3,504.1 612.8,507.0 613.3,506.9 613.8,507.2 614.3,505.3 614.8,505.2 615.3,506.7 615.8,501.5 616.3,496.9 616.8,496.0 617.3,498.8 617.8,505.3 618.3,509.6 618.8,507.8 619.3,508.2 619.7,505.8 620.2,505.0 620.7,508.0 621.2,509.2 621.7,507.5 622.2,508.4 622.7,503.7 623.2,501.9 623.7,502.1 624.2,503.7 624.7,507.3 625.2,509.4 625.7,508.7 626.2,507.6 626.7,507.1 627.2,504.4 627.7,502.8 628.1,506.6 628.6,507.7 629.1,503.8 629.6,504.0 630.1,505.4 630.6,501.8 631.1,500.1 631.6,502.4 632.1,507.8 632.6,508.8 633.1,503.7 633.6,499.2 634.1,500.8 634.6,504.2 635.1,509.1 635.6,504.8 636.0,502.3 636.5,505.6 637.0,504.8 637.5,504.5 638.0,508.6 638.5,507.2 639.0,506.6 639.5,509.2 640.0,508.6 640.5,508.0 641.0,505.3 641.5,503.6 642.0,504.8 642.5,504.7 643.0,504.8 643.5,506.8 644.0,506.6 644.4,501.5 644.9,500.4 645.4,502.3 645.9,504.6 646.4,508.9 646.9,506.0 647.4,502.1 647.9,498.1 648.4,498.1 648.9,502.0 649.4,500.8 649.9,495.8 650.4,494.3 650.9,499.2 651.4,507.8 651.9,506.3 652.4,507.3 652.8,508.0 653.3,505.7 653.8,504.4 654.3,504.7 654.8,506.9 655.3,507.2 655.8,510.7 656.3,510.5 656.8,505.8 657.3,500.1 657.8,500.2 658.3,500.8 658.8,500.9 659.3,507.3 659.8,507.4 660.3,507.6 660.7,509.7 661.2,507.9 661.7,506.5 662.2,508.1 662.7,507.2 663.2,504.3 663.7,501.3 664.2,499.4 664.7,500.6" class="ln" stroke="#0000ff" stroke-width="1.6"/>
<polyline points="417.7,504.0 418.2,502.1 418.7,503.3 419.2,506.0 419.7,506.4 420.2,506.3 420.7,506.1 421.2,503.1 421.7,500.2 422.1,499.8 422.6,501.4 423.1,505.6 423.6,507.8 424.1,507.3 424.6,504.1 425.1,497.3 425.6,495.1 426.1,501.9 426.6,507.8 427.1,510.2 427.6,506.1 428.1,504.2 428.6,505.3 429.1,507.0 429.6,508.6 430.1,507.9 430.5,501.2 431.0,500.1 431.5,506.5 432.0,506.6 432.5,506.8 433.0,508.7 433.5,506.6 434.0,507.9 434.5,507.1 435.0,503.4 435.5,501.6 436.0,501.9 436.5,503.8 437.0,507.8 437.5,509.2 438.0,508.0 438.4,502.0 438.9,497.8 439.4,496.2 439.9,498.1 440.4,502.6 440.9,504.3 441.4,503.9 441.9,505.8 442.4,502.6 442.9,497.7 443.4,498.6 443.9,500.6 444.4,501.2 444.9,504.4 445.4,505.9 445.9,500.9 446.4,496.7 446.8,499.9 447.3,506.5 447.8,507.8 448.3,506.5 448.8,508.1 449.3,508.5 449.8,505.8 450.3,503.0 450.8,503.9 451.3,506.4 451.8,507.6 452.3,505.0 452.8,503.0 453.3,502.7 453.8,503.7 454.3,503.1 454.8,500.4 455.2,499.5 455.7,502.0 456.2,505.8 456.7,506.5 457.2,505.4 457.7,502.7 458.2,499.5 458.7,495.6 459.2,494.4 459.7,498.9 460.2,506.7 460.7,507.5 461.2,505.8 461.7,507.8 462.2,509.2 462.7,509.7 463.1,502.6 463.6,496.0 464.1,494.9 464.6,495.3 465.1,494.3 465.6,491.6 466.1,493.5 466.6,501.8 467.1,505.0 467.6,507.1 468.1,502.9 468.6,501.2 469.1,505.4 469.6,509.4 470.1,507.4 470.6,502.9 471.1,499.8 471.5,497.0 472.0,497.5 472.5,502.5 473.0,506.2 473.5,503.4 474.0,498.7 474.5,497.1 475.0,499.5 475.5,501.7 476.0,506.6 476.5,505.2 477.0,500.5 477.5,498.0 478.0,499.0 478.5,500.1 479.0,502.2 479.4,503.2 479.9,500.8 480.4,502.8 480.9,505.5 481.4,498.9 481.9,492.0 482.4,492.4 482.9,500.6 483.4,504.9 483.9,501.3 484.4,499.1 484.9,503.1 485.4,508.1 485.9,505.7 486.4,500.7 486.9,496.6 487.4,498.3 487.8,502.8 488.3,505.7 488.8,506.7 489.3,507.5 489.8,507.0 490.3,506.1 490.8,506.3 491.3,508.7 491.8,509.3 492.3,505.4 492.8,501.2 493.3,496.7 493.8,494.9 494.3,494.9 494.8,494.7 495.3,496.4 495.8,501.1 496.2,506.9 496.7,509.4 497.2,507.0 497.7,506.4 498.2,503.3 498.7,502.0 499.2,505.0 499.7,505.1 500.2,500.5 500.7,499.2 501.2,501.9 501.7,501.3 502.2,497.4 502.7,501.4 503.2,505.7 503.7,500.6 504.1,499.7 504.6,500.8 505.1,499.5 505.6,496.7 506.1,498.0 506.6,500.7 507.1,499.7 507.6,499.6 508.1,502.5 508.6,501.0 509.1,497.3 509.6,499.7 510.1,506.9 510.6,504.3 511.1,499.6 511.6,497.5 512.1,495.4 512.5,494.7 513.0,497.2 513.5,499.6 514.0,502.4 514.5,505.7 515.0,507.9 515.5,507.0 516.0,506.9 516.5,507.7 517.0,501.4 517.5,500.9 518.0,505.1 518.5,509.3 519.0,504.5 519.5,501.5 520.0,500.7 520.5,500.4 520.9,502.7 521.4,504.5 521.9,504.3 522.4,506.4 522.9,507.8 523.4,508.2 523.9,507.4 524.4,508.0 524.9,508.2 525.4,504.1 525.9,503.3 526.4,503.1 526.9,505.2 527.4,507.2 527.9,507.0 528.4,506.8 528.9,506.2 529.3,502.4 529.8,498.4 530.3,499.2 530.8,502.7 531.3,507.4 531.8,510.3 532.3,510.1 532.8,509.9 533.3,509.9 533.8,506.3 534.3,501.0 534.8,498.2 535.3,499.5 535.8,501.8 536.3,503.0 536.8,495.7 537.2,491.3 537.7,499.4 538.2,508.6 538.7,500.0 539.2,499.9 539.7,502.3 540.2,503.4 540.7,503.3 541.2,504.4 541.7,507.4 542.2,507.4 542.7,504.4 543.2,504.8 543.7,505.1 544.2,504.2 544.7,506.2 545.2,505.6 545.6,506.9 546.1,505.8 546.6,500.4 547.1,499.6 547.6,501.1 548.1,501.4 548.6,501.5 549.1,503.6 549.6,503.5 550.1,503.9 550.6,506.2 551.1,508.6 551.6,507.4 552.1,506.7 552.6,507.4 553.1,508.1 553.5,505.2 554.0,506.0 554.5,507.3 555.0,508.6 555.5,507.6 556.0,505.1 556.5,507.3 557.0,507.9 557.5,506.4 558.0,507.8 558.5,502.8 559.0,499.7 559.5,500.8 560.0,500.5 560.5,499.3 561.0,500.0 561.5,502.3 561.9,502.1 562.4,503.3 562.9,505.1 563.4,502.3 563.9,501.8 564.4,504.3 564.9,508.4 565.4,504.4 565.9,502.4 566.4,498.0 566.9,498.8 567.4,502.9 567.9,504.0 568.4,507.9 568.9,502.2 569.4,501.6 569.9,506.0 570.3,505.8 570.8,504.3 571.3,503.4 571.8,504.3 572.3,505.9 572.8,506.7 573.3,502.0 573.8,497.1 574.3,500.3 574.8,505.2 575.3,502.5 575.8,501.8 576.3,504.7 576.8,510.5 577.3,504.4 577.8,501.5 578.2,505.1 578.7,508.8 579.2,506.2 579.7,502.7 580.2,502.2 580.7,502.0 581.2,500.0 581.7,498.5 582.2,499.1 582.7,501.5 583.2,506.0 583.7,506.1 584.2,503.8 584.7,505.4 585.2,504.5 585.7,503.2 586.2,504.8 586.6,506.3 587.1,507.3 587.6,509.2 588.1,504.5 588.6,503.8 589.1,509.9 589.6,505.1 590.1,505.7 590.6,506.4 591.1,504.8 591.6,504.4 592.1,506.6 592.6,504.3 593.1,501.8 593.6,499.3 594.1,496.3 594.6,496.7 595.0,500.7 595.5,502.9 596.0,498.6 596.5,500.3 597.0,507.9 597.5,504.0 598.0,499.2 598.5,500.4 599.0,505.3 599.5,507.1 600.0,505.0 600.5,503.3 601.0,501.5 601.5,500.2 602.0,498.5 602.5,497.3 603.0,498.5 603.4,503.1 603.9,505.0 604.4,503.3 604.9,507.4 605.4,502.7 605.9,496.6 606.4,496.5 606.9,498.0 607.4,497.3 607.9,495.8 608.4,498.0 608.9,498.6 609.4,496.8 609.9,496.1 610.4,497.1 610.9,501.5 611.3,505.8 611.8,502.4 612.3,500.7 612.8,502.8 613.3,501.8 613.8,502.9 614.3,502.6 614.8,502.5 615.3,503.3 615.8,505.1 616.3,510.2 616.8,502.3 617.3,502.8 617.8,507.2 618.3,498.5 618.8,498.6 619.3,504.3 619.7,507.0 620.2,506.0 620.7,505.6 621.2,506.4 621.7,504.7 622.2,501.2 622.7,499.7 623.2,499.9 623.7,500.1 624.2,504.0 624.7,508.7 625.2,509.2 625.7,509.3 626.2,507.4 626.7,503.2 627.2,504.4 627.7,504.2 628.1,505.2 628.6,505.3 629.1,505.4 629.6,500.9 630.1,498.4 630.6,502.9 631.1,505.6 631.6,504.2 632.1,503.0 632.6,500.6 633.1,500.1 633.6,500.9 634.1,500.8 634.6,500.2 635.1,502.0 635.6,505.8 636.0,505.9 636.5,503.8 637.0,505.9 637.5,508.3 638.0,509.1 638.5,505.4 639.0,501.5 639.5,500.5 640.0,501.6 640.5,502.8 641.0,503.7 641.5,504.8 642.0,505.2 642.5,504.9 643.0,508.5 643.5,504.3 644.0,504.0 644.4,509.5 644.9,504.2 645.4,499.5 645.9,500.9 646.4,503.9 646.9,504.2 647.4,504.8 647.9,507.2 648.4,504.6 648.9,501.2 649.4,498.3 649.9,497.8 650.4,500.7 650.9,507.9 651.4,504.0 651.9,495.8 652.4,494.6 652.8,499.2 653.3,505.0 653.8,506.0 654.3,504.8 654.8,507.9 655.3,507.9 655.8,503.4 656.3,501.3 656.8,501.1 657.3,503.0 657.8,505.7 658.3,505.1 658.8,501.0 659.3,499.4 659.8,502.2 660.3,503.7 660.7,505.5 661.2,508.7 661.7,505.5 662.2,508.9 662.7,506.6 663.2,503.1 663.7,503.2 664.2,502.3 664.7,497.7" class="ln" stroke="#0000ff" stroke-width="1.6"/>
<polyline points="417.7,504.5 418.2,505.0 418.7,508.3 419.2,504.3 419.7,507.0 420.2,509.1 420.7,505.9 421.2,504.6 421.7,504.9 422.1,505.0 422.6,504.0 423.1,501.7 423.6,503.0 424.1,507.1 424.6,504.2 425.1,499.0 425.6,496.1 426.1,495.3 426.6,496.3 427.1,502.1 427.6,501.3 428.1,495.7 428.6,497.2 429.1,501.5 429.6,507.2 430.1,509.0 430.5,508.2 431.0,509.5 431.5,507.1 432.0,505.9 432.5,506.1 433.0,507.8 433.5,507.2 434.0,506.9 434.5,506.4 435.0,504.1 435.5,498.8 436.0,494.4 436.5,495.6 437.0,500.0 437.5,502.7 438.0,505.3 438.4,504.4 438.9,501.0 439.4,502.3 439.9,504.2 440.4,508.0 440.9,502.3 441.4,498.1 441.9,497.5 442.4,501.3 442.9,508.3 443.4,506.7 443.9,508.2 444.4,505.7 444.9,496.9 445.4,494.3 445.9,499.4 446.4,506.6 446.8,504.7 447.3,499.5 447.8,497.0 448.3,498.1 448.8,502.5 449.3,505.5 449.8,504.6 450.3,504.6 450.8,504.6 451.3,505.0 451.8,508.5 452.3,506.5 452.8,502.3 453.3,504.2 453.8,508.2 454.3,509.6 454.8,507.7 455.2,504.6 455.7,503.0 456.2,503.2 456.7,502.4 457.2,500.1 457.7,498.8 458.2,496.4 458.7,493.0 459.2,493.0 459.7,497.4 460.2,501.7 460.7,503.0 461.2,500.6 461.7,497.1 462.2,498.4 462.7,506.6 463.1,503.3 463.6,497.6 464.1,496.5 464.6,500.4 465.1,504.8 465.6,507.7 466.1,509.2 466.6,507.5 467.1,503.1 467.6,505.3 468.1,509.4 468.6,508.2 469.1,508.0 469.6,509.7 470.1,508.3 470.6,507.0 471.1,506.3 471.5,505.5 472.0,499.6 472.5,492.9 473.0,490.4 473.5,494.5 474.0,498.9 474.5,504.0 475.0,503.9 475.5,499.3 476.0,500.2 476.5,505.1 477.0,506.4 477.5,498.3 478.0,496.6 478.5,497.5 479.0,497.2 479.4,499.1 479.9,500.0 480.4,498.7 480.9,501.3 481.4,505.8 481.9,509.3 482.4,503.3 482.9,498.3 483.4,499.5 483.9,501.6 484.4,498.8 484.9,494.0 485.4,492.9 485.9,497.5 486.4,503.6 486.9,509.1 487.4,509.4 487.8,505.9 488.3,501.3 488.8,498.6 489.3,496.9 489.8,493.5 490.3,493.2 490.8,499.7 491.3,504.2 491.8,500.2 492.3,499.1 492.8,502.1 493.3,506.7 493.8,508.9 494.3,508.0 494.8,504.4 495.3,501.0 495.8,498.8 496.2,498.8 496.7,502.7 497.2,507.2 497.7,506.5 498.2,505.2 498.7,505.6 499.2,507.6 499.7,509.7 500.2,505.6 500.7,497.8 501.2,492.9 501.7,495.0 502.2,499.3 502.7,498.8 503.2,497.1 503.7,499.8 504.1,507.1 504.6,506.7 505.1,503.4 505.6,503.8 506.1,503.4 506.6,501.0 507.1,498.0 507.6,499.2 508.1,504.2 508.6,507.0 509.1,503.9 509.6,504.1 510.1,500.9 510.6,495.0 511.1,492.1 511.6,491.5 512.1,492.8 512.5,494.9 513.0,495.0 513.5,497.0 514.0,502.8 514.5,504.7 515.0,505.0 515.5,507.6 516.0,506.4 516.5,503.7 517.0,502.9 517.5,503.5 518.0,506.7 518.5,509.4 519.0,507.1 519.5,505.1 520.0,508.9 520.5,504.2 520.9,501.0 521.4,502.6 521.9,503.6 522.4,501.4 522.9,499.3 523.4,497.8 523.9,499.4 524.4,508.2 524.9,502.7 525.4,498.5 525.9,502.5 526.4,505.8 526.9,503.2 527.4,502.0 527.9,502.4 528.4,505.2 528.9,506.2 529.3,508.6 529.8,506.4 530.3,500.6 530.8,496.1 531.3,496.3 531.8,498.8 532.3,502.7 532.8,507.5 533.3,505.1 533.8,499.6 534.3,492.7 534.8,484.6 535.3,479.4 535.8,478.0 536.3,475.5 536.8,477.3 537.2,484.7 537.7,493.0 538.2,496.8 538.7,498.1 539.2,499.5 539.7,498.8 540.2,496.0 540.7,494.2 541.2,497.4 541.7,502.1 542.2,502.9 542.7,500.1 543.2,501.9 543.7,508.5 544.2,509.5 544.7,510.7 545.2,507.8 545.6,505.4 546.1,506.1 546.6,509.3 547.1,507.9 547.6,500.9 548.1,497.2 548.6,500.1 549.1,505.3 549.6,507.8 550.1,508.4 550.6,508.2 551.1,508.9 551.6,507.3 552.1,505.6 552.6,508.7 553.1,502.5 553.5,503.4 554.0,506.0 554.5,501.5 555.0,508.5 555.5,500.0 556.0,492.1 556.5,492.2 557.0,499.0 557.5,508.3 558.0,507.9 558.5,505.3 559.0,501.1 559.5,499.1 560.0,497.0 560.5,496.2 561.0,497.5 561.5,500.2 561.9,499.0 562.4,496.5 562.9,500.6 563.4,503.8 563.9,499.6 564.4,499.0 564.9,502.4 565.4,504.4 565.9,505.9 566.4,503.4 566.9,501.6 567.4,504.1 567.9,505.3 568.4,502.0 568.9,499.6 569.4,503.8 569.9,507.7 570.3,507.8 570.8,506.1 571.3,505.3 571.8,508.5 572.3,504.4 572.8,502.7 573.3,502.2 573.8,503.2 574.3,504.3 574.8,502.8 575.3,499.3 575.8,499.5 576.3,503.6 576.8,505.1 577.3,503.1 577.8,500.3 578.2,499.5 578.7,502.0 579.2,507.7 579.7,506.3 580.2,504.9 580.7,506.4 581.2,504.1 581.7,500.0 582.2,500.2 582.7,504.3 583.2,506.8 583.7,504.5 584.2,495.8 584.7,491.9 585.2,497.0 585.7,505.7 586.2,507.4 586.6,502.4 587.1,501.7 587.6,505.5 588.1,510.3 588.6,504.4 589.1,500.4 589.6,504.4 590.1,509.2 590.6,499.3 591.1,488.7 591.6,487.4 592.1,495.9 592.6,485.7 593.1,484.8 593.6,491.1 594.1,502.1 594.6,507.2 595.0,505.9 595.5,509.8 596.0,506.8 596.5,507.0 597.0,505.1 597.5,502.3 598.0,501.0 598.5,501.9 599.0,504.5 599.5,504.7 600.0,503.9 600.5,503.8 601.0,501.2 601.5,501.5 602.0,501.5 602.5,500.4 603.0,498.6 603.4,493.5 603.9,489.0 604.4,485.2 604.9,481.7 605.4,479.5 605.9,476.9 606.4,471.2 606.9,463.8 607.4,461.6 607.9,460.0 608.4,455.3 608.9,450.2 609.4,447.2 609.9,446.9 610.4,448.8 610.9,450.0 611.3,450.1 611.8,450.8 612.3,455.3 612.8,460.3 613.3,463.3 613.8,465.8 614.3,468.2 614.8,470.5 615.3,473.0 615.8,476.1 616.3,479.6 616.8,483.6 617.3,487.7 617.8,491.9 618.3,496.7 618.8,502.5 619.3,505.3 619.7,504.3 620.2,506.2 620.7,502.4 621.2,499.8 621.7,507.1 622.2,506.0 622.7,498.0 623.2,493.7 623.7,498.1 624.2,503.2 624.7,502.4 625.2,500.4 625.7,502.9 626.2,507.8 626.7,507.5 627.2,508.7 627.7,502.7 628.1,500.9 628.6,501.4 629.1,502.8 629.6,504.3 630.1,505.7 630.6,501.7 631.1,501.6 631.6,505.6 632.1,502.6 632.6,496.6 633.1,493.5 633.6,496.8 634.1,501.1 634.6,500.4 635.1,495.2 635.6,490.3 636.0,491.1 636.5,493.2 637.0,494.5 637.5,491.2 638.0,487.9 638.5,492.5 639.0,500.6 639.5,504.3 640.0,507.8 640.5,505.6 641.0,504.7 641.5,503.7 642.0,503.4 642.5,502.8 643.0,502.0 643.5,502.2 644.0,502.6 644.4,498.9 644.9,494.6 645.4,495.4 645.9,501.0 646.4,500.7 646.9,498.7 647.4,502.3 647.9,507.1 648.4,505.9 648.9,505.8 649.4,507.3 649.9,509.0 650.4,504.8 650.9,498.8 651.4,500.3 651.9,503.9 652.4,502.8 652.8,501.3 653.3,501.8 653.8,502.7 654.3,505.5 654.8,508.0 655.3,508.6 655.8,505.7 656.3,506.7 656.8,508.9 657.3,509.3 657.8,506.9 658.3,508.2 658.8,508.7 659.3,506.7 659.8,501.9 660.3,501.1 660.7,504.6 661.2,502.9 661.7,498.0 662.2,494.6 662.7,494.7 663.2,499.6 663.7,505.8 664.2,507.0 664.7,504.2" class="ln" stroke="#ff0000" stroke-width="1.6"/>
<polyline points="417.7,507.7 418.2,507.2 418.7,501.6 419.2,502.1 419.7,508.8 420.2,505.9 420.7,504.0 421.2,506.4 421.7,506.0 422.1,503.0 422.6,503.9 423.1,506.4 423.6,507.3 424.1,503.0 424.6,496.5 425.1,499.9 425.6,506.0 426.1,508.7 426.6,507.8 427.1,505.4 427.6,503.5 428.1,504.1 428.6,507.6 429.1,508.1 429.6,509.2 430.1,508.9 430.5,506.9 431.0,505.6 431.5,504.7 432.0,503.4 432.5,502.6 433.0,504.5 433.5,509.0 434.0,503.8 434.5,500.9 435.0,502.2 435.5,504.7 436.0,504.2 436.5,504.8 437.0,505.6 437.5,507.1 438.0,506.5 438.4,501.4 438.9,500.7 439.4,502.7 439.9,505.5 440.4,505.0 440.9,500.9 441.4,501.5 441.9,507.9 442.4,503.2 442.9,500.1 443.4,503.7 443.9,502.6 444.4,499.9 444.9,504.8 445.4,508.6 445.9,509.3 446.4,506.6 446.8,506.9 447.3,505.2 447.8,502.0 448.3,501.8 448.8,504.8 449.3,507.9 449.8,504.3 450.3,496.3 450.8,493.1 451.3,495.9 451.8,501.8 452.3,505.9 452.8,508.0 453.3,507.2 453.8,505.4 454.3,503.9 454.8,504.1 455.2,505.7 455.7,507.4 456.2,509.7 456.7,503.1 457.2,495.9 457.7,490.4 458.2,491.4 458.7,496.4 459.2,501.1 459.7,504.8 460.2,507.5 460.7,509.1 461.2,508.1 461.7,508.6 462.2,505.3 462.7,503.0 463.1,505.8 463.6,509.5 464.1,506.3 464.6,504.2 465.1,505.8 465.6,508.5 466.1,510.6 466.6,508.4 467.1,503.5 467.6,502.2 468.1,505.0 468.6,502.4 469.1,497.2 469.6,499.2 470.1,501.4 470.6,502.5 471.1,502.8 471.5,501.2 472.0,500.9 472.5,503.4 473.0,506.0 473.5,509.2 474.0,506.4 474.5,500.2 475.0,494.2 475.5,492.9 476.0,496.0 476.5,499.3 477.0,499.5 477.5,496.8 478.0,496.2 478.5,500.2 479.0,506.2 479.4,501.0 479.9,500.0 480.4,503.9 480.9,506.9 481.4,505.9 481.9,504.9 482.4,509.2 482.9,505.6 483.4,503.7 483.9,506.5 484.4,508.3 484.9,509.8 485.4,507.6 485.9,504.8 486.4,504.0 486.9,505.3 487.4,509.9 487.8,508.0 488.3,507.4 488.8,504.9 489.3,501.4 489.8,500.7 490.3,503.4 490.8,507.6 491.3,510.2 491.8,510.2 492.3,510.0 492.8,509.4 493.3,509.0 493.8,508.6 494.3,505.1 494.8,500.1 495.3,497.5 495.8,499.7 496.2,503.4 496.7,506.8 497.2,510.0 497.7,508.2 498.2,506.3 498.7,505.2 499.2,505.5 499.7,508.2 500.2,509.5 500.7,507.0 501.2,504.9 501.7,504.0 502.2,503.9 502.7,505.6 503.2,506.3 503.7,505.4 504.1,506.4 504.6,509.6 505.1,505.3 505.6,501.2 506.1,501.7 506.6,505.3 507.1,507.1 507.6,508.6 508.1,506.2 508.6,502.5 509.1,504.3 509.6,506.7 510.1,501.9 510.6,498.2 511.1,498.8 511.6,499.0 512.1,497.0 512.5,498.9 513.0,502.8 513.5,504.3 514.0,504.3 514.5,504.9 515.0,505.8 515.5,505.9 516.0,505.4 516.5,507.1 517.0,508.7 517.5,508.3 518.0,506.2 518.5,507.0 519.0,504.2 519.5,501.7 520.0,496.7 520.5,491.0 520.9,488.1 521.4,491.1 521.9,501.1 522.4,506.2 522.9,502.3 523.4,499.8 523.9,496.3 524.4,496.1 524.9,498.5 525.4,501.1 525.9,504.4 526.4,507.6 526.9,508.1 527.4,508.2 527.9,509.9 528.4,508.2 528.9,505.3 529.3,499.7 529.8,493.2 530.3,492.4 530.8,501.1 531.3,509.0 531.8,504.3 532.3,501.5 532.8,500.6 533.3,504.2 533.8,507.7 534.3,508.4 534.8,508.4 535.3,509.6 535.8,508.5 536.3,508.6 536.8,509.5 537.2,506.4 537.7,505.4 538.2,506.9 538.7,500.8 539.2,497.1 539.7,494.5 540.2,494.6 540.7,500.9 541.2,508.8 541.7,508.3 542.2,504.9 542.7,504.9 543.2,505.3 543.7,507.9 544.2,506.8 544.7,509.9 545.2,506.6 545.6,503.4 546.1,500.2 546.6,499.2 547.1,503.4 547.6,502.9 548.1,499.4 548.6,500.5 549.1,502.1 549.6,506.0 550.1,501.9 550.6,499.3 551.1,499.6 551.6,501.8 552.1,503.2 552.6,503.1 553.1,504.0 553.5,505.1 554.0,505.3 554.5,505.9 555.0,508.0 555.5,508.7 556.0,508.2 556.5,510.6 557.0,509.3 557.5,508.4 558.0,507.5 558.5,505.1 559.0,503.4 559.5,504.8 560.0,507.6 560.5,502.0 561.0,504.5 561.5,506.9 561.9,500.8 562.4,498.8 562.9,496.6 563.4,495.4 563.9,499.5 564.4,508.2 564.9,504.5 565.4,501.1 565.9,504.6 566.4,506.9 566.9,500.5 567.4,499.0 567.9,499.8 568.4,502.5 568.9,505.0 569.4,504.5 569.9,505.7 570.3,507.5 570.8,504.5 571.3,501.8 571.8,501.4 572.3,502.4 572.8,500.4 573.3,494.8 573.8,493.6 574.3,499.9 574.8,507.0 575.3,506.1 575.8,505.0 576.3,504.1 576.8,504.1 577.3,506.6 577.8,497.6 578.2,497.4 578.7,505.2 579.2,508.3 579.7,503.0 580.2,500.0 580.7,500.2 581.2,505.2 581.7,508.5 582.2,503.9 582.7,503.6 583.2,503.2 583.7,497.4 584.2,494.0 584.7,496.3 585.2,503.7 585.7,505.2 586.2,504.4 586.6,504.9 587.1,504.8 587.6,503.6 588.1,504.7 588.6,506.9 589.1,507.6 589.6,507.9 590.1,506.0 590.6,505.6 591.1,508.1 591.6,504.3 592.1,504.2 592.6,505.9 593.1,504.1 593.6,503.7 594.1,504.3 594.6,503.0 595.0,500.8 595.5,499.2 596.0,498.8 596.5,500.5 597.0,501.3 597.5,501.3 598.0,504.8 598.5,508.9 599.0,507.4 599.5,507.4 600.0,506.6 600.5,504.3 601.0,504.6 601.5,505.2 602.0,507.3 602.5,508.3 603.0,505.8 603.4,505.7 603.9,508.4 604.4,509.7 604.9,507.5 605.4,501.0 605.9,496.6 606.4,493.5 606.9,495.7 607.4,504.5 607.9,506.7 608.4,506.9 608.9,503.1 609.4,502.8 609.9,505.6 610.4,502.2 610.9,500.8 611.3,505.1 611.8,506.4 612.3,505.4 612.8,506.4 613.3,505.9 613.8,501.5 614.3,497.6 614.8,499.7 615.3,507.1 615.8,506.6 616.3,507.4 616.8,506.9 617.3,503.6 617.8,500.5 618.3,498.4 618.8,496.9 619.3,496.5 619.7,500.9 620.2,504.3 620.7,507.1 621.2,509.4 621.7,504.9 622.2,504.5 622.7,507.9 623.2,505.6 623.7,504.2 624.2,504.8 624.7,503.6 625.2,503.6 625.7,504.8 626.2,507.4 626.7,504.5 627.2,504.2 627.7,508.3 628.1,498.7 628.6,497.1 629.1,500.9 629.6,506.9 630.1,506.7 630.6,503.4 631.1,502.8 631.6,505.1 632.1,509.8 632.6,507.2 633.1,505.1 633.6,503.2 634.1,503.2 634.6,508.8 635.1,505.5 635.6,500.1 636.0,499.5 636.5,503.5 637.0,506.5 637.5,507.9 638.0,506.4 638.5,503.5 639.0,504.1 639.5,503.7 640.0,500.7 640.5,497.2 641.0,498.5 641.5,503.5 642.0,503.0 642.5,502.2 643.0,503.1 643.5,503.0 644.0,500.6 644.4,497.1 644.9,495.4 645.4,499.4 645.9,504.3 646.4,503.6 646.9,503.7 647.4,505.6 647.9,506.4 648.4,501.7 648.9,502.7 649.4,508.8 649.9,507.1 650.4,507.0 650.9,508.5 651.4,508.7 651.9,505.5 652.4,503.6 652.8,506.9 653.3,507.9 653.8,504.9 654.3,504.6 654.8,505.3 655.3,503.2 655.8,503.1 656.3,500.3 656.8,499.4 657.3,503.3 657.8,506.2 658.3,504.9 658.8,500.0 659.3,497.1 659.8,500.2 660.3,497.3 660.7,496.9 661.2,499.5 661.7,499.5 662.2,499.6 662.7,500.5 663.2,504.7 663.7,503.5 664.2,501.8 664.7,505.2" class="ln" stroke="#0000ff" stroke-width="1.6"/>
<polyline points="417.7,502.5 418.2,505.2 418.7,505.3 419.2,502.8 419.7,503.2 420.2,507.8 420.7,509.9 421.2,508.1 421.7,503.7 422.1,502.0 422.6,499.9 423.1,500.1 423.6,504.3 424.1,503.7 424.6,503.5 425.1,502.3 425.6,504.1 426.1,508.6 426.6,506.7 427.1,503.9 427.6,502.5 428.1,503.7 428.6,504.1 429.1,503.7 429.6,503.8 430.1,505.1 430.5,506.1 431.0,505.9 431.5,506.8 432.0,509.5 432.5,509.6 433.0,508.6 433.5,506.7 434.0,508.7 434.5,501.3 435.0,500.4 435.5,504.1 436.0,508.1 436.5,509.2 437.0,504.3 437.5,499.5 438.0,500.4 438.4,503.9 438.9,503.0 439.4,501.6 439.9,502.8 440.4,504.2 440.9,503.2 441.4,503.9 441.9,504.8 442.4,504.8 442.9,506.3 443.4,507.0 443.9,501.3 444.4,500.6 444.9,505.9 445.4,506.0 445.9,503.5 446.4,506.4 446.8,505.5 447.3,501.9 447.8,500.8 448.3,505.6 448.8,504.4 449.3,503.5 449.8,510.1 450.3,505.6 450.8,506.3 451.3,505.7 451.8,501.9 452.3,502.7 452.8,500.6 453.3,501.6 453.8,505.8 454.3,509.6 454.8,509.1 455.2,508.8 455.7,509.3 456.2,507.9 456.7,508.3 457.2,509.7 457.7,505.2 458.2,498.4 458.7,498.1 459.2,501.2 459.7,503.3 460.2,507.7 460.7,509.8 461.2,508.3 461.7,507.6 462.2,507.5 462.7,503.7 463.1,504.1 463.6,505.7 464.1,502.5 464.6,503.9 465.1,507.4 465.6,502.7 466.1,503.2 466.6,506.7 467.1,507.7 467.6,507.2 468.1,505.7 468.6,504.2 469.1,504.5 469.6,507.4 470.1,508.2 470.6,505.2 471.1,502.6 471.5,504.0 472.0,505.6 472.5,504.5 473.0,502.4 473.5,504.4 474.0,509.0 474.5,509.8 475.0,507.6 475.5,506.5 476.0,506.4 476.5,507.6 477.0,506.2 477.5,505.5 478.0,508.3 478.5,505.4 479.0,502.6 479.4,505.6 479.9,508.2 480.4,506.8 480.9,507.2 481.4,506.0 481.9,509.4 482.4,504.4 482.9,502.7 483.4,505.1 483.9,506.1 484.4,502.3 484.9,498.7 485.4,502.1 485.9,508.1 486.4,510.0 486.9,506.5 487.4,501.7 487.8,501.2 488.3,503.6 488.8,506.3 489.3,508.6 489.8,509.7 490.3,508.2 490.8,505.1 491.3,504.2 491.8,504.7 492.3,502.4 492.8,498.2 493.3,496.3 493.8,499.8 494.3,503.8 494.8,504.6 495.3,506.0 495.8,507.7 496.2,507.5 496.7,506.5 497.2,507.5 497.7,509.2 498.2,509.9 498.7,506.2 499.2,505.2 499.7,503.7 500.2,501.1 500.7,503.3 501.2,505.3 501.7,505.1 502.2,506.5 502.7,507.0 503.2,502.7 503.7,500.4 504.1,503.4 504.6,499.8 505.1,498.1 505.6,498.7 506.1,494.9 506.6,494.5 507.1,499.0 507.6,503.0 508.1,503.0 508.6,500.5 509.1,497.9 509.6,499.9 510.1,506.2 510.6,506.6 511.1,502.4 511.6,500.8 512.1,502.8 512.5,505.9 513.0,508.8 513.5,504.2 514.0,505.3 514.5,510.1 515.0,508.8 515.5,507.1 516.0,502.9 516.5,503.0 517.0,508.1 517.5,508.4 518.0,505.7 518.5,499.9 519.0,496.5 519.5,495.0 520.0,496.1 520.5,500.3 520.9,506.6 521.4,505.3 521.9,504.6 522.4,505.6 522.9,504.4 523.4,502.2 523.9,500.4 524.4,502.3 524.9,509.7 525.4,507.1 525.9,506.0 526.4,503.8 526.9,503.0 527.4,507.2 527.9,508.9 528.4,506.6 528.9,507.0 529.3,506.7 529.8,504.0 530.3,498.3 530.8,495.2 531.3,498.2 531.8,501.6 532.3,502.0 532.8,502.9 533.3,503.7 533.8,500.4 534.3,499.7 534.8,502.3 535.3,505.9 535.8,508.0 536.3,500.9 536.8,500.1 537.2,500.9 537.7,501.4 538.2,505.6 538.7,503.8 539.2,501.6 539.7,503.6 540.2,499.9 540.7,498.6 541.2,504.6 541.7,505.7 542.2,499.9 542.7,499.6 543.2,507.8 543.7,505.9 544.2,502.1 544.7,503.0 545.2,502.8 545.6,504.8 546.1,509.8 546.6,508.3 547.1,506.0 547.6,506.4 548.1,506.6 548.6,506.5 549.1,505.7 549.6,503.5 550.1,501.3 550.6,499.5 551.1,500.9 551.6,506.5 552.1,507.8 552.6,506.0 553.1,506.5 553.5,505.3 554.0,504.1 554.5,504.2 555.0,505.8 555.5,508.0 556.0,506.3 556.5,506.2 557.0,507.0 557.5,501.1 558.0,499.4 558.5,500.3 559.0,500.0 559.5,501.8 560.0,502.1 560.5,499.0 561.0,500.1 561.5,505.9 561.9,508.9 562.4,506.5 562.9,508.8 563.4,509.4 563.9,505.9 564.4,502.6 564.9,501.5 565.4,502.4 565.9,503.3 566.4,502.3 566.9,503.1 567.4,504.5 567.9,506.8 568.4,508.8 568.9,507.9 569.4,502.2 569.9,498.4 570.3,501.3 570.8,504.3 571.3,500.7 571.8,500.4 572.3,504.0 572.8,505.6 573.3,506.8 573.8,503.6 574.3,499.6 574.8,502.8 575.3,504.4 575.8,501.9 576.3,502.1 576.8,502.1 577.3,503.0 577.8,504.1 578.2,503.3 578.7,504.1 579.2,506.6 579.7,506.1 580.2,505.2 580.7,503.9 581.2,504.7 581.7,504.6 582.2,498.6 582.7,494.7 583.2,497.2 583.7,503.8 584.2,507.3 584.7,504.0 585.2,505.3 585.7,500.0 586.2,498.5 586.6,504.9 587.1,506.2 587.6,503.9 588.1,499.0 588.6,493.8 589.1,495.6 589.6,503.7 590.1,510.4 590.6,506.8 591.1,505.7 591.6,503.7 592.1,501.4 592.6,502.2 593.1,506.1 593.6,506.6 594.1,503.7 594.6,501.2 595.0,501.1 595.5,504.1 596.0,506.3 596.5,505.2 597.0,504.8 597.5,499.2 598.0,496.2 598.5,498.9 599.0,499.8 599.5,498.4 600.0,500.3 600.5,504.0 601.0,506.7 601.5,508.8 602.0,505.8 602.5,502.6 603.0,503.9 603.4,504.9 603.9,503.1 604.4,501.7 604.9,502.4 605.4,504.4 605.9,502.8 606.4,501.9 606.9,507.3 607.4,503.9 607.9,498.6 608.4,500.0 608.9,503.5 609.4,504.4 609.9,505.6 610.4,509.0 610.9,508.4 611.3,504.5 611.8,504.5 612.3,505.6 612.8,505.9 613.3,500.5 613.8,497.9 614.3,502.1 614.8,508.3 615.3,506.5 615.8,505.4 616.3,507.7 616.8,508.8 617.3,504.6 617.8,500.2 618.3,500.2 618.8,500.3 619.3,497.9 619.7,501.9 620.2,504.0 620.7,499.4 621.2,501.1 621.7,507.6 622.2,509.6 622.7,508.2 623.2,508.6 623.7,508.5 624.2,505.7 624.7,505.5 625.2,503.0 625.7,500.1 626.2,499.7 626.7,499.6 627.2,501.7 627.7,506.0 628.1,503.6 628.6,501.7 629.1,502.8 629.6,504.2 630.1,507.4 630.6,508.5 631.1,509.2 631.6,509.4 632.1,506.6 632.6,506.8 633.1,508.4 633.6,506.7 634.1,504.3 634.6,503.9 635.1,507.0 635.6,505.6 636.0,501.1 636.5,498.9 637.0,497.3 637.5,499.3 638.0,504.2 638.5,507.3 639.0,504.9 639.5,501.2 640.0,500.4 640.5,503.1 641.0,503.6 641.5,500.8 642.0,502.5 642.5,502.4 643.0,497.5 643.5,499.1 644.0,506.4 644.4,508.2 644.9,505.9 645.4,508.7 645.9,507.1 646.4,502.0 646.9,500.7 647.4,496.9 647.9,494.0 648.4,498.7 648.9,507.5 649.4,509.8 649.9,508.8 650.4,501.2 650.9,498.3 651.4,505.5 651.9,503.4 652.4,498.7 652.8,499.5 653.3,504.0 653.8,508.2 654.3,506.3 654.8,506.2 655.3,508.2 655.8,507.5 656.3,507.4 656.8,507.6 657.3,506.3 657.8,502.6 658.3,497.5 658.8,496.2 659.3,501.4 659.8,501.3 660.3,496.3 660.7,497.6 661.2,502.1 661.7,501.4 662.2,500.3 662.7,504.3 663.2,509.4 663.7,508.8 664.2,507.3 664.7,502.9" class="ln" stroke="#0000ff" stroke-width="1.6"/>
</g>
<rect x="417.7" y="319.9" width="247.0" height="191.1" fill="none" stroke="#1c1c1c" stroke-width="1.0"/><path d="M467.1 511.0v-3.2M467.1 319.9v3.2M516.5 511.0v-3.2M516.5 319.9v3.2M565.9 511.0v-3.2M565.9 319.9v3.2M615.3 511.0v-3.2M615.3 319.9v3.2M417.7 487.1h3.2M664.7 487.1h-3.2M417.7 463.2h3.2M664.7 463.2h-3.2M417.7 439.3h3.2M664.7 439.3h-3.2M417.7 415.4h3.2M664.7 415.4h-3.2M417.7 391.6h3.2M664.7 391.6h-3.2M417.7 367.7h3.2M664.7 367.7h-3.2M417.7 343.8h3.2M664.7 343.8h-3.2" stroke="#111" stroke-width="0.7" fill="none"/><text x="0" y="0" font-size="16.4" class="dv" text-anchor="middle" transform="translate(417.7 526.5) scale(0.93 1)">0</text><text x="0" y="0" font-size="16.4" class="dv" text-anchor="middle" transform="translate(467.1 526.5) scale(0.93 1)">2</text><text x="0" y="0" font-size="16.4" class="dv" text-anchor="middle" transform="translate(516.5 526.5) scale(0.93 1)">4</text><text x="0" y="0" font-size="16.4" class="dv" text-anchor="middle" transform="translate(565.9 526.5) scale(0.93 1)">6</text><text x="0" y="0" font-size="16.4" class="dv" text-anchor="middle" transform="translate(615.3 526.5) scale(0.93 1)">8</text><text x="0" y="0" font-size="16.4" class="dv" text-anchor="middle" transform="translate(664.7 526.5) scale(0.93 1)">10</text><text x="0" y="0" font-size="16.4" class="dv" text-anchor="end" transform="translate(414.5 516.9) scale(0.93 1)">0.0</text><text x="0" y="0" font-size="16.4" class="dv" text-anchor="end" transform="translate(414.5 493.0) scale(0.93 1)">0.5</text><text x="0" y="0" font-size="16.4" class="dv" text-anchor="end" transform="translate(414.5 469.1) scale(0.93 1)">1.0</text><text x="0" y="0" font-size="16.4" class="dv" text-anchor="end" transform="translate(414.5 445.2) scale(0.93 1)">1.5</text><text x="0" y="0" font-size="16.4" class="dv" text-anchor="end" transform="translate(414.5 421.3) scale(0.93 1)">2.0</text><text x="0" y="0" font-size="16.4" class="dv" text-anchor="end" transform="translate(414.5 397.5) scale(0.93 1)">2.5</text><text x="0" y="0" font-size="16.4" class="dv" text-anchor="end" transform="translate(414.5 373.6) scale(0.93 1)">3.0</text><text x="0" y="0" font-size="16.4" class="dv" text-anchor="end" transform="translate(414.5 349.7) scale(0.93 1)">3.5</text><text x="0" y="0" font-size="16.4" class="dv" text-anchor="end" transform="translate(414.5 325.8) scale(0.93 1)">4.0</text><text x="541.2" y="545.8" font-size="19.5" class="dv" text-anchor="middle">Time (ps)</text><text x="0" y="0" font-size="19.6" class="dv" text-anchor="middle" transform="translate(380.7 415.4) rotate(-90) scale(1 1.07)">RMS Displacement (<tspan class="sf" font-size="19.5">Å</tspan>)</text>
<g clip-path="url(#cqc)">
<polyline points="417.7,785.3 418.2,788.8 418.7,786.3 419.2,785.1 419.7,785.9 420.2,781.5 420.7,777.2 421.2,773.8 421.7,772.8 422.1,781.7 422.6,780.9 423.1,785.3 423.6,788.0 424.1,786.1 424.6,784.5 425.1,784.4 425.6,782.8 426.1,781.8 426.6,784.5 427.1,786.2 427.6,779.8 428.1,779.5 428.6,784.2 429.1,787.0 429.6,785.8 430.1,780.4 430.5,775.4 431.0,774.8 431.5,780.8 432.0,789.3 432.5,788.2 433.0,786.5 433.5,782.8 434.0,779.7 434.5,780.1 435.0,785.0 435.5,786.9 436.0,786.5 436.5,786.1 437.0,787.7 437.5,784.9 438.0,779.2 438.4,779.5 438.9,784.6 439.4,787.0 439.9,788.4 440.4,787.5 440.9,786.1 441.4,788.0 441.9,789.3 442.4,789.3 442.9,785.5 443.4,784.7 443.9,780.4 444.4,776.8 444.9,779.4 445.4,784.2 445.9,786.0 446.4,783.9 446.8,783.4 447.3,785.1 447.8,788.3 448.3,788.9 448.8,789.2 449.3,790.5 449.8,789.0 450.3,788.4 450.8,788.9 451.3,787.1 451.8,781.5 452.3,776.0 452.8,774.8 453.3,774.8 453.8,773.3 454.3,769.5 454.8,767.4 455.2,773.8 455.7,783.1 456.2,786.1 456.7,789.2 457.2,781.1 457.7,778.4 458.2,781.1 458.7,786.9 459.2,786.1 459.7,781.7 460.2,781.8 460.7,779.5 461.2,774.6 461.7,772.7 462.2,775.7 462.7,780.8 463.1,779.1 463.6,781.4 464.1,788.2 464.6,784.4 465.1,777.2 465.6,777.0 466.1,783.4 466.6,786.4 467.1,780.3 467.6,779.1 468.1,783.0 468.6,785.3 469.1,784.0 469.6,782.4 470.1,782.2 470.6,783.5 471.1,785.9 471.5,788.5 472.0,789.9 472.5,790.1 473.0,787.8 473.5,786.4 474.0,786.1 474.5,787.2 475.0,790.1 475.5,788.4 476.0,787.3 476.5,789.1 477.0,788.8 477.5,788.2 478.0,787.1 478.5,784.7 479.0,783.9 479.4,782.3 479.9,779.8 480.4,781.1 480.9,783.1 481.4,780.8 481.9,778.9 482.4,777.8 482.9,779.0 483.4,776.1 483.9,777.3 484.4,784.0 484.9,789.9 485.4,788.9 485.9,789.1 486.4,788.7 486.9,787.0 487.4,780.1 487.8,775.1 488.3,775.1 488.8,779.5 489.3,790.7 489.8,779.0 490.3,777.1 490.8,781.2 491.3,785.5 491.8,787.6 492.3,780.9 492.8,777.2 493.3,775.4 493.8,772.9 494.3,771.6 494.8,774.6 495.3,780.8 495.8,786.6 496.2,786.5 496.7,785.2 497.2,785.7 497.7,785.0 498.2,782.4 498.7,782.2 499.2,785.3 499.7,790.0 500.2,783.9 500.7,781.6 501.2,784.9 501.7,784.0 502.2,782.8 502.7,780.6 503.2,778.2 503.7,781.0 504.1,786.3 504.6,785.2 505.1,781.9 505.6,781.0 506.1,779.5 506.6,779.9 507.1,782.6 507.6,782.4 508.1,783.4 508.6,783.7 509.1,777.4 509.6,774.6 510.1,776.5 510.6,774.8 511.1,773.4 511.6,776.6 512.1,783.5 512.5,788.6 513.0,785.2 513.5,782.9 514.0,783.5 514.5,784.3 515.0,782.9 515.5,783.2 516.0,786.5 516.5,788.6 517.0,788.1 517.5,785.4 518.0,786.9 518.5,786.0 519.0,780.4 519.5,782.1 520.0,785.5 520.5,785.8 520.9,783.0 521.4,780.5 521.9,777.5 522.4,773.1 522.9,775.6 523.4,783.6 523.9,778.3 524.4,773.5 524.9,774.6 525.4,780.8 525.9,785.8 526.4,783.1 526.9,782.5 527.4,784.6 527.9,786.2 528.4,789.1 528.9,788.1 529.3,789.1 529.8,789.4 530.3,782.5 530.8,777.9 531.3,781.8 531.8,787.8 532.3,787.3 532.8,782.6 533.3,780.2 533.8,783.6 534.3,787.1 534.8,788.5 535.3,786.9 535.8,783.8 536.3,783.6 536.8,783.8 537.2,784.6 537.7,790.3 538.2,781.8 538.7,776.3 539.2,779.4 539.7,787.5 540.2,784.2 540.7,778.6 541.2,775.2 541.7,769.0 542.2,766.1 542.7,768.6 543.2,773.4 543.7,776.3 544.2,776.6 544.7,777.9 545.2,779.9 545.6,782.7 546.1,782.6 546.6,783.4 547.1,785.3 547.6,786.1 548.1,785.6 548.6,784.3 549.1,785.5 549.6,789.3 550.1,786.2 550.6,786.0 551.1,783.3 551.6,781.1 552.1,782.6 552.6,784.0 553.1,783.6 553.5,782.3 554.0,782.1 554.5,788.0 555.0,784.4 555.5,781.2 556.0,783.5 556.5,782.3 557.0,780.2 557.5,783.6 558.0,785.5 558.5,781.4 559.0,783.5 559.5,790.8 560.0,787.1 560.5,785.4 561.0,786.5 561.5,788.8 561.9,787.9 562.4,785.9 562.9,783.6 563.4,780.7 563.9,776.8 564.4,774.4 564.9,775.1 565.4,777.9 565.9,780.5 566.4,778.0 566.9,776.8 567.4,776.3 567.9,776.4 568.4,780.2 568.9,784.8 569.4,787.6 569.9,787.2 570.3,789.4 570.8,785.3 571.3,778.1 571.8,775.7 572.3,778.1 572.8,780.1 573.3,784.7 573.8,788.0 574.3,781.3 574.8,781.7 575.3,785.3 575.8,786.3 576.3,784.3 576.8,782.6 577.3,782.7 577.8,783.7 578.2,787.1 578.7,786.3 579.2,785.6 579.7,789.4 580.2,785.6 580.7,784.2 581.2,784.5 581.7,784.4 582.2,783.2 582.7,782.5 583.2,780.7 583.7,782.3 584.2,788.8 584.7,785.5 585.2,783.6 585.7,786.1 586.2,780.6 586.6,779.4 587.1,783.0 587.6,781.9 588.1,779.4 588.6,781.8 589.1,786.3 589.6,782.1 590.1,776.9 590.6,782.4 591.1,784.9 591.6,780.5 592.1,786.1 592.6,782.5 593.1,777.5 593.6,779.2 594.1,786.0 594.6,785.3 595.0,780.4 595.5,778.9 596.0,780.2 596.5,781.2 597.0,784.0 597.5,790.7 598.0,784.3 598.5,782.1 599.0,781.3 599.5,779.7 600.0,777.4 600.5,777.9 601.0,781.1 601.5,782.5 602.0,780.1 602.5,778.8 603.0,782.6 603.4,785.8 603.9,783.7 604.4,782.1 604.9,783.8 605.4,788.3 605.9,784.2 606.4,784.9 606.9,786.0 607.4,781.1 607.9,783.6 608.4,786.4 608.9,781.9 609.4,781.3 609.9,781.4 610.4,780.8 610.9,783.6 611.3,786.3 611.8,787.0 612.3,783.3 612.8,779.6 613.3,780.4 613.8,783.9 614.3,786.2 614.8,786.3 615.3,786.1 615.8,784.2 616.3,777.1 616.8,771.8 617.3,775.2 617.8,785.2 618.3,785.2 618.8,782.5 619.3,782.3 619.7,779.6 620.2,775.6 620.7,765.9 621.2,752.5 621.7,745.2 622.2,748.0 622.7,758.5 623.2,768.9 623.7,775.5 624.2,777.4 624.7,776.2 625.2,775.9 625.7,780.5 626.2,787.2 626.7,783.4 627.2,784.5 627.7,787.7 628.1,783.1 628.6,781.5 629.1,781.5 629.6,782.7 630.1,785.1 630.6,789.1 631.1,788.2 631.6,785.9 632.1,786.3 632.6,787.2 633.1,781.4 633.6,778.8 634.1,778.3 634.6,784.3 635.1,786.4 635.6,780.4 636.0,783.7 636.5,788.3 637.0,785.5 637.5,786.1 638.0,789.1 638.5,790.0 639.0,789.3 639.5,787.5 640.0,785.4 640.5,785.3 641.0,788.4 641.5,785.4 642.0,781.6 642.5,781.2 643.0,784.6 643.5,788.8 644.0,789.5 644.4,789.4 644.9,788.4 645.4,789.4 645.9,784.6 646.4,788.2 646.9,782.2 647.4,780.8 647.9,785.3 648.4,788.0 648.9,782.3 649.4,779.1 649.9,783.7 650.4,789.2 650.9,785.1 651.4,788.7 651.9,783.4 652.4,774.5 652.8,773.2 653.3,778.2 653.8,783.6 654.3,786.8 654.8,790.0 655.3,784.7 655.8,784.7 656.3,787.4 656.8,781.9 657.3,785.4 657.8,790.2 658.3,786.7 658.8,782.8 659.3,778.0 659.8,776.8 660.3,781.1 660.7,787.3 661.2,786.6 661.7,782.1 662.2,782.1 662.7,782.7 663.2,779.5 663.7,778.5 664.2,779.2 664.7,783.7" class="ln" stroke="#bfbf00" stroke-width="1.9"/>
<polyline points="417.7,787.1 418.2,781.6 418.7,780.7 419.2,785.6 419.7,789.5 420.2,789.2 420.7,787.9 421.2,789.6 421.7,789.8 422.1,788.8 422.6,784.2 423.1,780.8 423.6,782.0 424.1,785.4 424.6,783.3 425.1,786.8 425.6,785.2 426.1,779.1 426.6,778.5 427.1,781.5 427.6,783.9 428.1,780.4 428.6,773.9 429.1,776.2 429.6,786.1 430.1,776.4 430.5,768.2 431.0,766.0 431.5,768.0 432.0,773.5 432.5,780.1 433.0,778.8 433.5,782.6 434.0,790.2 434.5,784.6 435.0,783.7 435.5,785.5 436.0,788.7 436.5,788.0 437.0,788.3 437.5,784.9 438.0,781.7 438.4,780.5 438.9,781.4 439.4,783.5 439.9,786.9 440.4,789.6 440.9,787.8 441.4,784.8 441.9,784.7 442.4,786.0 442.9,788.4 443.4,789.5 443.9,785.0 444.4,781.8 444.9,781.9 445.4,783.9 445.9,781.3 446.4,775.0 446.8,773.8 447.3,777.8 447.8,783.0 448.3,786.2 448.8,786.9 449.3,790.2 449.8,787.4 450.3,785.6 450.8,783.6 451.3,783.8 451.8,783.0 452.3,783.0 452.8,783.2 453.3,785.7 453.8,786.0 454.3,781.4 454.8,784.2 455.2,788.4 455.7,786.5 456.2,782.4 456.7,782.4 457.2,787.5 457.7,787.6 458.2,785.6 458.7,789.2 459.2,787.8 459.7,782.9 460.2,778.4 460.7,777.2 461.2,780.2 461.7,785.3 462.2,782.4 462.7,778.5 463.1,779.0 463.6,779.5 464.1,778.8 464.6,778.6 465.1,783.4 465.6,789.7 466.1,784.2 466.6,784.5 467.1,790.0 467.6,787.1 468.1,784.9 468.6,780.9 469.1,786.8 469.6,783.6 470.1,778.0 470.6,779.1 471.1,782.5 471.5,783.2 472.0,785.8 472.5,782.5 473.0,782.9 473.5,783.8 474.0,779.0 474.5,774.9 475.0,775.6 475.5,775.2 476.0,773.4 476.5,777.4 477.0,782.2 477.5,785.2 478.0,787.2 478.5,782.1 479.0,781.7 479.4,782.0 479.9,782.9 480.4,787.0 480.9,785.0 481.4,780.0 481.9,780.7 482.4,788.8 482.9,786.7 483.4,785.7 483.9,782.7 484.4,783.9 484.9,784.5 485.4,783.6 485.9,785.2 486.4,782.7 486.9,778.6 487.4,779.4 487.8,781.1 488.3,781.8 488.8,783.3 489.3,786.7 489.8,790.4 490.3,786.2 490.8,785.4 491.3,789.8 491.8,787.0 492.3,785.3 492.8,784.9 493.3,784.6 493.8,786.9 494.3,788.3 494.8,787.6 495.3,789.0 495.8,785.4 496.2,786.5 496.7,788.1 497.2,789.8 497.7,788.2 498.2,788.3 498.7,788.4 499.2,788.7 499.7,787.1 500.2,783.6 500.7,780.5 501.2,778.3 501.7,778.2 502.2,782.2 502.7,787.0 503.2,786.9 503.7,782.3 504.1,780.3 504.6,779.9 505.1,780.1 505.6,784.5 506.1,790.0 506.6,784.1 507.1,780.8 507.6,778.6 508.1,779.6 508.6,784.2 509.1,787.4 509.6,789.0 510.1,787.2 510.6,785.5 511.1,785.9 511.6,784.2 512.1,781.5 512.5,779.1 513.0,776.2 513.5,776.7 514.0,781.7 514.5,788.6 515.0,786.4 515.5,782.6 516.0,783.2 516.5,781.0 517.0,776.6 517.5,776.0 518.0,778.2 518.5,781.1 519.0,782.9 519.5,784.1 520.0,784.1 520.5,785.8 520.9,787.7 521.4,787.7 521.9,787.7 522.4,789.4 522.9,785.8 523.4,789.8 523.9,783.0 524.4,777.9 524.9,779.0 525.4,782.2 525.9,782.8 526.4,781.9 526.9,783.4 527.4,785.8 527.9,789.2 528.4,784.3 528.9,778.0 529.3,778.4 529.8,784.4 530.3,790.0 530.8,785.5 531.3,781.3 531.8,778.4 532.3,779.1 532.8,783.7 533.3,785.5 533.8,783.4 534.3,782.4 534.8,784.0 535.3,785.6 535.8,785.3 536.3,787.0 536.8,789.8 537.2,788.4 537.7,784.3 538.2,783.2 538.7,786.4 539.2,787.5 539.7,783.8 540.2,785.6 540.7,788.6 541.2,787.6 541.7,784.8 542.2,784.6 542.7,787.4 543.2,785.2 543.7,785.1 544.2,789.7 544.7,787.7 545.2,785.0 545.6,783.0 546.1,783.7 546.6,784.5 547.1,783.3 547.6,783.3 548.1,784.0 548.6,785.5 549.1,785.0 549.6,785.9 550.1,789.2 550.6,784.2 551.1,784.9 551.6,785.0 552.1,785.2 552.6,787.8 553.1,790.3 553.5,787.7 554.0,785.5 554.5,784.0 555.0,782.8 555.5,780.8 556.0,781.8 556.5,785.0 557.0,783.7 557.5,780.4 558.0,779.6 558.5,784.0 559.0,787.2 559.5,784.4 560.0,781.3 560.5,782.7 561.0,785.9 561.5,784.9 561.9,781.2 562.4,779.5 562.9,781.5 563.4,783.0 563.9,783.4 564.4,781.6 564.9,783.1 565.4,786.1 565.9,788.7 566.4,787.1 566.9,782.4 567.4,784.2 567.9,785.6 568.4,783.6 568.9,781.6 569.4,779.3 569.9,781.9 570.3,787.2 570.8,788.7 571.3,787.3 571.8,788.7 572.3,782.1 572.8,781.4 573.3,789.3 573.8,783.9 574.3,780.7 574.8,783.6 575.3,787.5 575.8,788.1 576.3,789.6 576.8,787.6 577.3,787.3 577.8,784.6 578.2,783.6 578.7,790.0 579.2,783.9 579.7,781.5 580.2,786.1 580.7,788.4 581.2,786.2 581.7,786.2 582.2,781.2 582.7,778.5 583.2,783.3 583.7,787.2 584.2,787.5 584.7,788.1 585.2,780.6 585.7,776.0 586.2,775.6 586.6,778.3 587.1,782.4 587.6,786.6 588.1,787.8 588.6,786.2 589.1,786.8 589.6,789.7 590.1,786.9 590.6,784.0 591.1,780.2 591.6,779.0 592.1,780.3 592.6,778.0 593.1,775.1 593.6,778.5 594.1,787.6 594.6,782.7 595.0,778.6 595.5,782.5 596.0,784.5 596.5,782.8 597.0,784.7 597.5,784.8 598.0,778.9 598.5,779.0 599.0,783.0 599.5,787.1 600.0,782.6 600.5,779.6 601.0,784.3 601.5,788.8 602.0,786.4 602.5,784.4 603.0,781.7 603.4,780.6 603.9,779.0 604.4,779.3 604.9,782.2 605.4,782.0 605.9,782.0 606.4,783.2 606.9,785.5 607.4,781.6 607.9,779.2 608.4,778.6 608.9,778.3 609.4,781.8 609.9,788.0 610.4,785.3 610.9,780.5 611.3,776.5 611.8,777.8 612.3,782.2 612.8,781.3 613.3,779.1 613.8,777.5 614.3,778.2 614.8,781.0 615.3,787.4 615.8,786.8 616.3,785.6 616.8,786.1 617.3,785.1 617.8,784.2 618.3,786.8 618.8,785.9 619.3,783.0 619.7,782.9 620.2,787.4 620.7,788.1 621.2,786.2 621.7,780.8 622.2,777.2 622.7,777.6 623.2,782.2 623.7,785.6 624.2,785.3 624.7,783.8 625.2,782.2 625.7,781.0 626.2,781.9 626.7,785.1 627.2,787.1 627.7,786.3 628.1,784.0 628.6,781.6 629.1,779.4 629.6,777.8 630.1,776.0 630.6,778.8 631.1,786.3 631.6,785.8 632.1,780.5 632.6,781.2 633.1,785.1 633.6,786.1 634.1,784.7 634.6,782.1 635.1,779.7 635.6,781.2 636.0,787.8 636.5,786.8 637.0,785.1 637.5,787.4 638.0,784.5 638.5,782.4 639.0,784.8 639.5,779.7 640.0,775.4 640.5,777.3 641.0,782.0 641.5,785.6 642.0,786.2 642.5,786.7 643.0,788.8 643.5,789.3 644.0,789.9 644.4,784.0 644.9,779.6 645.4,779.6 645.9,783.0 646.4,788.8 646.9,783.6 647.4,783.2 647.9,786.4 648.4,782.6 648.9,776.6 649.4,776.4 649.9,780.9 650.4,781.9 650.9,779.6 651.4,778.3 651.9,778.6 652.4,779.6 652.8,774.9 653.3,775.9 653.8,782.2 654.3,784.7 654.8,789.6 655.3,785.1 655.8,785.1 656.3,783.3 656.8,780.4 657.3,780.5 657.8,785.4 658.3,788.0 658.8,781.6 659.3,777.6 659.8,779.5 660.3,784.2 660.7,786.7 661.2,789.7 661.7,787.8 662.2,785.2 662.7,782.8 663.2,775.2 663.7,770.7 664.2,777.1 664.7,785.8" class="ln" stroke="#0000ff" stroke-width="1.9"/>
<polyline points="417.7,786.8 418.2,789.5 418.7,788.2 419.2,787.0 419.7,785.2 420.2,787.4 420.7,789.5 421.2,789.2 421.7,789.4 422.1,788.6 422.6,788.9 423.1,789.8 423.6,786.3 424.1,783.7 424.6,783.9 425.1,784.6 425.6,783.7 426.1,782.4 426.6,784.5 427.1,788.8 427.6,789.9 428.1,787.7 428.6,788.1 429.1,782.8 429.6,779.4 430.1,780.2 430.5,782.7 431.0,787.9 431.5,790.0 432.0,785.8 432.5,782.6 433.0,783.2 433.5,786.0 434.0,784.5 434.5,784.1 435.0,785.5 435.5,783.7 436.0,784.0 436.5,787.0 437.0,786.7 437.5,788.7 438.0,788.3 438.4,786.4 438.9,788.9 439.4,784.6 439.9,782.6 440.4,784.6 440.9,788.9 441.4,787.1 441.9,781.6 442.4,782.2 442.9,788.5 443.4,785.6 443.9,789.1 444.4,783.9 444.9,780.7 445.4,781.9 445.9,786.3 446.4,786.9 446.8,783.1 447.3,784.7 447.8,787.0 448.3,776.5 448.8,770.4 449.3,771.1 449.8,773.8 450.3,774.4 450.8,776.7 451.3,780.8 451.8,780.4 452.3,776.8 452.8,776.7 453.3,780.9 453.8,783.6 454.3,776.6 454.8,773.1 455.2,773.6 455.7,775.0 456.2,775.1 456.7,772.4 457.2,773.4 457.7,770.4 458.2,772.2 458.7,781.7 459.2,784.2 459.7,777.5 460.2,776.0 460.7,778.0 461.2,777.5 461.7,780.4 462.2,784.9 462.7,787.6 463.1,789.2 463.6,784.5 464.1,784.6 464.6,787.3 465.1,784.0 465.6,782.7 466.1,784.5 466.6,785.9 467.1,785.5 467.6,782.0 468.1,779.9 468.6,779.0 469.1,779.4 469.6,782.7 470.1,788.4 470.6,787.8 471.1,784.5 471.5,783.2 472.0,784.0 472.5,786.4 473.0,786.0 473.5,788.2 474.0,783.9 474.5,780.4 475.0,780.2 475.5,782.1 476.0,785.1 476.5,785.0 477.0,784.9 477.5,788.7 478.0,785.0 478.5,782.4 479.0,784.1 479.4,782.6 479.9,786.0 480.4,787.1 480.9,783.9 481.4,783.7 481.9,784.8 482.4,784.0 482.9,781.3 483.4,783.8 483.9,788.7 484.4,782.8 484.9,784.3 485.4,787.5 485.9,788.0 486.4,788.5 486.9,784.6 487.4,782.6 487.8,784.3 488.3,786.3 488.8,786.9 489.3,789.9 489.8,784.8 490.3,779.4 490.8,778.5 491.3,780.6 491.8,780.5 492.3,778.9 492.8,782.4 493.3,788.9 493.8,786.0 494.3,787.5 494.8,787.4 495.3,785.6 495.8,784.1 496.2,783.4 496.7,780.8 497.2,779.6 497.7,779.7 498.2,779.9 498.7,785.5 499.2,788.9 499.7,785.4 500.2,785.8 500.7,785.3 501.2,782.4 501.7,777.8 502.2,775.6 502.7,777.9 503.2,783.0 503.7,789.3 504.1,779.0 504.6,774.4 505.1,780.2 505.6,787.7 506.1,785.1 506.6,783.1 507.1,780.4 507.6,782.4 508.1,788.3 508.6,787.8 509.1,783.5 509.6,785.1 510.1,786.7 510.6,784.5 511.1,784.5 511.6,781.3 512.1,780.9 512.5,781.4 513.0,781.1 513.5,785.2 514.0,788.4 514.5,790.3 515.0,783.9 515.5,779.7 516.0,776.8 516.5,779.1 517.0,784.6 517.5,786.3 518.0,783.2 518.5,780.8 519.0,782.0 519.5,781.6 520.0,778.9 520.5,778.9 520.9,782.0 521.4,786.8 521.9,789.4 522.4,783.8 522.9,778.0 523.4,773.8 523.9,775.7 524.4,782.3 524.9,785.0 525.4,783.4 525.9,784.9 526.4,784.5 526.9,784.0 527.4,786.3 527.9,788.5 528.4,788.7 528.9,787.1 529.3,787.6 529.8,784.9 530.3,786.7 530.8,788.3 531.3,785.7 531.8,785.6 532.3,787.1 532.8,788.5 533.3,789.2 533.8,790.0 534.3,785.0 534.8,779.0 535.3,776.9 535.8,781.1 536.3,787.7 536.8,786.8 537.2,788.1 537.7,788.8 538.2,786.3 538.7,786.7 539.2,788.9 539.7,790.4 540.2,786.7 540.7,782.1 541.2,780.2 541.7,781.7 542.2,785.5 542.7,789.3 543.2,786.7 543.7,787.3 544.2,786.1 544.7,782.7 545.2,780.9 545.6,781.3 546.1,786.1 546.6,788.8 547.1,785.8 547.6,790.8 548.1,785.5 548.6,783.7 549.1,785.0 549.6,786.6 550.1,784.9 550.6,781.7 551.1,781.6 551.6,782.4 552.1,781.4 552.6,780.8 553.1,784.2 553.5,786.2 554.0,780.4 554.5,781.1 555.0,786.2 555.5,785.0 556.0,780.8 556.5,777.7 557.0,779.8 557.5,779.5 558.0,776.3 558.5,780.0 559.0,786.5 559.5,789.0 560.0,785.0 560.5,783.5 561.0,779.6 561.5,776.5 561.9,782.1 562.4,786.5 562.9,780.7 563.4,781.9 563.9,778.4 564.4,773.9 564.9,779.4 565.4,787.8 565.9,783.7 566.4,780.8 566.9,780.1 567.4,780.2 567.9,780.8 568.4,783.7 568.9,787.3 569.4,787.7 569.9,789.6 570.3,788.9 570.8,788.4 571.3,787.4 571.8,784.7 572.3,782.9 572.8,781.0 573.3,778.9 573.8,778.4 574.3,773.6 574.8,768.5 575.3,771.1 575.8,773.9 576.3,770.9 576.8,771.2 577.3,779.1 577.8,785.2 578.2,784.3 578.7,782.4 579.2,781.8 579.7,782.2 580.2,781.8 580.7,781.8 581.2,782.5 581.7,781.4 582.2,778.6 582.7,779.6 583.2,784.9 583.7,790.0 584.2,789.6 584.7,786.0 585.2,780.5 585.7,781.1 586.2,787.8 586.6,786.0 587.1,785.3 587.6,787.7 588.1,787.7 588.6,779.1 589.1,775.3 589.6,781.3 590.1,790.0 590.6,785.9 591.1,786.4 591.6,777.6 592.1,773.0 592.6,776.9 593.1,785.3 593.6,787.2 594.1,788.2 594.6,789.5 595.0,789.4 595.5,786.5 596.0,783.4 596.5,784.0 597.0,782.0 597.5,777.6 598.0,776.7 598.5,778.8 599.0,781.8 599.5,784.1 600.0,783.9 600.5,781.6 601.0,782.2 601.5,781.7 602.0,780.5 602.5,783.5 603.0,782.3 603.4,782.2 603.9,787.8 604.4,785.4 604.9,781.7 605.4,784.5 605.9,790.1 606.4,787.4 606.9,786.7 607.4,786.2 607.9,785.3 608.4,784.5 608.9,785.7 609.4,788.6 609.9,789.0 610.4,787.2 610.9,786.1 611.3,785.3 611.8,783.0 612.3,780.1 612.8,780.8 613.3,786.4 613.8,787.2 614.3,781.8 614.8,781.5 615.3,784.1 615.8,786.6 616.3,786.5 616.8,779.3 617.3,772.7 617.8,770.0 618.3,772.3 618.8,779.0 619.3,786.8 619.7,789.1 620.2,789.1 620.7,781.5 621.2,775.7 621.7,777.5 622.2,779.7 622.7,776.3 623.2,778.0 623.7,782.7 624.2,786.6 624.7,787.0 625.2,785.5 625.7,786.2 626.2,788.1 626.7,786.3 627.2,784.8 627.7,786.7 628.1,787.8 628.6,785.8 629.1,785.4 629.6,787.5 630.1,790.5 630.6,789.3 631.1,785.8 631.6,782.3 632.1,785.2 632.6,787.5 633.1,790.2 633.6,785.6 634.1,781.3 634.6,777.7 635.1,777.0 635.6,781.2 636.0,786.8 636.5,786.9 637.0,785.8 637.5,783.1 638.0,780.4 638.5,778.8 639.0,779.1 639.5,783.2 640.0,783.9 640.5,783.5 641.0,786.6 641.5,790.7 642.0,787.5 642.5,783.0 643.0,779.9 643.5,781.7 644.0,784.9 644.4,781.7 644.9,781.6 645.4,786.6 645.9,787.8 646.4,786.9 646.9,787.3 647.4,786.1 647.9,785.2 648.4,785.2 648.9,782.2 649.4,780.2 649.9,782.6 650.4,785.3 650.9,785.2 651.4,788.1 651.9,783.9 652.4,781.4 652.8,783.9 653.3,783.5 653.8,781.4 654.3,782.8 654.8,782.7 655.3,784.4 655.8,787.1 656.3,788.1 656.8,784.8 657.3,781.1 657.8,783.8 658.3,786.0 658.8,781.9 659.3,778.6 659.8,775.6 660.3,775.2 660.7,779.4 661.2,782.9 661.7,783.1 662.2,781.5 662.7,777.5 663.2,775.5 663.7,779.7 664.2,786.3 664.7,785.6" class="ln" stroke="#0000ff" stroke-width="1.9"/>
<polyline points="417.7,781.1 418.2,782.4 418.7,785.7 419.2,787.1 419.7,785.2 420.2,784.0 420.7,789.2 421.2,787.1 421.7,788.0 422.1,790.6 422.6,789.3 423.1,785.7 423.6,785.6 424.1,786.3 424.6,785.8 425.1,785.2 425.6,786.2 426.1,788.9 426.6,788.6 427.1,787.8 427.6,787.2 428.1,789.3 428.6,786.8 429.1,787.5 429.6,788.3 430.1,787.6 430.5,789.1 431.0,788.7 431.5,786.5 432.0,781.1 432.5,778.9 433.0,782.2 433.5,786.9 434.0,780.2 434.5,779.6 435.0,782.9 435.5,785.7 436.0,789.0 436.5,789.7 437.0,787.5 437.5,785.6 438.0,783.4 438.4,779.7 438.9,781.7 439.4,786.5 439.9,781.2 440.4,779.1 440.9,781.0 441.4,785.7 441.9,786.6 442.4,785.7 442.9,788.1 443.4,787.2 443.9,783.7 444.4,782.1 444.9,785.2 445.4,782.5 445.9,781.3 446.4,784.2 446.8,786.2 447.3,785.2 447.8,787.5 448.3,783.9 448.8,776.6 449.3,776.0 449.8,780.1 450.3,779.9 450.8,778.9 451.3,778.3 451.8,777.0 452.3,776.5 452.8,777.6 453.3,780.1 453.8,779.9 454.3,777.2 454.8,778.4 455.2,784.2 455.7,784.4 456.2,780.8 456.7,780.3 457.2,782.9 457.7,786.3 458.2,789.2 458.7,786.7 459.2,786.2 459.7,788.6 460.2,791.0 460.7,783.6 461.2,778.2 461.7,778.0 462.2,780.4 462.7,785.4 463.1,784.6 463.6,782.1 464.1,783.1 464.6,785.4 465.1,785.8 465.6,786.1 466.1,785.6 466.6,784.5 467.1,782.3 467.6,781.4 468.1,784.8 468.6,784.9 469.1,781.7 469.6,776.6 470.1,773.0 470.6,777.4 471.1,784.5 471.5,789.7 472.0,788.9 472.5,788.8 473.0,788.7 473.5,786.1 474.0,785.9 474.5,787.3 475.0,784.1 475.5,783.8 476.0,785.7 476.5,787.3 477.0,786.0 477.5,782.3 478.0,785.0 478.5,787.6 479.0,779.0 479.4,779.0 479.9,787.5 480.4,784.8 480.9,779.1 481.4,777.2 481.9,778.1 482.4,779.9 482.9,782.0 483.4,776.2 483.9,771.8 484.4,773.4 484.9,777.8 485.4,782.1 485.9,786.7 486.4,785.4 486.9,778.9 487.4,774.5 487.8,773.7 488.3,777.3 488.8,780.6 489.3,780.0 489.8,780.4 490.3,783.0 490.8,786.0 491.3,789.6 491.8,789.1 492.3,788.7 492.8,787.1 493.3,787.0 493.8,788.5 494.3,786.3 494.8,781.4 495.3,781.6 495.8,786.0 496.2,787.4 496.7,786.8 497.2,788.3 497.7,787.4 498.2,779.8 498.7,776.0 499.2,778.6 499.7,785.8 500.2,789.0 500.7,786.5 501.2,785.7 501.7,785.6 502.2,784.3 502.7,784.5 503.2,788.2 503.7,781.9 504.1,780.0 504.6,785.7 505.1,787.6 505.6,787.0 506.1,787.3 506.6,783.9 507.1,783.0 507.6,788.2 508.1,789.3 508.6,787.3 509.1,782.0 509.6,784.5 510.1,788.5 510.6,782.4 511.1,785.7 511.6,789.6 512.1,786.9 512.5,783.0 513.0,783.8 513.5,786.6 514.0,790.6 514.5,787.9 515.0,788.0 515.5,788.3 516.0,785.6 516.5,781.9 517.0,778.3 517.5,778.7 518.0,782.0 518.5,782.9 519.0,785.7 519.5,789.3 520.0,787.5 520.5,782.9 520.9,782.1 521.4,784.6 521.9,786.2 522.4,784.7 522.9,780.6 523.4,781.2 523.9,788.1 524.4,786.1 524.9,782.7 525.4,782.1 525.9,782.8 526.4,784.5 526.9,781.1 527.4,780.9 527.9,783.1 528.4,784.3 528.9,786.8 529.3,787.1 529.8,786.8 530.3,781.5 530.8,779.7 531.3,781.0 531.8,778.6 532.3,774.8 532.8,774.7 533.3,778.6 533.8,783.8 534.3,785.3 534.8,782.7 535.3,778.1 535.8,777.0 536.3,781.4 536.8,783.1 537.2,779.2 537.7,780.0 538.2,782.5 538.7,784.2 539.2,785.4 539.7,785.9 540.2,785.2 540.7,786.4 541.2,789.6 541.7,786.4 542.2,781.7 542.7,779.1 543.2,778.2 543.7,780.4 544.2,787.0 544.7,785.1 545.2,775.9 545.6,770.3 546.1,772.9 546.6,782.6 547.1,787.4 547.6,784.1 548.1,785.1 548.6,787.7 549.1,784.0 549.6,780.6 550.1,778.1 550.6,778.6 551.1,782.4 551.6,784.9 552.1,787.8 552.6,787.3 553.1,787.7 553.5,789.4 554.0,786.6 554.5,788.1 555.0,790.2 555.5,790.1 556.0,790.0 556.5,790.0 557.0,785.2 557.5,780.7 558.0,778.6 558.5,781.3 559.0,786.7 559.5,787.4 560.0,782.5 560.5,778.8 561.0,778.6 561.5,780.1 561.9,781.8 562.4,784.1 562.9,788.1 563.4,787.6 563.9,782.9 564.4,777.9 564.9,780.3 565.4,787.1 565.9,785.0 566.4,781.0 566.9,778.7 567.4,778.6 567.9,780.3 568.4,784.2 568.9,788.0 569.4,788.0 569.9,785.1 570.3,784.4 570.8,786.1 571.3,784.2 571.8,778.4 572.3,776.3 572.8,778.1 573.3,776.0 573.8,773.2 574.3,777.9 574.8,786.6 575.3,786.3 575.8,785.5 576.3,788.1 576.8,786.6 577.3,785.1 577.8,786.4 578.2,785.9 578.7,783.7 579.2,785.8 579.7,783.7 580.2,783.0 580.7,785.6 581.2,788.4 581.7,786.4 582.2,788.2 582.7,786.1 583.2,781.2 583.7,781.5 584.2,786.6 584.7,789.3 585.2,783.3 585.7,779.8 586.2,783.1 586.6,790.2 587.1,783.3 587.6,775.9 588.1,775.3 588.6,779.7 589.1,783.1 589.6,784.5 590.1,783.7 590.6,784.0 591.1,786.1 591.6,783.7 592.1,782.1 592.6,777.3 593.1,772.7 593.6,776.6 594.1,784.1 594.6,787.7 595.0,788.2 595.5,789.4 596.0,789.2 596.5,787.9 597.0,784.5 597.5,783.1 598.0,784.1 598.5,783.6 599.0,783.4 599.5,781.8 600.0,780.9 600.5,783.1 601.0,789.6 601.5,784.8 602.0,783.1 602.5,785.9 603.0,790.2 603.4,788.7 603.9,788.6 604.4,782.6 604.9,779.5 605.4,781.9 605.9,784.4 606.4,784.1 606.9,783.3 607.4,785.4 607.9,784.4 608.4,782.4 608.9,783.7 609.4,782.8 609.9,780.5 610.4,782.0 610.9,788.3 611.3,785.9 611.8,781.6 612.3,781.9 612.8,776.6 613.3,769.1 613.8,767.8 614.3,773.3 614.8,780.8 615.3,787.0 615.8,790.4 616.3,788.9 616.8,787.2 617.3,786.5 617.8,788.1 618.3,784.4 618.8,783.3 619.3,782.2 619.7,784.1 620.2,787.8 620.7,786.8 621.2,784.7 621.7,786.9 622.2,787.8 622.7,781.3 623.2,776.4 623.7,775.7 624.2,782.0 624.7,790.2 625.2,785.2 625.7,789.5 626.2,785.2 626.7,781.4 627.2,780.0 627.7,779.2 628.1,779.9 628.6,781.6 629.1,785.6 629.6,787.9 630.1,790.0 630.6,787.6 631.1,785.5 631.6,786.8 632.1,786.3 632.6,788.0 633.1,786.7 633.6,778.9 634.1,777.1 634.6,782.3 635.1,787.9 635.6,788.9 636.0,786.0 636.5,785.2 637.0,784.6 637.5,784.0 638.0,785.0 638.5,786.2 639.0,788.9 639.5,785.6 640.0,781.4 640.5,781.3 641.0,786.2 641.5,784.3 642.0,782.6 642.5,784.0 643.0,784.1 643.5,784.8 644.0,784.3 644.4,781.2 644.9,777.3 645.4,775.7 645.9,777.7 646.4,783.6 646.9,790.5 647.4,783.9 647.9,780.9 648.4,785.0 648.9,785.5 649.4,783.2 649.9,785.8 650.4,788.3 650.9,787.5 651.4,787.8 651.9,786.6 652.4,785.6 652.8,787.3 653.3,787.3 653.8,787.6 654.3,786.8 654.8,784.8 655.3,786.1 655.8,782.8 656.3,784.2 656.8,788.5 657.3,784.1 657.8,782.9 658.3,781.2 658.8,778.3 659.3,780.7 659.8,786.2 660.3,789.1 660.7,788.3 661.2,787.7 661.7,781.5 662.2,776.5 662.7,776.6 663.2,778.5 663.7,783.5 664.2,788.4 664.7,789.5" class="ln" stroke="#0000ff" stroke-width="1.9"/>
<polyline points="417.7,781.5 418.2,784.9 418.7,787.4 419.2,788.1 419.7,788.1 420.2,787.1 420.7,787.5 421.2,787.8 421.7,784.3 422.1,783.1 422.6,785.7 423.1,789.8 423.6,786.4 424.1,783.4 424.6,779.5 425.1,778.1 425.6,782.4 426.1,787.2 426.6,784.5 427.1,780.8 427.6,783.1 428.1,788.4 428.6,785.4 429.1,784.8 429.6,784.7 430.1,787.5 430.5,786.2 431.0,783.8 431.5,783.7 432.0,787.1 432.5,789.5 433.0,787.1 433.5,784.1 434.0,782.1 434.5,781.9 435.0,785.1 435.5,787.9 436.0,782.0 436.5,780.1 437.0,783.9 437.5,788.1 438.0,784.3 438.4,781.8 438.9,779.9 439.4,778.2 439.9,772.7 440.4,769.0 440.9,768.1 441.4,768.5 441.9,769.0 442.4,769.5 442.9,773.0 443.4,777.2 443.9,779.9 444.4,780.1 444.9,783.6 445.4,784.8 445.9,784.4 446.4,782.7 446.8,784.9 447.3,783.5 447.8,777.9 448.3,780.9 448.8,789.6 449.3,782.4 449.8,784.9 450.3,785.1 450.8,782.1 451.3,780.3 451.8,781.3 452.3,786.3 452.8,788.3 453.3,785.7 453.8,780.2 454.3,776.6 454.8,780.1 455.2,784.4 455.7,783.4 456.2,781.3 456.7,785.3 457.2,783.9 457.7,779.6 458.2,778.6 458.7,777.0 459.2,778.3 459.7,781.1 460.2,783.2 460.7,785.9 461.2,789.7 461.7,789.4 462.2,787.4 462.7,783.7 463.1,780.1 463.6,778.1 464.1,778.4 464.6,779.6 465.1,780.7 465.6,783.5 466.1,788.8 466.6,788.2 467.1,786.3 467.6,786.9 468.1,788.7 468.6,787.5 469.1,784.0 469.6,785.9 470.1,784.3 470.6,784.6 471.1,777.9 471.5,768.8 472.0,760.5 472.5,755.8 473.0,750.7 473.5,744.1 474.0,736.0 474.5,729.0 475.0,726.7 475.5,728.7 476.0,731.3 476.5,732.8 477.0,732.5 477.5,730.3 478.0,727.5 478.5,725.7 479.0,725.0 479.4,724.5 479.9,722.9 480.4,721.0 480.9,721.1 481.4,723.7 481.9,726.6 482.4,728.2 482.9,727.6 483.4,725.8 483.9,724.1 484.4,722.9 484.9,723.0 485.4,724.3 485.9,725.7 486.4,726.9 486.9,727.4 487.4,726.7 487.8,724.7 488.3,721.8 488.8,721.1 489.3,723.6 489.8,727.5 490.3,731.8 490.8,735.0 491.3,733.5 491.8,729.8 492.3,725.3 492.8,720.8 493.3,717.0 493.8,714.2 494.3,711.8 494.8,708.3 495.3,705.0 495.8,705.6 496.2,708.4 496.7,711.3 497.2,713.4 497.7,714.8 498.2,716.3 498.7,717.4 499.2,715.2 499.7,711.6 500.2,707.9 500.7,706.2 501.2,708.2 501.7,710.1 502.2,710.9 502.7,711.8 503.2,711.1 503.7,709.2 504.1,706.1 504.6,703.0 505.1,701.1 505.6,700.5 506.1,700.4 506.6,700.2 507.1,700.2 507.6,701.1 508.1,703.4 508.6,708.1 509.1,712.6 509.6,713.7 510.1,711.4 510.6,708.6 511.1,707.9 511.6,713.4 512.1,719.9 512.5,726.1 513.0,731.8 513.5,734.3 514.0,733.9 514.5,732.9 515.0,730.8 515.5,727.2 516.0,722.8 516.5,718.5 517.0,714.6 517.5,710.9 518.0,706.6 518.5,702.4 519.0,701.0 519.5,703.3 520.0,707.6 520.5,711.8 520.9,715.3 521.4,718.1 521.9,720.5 522.4,722.5 522.9,722.2 523.4,719.2 523.9,715.6 524.4,713.1 524.9,714.9 525.4,719.8 525.9,723.0 526.4,722.6 526.9,719.8 527.4,717.8 527.9,717.2 528.4,717.5 528.9,717.9 529.3,717.9 529.8,716.3 530.3,710.4 530.8,707.0 531.3,710.8 531.8,715.4 532.3,719.9 532.8,725.4 533.3,731.9 533.8,738.6 534.3,744.0 534.8,746.4 535.3,742.6 535.8,737.5 536.3,733.5 536.8,731.2 537.2,730.2 537.7,729.6 538.2,728.4 538.7,726.5 539.2,723.4 539.7,719.1 540.2,713.7 540.7,708.8 541.2,707.6 541.7,708.4 542.2,710.7 542.7,713.3 543.2,713.4 543.7,711.1 544.2,707.7 544.7,705.8 545.2,708.3 545.6,711.8 546.1,715.0 546.6,717.6 547.1,718.5 547.6,719.3 548.1,720.4 548.6,720.2 549.1,714.5 549.6,707.7 550.1,700.8 550.6,695.6 551.1,699.2 551.6,705.4 552.1,712.0 552.6,717.4 553.1,718.0 553.5,716.9 554.0,715.3 554.5,713.9 555.0,714.1 555.5,716.0 556.0,718.6 556.5,721.5 557.0,723.2 557.5,723.4 558.0,723.4 558.5,725.3 559.0,728.9 559.5,731.2 560.0,730.8 560.5,728.5 561.0,724.6 561.5,722.3 561.9,723.3 562.4,726.2 562.9,729.9 563.4,733.5 563.9,737.2 564.4,740.8 564.9,742.8 565.4,742.7 565.9,741.1 566.4,737.8 566.9,733.3 567.4,729.4 567.9,727.4 568.4,726.2 568.9,725.6 569.4,725.7 569.9,726.1 570.3,726.4 570.8,726.5 571.3,725.9 571.8,722.7 572.3,718.4 572.8,713.0 573.3,709.3 573.8,713.9 574.3,721.6 574.8,728.8 575.3,733.5 575.8,733.2 576.3,731.7 576.8,730.9 577.3,731.1 577.8,731.9 578.2,732.3 578.7,732.2 579.2,731.8 579.7,731.1 580.2,730.2 580.7,729.0 581.2,726.7 581.7,723.2 582.2,721.8 582.7,724.2 583.2,729.3 583.7,736.2 584.2,743.2 584.7,749.0 585.2,753.9 585.7,758.7 586.2,762.9 586.6,765.7 587.1,767.3 587.6,767.5 588.1,771.0 588.6,779.1 589.1,778.4 589.6,773.4 590.1,771.5 590.6,774.5 591.1,779.7 591.6,784.2 592.1,789.9 592.6,784.6 593.1,780.6 593.6,779.8 594.1,781.1 594.6,785.2 595.0,788.3 595.5,784.9 596.0,783.3 596.5,785.6 597.0,786.4 597.5,784.1 598.0,784.6 598.5,784.8 599.0,784.4 599.5,786.5 600.0,786.5 600.5,783.6 601.0,782.5 601.5,781.9 602.0,782.2 602.5,783.8 603.0,785.8 603.4,785.9 603.9,784.8 604.4,783.0 604.9,780.0 605.4,781.1 605.9,786.6 606.4,790.1 606.9,788.0 607.4,784.9 607.9,782.7 608.4,783.4 608.9,788.2 609.4,790.6 609.9,788.3 610.4,782.7 610.9,780.2 611.3,784.2 611.8,789.3 612.3,789.3 612.8,788.1 613.3,785.3 613.8,782.7 614.3,783.7 614.8,784.6 615.3,782.3 615.8,783.4 616.3,787.4 616.8,783.4 617.3,780.5 617.8,779.3 618.3,782.7 618.8,787.6 619.3,788.7 619.7,788.2 620.2,789.4 620.7,787.2 621.2,785.7 621.7,785.5 622.2,782.4 622.7,780.9 623.2,781.9 623.7,780.7 624.2,786.7 624.7,780.7 625.2,776.3 625.7,780.1 626.2,787.3 626.7,786.8 627.2,784.0 627.7,785.2 628.1,788.7 628.6,788.1 629.1,786.5 629.6,786.3 630.1,787.9 630.6,786.6 631.1,786.3 631.6,783.7 632.1,781.8 632.6,776.6 633.1,771.0 633.6,766.0 634.1,761.1 634.6,758.0 635.1,756.5 635.6,756.3 636.0,756.4 636.5,755.7 637.0,752.9 637.5,747.9 638.0,743.2 638.5,742.5 639.0,745.0 639.5,749.4 640.0,753.9 640.5,757.0 641.0,758.4 641.5,759.5 642.0,761.0 642.5,764.6 643.0,771.4 643.5,774.2 644.0,777.6 644.4,782.8 644.9,783.8 645.4,785.2 645.9,786.9 646.4,783.9 646.9,785.7 647.4,788.8 647.9,785.6 648.4,783.9 648.9,782.8 649.4,784.2 649.9,783.4 650.4,781.1 650.9,783.9 651.4,784.1 651.9,782.7 652.4,786.9 652.8,787.4 653.3,785.5 653.8,785.6 654.3,787.1 654.8,786.2 655.3,787.0 655.8,789.4 656.3,789.4 656.8,787.9 657.3,788.4 657.8,789.6 658.3,789.3 658.8,786.7 659.3,784.7 659.8,783.6 660.3,782.4 660.7,784.0 661.2,781.8 661.7,781.4 662.2,782.3 662.7,782.4 663.2,782.6 663.7,785.3 664.2,787.5 664.7,781.1" class="ln" stroke="#008000" stroke-width="1.9"/>
<polyline points="417.7,727.2 418.2,727.1 418.7,726.3 419.2,726.0 419.7,726.1 420.2,727.3 420.7,730.2 421.2,734.1 421.7,737.5 422.1,739.3 422.6,738.7 423.1,734.7 423.6,729.3 424.1,725.9 424.6,725.4 425.1,725.7 425.6,724.2 426.1,719.9 426.6,714.9 427.1,714.3 427.6,716.1 428.1,717.8 428.6,715.5 429.1,711.6 429.6,708.3 430.1,709.5 430.5,715.2 431.0,721.9 431.5,726.6 432.0,728.8 432.5,729.2 433.0,727.2 433.5,724.0 434.0,723.3 434.5,728.7 435.0,735.2 435.5,740.4 436.0,744.2 436.5,746.8 437.0,749.0 437.5,751.6 438.0,753.8 438.4,752.3 438.9,749.9 439.4,748.3 439.9,747.5 440.4,747.4 440.9,747.8 441.4,748.6 441.9,748.5 442.4,745.4 442.9,740.8 443.4,737.0 443.9,737.4 444.4,742.3 444.9,748.6 445.4,755.0 445.9,760.2 446.4,759.4 446.8,755.3 447.3,749.4 447.8,743.6 448.3,737.6 448.8,729.9 449.3,721.4 449.8,715.6 450.3,715.4 450.8,715.3 451.3,712.1 451.8,707.4 452.3,704.1 452.8,703.3 453.3,705.9 453.8,711.4 454.3,717.8 454.8,724.1 455.2,729.5 455.7,733.3 456.2,735.8 456.7,735.9 457.2,734.3 457.7,732.5 458.2,730.8 458.7,728.8 459.2,727.0 459.7,725.9 460.2,726.0 460.7,726.9 461.2,726.1 461.7,723.6 462.2,719.6 462.7,716.0 463.1,716.6 463.6,719.1 464.1,722.2 464.6,723.3 465.1,721.1 465.6,718.1 466.1,716.5 466.6,717.6 467.1,722.4 467.6,726.4 468.1,728.1 468.6,727.1 469.1,721.6 469.6,716.0 470.1,712.7 470.6,713.9 471.1,715.7 471.5,716.9 472.0,718.4 472.5,720.3 473.0,720.4 473.5,717.6 474.0,714.0 474.5,711.9 475.0,712.0 475.5,712.8 476.0,712.2 476.5,711.1 477.0,713.7 477.5,721.4 478.0,729.9 478.5,732.3 479.0,731.8 479.4,730.4 479.9,729.5 480.4,727.5 480.9,725.1 481.4,723.4 481.9,727.2 482.4,731.9 482.9,734.7 483.4,735.2 483.9,734.2 484.4,734.7 484.9,737.4 485.4,741.6 485.9,746.5 486.4,749.7 486.9,751.9 487.4,755.5 487.8,761.4 488.3,768.4 488.8,776.3 489.3,781.7 489.8,784.5 490.3,785.1 490.8,786.2 491.3,787.9 491.8,784.4 492.3,786.4 492.8,786.4 493.3,781.9 493.8,780.7 494.3,783.2 494.8,788.9 495.3,787.3 495.8,783.1 496.2,784.0 496.7,789.0 497.2,790.2 497.7,787.8 498.2,783.7 498.7,782.4 499.2,782.2 499.7,784.6 500.2,787.4 500.7,784.9 501.2,784.1 501.7,784.0 502.2,783.6 502.7,786.2 503.2,785.9 503.7,783.5 504.1,782.2 504.6,785.0 505.1,786.1 505.6,785.8 506.1,788.9 506.6,790.5 507.1,787.4 507.6,783.8 508.1,784.3 508.6,784.5 509.1,786.2 509.6,783.9 510.1,777.5 510.6,778.3 511.1,785.0 511.6,786.3 512.1,787.1 512.5,790.1 513.0,790.8 513.5,787.4 514.0,785.2 514.5,787.2 515.0,787.0 515.5,787.0 516.0,786.7 516.5,783.3 517.0,781.2 517.5,781.1 518.0,785.3 518.5,785.4 519.0,778.8 519.5,778.1 520.0,781.2 520.5,783.3 520.9,785.9 521.4,786.0 521.9,783.3 522.4,786.2 522.9,788.0 523.4,788.2 523.9,787.3 524.4,787.2 524.9,784.8 525.4,786.1 525.9,786.8 526.4,786.1 526.9,785.5 527.4,784.0 527.9,782.7 528.4,781.2 528.9,780.7 529.3,783.4 529.8,787.4 530.3,788.0 530.8,790.0 531.3,787.8 531.8,787.3 532.3,786.8 532.8,778.9 533.3,777.2 533.8,782.3 534.3,785.6 534.8,787.0 535.3,787.5 535.8,779.4 536.3,776.2 536.8,773.8 537.2,771.2 537.7,774.3 538.2,779.0 538.7,781.2 539.2,783.5 539.7,783.9 540.2,784.0 540.7,786.3 541.2,789.5 541.7,787.0 542.2,785.3 542.7,783.6 543.2,782.7 543.7,784.4 544.2,785.7 544.7,784.4 545.2,787.0 545.6,788.0 546.1,787.0 546.6,788.2 547.1,787.0 547.6,789.0 548.1,788.9 548.6,789.6 549.1,787.2 549.6,787.6 550.1,785.6 550.6,786.2 551.1,787.9 551.6,780.2 552.1,775.0 552.6,764.9 553.1,758.0 553.5,753.7 554.0,752.8 554.5,755.2 555.0,757.9 555.5,760.2 556.0,762.9 556.5,770.9 557.0,772.7 557.5,770.3 558.0,769.5 558.5,768.5 559.0,765.6 559.5,763.1 560.0,764.4 560.5,771.6 561.0,777.5 561.5,775.3 561.9,773.0 562.4,772.2 562.9,771.4 563.4,770.4 563.9,768.8 564.4,766.5 564.9,764.9 565.4,766.2 565.9,769.9 566.4,773.2 566.9,775.4 567.4,775.5 567.9,775.4 568.4,771.1 568.9,768.7 569.4,768.2 569.9,764.5 570.3,759.6 570.8,756.6 571.3,753.6 571.8,750.8 572.3,748.9 572.8,748.2 573.3,747.7 573.8,746.7 574.3,746.2 574.8,746.6 575.3,748.1 575.8,752.7 576.3,758.5 576.8,763.9 577.3,769.4 577.8,772.2 578.2,775.7 578.7,781.5 579.2,785.4 579.7,785.4 580.2,786.4 580.7,789.7 581.2,783.1 581.7,780.2 582.2,780.9 582.7,783.7 583.2,786.8 583.7,787.9 584.2,788.8 584.7,789.1 585.2,789.5 585.7,789.8 586.2,787.9 586.6,785.8 587.1,785.1 587.6,788.7 588.1,784.8 588.6,780.3 589.1,782.3 589.6,781.5 590.1,776.9 590.6,774.2 591.1,771.0 591.6,766.0 592.1,761.0 592.6,758.0 593.1,756.0 593.6,754.7 594.1,753.1 594.6,750.7 595.0,747.7 595.5,744.5 596.0,742.4 596.5,741.7 597.0,741.3 597.5,738.8 598.0,734.7 598.5,730.7 599.0,727.5 599.5,724.5 600.0,720.4 600.5,717.7 601.0,718.9 601.5,722.8 602.0,725.8 602.5,725.1 603.0,720.9 603.4,715.8 603.9,712.1 604.4,709.9 604.9,707.9 605.4,705.6 605.9,704.3 606.4,706.1 606.9,708.9 607.4,711.8 607.9,715.1 608.4,719.5 608.9,724.8 609.4,729.9 609.9,733.9 610.4,736.6 610.9,738.1 611.3,738.7 611.8,738.7 612.3,737.8 612.8,736.9 613.3,737.1 613.8,737.0 614.3,735.7 614.8,734.7 615.3,735.8 615.8,737.9 616.3,738.4 616.8,737.5 617.3,737.7 617.8,740.4 618.3,742.1 618.8,739.1 619.3,732.6 619.7,725.4 620.2,719.8 620.7,716.3 621.2,715.4 621.7,716.5 622.2,717.0 622.7,715.1 623.2,712.6 623.7,711.4 624.2,711.8 624.7,713.3 625.2,715.6 625.7,718.2 626.2,721.1 626.7,724.2 627.2,726.9 627.7,729.7 628.1,732.5 628.6,735.6 629.1,738.4 629.6,738.7 630.1,737.1 630.6,734.4 631.1,731.7 631.6,728.8 632.1,725.2 632.6,720.2 633.1,716.8 633.6,715.5 634.1,714.5 634.6,711.8 635.1,707.8 635.6,703.0 636.0,698.0 636.5,694.0 637.0,692.6 637.5,696.8 638.0,701.8 638.5,706.4 639.0,710.3 639.5,714.7 640.0,720.6 640.5,728.8 641.0,736.5 641.5,738.3 642.0,737.7 642.5,735.9 643.0,732.6 643.5,728.6 644.0,725.5 644.4,723.6 644.9,722.1 645.4,719.5 645.9,715.8 646.4,712.4 646.9,709.4 647.4,707.5 647.9,706.8 648.4,707.0 648.9,708.6 649.4,711.7 649.9,715.5 650.4,717.5 650.9,716.9 651.4,715.8 651.9,715.3 652.4,714.8 652.8,715.0 653.3,718.7 653.8,725.2 654.3,730.8 654.8,734.0 655.3,734.8 655.8,733.8 656.3,732.4 656.8,732.3 657.3,733.3 657.8,733.7 658.3,733.3 658.8,733.3 659.3,733.8 659.8,734.1 660.3,733.6 660.7,731.5 661.2,729.3 661.7,729.2 662.2,731.0 662.7,732.1 663.2,730.2 663.7,726.5 664.2,725.4 664.7,728.1" class="ln" stroke="#008000" stroke-width="1.9"/>
<polyline points="417.7,776.4 418.2,777.3 418.7,771.5 419.2,760.7 419.7,751.1 420.2,744.1 420.7,739.4 421.2,734.9 421.7,732.2 422.1,732.0 422.6,732.7 423.1,733.2 423.6,732.9 424.1,731.8 424.6,730.3 425.1,728.4 425.6,726.3 426.1,724.8 426.6,724.4 427.1,725.0 427.6,727.9 428.1,732.2 428.6,735.6 429.1,737.4 429.6,736.3 430.1,733.1 430.5,731.2 431.0,733.5 431.5,736.7 432.0,740.3 432.5,744.2 433.0,746.4 433.5,746.5 434.0,744.8 434.5,738.3 435.0,731.2 435.5,725.3 436.0,719.9 436.5,715.0 437.0,713.2 437.5,714.5 438.0,716.1 438.4,717.7 438.9,720.9 439.4,725.6 439.9,730.8 440.4,736.5 440.9,742.1 441.4,746.9 441.9,749.7 442.4,747.9 442.9,744.6 443.4,741.7 443.9,738.9 444.4,735.1 444.9,730.9 445.4,726.6 445.9,723.2 446.4,720.7 446.8,720.0 447.3,721.3 447.8,723.4 448.3,724.1 448.8,723.0 449.3,721.9 449.8,724.2 450.3,727.0 450.8,729.5 451.3,732.4 451.8,734.0 452.3,735.6 452.8,736.7 453.3,737.4 453.8,737.8 454.3,737.9 454.8,738.0 455.2,738.3 455.7,738.2 456.2,737.5 456.7,736.7 457.2,735.1 457.7,732.9 458.2,730.8 458.7,729.3 459.2,728.6 459.7,728.1 460.2,726.3 460.7,722.2 461.2,717.7 461.7,719.7 462.2,730.0 462.7,741.6 463.1,746.5 463.6,748.3 464.1,748.6 464.6,745.7 465.1,740.3 465.6,734.8 466.1,730.5 466.6,731.1 467.1,733.3 467.6,735.9 468.1,738.5 468.6,742.1 469.1,745.2 469.6,748.4 470.1,753.0 470.6,758.8 471.1,763.4 471.5,766.2 472.0,770.8 472.5,777.4 473.0,782.1 473.5,785.4 474.0,783.4 474.5,783.6 475.0,784.6 475.5,782.6 476.0,783.5 476.5,785.8 477.0,784.1 477.5,782.1 478.0,786.4 478.5,784.4 479.0,777.0 479.4,776.3 479.9,780.6 480.4,786.5 480.9,784.2 481.4,780.5 481.9,782.5 482.4,787.2 482.9,788.6 483.4,786.0 483.9,782.2 484.4,780.9 484.9,783.8 485.4,778.3 485.9,771.5 486.4,767.2 486.9,767.2 487.4,769.5 487.8,772.6 488.3,776.1 488.8,777.4 489.3,773.4 489.8,769.1 490.3,765.8 490.8,765.1 491.3,766.2 491.8,768.1 492.3,769.5 492.8,770.4 493.3,772.5 493.8,775.8 494.3,776.6 494.8,775.1 495.3,773.2 495.8,773.7 496.2,771.8 496.7,767.8 497.2,764.8 497.7,763.5 498.2,763.4 498.7,762.8 499.2,760.1 499.7,754.9 500.2,750.4 500.7,747.5 501.2,745.0 501.7,742.3 502.2,739.4 502.7,736.4 503.2,733.3 503.7,731.3 504.1,730.8 504.6,730.2 505.1,728.5 505.6,727.3 506.1,727.7 506.6,729.3 507.1,732.1 507.6,735.6 508.1,739.0 508.6,742.1 509.1,745.6 509.6,749.8 510.1,754.2 510.6,757.8 511.1,760.4 511.6,762.1 512.1,763.3 512.5,766.4 513.0,771.8 513.5,777.5 514.0,781.3 514.5,782.2 515.0,785.2 515.5,787.9 516.0,790.2 516.5,786.3 517.0,785.3 517.5,790.1 518.0,785.5 518.5,784.1 519.0,787.7 519.5,789.9 520.0,789.9 520.5,789.0 520.9,783.4 521.4,781.3 521.9,779.4 522.4,778.6 522.9,781.8 523.4,784.8 523.9,787.3 524.4,788.8 524.9,786.5 525.4,784.3 525.9,783.3 526.4,783.0 526.9,785.4 527.4,788.8 527.9,788.6 528.4,786.4 528.9,785.3 529.3,784.9 529.8,782.5 530.3,778.3 530.8,776.6 531.3,778.7 531.8,775.6 532.3,766.8 532.8,760.7 533.3,757.5 533.8,756.7 534.3,756.7 534.8,756.7 535.3,757.1 535.8,759.6 536.3,763.1 536.8,770.6 537.2,778.2 537.7,780.8 538.2,778.6 538.7,774.5 539.2,777.2 539.7,784.1 540.2,786.1 540.7,787.0 541.2,787.8 541.7,788.1 542.2,785.3 542.7,784.6 543.2,785.1 543.7,784.0 544.2,783.9 544.7,787.1 545.2,787.1 545.6,784.4 546.1,784.7 546.6,788.6 547.1,786.2 547.6,787.3 548.1,783.0 548.6,777.8 549.1,782.9 549.6,784.0 550.1,776.3 550.6,776.5 551.1,779.6 551.6,780.5 552.1,780.3 552.6,779.0 553.1,779.7 553.5,779.5 554.0,777.2 554.5,775.8 555.0,777.3 555.5,782.0 556.0,786.4 556.5,785.5 557.0,788.2 557.5,789.1 558.0,789.3 558.5,788.5 559.0,784.6 559.5,782.7 560.0,782.9 560.5,784.1 561.0,784.6 561.5,782.6 561.9,779.2 562.4,779.0 562.9,781.9 563.4,785.1 563.9,787.3 564.4,784.5 564.9,775.9 565.4,773.2 565.9,776.5 566.4,777.1 566.9,773.5 567.4,769.5 567.9,765.4 568.4,762.1 568.9,759.8 569.4,762.3 569.9,766.6 570.3,772.7 570.8,773.2 571.3,773.6 571.8,779.4 572.3,783.9 572.8,787.2 573.3,787.0 573.8,786.5 574.3,789.9 574.8,785.8 575.3,782.1 575.8,781.4 576.3,785.6 576.8,781.9 577.3,781.2 577.8,783.3 578.2,781.9 578.7,779.5 579.2,774.1 579.7,768.5 580.2,763.0 580.7,760.0 581.2,758.9 581.7,759.4 582.2,760.0 582.7,760.8 583.2,761.4 583.7,759.7 584.2,757.2 584.7,754.9 585.2,752.8 585.7,750.4 586.2,747.6 586.6,745.2 587.1,743.6 587.6,742.4 588.1,742.4 588.6,743.4 589.1,743.9 589.6,743.6 590.1,743.7 590.6,745.2 591.1,747.2 591.6,748.1 592.1,748.3 592.6,748.3 593.1,748.0 593.6,747.4 594.1,747.3 594.6,749.4 595.0,753.3 595.5,757.3 596.0,759.7 596.5,760.0 597.0,758.6 597.5,756.8 598.0,756.9 598.5,758.6 599.0,760.2 599.5,760.5 600.0,759.5 600.5,756.9 601.0,754.4 601.5,752.3 602.0,750.1 602.5,747.8 603.0,746.5 603.4,747.7 603.9,749.2 604.4,750.2 604.9,750.8 605.4,752.0 605.9,753.9 606.4,756.2 606.9,758.1 607.4,760.0 607.9,763.6 608.4,769.9 608.9,777.6 609.4,783.1 609.9,783.2 610.4,780.7 610.9,781.5 611.3,783.4 611.8,782.1 612.3,775.6 612.8,768.6 613.3,769.1 613.8,776.1 614.3,781.1 614.8,783.9 615.3,785.2 615.8,782.4 616.3,776.7 616.8,771.7 617.3,770.2 617.8,774.7 618.3,782.0 618.8,786.2 619.3,782.2 619.7,776.7 620.2,779.0 620.7,783.6 621.2,779.9 621.7,779.6 622.2,781.9 622.7,786.5 623.2,788.6 623.7,785.4 624.2,786.3 624.7,782.8 625.2,784.3 625.7,782.2 626.2,785.5 626.7,786.6 627.2,781.7 627.7,781.1 628.1,784.9 628.6,787.9 629.1,788.9 629.6,783.8 630.1,782.5 630.6,785.8 631.1,784.3 631.6,777.0 632.1,767.2 632.6,761.0 633.1,757.5 633.6,749.7 634.1,741.4 634.6,737.0 635.1,734.0 635.6,731.6 636.0,729.5 636.5,729.6 637.0,729.3 637.5,729.2 638.0,730.8 638.5,734.2 639.0,737.7 639.5,738.9 640.0,738.4 640.5,737.5 641.0,737.4 641.5,738.3 642.0,739.3 642.5,739.0 643.0,738.3 643.5,737.0 644.0,735.0 644.4,732.9 644.9,731.0 645.4,728.9 645.9,725.8 646.4,722.9 646.9,721.7 647.4,721.8 647.9,721.8 648.4,722.5 648.9,724.9 649.4,728.3 649.9,731.8 650.4,735.4 650.9,738.9 651.4,742.4 651.9,746.4 652.4,751.1 652.8,756.3 653.3,760.8 653.8,766.6 654.3,775.5 654.8,779.6 655.3,780.4 655.8,786.3 656.3,785.0 656.8,781.7 657.3,785.7 657.8,787.6 658.3,784.0 658.8,784.5 659.3,783.8 659.8,784.7 660.3,788.8 660.7,789.0 661.2,789.6 661.7,786.2 662.2,785.3 662.7,787.2 663.2,785.4 663.7,786.2 664.2,785.6 664.7,782.6" class="ln" stroke="#bf00bf" stroke-width="1.9"/>
<polyline points="417.7,782.0 418.2,783.3 418.7,784.1 419.2,788.9 419.7,781.0 420.2,778.6 420.7,782.1 421.2,785.1 421.7,787.5 422.1,786.6 422.6,785.1 423.1,785.9 423.6,787.3 424.1,786.7 424.6,783.4 425.1,779.0 425.6,777.9 426.1,783.9 426.6,790.0 427.1,789.8 427.6,786.3 428.1,784.8 428.6,786.0 429.1,788.5 429.6,785.4 430.1,779.9 430.5,781.9 431.0,787.2 431.5,786.7 432.0,784.2 432.5,786.7 433.0,789.1 433.5,784.2 434.0,780.8 434.5,780.1 435.0,781.5 435.5,781.9 436.0,779.5 436.5,779.9 437.0,786.3 437.5,787.5 438.0,783.9 438.4,785.6 438.9,788.8 439.4,789.2 439.9,786.5 440.4,788.5 440.9,786.0 441.4,785.9 441.9,789.2 442.4,790.7 442.9,788.4 443.4,784.4 443.9,779.8 444.4,777.3 444.9,778.3 445.4,779.9 445.9,779.7 446.4,780.2 446.8,783.0 447.3,785.8 447.8,788.2 448.3,784.9 448.8,782.0 449.3,783.0 449.8,783.1 450.3,784.4 450.8,788.9 451.3,781.4 451.8,780.8 452.3,780.2 452.8,779.8 453.3,782.7 453.8,784.8 454.3,782.7 454.8,781.0 455.2,779.7 455.7,780.9 456.2,784.0 456.7,784.5 457.2,781.6 457.7,779.2 458.2,782.9 458.7,787.2 459.2,783.0 459.7,778.0 460.2,777.5 460.7,778.8 461.2,778.2 461.7,778.8 462.2,780.7 462.7,782.8 463.1,785.6 463.6,786.3 464.1,786.8 464.6,787.0 465.1,788.6 465.6,786.5 466.1,781.0 466.6,776.7 467.1,776.4 467.6,779.8 468.1,784.3 468.6,780.2 469.1,772.3 469.6,772.7 470.1,782.6 470.6,785.8 471.1,783.7 471.5,787.1 472.0,788.7 472.5,786.1 473.0,782.7 473.5,780.9 474.0,782.4 474.5,784.2 475.0,785.7 475.5,784.9 476.0,782.9 476.5,783.4 477.0,785.1 477.5,784.6 478.0,783.5 478.5,785.3 479.0,787.5 479.4,784.3 479.9,777.9 480.4,775.6 480.9,781.2 481.4,785.5 481.9,781.3 482.4,783.5 482.9,786.7 483.4,779.8 483.9,780.9 484.4,788.8 484.9,787.2 485.4,787.7 485.9,788.3 486.4,784.5 486.9,781.9 487.4,780.6 487.8,780.7 488.3,781.8 488.8,784.6 489.3,781.0 489.8,777.4 490.3,782.8 490.8,789.9 491.3,785.7 491.8,786.6 492.3,789.9 492.8,787.1 493.3,782.7 493.8,780.0 494.3,777.7 494.8,776.9 495.3,778.1 495.8,782.5 496.2,785.4 496.7,784.5 497.2,783.7 497.7,783.4 498.2,782.1 498.7,779.5 499.2,777.2 499.7,776.7 500.2,779.3 500.7,785.7 501.2,782.3 501.7,780.8 502.2,783.1 502.7,785.9 503.2,784.2 503.7,783.0 504.1,787.2 504.6,785.7 505.1,778.8 505.6,768.9 506.1,763.3 506.6,759.6 507.1,760.7 507.6,768.1 508.1,776.2 508.6,779.9 509.1,784.9 509.6,789.1 510.1,786.1 510.6,786.2 511.1,788.1 511.6,790.1 512.1,785.9 512.5,785.0 513.0,785.6 513.5,785.9 514.0,787.0 514.5,789.7 515.0,785.4 515.5,787.2 516.0,788.0 516.5,784.6 517.0,782.1 517.5,782.0 518.0,784.1 518.5,783.9 519.0,784.6 519.5,786.5 520.0,784.4 520.5,784.9 520.9,786.9 521.4,787.1 521.9,785.1 522.4,783.4 522.9,783.4 523.4,784.2 523.9,785.3 524.4,788.2 524.9,788.5 525.4,787.7 525.9,786.3 526.4,786.1 526.9,785.5 527.4,784.2 527.9,784.4 528.4,790.2 528.9,784.8 529.3,784.8 529.8,789.2 530.3,787.6 530.8,784.7 531.3,783.9 531.8,785.3 532.3,786.5 532.8,783.9 533.3,779.3 533.8,779.9 534.3,785.7 534.8,786.4 535.3,779.6 535.8,779.3 536.3,784.7 536.8,788.1 537.2,788.5 537.7,789.1 538.2,784.5 538.7,782.3 539.2,784.6 539.7,788.8 540.2,790.1 540.7,788.8 541.2,785.8 541.7,786.8 542.2,789.9 542.7,789.0 543.2,785.5 543.7,784.6 544.2,785.1 544.7,787.6 545.2,783.9 545.6,781.9 546.1,778.0 546.6,769.3 547.1,766.8 547.6,764.9 548.1,765.3 548.6,770.6 549.1,776.8 549.6,778.1 550.1,776.4 550.6,778.9 551.1,785.4 551.6,787.9 552.1,786.5 552.6,787.3 553.1,787.3 553.5,784.2 554.0,785.3 554.5,785.8 555.0,786.6 555.5,789.1 556.0,790.1 556.5,790.2 557.0,787.6 557.5,782.2 558.0,778.9 558.5,777.6 559.0,778.7 559.5,783.9 560.0,787.8 560.5,786.4 561.0,783.2 561.5,782.3 561.9,784.3 562.4,784.9 562.9,782.4 563.4,780.1 563.9,779.3 564.4,779.6 564.9,778.5 565.4,778.2 565.9,781.5 566.4,785.0 566.9,785.5 567.4,786.2 567.9,782.2 568.4,780.6 568.9,781.4 569.4,782.8 569.9,786.2 570.3,781.7 570.8,777.4 571.3,779.5 571.8,783.1 572.3,781.8 572.8,784.0 573.3,786.7 573.8,788.0 574.3,787.6 574.8,782.0 575.3,778.6 575.8,782.6 576.3,784.2 576.8,784.6 577.3,789.1 577.8,787.2 578.2,787.1 578.7,785.0 579.2,780.9 579.7,781.7 580.2,783.6 580.7,781.5 581.2,778.0 581.7,778.8 582.2,784.1 582.7,788.8 583.2,783.8 583.7,783.9 584.2,784.2 584.7,780.4 585.2,778.4 585.7,777.2 586.2,776.3 586.6,778.6 587.1,785.4 587.6,785.4 588.1,782.7 588.6,782.8 589.1,783.5 589.6,784.9 590.1,781.5 590.6,777.5 591.1,780.8 591.6,789.4 592.1,786.3 592.6,784.8 593.1,785.0 593.6,785.3 594.1,783.4 594.6,784.2 595.0,784.2 595.5,784.9 596.0,784.8 596.5,783.8 597.0,783.0 597.5,784.3 598.0,786.0 598.5,784.6 599.0,780.8 599.5,780.1 600.0,782.6 600.5,784.9 601.0,790.2 601.5,782.3 602.0,777.4 602.5,779.4 603.0,783.8 603.4,783.1 603.9,779.4 604.4,778.8 604.9,780.2 605.4,780.4 605.9,781.0 606.4,783.3 606.9,785.6 607.4,788.8 607.9,787.0 608.4,789.2 608.9,787.6 609.4,784.3 609.9,786.4 610.4,785.3 610.9,778.2 611.3,780.1 611.8,784.8 612.3,785.3 612.8,784.0 613.3,785.3 613.8,783.9 614.3,784.0 614.8,782.9 615.3,780.7 615.8,776.9 616.3,777.5 616.8,785.3 617.3,785.4 617.8,781.9 618.3,778.8 618.8,772.9 619.3,771.7 619.7,773.5 620.2,766.4 620.7,758.0 621.2,750.5 621.7,746.6 622.2,744.3 622.7,743.1 623.2,742.9 623.7,743.1 624.2,743.2 624.7,743.3 625.2,743.4 625.7,742.0 626.2,739.4 626.7,737.0 627.2,736.3 627.7,736.8 628.1,737.8 628.6,739.0 629.1,739.5 629.6,738.3 630.1,736.3 630.6,734.6 631.1,733.2 631.6,731.6 632.1,730.1 632.6,728.4 633.1,726.1 633.6,722.4 634.1,718.6 634.6,716.9 635.1,715.7 635.6,713.7 636.0,710.8 636.5,707.8 637.0,706.4 637.5,708.9 638.0,712.9 638.5,717.0 639.0,720.6 639.5,723.5 640.0,726.0 640.5,727.8 641.0,729.5 641.5,730.4 642.0,730.7 642.5,730.6 643.0,729.8 643.5,727.0 644.0,724.0 644.4,721.9 644.9,720.5 645.4,719.2 645.9,717.5 646.4,716.8 646.9,716.7 647.4,716.3 647.9,714.9 648.4,713.1 648.9,712.6 649.4,715.2 649.9,719.7 650.4,723.3 650.9,727.1 651.4,731.1 651.9,734.5 652.4,737.0 652.8,738.4 653.3,738.7 653.8,738.8 654.3,740.2 654.8,742.8 655.3,745.8 655.8,748.8 656.3,751.8 656.8,754.2 657.3,754.3 657.8,752.4 658.3,749.9 658.8,747.0 659.3,743.9 659.8,742.0 660.3,742.5 660.7,744.4 661.2,745.3 661.7,744.8 662.2,743.7 662.7,742.8 663.2,742.3 663.7,742.5 664.2,743.0 664.7,743.1" class="ln" stroke="#000000" stroke-width="1.9"/>
<polyline points="417.7,788.1 418.2,786.7 418.7,783.8 419.2,781.6 419.7,779.5 420.2,780.2 420.7,782.7 421.2,784.1 421.7,786.0 422.1,789.3 422.6,784.1 423.1,781.4 423.6,783.0 424.1,785.0 424.6,786.5 425.1,787.0 425.6,786.0 426.1,786.2 426.6,786.6 427.1,785.0 427.6,782.1 428.1,781.2 428.6,784.0 429.1,790.3 429.6,782.8 430.1,775.8 430.5,773.6 431.0,778.0 431.5,786.6 432.0,790.5 432.5,789.7 433.0,786.7 433.5,788.4 434.0,787.6 434.5,784.8 435.0,786.2 435.5,784.3 436.0,782.7 436.5,786.9 437.0,784.2 437.5,778.9 438.0,779.5 438.4,782.9 438.9,785.7 439.4,787.1 439.9,788.1 440.4,790.4 440.9,787.7 441.4,786.5 441.9,785.8 442.4,789.7 442.9,789.1 443.4,783.0 443.9,780.0 444.4,785.9 444.9,785.9 445.4,779.9 445.9,777.7 446.4,780.3 446.8,785.3 447.3,787.8 447.8,790.7 448.3,788.0 448.8,784.8 449.3,782.0 449.8,782.6 450.3,787.7 450.8,787.2 451.3,784.5 451.8,782.2 452.3,783.1 452.8,787.0 453.3,784.6 453.8,779.4 454.3,777.1 454.8,778.7 455.2,781.4 455.7,781.0 456.2,780.3 456.7,784.0 457.2,779.1 457.7,771.2 458.2,770.8 458.7,777.6 459.2,779.2 459.7,777.6 460.2,781.7 460.7,787.3 461.2,785.8 461.7,783.6 462.2,780.5 462.7,780.5 463.1,786.5 463.6,788.0 464.1,788.1 464.6,789.8 465.1,786.0 465.6,781.4 466.1,775.9 466.6,772.8 467.1,773.9 467.6,778.8 468.1,784.9 468.6,788.0 469.1,783.4 469.6,783.2 470.1,787.1 470.6,788.4 471.1,788.7 471.5,783.8 472.0,778.3 472.5,779.1 473.0,783.4 473.5,784.0 474.0,781.6 474.5,779.6 475.0,780.8 475.5,783.1 476.0,777.8 476.5,778.6 477.0,786.4 477.5,789.3 478.0,788.8 478.5,789.1 479.0,788.6 479.4,783.9 479.9,780.9 480.4,783.5 480.9,786.3 481.4,788.6 481.9,788.0 482.4,786.4 482.9,786.1 483.4,788.5 483.9,785.1 484.4,774.2 484.9,769.7 485.4,772.1 485.9,776.6 486.4,777.1 486.9,777.4 487.4,780.1 487.8,782.3 488.3,782.6 488.8,779.8 489.3,775.5 489.8,774.3 490.3,775.9 490.8,777.1 491.3,778.2 491.8,781.9 492.3,787.2 492.8,787.2 493.3,789.0 493.8,787.8 494.3,788.6 494.8,783.2 495.3,783.7 495.8,786.1 496.2,781.1 496.7,780.4 497.2,782.2 497.7,784.0 498.2,784.3 498.7,782.7 499.2,782.7 499.7,784.2 500.2,787.5 500.7,789.4 501.2,786.2 501.7,783.4 502.2,780.5 502.7,781.2 503.2,784.6 503.7,782.6 504.1,782.3 504.6,787.6 505.1,786.0 505.6,784.9 506.1,787.0 506.6,787.3 507.1,788.5 507.6,787.8 508.1,784.1 508.6,780.9 509.1,777.8 509.6,776.4 510.1,781.3 510.6,783.1 511.1,782.8 511.6,787.0 512.1,785.6 512.5,781.9 513.0,779.4 513.5,777.7 514.0,776.9 514.5,778.4 515.0,778.2 515.5,778.1 516.0,779.2 516.5,779.7 517.0,779.8 517.5,781.0 518.0,779.9 518.5,781.6 519.0,787.9 519.5,786.3 520.0,785.0 520.5,783.9 520.9,786.4 521.4,789.7 521.9,788.7 522.4,787.3 522.9,786.1 523.4,785.8 523.9,786.2 524.4,783.9 524.9,784.2 525.4,784.9 525.9,786.7 526.4,789.8 526.9,789.0 527.4,787.9 527.9,786.2 528.4,787.4 528.9,789.8 529.3,789.6 529.8,786.0 530.3,786.4 530.8,789.8 531.3,787.7 531.8,788.8 532.3,788.8 532.8,788.5 533.3,787.5 533.8,789.8 534.3,786.1 534.8,785.8 535.3,787.4 535.8,784.8 536.3,781.8 536.8,785.0 537.2,787.6 537.7,786.2 538.2,785.5 538.7,786.1 539.2,785.9 539.7,787.2 540.2,788.8 540.7,785.0 541.2,783.8 541.7,786.6 542.2,787.2 542.7,789.1 543.2,782.6 543.7,779.7 544.2,783.1 544.7,787.6 545.2,779.1 545.6,777.9 546.1,782.4 546.6,784.3 547.1,782.8 547.6,780.5 548.1,781.4 548.6,784.8 549.1,785.3 549.6,784.1 550.1,785.0 550.6,789.7 551.1,787.2 551.6,785.5 552.1,785.6 552.6,786.8 553.1,786.0 553.5,784.1 554.0,780.1 554.5,777.4 555.0,781.8 555.5,787.1 556.0,786.4 556.5,783.6 557.0,781.2 557.5,782.4 558.0,781.7 558.5,779.9 559.0,782.5 559.5,788.7 560.0,788.9 560.5,788.3 561.0,786.1 561.5,783.5 561.9,782.9 562.4,784.5 562.9,785.1 563.4,784.8 563.9,785.8 564.4,786.4 564.9,787.7 565.4,789.7 565.9,784.3 566.4,781.5 566.9,783.6 567.4,785.6 567.9,787.4 568.4,787.3 568.9,783.9 569.4,785.6 569.9,789.0 570.3,786.4 570.8,785.8 571.3,783.8 571.8,782.5 572.3,783.2 572.8,781.6 573.3,781.6 573.8,784.8 574.3,786.1 574.8,784.7 575.3,781.7 575.8,778.9 576.3,782.2 576.8,788.7 577.3,783.4 577.8,782.1 578.2,785.3 578.7,783.3 579.2,775.8 579.7,773.1 580.2,776.1 580.7,779.0 581.2,778.5 581.7,777.4 582.2,776.8 582.7,778.5 583.2,782.9 583.7,784.4 584.2,783.7 584.7,786.5 585.2,788.7 585.7,783.9 586.2,779.7 586.6,779.4 587.1,781.4 587.6,786.4 588.1,787.5 588.6,787.1 589.1,781.8 589.6,776.6 590.1,773.8 590.6,772.0 591.1,773.7 591.6,778.5 592.1,782.7 592.6,787.0 593.1,782.7 593.6,781.4 594.1,785.0 594.6,781.6 595.0,777.0 595.5,780.1 596.0,787.0 596.5,781.4 597.0,780.2 597.5,782.7 598.0,782.4 598.5,784.0 599.0,787.2 599.5,785.8 600.0,784.1 600.5,781.2 601.0,781.5 601.5,789.5 602.0,785.1 602.5,782.8 603.0,781.4 603.4,781.6 603.9,784.0 604.4,786.7 604.9,785.9 605.4,784.3 605.9,784.2 606.4,785.4 606.9,784.4 607.4,787.2 607.9,788.6 608.4,788.1 608.9,785.0 609.4,776.5 609.9,772.3 610.4,775.9 610.9,785.6 611.3,786.1 611.8,783.0 612.3,787.7 612.8,785.9 613.3,783.3 613.8,786.4 614.3,787.9 614.8,784.7 615.3,781.9 615.8,784.0 616.3,787.9 616.8,788.5 617.3,786.5 617.8,788.0 618.3,787.4 618.8,785.8 619.3,787.0 619.7,789.5 620.2,784.0 620.7,783.1 621.2,779.7 621.7,775.9 622.2,780.6 622.7,787.0 623.2,785.1 623.7,782.7 624.2,783.4 624.7,786.8 625.2,784.7 625.7,782.6 626.2,782.1 626.7,778.5 627.2,777.1 627.7,781.6 628.1,788.2 628.6,787.2 629.1,782.8 629.6,779.5 630.1,779.5 630.6,780.5 631.1,781.3 631.6,783.9 632.1,790.1 632.6,782.7 633.1,782.4 633.6,785.5 634.1,785.2 634.6,786.5 635.1,789.0 635.6,780.5 636.0,773.7 636.5,770.9 637.0,770.0 637.5,771.4 638.0,774.1 638.5,775.7 639.0,778.0 639.5,780.0 640.0,776.7 640.5,780.1 641.0,789.3 641.5,781.1 642.0,783.3 642.5,787.2 643.0,787.4 643.5,786.0 644.0,787.4 644.4,788.5 644.9,785.9 645.4,788.8 645.9,785.4 646.4,780.3 646.9,779.0 647.4,781.4 647.9,780.8 648.4,778.0 648.9,777.9 649.4,782.9 649.9,788.2 650.4,788.2 650.9,781.2 651.4,772.8 651.9,773.9 652.4,783.7 652.8,786.1 653.3,784.5 653.8,782.5 654.3,784.0 654.8,787.9 655.3,781.6 655.8,774.7 656.3,770.7 656.8,768.9 657.3,768.6 657.8,771.6 658.3,780.6 658.8,790.2 659.3,785.7 659.8,781.4 660.3,779.7 660.7,779.6 661.2,779.4 661.7,780.2 662.2,783.6 662.7,786.5 663.2,786.9 663.7,786.4 664.2,782.3 664.7,778.7" class="ln" stroke="#0000ff" stroke-width="1.9"/>
<polyline points="417.7,778.7 418.2,778.4 418.7,782.7 419.2,787.6 419.7,784.4 420.2,776.2 420.7,774.8 421.2,781.4 421.7,784.7 422.1,783.3 422.6,784.6 423.1,785.2 423.6,789.1 424.1,786.1 424.6,780.4 425.1,777.1 425.6,779.5 426.1,782.6 426.6,782.8 427.1,784.7 427.6,783.9 428.1,784.0 428.6,780.2 429.1,779.4 429.6,780.3 430.1,777.8 430.5,777.1 431.0,780.7 431.5,784.4 432.0,782.7 432.5,783.3 433.0,783.1 433.5,780.8 434.0,781.6 434.5,787.5 435.0,790.1 435.5,786.1 436.0,781.3 436.5,781.6 437.0,785.5 437.5,785.3 438.0,780.9 438.4,779.9 438.9,781.6 439.4,780.4 439.9,785.3 440.4,784.5 440.9,780.0 441.4,782.4 441.9,782.3 442.4,786.2 442.9,788.5 443.4,784.3 443.9,781.1 444.4,781.2 444.9,785.1 445.4,786.0 445.9,786.6 446.4,788.6 446.8,788.0 447.3,782.5 447.8,777.9 448.3,777.9 448.8,782.4 449.3,787.0 449.8,788.0 450.3,786.9 450.8,784.4 451.3,783.0 451.8,785.2 452.3,790.2 452.8,787.6 453.3,788.6 453.8,788.6 454.3,786.6 454.8,784.4 455.2,776.7 455.7,772.4 456.2,777.4 456.7,783.9 457.2,785.4 457.7,785.9 458.2,787.5 458.7,785.6 459.2,787.7 459.7,786.9 460.2,782.1 460.7,782.2 461.2,786.8 461.7,789.6 462.2,788.4 462.7,786.9 463.1,787.3 463.6,788.0 464.1,786.9 464.6,786.6 465.1,786.3 465.6,783.8 466.1,783.1 466.6,783.4 467.1,779.5 467.6,780.4 468.1,787.1 468.6,788.0 469.1,783.2 469.6,779.4 470.1,777.7 470.6,778.7 471.1,781.2 471.5,782.8 472.0,782.6 472.5,783.0 473.0,783.2 473.5,785.8 474.0,788.9 474.5,782.3 475.0,779.8 475.5,779.3 476.0,778.4 476.5,781.2 477.0,785.7 477.5,785.3 478.0,786.3 478.5,787.8 479.0,788.0 479.4,789.5 479.9,789.2 480.4,784.3 480.9,782.4 481.4,784.0 481.9,782.9 482.4,778.9 482.9,781.3 483.4,787.3 483.9,785.0 484.4,787.5 484.9,783.0 485.4,780.6 485.9,785.1 486.4,786.8 486.9,788.6 487.4,787.9 487.8,783.9 488.3,780.7 488.8,778.4 489.3,777.0 489.8,778.7 490.3,784.8 490.8,790.3 491.3,787.6 491.8,785.1 492.3,780.8 492.8,777.4 493.3,779.8 493.8,784.6 494.3,784.5 494.8,781.5 495.3,779.2 495.8,776.3 496.2,775.6 496.7,779.3 497.2,781.7 497.7,780.2 498.2,778.3 498.7,781.0 499.2,781.3 499.7,778.1 500.2,783.7 500.7,786.7 501.2,780.1 501.7,783.9 502.2,784.9 502.7,779.9 503.2,780.0 503.7,780.2 504.1,781.5 504.6,783.1 505.1,786.1 505.6,786.1 506.1,782.1 506.6,779.8 507.1,778.8 507.6,783.6 508.1,790.0 508.6,785.0 509.1,782.0 509.6,778.0 510.1,778.8 510.6,784.4 511.1,788.0 511.6,789.4 512.1,787.8 512.5,786.9 513.0,787.3 513.5,787.7 514.0,787.8 514.5,785.8 515.0,782.2 515.5,781.7 516.0,779.1 516.5,779.9 517.0,785.7 517.5,786.6 518.0,783.1 518.5,778.9 519.0,774.6 519.5,772.1 520.0,775.1 520.5,775.6 520.9,771.4 521.4,771.3 521.9,776.8 522.4,785.7 522.9,781.8 523.4,778.6 523.9,781.2 524.4,783.4 524.9,784.7 525.4,788.8 525.9,789.0 526.4,786.6 526.9,786.7 527.4,788.1 527.9,789.4 528.4,789.4 528.9,788.9 529.3,786.3 529.8,783.0 530.3,783.4 530.8,786.9 531.3,787.5 531.8,785.0 532.3,785.5 532.8,788.6 533.3,785.9 533.8,783.9 534.3,784.3 534.8,782.1 535.3,780.7 535.8,777.1 536.3,770.6 536.8,770.9 537.2,777.7 537.7,782.7 538.2,784.8 538.7,784.6 539.2,782.1 539.7,779.0 540.2,779.9 540.7,782.9 541.2,782.0 541.7,782.6 542.2,784.3 542.7,784.1 543.2,784.2 543.7,788.0 544.2,787.7 544.7,783.3 545.2,785.1 545.6,788.4 546.1,782.6 546.6,785.4 547.1,787.9 547.6,782.6 548.1,780.1 548.6,781.0 549.1,786.2 549.6,787.9 550.1,788.5 550.6,789.1 551.1,786.9 551.6,785.3 552.1,784.7 552.6,787.4 553.1,789.7 553.5,788.5 554.0,788.0 554.5,789.4 555.0,783.0 555.5,780.2 556.0,782.3 556.5,788.6 557.0,785.4 557.5,778.8 558.0,777.3 558.5,779.9 559.0,781.3 559.5,779.6 560.0,775.3 560.5,772.6 561.0,774.6 561.5,777.4 561.9,779.5 562.4,784.2 562.9,785.9 563.4,783.6 563.9,778.3 564.4,774.7 564.9,778.8 565.4,786.3 565.9,789.8 566.4,790.8 566.9,789.6 567.4,789.8 567.9,786.4 568.4,783.9 568.9,786.1 569.4,786.1 569.9,779.8 570.3,779.2 570.8,784.7 571.3,784.8 571.8,780.8 572.3,779.0 572.8,781.3 573.3,785.9 573.8,788.8 574.3,786.3 574.8,786.4 575.3,789.6 575.8,785.6 576.3,786.5 576.8,790.3 577.3,785.5 577.8,785.1 578.2,789.2 578.7,783.3 579.2,783.0 579.7,786.4 580.2,787.2 580.7,784.8 581.2,783.0 581.7,783.4 582.2,785.8 582.7,787.7 583.2,786.7 583.7,781.3 584.2,778.7 584.7,775.6 585.2,774.4 585.7,781.4 586.2,789.9 586.6,786.6 587.1,782.9 587.6,783.4 588.1,784.6 588.6,783.8 589.1,786.0 589.6,787.8 590.1,787.4 590.6,785.6 591.1,783.9 591.6,782.2 592.1,779.6 592.6,776.1 593.1,772.9 593.6,774.5 594.1,780.1 594.6,784.6 595.0,784.4 595.5,783.3 596.0,783.5 596.5,783.7 597.0,785.1 597.5,786.4 598.0,786.7 598.5,783.7 599.0,777.0 599.5,773.0 600.0,775.5 600.5,779.3 601.0,779.4 601.5,780.3 602.0,784.6 602.5,787.0 603.0,788.2 603.4,788.8 603.9,787.6 604.4,786.7 604.9,786.1 605.4,786.0 605.9,786.1 606.4,784.7 606.9,780.1 607.4,776.9 607.9,781.6 608.4,789.5 608.9,785.7 609.4,784.0 609.9,782.7 610.4,781.7 610.9,780.7 611.3,779.9 611.8,782.2 612.3,787.5 612.8,786.4 613.3,785.2 613.8,786.8 614.3,788.9 614.8,786.7 615.3,783.6 615.8,784.6 616.3,788.4 616.8,785.7 617.3,783.1 617.8,785.2 618.3,785.5 618.8,788.6 619.3,785.8 619.7,783.2 620.2,786.1 620.7,785.3 621.2,783.8 621.7,783.3 622.2,786.2 622.7,789.3 623.2,787.2 623.7,786.3 624.2,788.3 624.7,783.9 625.2,781.7 625.7,779.5 626.2,777.3 626.7,775.9 627.2,776.7 627.7,781.0 628.1,783.4 628.6,782.5 629.1,782.7 629.6,783.7 630.1,783.2 630.6,783.4 631.1,783.2 631.6,781.1 632.1,780.3 632.6,781.4 633.1,782.5 633.6,783.4 634.1,783.3 634.6,780.3 635.1,781.1 635.6,786.3 636.0,789.4 636.5,787.6 637.0,782.2 637.5,777.6 638.0,774.6 638.5,773.1 639.0,775.6 639.5,780.2 640.0,783.1 640.5,783.4 641.0,781.5 641.5,782.1 642.0,783.8 642.5,785.5 643.0,778.9 643.5,778.8 644.0,785.4 644.4,784.9 644.9,782.3 645.4,782.9 645.9,783.9 646.4,788.4 646.9,784.4 647.4,780.7 647.9,779.0 648.4,779.0 648.9,782.1 649.4,783.2 649.9,780.6 650.4,779.7 650.9,784.1 651.4,784.5 651.9,779.0 652.4,778.5 652.8,784.1 653.3,786.8 653.8,782.3 654.3,781.6 654.8,782.1 655.3,781.2 655.8,781.0 656.3,779.7 656.8,779.3 657.3,783.4 657.8,787.5 658.3,785.5 658.8,782.7 659.3,784.0 659.8,783.4 660.3,781.4 660.7,786.6 661.2,787.4 661.7,785.7 662.2,786.1 662.7,786.7 663.2,788.7 663.7,787.7 664.2,785.1 664.7,783.7" class="ln" stroke="#0000ff" stroke-width="1.9"/>
<polyline points="417.7,784.3 418.2,785.8 418.7,780.8 419.2,777.1 419.7,781.5 420.2,787.6 420.7,783.5 421.2,782.8 421.7,786.3 422.1,789.7 422.6,784.8 423.1,785.7 423.6,784.7 424.1,784.0 424.6,789.6 425.1,785.2 425.6,784.8 426.1,787.3 426.6,783.0 427.1,782.8 427.6,788.4 428.1,784.5 428.6,782.5 429.1,781.8 429.6,781.8 430.1,786.0 430.5,786.0 431.0,784.8 431.5,788.0 432.0,785.8 432.5,783.1 433.0,785.5 433.5,787.1 434.0,779.6 434.5,781.9 435.0,784.5 435.5,784.1 436.0,787.6 436.5,783.2 437.0,781.1 437.5,781.2 438.0,782.1 438.4,783.6 438.9,783.7 439.4,782.8 439.9,783.4 440.4,786.5 440.9,788.7 441.4,783.3 441.9,784.0 442.4,787.1 442.9,787.7 443.4,786.6 443.9,785.2 444.4,784.7 444.9,783.9 445.4,782.5 445.9,783.7 446.4,781.5 446.8,783.0 447.3,784.1 447.8,781.8 448.3,778.2 448.8,779.5 449.3,787.8 449.8,782.6 450.3,780.0 450.8,786.4 451.3,789.7 451.8,788.4 452.3,788.4 452.8,784.9 453.3,784.6 453.8,788.1 454.3,789.1 454.8,788.6 455.2,782.6 455.7,780.3 456.2,780.7 456.7,780.2 457.2,779.5 457.7,781.4 458.2,785.6 458.7,785.9 459.2,784.6 459.7,786.3 460.2,786.5 460.7,778.3 461.2,773.6 461.7,778.1 462.2,784.0 462.7,786.8 463.1,787.5 463.6,787.2 464.1,786.3 464.6,786.0 465.1,788.6 465.6,789.8 466.1,789.6 466.6,785.0 467.1,784.4 467.6,786.4 468.1,787.0 468.6,788.3 469.1,787.8 469.6,787.0 470.1,785.9 470.6,785.3 471.1,789.6 471.5,787.0 472.0,786.3 472.5,786.9 473.0,786.9 473.5,785.1 474.0,781.2 474.5,780.9 475.0,782.5 475.5,786.2 476.0,788.5 476.5,784.6 477.0,784.9 477.5,780.8 478.0,775.2 478.5,775.5 479.0,781.7 479.4,787.2 479.9,790.0 480.4,789.1 480.9,788.2 481.4,785.2 481.9,782.6 482.4,783.6 482.9,784.2 483.4,781.3 483.9,784.6 484.4,788.5 484.9,782.6 485.4,781.5 485.9,783.9 486.4,783.1 486.9,783.6 487.4,786.3 487.8,786.7 488.3,787.4 488.8,788.8 489.3,788.4 489.8,788.0 490.3,787.9 490.8,788.9 491.3,784.7 491.8,783.2 492.3,784.0 492.8,787.4 493.3,786.6 493.8,785.7 494.3,787.6 494.8,785.5 495.3,785.9 495.8,788.5 496.2,788.1 496.7,784.0 497.2,781.6 497.7,781.2 498.2,785.4 498.7,786.7 499.2,783.5 499.7,787.4 500.2,788.2 500.7,787.2 501.2,787.0 501.7,786.6 502.2,788.1 502.7,787.6 503.2,783.3 503.7,778.9 504.1,780.1 504.6,785.6 505.1,783.1 505.6,781.9 506.1,783.5 506.6,785.1 507.1,789.9 507.6,786.2 508.1,785.3 508.6,785.9 509.1,785.7 509.6,785.1 510.1,786.1 510.6,785.3 511.1,775.4 511.6,772.5 512.1,772.7 512.5,770.5 513.0,773.6 513.5,783.0 514.0,789.2 514.5,786.4 515.0,786.5 515.5,788.5 516.0,790.0 516.5,788.5 517.0,783.9 517.5,779.2 518.0,776.8 518.5,777.9 519.0,781.3 519.5,779.5 520.0,778.6 520.5,781.0 520.9,782.1 521.4,780.5 521.9,781.7 522.4,780.9 522.9,777.6 523.4,774.8 523.9,774.9 524.4,778.0 524.9,780.7 525.4,781.2 525.9,781.8 526.4,783.2 526.9,788.6 527.4,785.8 527.9,784.1 528.4,781.7 528.9,778.6 529.3,777.6 529.8,778.0 530.3,777.4 530.8,777.9 531.3,779.4 531.8,777.6 532.3,775.4 532.8,776.7 533.3,780.4 533.8,782.4 534.3,783.0 534.8,780.8 535.3,777.1 535.8,776.2 536.3,778.9 536.8,785.1 537.2,789.7 537.7,786.0 538.2,786.8 538.7,786.1 539.2,783.1 539.7,781.0 540.2,781.2 540.7,778.7 541.2,776.8 541.7,780.3 542.2,774.1 542.7,774.4 543.2,778.0 543.7,780.9 544.2,781.2 544.7,778.3 545.2,775.4 545.6,776.5 546.1,780.5 546.6,784.6 547.1,787.3 547.6,789.1 548.1,787.9 548.6,789.8 549.1,788.7 549.6,789.8 550.1,785.9 550.6,784.7 551.1,785.2 551.6,785.8 552.1,786.9 552.6,788.8 553.1,786.5 553.5,785.1 554.0,786.4 554.5,784.8 555.0,784.6 555.5,783.5 556.0,779.2 556.5,776.2 557.0,777.0 557.5,778.3 558.0,780.4 558.5,781.9 559.0,782.8 559.5,784.4 560.0,786.6 560.5,787.3 561.0,788.4 561.5,786.2 561.9,781.6 562.4,781.6 562.9,783.6 563.4,786.1 563.9,788.2 564.4,786.6 564.9,783.3 565.4,783.0 565.9,785.4 566.4,787.6 566.9,785.3 567.4,785.9 567.9,787.2 568.4,783.3 568.9,782.2 569.4,784.2 569.9,782.9 570.3,778.7 570.8,778.7 571.3,780.8 571.8,782.3 572.3,786.3 572.8,788.5 573.3,787.5 573.8,782.9 574.3,772.7 574.8,763.5 575.3,764.2 575.8,771.9 576.3,776.5 576.8,777.2 577.3,779.0 577.8,783.1 578.2,786.2 578.7,789.3 579.2,788.3 579.7,786.6 580.2,786.5 580.7,784.7 581.2,787.8 581.7,788.8 582.2,786.1 582.7,782.3 583.2,780.8 583.7,783.9 584.2,787.0 584.7,786.9 585.2,784.9 585.7,786.9 586.2,788.3 586.6,784.5 587.1,786.9 587.6,788.5 588.1,786.7 588.6,782.1 589.1,784.7 589.6,788.5 590.1,787.6 590.6,789.2 591.1,788.5 591.6,783.7 592.1,781.7 592.6,780.3 593.1,780.2 593.6,780.4 594.1,780.0 594.6,779.7 595.0,784.1 595.5,787.5 596.0,785.1 596.5,783.3 597.0,780.1 597.5,779.1 598.0,781.6 598.5,782.1 599.0,784.5 599.5,788.8 600.0,789.8 600.5,787.0 601.0,785.3 601.5,787.1 602.0,786.1 602.5,784.0 603.0,783.6 603.4,786.1 603.9,787.1 604.4,787.6 604.9,786.8 605.4,783.7 605.9,787.6 606.4,790.6 606.9,787.9 607.4,785.4 607.9,781.9 608.4,781.4 608.9,781.8 609.4,782.4 609.9,783.1 610.4,780.2 610.9,776.0 611.3,774.7 611.8,776.8 612.3,781.5 612.8,787.8 613.3,784.5 613.8,786.4 614.3,787.7 614.8,789.0 615.3,785.3 615.8,781.9 616.3,780.0 616.8,777.9 617.3,777.0 617.8,781.3 618.3,788.1 618.8,783.6 619.3,781.1 619.7,782.4 620.2,784.8 620.7,788.2 621.2,783.4 621.7,782.2 622.2,787.0 622.7,789.6 623.2,787.2 623.7,785.3 624.2,786.6 624.7,788.8 625.2,785.8 625.7,780.4 626.2,775.2 626.7,773.0 627.2,774.5 627.7,779.6 628.1,783.9 628.6,785.6 629.1,789.1 629.6,787.7 630.1,785.7 630.6,783.6 631.1,785.3 631.6,786.8 632.1,783.5 632.6,781.1 633.1,784.7 633.6,778.7 634.1,774.6 634.6,779.0 635.1,786.5 635.6,784.4 636.0,776.4 636.5,774.8 637.0,778.5 637.5,783.9 638.0,781.2 638.5,776.2 639.0,775.4 639.5,777.5 640.0,783.4 640.5,787.5 641.0,785.1 641.5,783.1 642.0,785.2 642.5,786.9 643.0,788.3 643.5,789.9 644.0,788.1 644.4,787.4 644.9,786.4 645.4,785.5 645.9,787.4 646.4,787.8 646.9,784.9 647.4,786.8 647.9,788.3 648.4,785.0 648.9,787.3 649.4,786.3 649.9,785.1 650.4,786.5 650.9,784.0 651.4,783.5 651.9,784.1 652.4,782.8 652.8,783.9 653.3,785.8 653.8,784.5 654.3,784.1 654.8,785.4 655.3,785.1 655.8,783.6 656.3,783.3 656.8,783.3 657.3,782.4 657.8,780.7 658.3,779.9 658.8,781.3 659.3,785.6 659.8,790.2 660.3,784.5 660.7,780.4 661.2,780.0 661.7,784.2 662.2,788.6 662.7,784.5 663.2,782.6 663.7,785.0 664.2,787.4 664.7,784.6" class="ln" stroke="#0000ff" stroke-width="1.9"/>
<polyline points="417.7,788.2 418.2,788.6 418.7,784.8 419.2,780.3 419.7,780.0 420.2,781.6 420.7,785.6 421.2,788.2 421.7,783.4 422.1,782.8 422.6,785.7 423.1,787.4 423.6,787.7 424.1,787.5 424.6,788.0 425.1,788.1 425.6,782.6 426.1,781.0 426.6,781.1 427.1,782.8 427.6,785.8 428.1,784.9 428.6,782.9 429.1,782.5 429.6,782.7 430.1,782.4 430.5,784.3 431.0,787.5 431.5,788.5 432.0,781.6 432.5,778.5 433.0,780.6 433.5,783.3 434.0,783.8 434.5,786.4 435.0,789.6 435.5,785.6 436.0,788.0 436.5,788.9 437.0,790.3 437.5,785.0 438.0,783.5 438.4,784.3 438.9,784.8 439.4,782.8 439.9,778.5 440.4,776.3 440.9,778.7 441.4,784.2 441.9,786.8 442.4,785.5 442.9,787.3 443.4,780.7 443.9,772.9 444.4,768.0 444.9,770.9 445.4,776.9 445.9,777.8 446.4,777.1 446.8,780.1 447.3,784.2 447.8,784.0 448.3,784.0 448.8,783.9 449.3,781.7 449.8,781.0 450.3,780.2 450.8,782.1 451.3,784.0 451.8,784.1 452.3,784.3 452.8,783.6 453.3,780.9 453.8,779.2 454.3,782.1 454.8,782.3 455.2,780.4 455.7,785.2 456.2,787.8 456.7,784.7 457.2,785.8 457.7,787.8 458.2,783.1 458.7,779.4 459.2,780.7 459.7,786.0 460.2,789.7 460.7,787.3 461.2,788.9 461.7,788.9 462.2,785.7 462.7,783.5 463.1,784.5 463.6,787.3 464.1,788.1 464.6,785.3 465.1,782.2 465.6,782.9 466.1,785.8 466.6,787.0 467.1,788.3 467.6,789.0 468.1,783.7 468.6,776.0 469.1,771.5 469.6,776.9 470.1,785.8 470.6,784.5 471.1,783.8 471.5,782.9 472.0,782.3 472.5,781.8 473.0,785.6 473.5,789.8 474.0,786.5 474.5,786.1 475.0,788.7 475.5,782.8 476.0,784.5 476.5,786.9 477.0,785.5 477.5,785.9 478.0,789.9 478.5,785.0 479.0,783.2 479.4,783.7 479.9,782.9 480.4,781.8 480.9,780.5 481.4,780.5 481.9,781.9 482.4,784.0 482.9,786.4 483.4,788.4 483.9,785.7 484.4,779.1 484.9,776.3 485.4,778.6 485.9,782.3 486.4,782.0 486.9,782.3 487.4,785.7 487.8,787.3 488.3,787.5 488.8,785.1 489.3,775.9 489.8,769.9 490.3,771.6 490.8,779.5 491.3,787.5 491.8,786.4 492.3,782.2 492.8,783.5 493.3,785.5 493.8,785.7 494.3,787.9 494.8,785.9 495.3,782.1 495.8,784.8 496.2,787.4 496.7,781.6 497.2,782.1 497.7,787.0 498.2,784.3 498.7,774.5 499.2,769.4 499.7,771.6 500.2,778.6 500.7,784.3 501.2,787.9 501.7,782.6 502.2,780.3 502.7,785.6 503.2,787.8 503.7,786.3 504.1,782.0 504.6,783.3 505.1,781.4 505.6,786.9 506.1,786.9 506.6,783.9 507.1,788.8 507.6,779.8 508.1,774.7 508.6,776.4 509.1,783.2 509.6,786.9 510.1,779.3 510.6,777.7 511.1,784.5 511.6,787.0 512.1,781.7 512.5,782.1 513.0,786.6 513.5,787.7 514.0,785.9 514.5,786.4 515.0,788.8 515.5,786.3 516.0,786.0 516.5,784.0 517.0,781.7 517.5,781.7 518.0,782.5 518.5,784.4 519.0,782.6 519.5,779.2 520.0,779.6 520.5,785.2 520.9,786.6 521.4,780.1 521.9,776.6 522.4,780.3 522.9,787.7 523.4,784.7 523.9,785.3 524.4,789.2 524.9,788.1 525.4,790.1 525.9,784.2 526.4,784.3 526.9,789.4 527.4,781.0 527.9,777.5 528.4,780.6 528.9,782.2 529.3,784.1 529.8,783.8 530.3,779.7 530.8,776.8 531.3,774.8 531.8,773.2 532.3,775.5 532.8,780.5 533.3,785.3 533.8,788.7 534.3,788.8 534.8,787.3 535.3,785.7 535.8,784.7 536.3,779.2 536.8,780.9 537.2,784.0 537.7,785.2 538.2,785.4 538.7,784.2 539.2,787.3 539.7,785.9 540.2,782.6 540.7,783.4 541.2,788.4 541.7,788.7 542.2,784.4 542.7,779.1 543.2,776.2 543.7,777.2 544.2,779.4 544.7,781.9 545.2,785.2 545.6,786.2 546.1,784.8 546.6,784.6 547.1,784.9 547.6,784.1 548.1,782.5 548.6,780.4 549.1,778.7 549.6,779.0 550.1,784.7 550.6,788.1 551.1,787.1 551.6,787.5 552.1,783.5 552.6,784.2 553.1,784.5 553.5,781.4 554.0,778.0 554.5,776.9 555.0,776.5 555.5,777.4 556.0,781.3 556.5,784.7 557.0,785.3 557.5,786.7 558.0,788.0 558.5,789.6 559.0,789.6 559.5,787.6 560.0,787.6 560.5,790.6 561.0,783.6 561.5,775.1 561.9,770.0 562.4,771.3 562.9,774.2 563.4,775.5 563.9,780.4 564.4,788.7 564.9,789.7 565.4,786.0 565.9,785.1 566.4,788.1 566.9,788.7 567.4,786.4 567.9,780.4 568.4,777.6 568.9,777.6 569.4,780.4 569.9,784.5 570.3,786.2 570.8,782.1 571.3,778.8 571.8,778.5 572.3,777.7 572.8,777.7 573.3,780.7 573.8,780.8 574.3,778.7 574.8,778.8 575.3,783.5 575.8,785.8 576.3,782.9 576.8,782.4 577.3,782.3 577.8,782.4 578.2,783.3 578.7,781.1 579.2,780.0 579.7,783.5 580.2,787.4 580.7,786.7 581.2,785.5 581.7,790.3 582.2,781.2 582.7,776.3 583.2,782.0 583.7,786.5 584.2,785.5 584.7,784.2 585.2,783.1 585.7,785.0 586.2,789.0 586.6,777.2 587.1,768.9 587.6,766.7 588.1,767.5 588.6,772.3 589.1,781.0 589.6,785.8 590.1,788.7 590.6,786.5 591.1,782.2 591.6,782.9 592.1,785.0 592.6,784.1 593.1,781.9 593.6,782.0 594.1,782.7 594.6,783.8 595.0,783.1 595.5,782.4 596.0,784.6 596.5,786.7 597.0,786.4 597.5,783.9 598.0,780.9 598.5,778.8 599.0,779.6 599.5,781.9 600.0,778.9 600.5,775.1 601.0,778.4 601.5,788.4 602.0,784.4 602.5,782.8 603.0,785.5 603.4,781.5 603.9,778.0 604.4,774.0 604.9,771.5 605.4,774.3 605.9,778.9 606.4,780.8 606.9,779.4 607.4,781.0 607.9,783.0 608.4,784.7 608.9,788.1 609.4,787.7 609.9,781.8 610.4,777.1 610.9,778.9 611.3,780.4 611.8,781.2 612.3,784.5 612.8,783.2 613.3,782.0 613.8,785.0 614.3,786.9 614.8,784.7 615.3,787.1 615.8,788.8 616.3,787.7 616.8,790.5 617.3,788.7 617.8,790.2 618.3,787.0 618.8,785.5 619.3,785.8 619.7,784.9 620.2,779.6 620.7,777.7 621.2,781.0 621.7,783.9 622.2,783.1 622.7,778.0 623.2,775.2 623.7,777.5 624.2,782.6 624.7,785.8 625.2,787.0 625.7,783.6 626.2,782.0 626.7,783.3 627.2,783.5 627.7,781.9 628.1,780.7 628.6,779.1 629.1,778.0 629.6,782.6 630.1,787.1 630.6,780.5 631.1,782.1 631.6,784.9 632.1,787.0 632.6,786.1 633.1,783.9 633.6,785.7 634.1,786.2 634.6,783.7 635.1,781.9 635.6,782.0 636.0,785.4 636.5,783.4 637.0,777.1 637.5,776.4 638.0,779.8 638.5,781.9 639.0,782.5 639.5,787.5 640.0,787.9 640.5,786.9 641.0,785.8 641.5,781.7 642.0,778.9 642.5,783.4 643.0,787.8 643.5,786.1 644.0,787.6 644.4,782.0 644.9,782.2 645.4,784.8 645.9,785.7 646.4,787.3 646.9,786.4 647.4,785.5 647.9,784.4 648.4,781.9 648.9,775.5 649.4,774.0 649.9,780.2 650.4,787.0 650.9,783.9 651.4,782.7 651.9,784.1 652.4,787.1 652.8,784.5 653.3,783.0 653.8,788.6 654.3,784.2 654.8,783.1 655.3,786.3 655.8,788.7 656.3,786.1 656.8,787.4 657.3,789.9 657.8,788.5 658.3,784.8 658.8,785.8 659.3,787.6 659.8,786.3 660.3,788.2 660.7,788.6 661.2,785.8 661.7,779.1 662.2,774.6 662.7,777.1 663.2,782.3 663.7,785.0 664.2,785.1 664.7,786.9" class="ln" stroke="#0000ff" stroke-width="1.9"/>
<polyline points="417.7,787.3 418.2,786.0 418.7,787.7 419.2,787.8 419.7,785.8 420.2,782.2 420.7,781.0 421.2,780.4 421.7,777.6 422.1,775.5 422.6,780.1 423.1,785.6 423.6,784.2 424.1,783.8 424.6,784.9 425.1,784.0 425.6,782.1 426.1,780.4 426.6,780.4 427.1,784.0 427.6,784.8 428.1,783.0 428.6,780.0 429.1,777.2 429.6,781.4 430.1,787.2 430.5,788.8 431.0,782.1 431.5,776.7 432.0,781.2 432.5,784.3 433.0,783.0 433.5,789.6 434.0,784.8 434.5,783.5 435.0,787.8 435.5,789.4 436.0,788.0 436.5,788.8 437.0,788.8 437.5,787.3 438.0,784.1 438.4,782.2 438.9,778.9 439.4,778.3 439.9,780.0 440.4,783.6 440.9,787.8 441.4,786.1 441.9,785.8 442.4,786.0 442.9,783.3 443.4,781.9 443.9,784.4 444.4,788.5 444.9,787.5 445.4,784.3 445.9,779.1 446.4,774.5 446.8,777.0 447.3,779.8 447.8,779.0 448.3,781.0 448.8,783.9 449.3,781.7 449.8,779.0 450.3,780.2 450.8,781.4 451.3,780.4 451.8,782.6 452.3,789.3 452.8,786.4 453.3,782.8 453.8,783.0 454.3,785.2 454.8,786.5 455.2,786.7 455.7,785.9 456.2,784.3 456.7,781.7 457.2,782.3 457.7,789.2 458.2,783.1 458.7,779.7 459.2,781.5 459.7,785.8 460.2,786.9 460.7,788.9 461.2,786.8 461.7,783.5 462.2,783.1 462.7,784.0 463.1,785.5 463.6,784.8 464.1,786.3 464.6,784.9 465.1,781.5 465.6,783.4 466.1,782.6 466.6,782.1 467.1,783.5 467.6,777.2 468.1,772.9 468.6,769.7 469.1,769.8 469.6,774.5 470.1,778.8 470.6,778.4 471.1,776.5 471.5,777.8 472.0,780.3 472.5,780.2 473.0,780.2 473.5,782.3 474.0,784.7 474.5,783.8 475.0,780.6 475.5,779.1 476.0,781.1 476.5,784.0 477.0,786.9 477.5,788.3 478.0,784.4 478.5,782.6 479.0,783.6 479.4,787.3 479.9,787.1 480.4,783.5 480.9,784.2 481.4,788.6 481.9,783.3 482.4,779.9 482.9,783.7 483.4,786.6 483.9,785.3 484.4,783.5 484.9,784.3 485.4,786.3 485.9,784.1 486.4,783.3 486.9,786.9 487.4,787.2 487.8,789.4 488.3,786.1 488.8,787.6 489.3,787.7 489.8,779.9 490.3,773.7 490.8,776.3 491.3,787.4 491.8,782.5 492.3,778.8 492.8,781.4 493.3,785.4 493.8,789.2 494.3,789.1 494.8,787.0 495.3,785.5 495.8,785.6 496.2,787.5 496.7,786.4 497.2,785.7 497.7,779.7 498.2,774.8 498.7,777.7 499.2,781.9 499.7,782.5 500.2,783.1 500.7,785.0 501.2,785.6 501.7,785.2 502.2,783.8 502.7,782.5 503.2,782.6 503.7,785.5 504.1,790.5 504.6,786.9 505.1,786.4 505.6,787.8 506.1,787.4 506.6,786.3 507.1,788.8 507.6,786.6 508.1,782.0 508.6,780.9 509.1,778.4 509.6,779.1 510.1,785.2 510.6,787.2 511.1,783.6 511.6,782.1 512.1,785.9 512.5,789.6 513.0,785.6 513.5,786.1 514.0,787.2 514.5,782.4 515.0,779.8 515.5,781.1 516.0,789.2 516.5,781.3 517.0,775.8 517.5,776.0 518.0,780.1 518.5,784.4 519.0,786.0 519.5,784.3 520.0,781.7 520.5,779.7 520.9,778.8 521.4,781.3 521.9,786.0 522.4,787.8 522.9,787.2 523.4,787.0 523.9,787.1 524.4,786.6 524.9,786.0 525.4,786.1 525.9,785.8 526.4,781.0 526.9,782.4 527.4,785.0 527.9,783.1 528.4,783.5 528.9,781.8 529.3,780.9 529.8,785.3 530.3,788.0 530.8,785.3 531.3,787.9 531.8,788.1 532.3,787.2 532.8,785.4 533.3,784.1 533.8,787.4 534.3,788.2 534.8,783.3 535.3,782.3 535.8,784.0 536.3,785.9 536.8,788.7 537.2,785.9 537.7,782.7 538.2,784.7 538.7,788.8 539.2,788.5 539.7,786.6 540.2,786.8 540.7,786.3 541.2,784.8 541.7,779.6 542.2,779.6 542.7,781.8 543.2,781.3 543.7,782.7 544.2,785.9 544.7,783.1 545.2,780.9 545.6,782.3 546.1,781.2 546.6,780.1 547.1,783.7 547.6,788.5 548.1,783.8 548.6,781.4 549.1,780.4 549.6,779.8 550.1,779.7 550.6,780.9 551.1,781.7 551.6,779.6 552.1,782.3 552.6,788.8 553.1,787.6 553.5,784.3 554.0,782.7 554.5,783.1 555.0,784.1 555.5,780.2 556.0,773.6 556.5,773.1 557.0,779.2 557.5,782.2 558.0,780.1 558.5,780.2 559.0,783.0 559.5,784.3 560.0,783.9 560.5,784.9 561.0,788.2 561.5,787.3 561.9,784.1 562.4,784.9 562.9,785.8 563.4,787.7 563.9,787.9 564.4,786.2 564.9,786.9 565.4,789.1 565.9,788.2 566.4,785.3 566.9,778.7 567.4,773.0 567.9,771.9 568.4,775.3 568.9,779.7 569.4,777.8 569.9,777.2 570.3,782.7 570.8,789.3 571.3,789.7 571.8,784.9 572.3,782.9 572.8,785.8 573.3,786.4 573.8,781.0 574.3,774.4 574.8,772.2 575.3,776.9 575.8,782.4 576.3,784.7 576.8,779.7 577.3,776.7 577.8,778.8 578.2,781.2 578.7,780.7 579.2,778.1 579.7,776.1 580.2,778.3 580.7,785.4 581.2,788.9 581.7,787.9 582.2,785.1 582.7,778.3 583.2,775.0 583.7,777.9 584.2,785.0 584.7,790.2 585.2,787.3 585.7,787.6 586.2,788.7 586.6,787.8 587.1,786.8 587.6,788.4 588.1,784.6 588.6,782.6 589.1,786.2 589.6,785.1 590.1,779.8 590.6,777.3 591.1,776.3 591.6,775.4 592.1,776.7 592.6,779.4 593.1,780.7 593.6,779.7 594.1,777.8 594.6,780.8 595.0,784.3 595.5,783.5 596.0,786.3 596.5,787.7 597.0,786.6 597.5,784.2 598.0,779.6 598.5,777.9 599.0,779.1 599.5,781.8 600.0,787.6 600.5,789.9 601.0,789.6 601.5,788.6 602.0,787.3 602.5,787.1 603.0,785.9 603.4,782.7 603.9,781.7 604.4,783.0 604.9,785.4 605.4,789.1 605.9,783.0 606.4,780.2 606.9,782.3 607.4,782.6 607.9,778.4 608.4,777.3 608.9,783.0 609.4,787.6 609.9,782.1 610.4,778.3 610.9,776.3 611.3,781.6 611.8,786.5 612.3,778.0 612.8,773.2 613.3,772.7 613.8,774.4 614.3,774.7 614.8,769.9 615.3,772.0 615.8,778.7 616.3,784.9 616.8,787.6 617.3,787.2 617.8,788.0 618.3,786.7 618.8,787.8 619.3,789.7 619.7,788.0 620.2,788.8 620.7,789.3 621.2,788.2 621.7,785.5 622.2,785.4 622.7,789.5 623.2,781.9 623.7,780.8 624.2,781.5 624.7,777.6 625.2,775.2 625.7,779.1 626.2,787.0 626.7,787.6 627.2,783.6 627.7,783.8 628.1,787.9 628.6,787.6 629.1,783.9 629.6,785.8 630.1,789.0 630.6,781.0 631.1,778.2 631.6,780.7 632.1,780.5 632.6,777.9 633.1,781.2 633.6,781.0 634.1,778.7 634.6,781.4 635.1,783.7 635.6,783.3 636.0,785.2 636.5,785.9 637.0,783.3 637.5,783.1 638.0,782.5 638.5,785.1 639.0,788.2 639.5,783.6 640.0,785.1 640.5,788.8 641.0,790.3 641.5,788.1 642.0,784.5 642.5,783.3 643.0,783.8 643.5,784.3 644.0,790.6 644.4,779.8 644.9,774.9 645.4,777.6 645.9,781.7 646.4,783.4 646.9,784.4 647.4,784.1 647.9,781.6 648.4,779.9 648.9,778.7 649.4,777.2 649.9,779.8 650.4,781.3 650.9,782.4 651.4,787.1 651.9,787.4 652.4,786.1 652.8,785.6 653.3,786.0 653.8,782.5 654.3,781.3 654.8,782.0 655.3,779.4 655.8,779.1 656.3,782.6 656.8,783.4 657.3,786.3 657.8,782.7 658.3,783.8 658.8,786.8 659.3,785.4 659.8,783.0 660.3,780.9 660.7,780.2 661.2,778.0 661.7,776.1 662.2,776.8 662.7,781.0 663.2,787.4 663.7,788.7 664.2,784.9 664.7,782.3" class="ln" stroke="#0000ff" stroke-width="1.9"/>
<polyline points="417.7,784.5 418.2,786.3 418.7,788.0 419.2,788.8 419.7,789.2 420.2,787.8 420.7,784.0 421.2,779.7 421.7,781.0 422.1,784.1 422.6,785.5 423.1,786.0 423.6,785.1 424.1,785.6 424.6,783.1 425.1,783.7 425.6,785.6 426.1,786.9 426.6,789.3 427.1,787.2 427.6,784.0 428.1,785.0 428.6,787.0 429.1,786.6 429.6,784.7 430.1,786.4 430.5,788.8 431.0,784.3 431.5,781.2 432.0,782.0 432.5,783.6 433.0,781.0 433.5,781.5 434.0,786.2 434.5,785.2 435.0,782.6 435.5,782.4 436.0,780.7 436.5,779.2 437.0,782.2 437.5,789.3 438.0,785.8 438.4,783.8 438.9,784.5 439.4,787.9 439.9,789.8 440.4,789.5 440.9,789.5 441.4,782.6 441.9,776.2 442.4,776.7 442.9,782.1 443.4,790.2 443.9,784.3 444.4,783.7 444.9,785.8 445.4,783.2 445.9,781.7 446.4,781.9 446.8,783.2 447.3,786.3 447.8,789.6 448.3,785.4 448.8,779.6 449.3,778.3 449.8,782.0 450.3,784.2 450.8,779.9 451.3,777.4 451.8,780.6 452.3,779.5 452.8,776.6 453.3,778.7 453.8,778.5 454.3,776.5 454.8,781.7 455.2,787.0 455.7,785.1 456.2,787.2 456.7,785.8 457.2,780.1 457.7,778.1 458.2,780.6 458.7,785.3 459.2,786.4 459.7,784.2 460.2,786.7 460.7,781.0 461.2,775.6 461.7,779.8 462.2,785.6 462.7,785.7 463.1,784.8 463.6,786.5 464.1,788.4 464.6,786.3 465.1,784.0 465.6,786.4 466.1,784.3 466.6,783.8 467.1,784.1 467.6,783.4 468.1,784.5 468.6,785.6 469.1,784.9 469.6,787.8 470.1,787.8 470.6,784.4 471.1,783.1 471.5,779.3 472.0,777.6 472.5,779.7 473.0,781.8 473.5,782.5 474.0,782.9 474.5,780.8 475.0,780.1 475.5,782.2 476.0,785.6 476.5,788.1 477.0,785.1 477.5,782.8 478.0,780.1 478.5,776.2 479.0,775.7 479.4,779.5 479.9,782.7 480.4,783.3 480.9,784.6 481.4,787.9 481.9,789.6 482.4,784.7 482.9,780.3 483.4,779.9 483.9,781.1 484.4,781.3 484.9,783.2 485.4,784.8 485.9,780.7 486.4,781.3 486.9,786.1 487.4,790.8 487.8,787.0 488.3,782.6 488.8,780.2 489.3,780.8 489.8,784.1 490.3,787.1 490.8,787.3 491.3,786.0 491.8,783.5 492.3,783.5 492.8,786.8 493.3,787.6 493.8,785.1 494.3,782.7 494.8,784.6 495.3,786.3 495.8,789.3 496.2,785.6 496.7,781.0 497.2,780.8 497.7,781.6 498.2,783.0 498.7,787.8 499.2,788.1 499.7,785.4 500.2,784.4 500.7,784.9 501.2,784.4 501.7,785.2 502.2,782.2 502.7,781.8 503.2,782.9 503.7,788.5 504.1,783.7 504.6,782.5 505.1,787.6 505.6,787.8 506.1,784.7 506.6,781.9 507.1,782.7 507.6,786.3 508.1,786.4 508.6,786.7 509.1,789.4 509.6,789.9 510.1,790.0 510.6,786.0 511.1,780.3 511.6,776.3 512.1,776.9 512.5,781.3 513.0,784.7 513.5,788.1 514.0,790.2 514.5,790.0 515.0,789.3 515.5,786.8 516.0,785.2 516.5,781.2 517.0,780.1 517.5,783.4 518.0,790.3 518.5,787.5 519.0,789.5 519.5,789.2 520.0,788.0 520.5,785.3 520.9,780.6 521.4,775.8 521.9,776.7 522.4,783.4 522.9,787.6 523.4,783.3 523.9,783.0 524.4,783.8 524.9,782.9 525.4,781.8 525.9,779.1 526.4,776.7 526.9,776.4 527.4,779.0 527.9,785.5 528.4,784.7 528.9,782.4 529.3,782.6 529.8,781.3 530.3,780.5 530.8,781.9 531.3,784.7 531.8,785.4 532.3,781.2 532.8,779.6 533.3,782.0 533.8,782.6 534.3,779.0 534.8,775.5 535.3,778.2 535.8,786.1 536.3,789.7 536.8,790.1 537.2,788.1 537.7,787.7 538.2,787.8 538.7,787.8 539.2,790.0 539.7,787.4 540.2,786.1 540.7,783.8 541.2,780.2 541.7,780.8 542.2,783.7 542.7,780.8 543.2,778.8 543.7,780.3 544.2,784.0 544.7,783.4 545.2,783.5 545.6,785.0 546.1,785.4 546.6,780.3 547.1,780.9 547.6,787.0 548.1,786.9 548.6,784.4 549.1,782.7 549.6,783.2 550.1,784.8 550.6,783.9 551.1,780.8 551.6,780.3 552.1,786.5 552.6,789.4 553.1,788.8 553.5,786.5 554.0,786.1 554.5,785.1 555.0,782.9 555.5,781.8 556.0,780.6 556.5,783.4 557.0,785.2 557.5,786.7 558.0,784.3 558.5,781.4 559.0,783.1 559.5,789.1 560.0,785.5 560.5,780.2 561.0,780.1 561.5,784.4 561.9,785.5 562.4,784.9 562.9,781.8 563.4,777.3 563.9,776.4 564.4,779.3 564.9,782.4 565.4,781.8 565.9,776.7 566.4,774.4 566.9,776.9 567.4,776.0 567.9,777.9 568.4,784.5 568.9,784.2 569.4,781.7 569.9,783.5 570.3,782.7 570.8,785.6 571.3,789.7 571.8,790.3 572.3,789.9 572.8,789.4 573.3,788.1 573.8,790.6 574.3,788.2 574.8,787.0 575.3,789.0 575.8,788.1 576.3,785.1 576.8,780.1 577.3,772.6 577.8,770.5 578.2,775.9 578.7,777.5 579.2,773.5 579.7,772.4 580.2,776.6 580.7,782.4 581.2,781.8 581.7,779.7 582.2,782.9 582.7,786.4 583.2,786.3 583.7,784.0 584.2,781.2 584.7,780.0 585.2,781.3 585.7,781.9 586.2,780.0 586.6,776.6 587.1,774.6 587.6,773.6 588.1,777.0 588.6,785.7 589.1,783.6 589.6,783.3 590.1,785.9 590.6,780.9 591.1,781.2 591.6,785.8 592.1,789.7 592.6,786.1 593.1,781.9 593.6,781.5 594.1,785.4 594.6,789.6 595.0,786.6 595.5,784.8 596.0,784.4 596.5,788.1 597.0,785.1 597.5,775.4 598.0,769.8 598.5,773.1 599.0,776.0 599.5,777.6 600.0,785.2 600.5,789.0 601.0,790.9 601.5,787.6 602.0,786.9 602.5,787.6 603.0,786.3 603.4,785.4 603.9,781.3 604.4,776.9 604.9,776.7 605.4,782.9 605.9,785.9 606.4,783.5 606.9,788.7 607.4,785.8 607.9,785.6 608.4,788.4 608.9,790.3 609.4,786.3 609.9,781.8 610.4,781.3 610.9,784.3 611.3,786.6 611.8,786.1 612.3,783.5 612.8,782.1 613.3,781.7 613.8,783.7 614.3,785.8 614.8,786.6 615.3,787.8 615.8,788.2 616.3,786.9 616.8,784.5 617.3,784.3 617.8,785.2 618.3,783.3 618.8,781.6 619.3,782.7 619.7,786.4 620.2,787.7 620.7,785.5 621.2,782.5 621.7,782.3 622.2,783.8 622.7,783.1 623.2,779.9 623.7,777.6 624.2,779.5 624.7,781.1 625.2,781.5 625.7,779.7 626.2,778.6 626.7,779.9 627.2,782.9 627.7,784.7 628.1,788.3 628.6,785.9 629.1,783.3 629.6,782.1 630.1,771.6 630.6,769.5 631.1,775.4 631.6,783.6 632.1,785.0 632.6,781.3 633.1,779.6 633.6,785.4 634.1,786.2 634.6,784.0 635.1,784.5 635.6,785.4 636.0,784.0 636.5,782.6 637.0,784.4 637.5,785.5 638.0,784.6 638.5,785.6 639.0,788.2 639.5,789.0 640.0,787.4 640.5,787.0 641.0,788.5 641.5,784.3 642.0,780.9 642.5,783.6 643.0,786.2 643.5,784.9 644.0,785.7 644.4,783.7 644.9,784.4 645.4,787.9 645.9,782.8 646.4,783.6 646.9,786.9 647.4,787.0 647.9,786.1 648.4,784.8 648.9,786.4 649.4,785.3 649.9,784.3 650.4,787.1 650.9,787.9 651.4,786.7 651.9,786.7 652.4,788.3 652.8,788.5 653.3,788.5 653.8,788.0 654.3,781.9 654.8,777.1 655.3,779.4 655.8,784.2 656.3,780.2 656.8,778.3 657.3,777.6 657.8,773.8 658.3,769.2 658.8,768.8 659.3,774.8 659.8,780.8 660.3,781.7 660.7,783.8 661.2,788.4 661.7,782.4 662.2,782.9 662.7,778.9 663.2,772.5 663.7,771.9 664.2,772.7 664.7,772.9" class="ln" stroke="#0000ff" stroke-width="1.9"/>
<polyline points="417.7,784.4 418.2,788.0 418.7,788.1 419.2,785.9 419.7,787.9 420.2,788.9 420.7,786.3 421.2,789.3 421.7,789.6 422.1,782.1 422.6,776.9 423.1,777.7 423.6,777.2 424.1,778.1 424.6,783.1 425.1,785.2 425.6,781.3 426.1,776.8 426.6,777.0 427.1,778.6 427.6,781.3 428.1,785.9 428.6,785.3 429.1,780.2 429.6,776.7 430.1,775.6 430.5,778.9 431.0,782.5 431.5,782.7 432.0,780.6 432.5,781.9 433.0,782.6 433.5,783.2 434.0,779.7 434.5,779.5 435.0,782.6 435.5,783.8 436.0,788.5 436.5,785.4 437.0,782.5 437.5,782.8 438.0,782.7 438.4,784.1 438.9,788.4 439.4,789.9 439.9,786.4 440.4,785.2 440.9,789.1 441.4,786.3 441.9,782.0 442.4,778.8 442.9,777.8 443.4,780.8 443.9,786.3 444.4,789.1 444.9,783.6 445.4,778.6 445.9,778.5 446.4,782.9 446.8,787.7 447.3,790.0 447.8,789.3 448.3,787.4 448.8,785.9 449.3,785.5 449.8,783.1 450.3,781.3 450.8,782.4 451.3,782.4 451.8,783.8 452.3,787.1 452.8,789.1 453.3,787.5 453.8,786.5 454.3,788.5 454.8,789.2 455.2,787.7 455.7,782.9 456.2,781.5 456.7,783.8 457.2,788.5 457.7,787.2 458.2,783.9 458.7,776.5 459.2,770.3 459.7,773.4 460.2,782.1 460.7,787.0 461.2,790.6 461.7,786.9 462.2,787.2 462.7,787.9 463.1,786.7 463.6,787.2 464.1,786.2 464.6,782.5 465.1,784.1 465.6,789.7 466.1,784.0 466.6,783.1 467.1,783.0 467.6,783.0 468.1,783.0 468.6,784.5 469.1,783.7 469.6,783.4 470.1,784.0 470.6,785.6 471.1,787.3 471.5,789.4 472.0,787.1 472.5,788.2 473.0,789.9 473.5,784.0 474.0,780.5 474.5,783.7 475.0,788.7 475.5,786.9 476.0,785.3 476.5,785.5 477.0,785.1 477.5,785.2 478.0,786.9 478.5,786.7 479.0,789.5 479.4,787.3 479.9,784.5 480.4,784.5 480.9,786.7 481.4,785.8 481.9,789.1 482.4,786.9 482.9,785.4 483.4,787.1 483.9,786.2 484.4,785.8 484.9,781.8 485.4,779.7 485.9,779.1 486.4,780.4 486.9,783.2 487.4,783.3 487.8,780.7 488.3,778.8 488.8,780.1 489.3,782.8 489.8,783.8 490.3,787.9 490.8,786.5 491.3,783.3 491.8,784.5 492.3,788.5 492.8,787.0 493.3,784.1 493.8,786.6 494.3,790.2 494.8,787.1 495.3,784.2 495.8,784.8 496.2,786.2 496.7,786.8 497.2,786.1 497.7,785.5 498.2,783.8 498.7,781.2 499.2,780.7 499.7,783.2 500.2,784.7 500.7,784.0 501.2,783.8 501.7,785.0 502.2,790.6 502.7,783.9 503.2,782.5 503.7,785.8 504.1,784.4 504.6,782.4 505.1,783.1 505.6,784.0 506.1,787.3 506.6,789.6 507.1,789.2 507.6,789.3 508.1,786.2 508.6,783.7 509.1,782.8 509.6,786.1 510.1,787.0 510.6,785.9 511.1,787.4 511.6,789.8 512.1,789.1 512.5,789.1 513.0,785.5 513.5,784.2 514.0,784.6 514.5,783.0 515.0,781.6 515.5,779.3 516.0,778.9 516.5,781.8 517.0,786.1 517.5,786.3 518.0,781.6 518.5,779.0 519.0,777.9 519.5,779.8 520.0,783.1 520.5,783.9 520.9,784.2 521.4,786.8 521.9,789.7 522.4,786.7 522.9,780.8 523.4,779.1 523.9,782.6 524.4,784.1 524.9,782.6 525.4,782.2 525.9,786.4 526.4,786.8 526.9,786.1 527.4,786.6 527.9,789.4 528.4,785.4 528.9,779.5 529.3,779.8 529.8,781.6 530.3,783.2 530.8,786.4 531.3,781.5 531.8,776.7 532.3,777.4 532.8,779.5 533.3,778.6 533.8,780.5 534.3,780.6 534.8,781.1 535.3,782.6 535.8,785.1 536.3,784.1 536.8,783.4 537.2,786.8 537.7,787.6 538.2,781.8 538.7,779.0 539.2,778.0 539.7,778.7 540.2,781.1 540.7,783.9 541.2,785.2 541.7,784.2 542.2,781.4 542.7,781.8 543.2,787.5 543.7,787.6 544.2,787.3 544.7,787.1 545.2,787.7 545.6,786.6 546.1,788.1 546.6,788.0 547.1,784.9 547.6,783.2 548.1,782.1 548.6,781.9 549.1,782.5 549.6,783.3 550.1,784.1 550.6,786.8 551.1,789.0 551.6,786.8 552.1,783.8 552.6,781.6 553.1,781.1 553.5,782.5 554.0,785.1 554.5,784.0 555.0,786.2 555.5,784.9 556.0,783.7 556.5,786.3 557.0,787.3 557.5,786.6 558.0,785.8 558.5,782.4 559.0,777.7 559.5,776.4 560.0,781.0 560.5,787.8 561.0,784.0 561.5,782.8 561.9,784.8 562.4,785.9 562.9,786.2 563.4,788.8 563.9,785.2 564.4,782.4 564.9,778.9 565.4,778.3 565.9,782.6 566.4,786.6 566.9,786.3 567.4,786.9 567.9,786.6 568.4,784.8 568.9,781.8 569.4,780.9 569.9,784.0 570.3,785.7 570.8,782.1 571.3,778.6 571.8,776.3 572.3,777.1 572.8,779.2 573.3,781.4 573.8,783.8 574.3,787.2 574.8,786.9 575.3,781.5 575.8,779.6 576.3,781.7 576.8,782.7 577.3,784.2 577.8,786.3 578.2,786.6 578.7,789.5 579.2,787.6 579.7,785.6 580.2,783.2 580.7,779.2 581.2,775.4 581.7,776.6 582.2,783.7 582.7,789.2 583.2,786.4 583.7,777.6 584.2,771.7 584.7,776.5 585.2,782.5 585.7,775.6 586.2,778.5 586.6,781.9 587.1,776.4 587.6,779.6 588.1,784.6 588.6,786.2 589.1,785.7 589.6,788.0 590.1,789.8 590.6,785.5 591.1,781.8 591.6,784.6 592.1,784.8 592.6,782.8 593.1,781.0 593.6,783.3 594.1,786.1 594.6,786.7 595.0,784.2 595.5,779.2 596.0,778.8 596.5,783.3 597.0,781.9 597.5,781.9 598.0,786.6 598.5,782.3 599.0,781.4 599.5,789.6 600.0,780.4 600.5,775.2 601.0,775.5 601.5,778.3 602.0,783.7 602.5,787.6 603.0,785.1 603.4,784.9 603.9,786.8 604.4,787.2 604.9,784.0 605.4,783.2 605.9,785.7 606.4,784.6 606.9,789.2 607.4,784.7 607.9,783.1 608.4,786.6 608.9,787.8 609.4,787.6 609.9,787.4 610.4,786.9 610.9,789.8 611.3,781.6 611.8,777.3 612.3,779.4 612.8,784.6 613.3,789.2 613.8,789.9 614.3,789.3 614.8,788.5 615.3,786.3 615.8,787.0 616.3,786.2 616.8,786.2 617.3,786.8 617.8,787.2 618.3,790.0 618.8,784.0 619.3,782.9 619.7,784.7 620.2,783.8 620.7,783.1 621.2,785.7 621.7,786.6 622.2,785.7 622.7,785.0 623.2,783.4 623.7,785.0 624.2,788.4 624.7,788.4 625.2,788.7 625.7,788.1 626.2,783.4 626.7,783.3 627.2,787.4 627.7,786.4 628.1,781.3 628.6,778.9 629.1,776.6 629.6,776.8 630.1,778.7 630.6,778.9 631.1,780.1 631.6,781.5 632.1,776.7 632.6,773.6 633.1,775.0 633.6,782.1 634.1,783.9 634.6,779.9 635.1,783.1 635.6,781.6 636.0,784.5 636.5,790.4 637.0,788.6 637.5,786.5 638.0,781.7 638.5,780.6 639.0,786.5 639.5,788.5 640.0,785.8 640.5,784.1 641.0,784.9 641.5,783.7 642.0,779.8 642.5,778.4 643.0,782.2 643.5,785.5 644.0,780.9 644.4,782.3 644.9,783.0 645.4,777.3 645.9,774.7 646.4,780.0 646.9,785.2 647.4,785.0 647.9,785.8 648.4,788.1 648.9,788.1 649.4,784.1 649.9,780.0 650.4,779.7 650.9,784.1 651.4,789.4 651.9,789.6 652.4,786.2 652.8,785.5 653.3,783.2 653.8,779.0 654.3,780.1 654.8,777.2 655.3,772.0 655.8,777.9 656.3,786.9 656.8,783.3 657.3,782.0 657.8,785.4 658.3,786.7 658.8,782.9 659.3,781.9 659.8,786.8 660.3,789.8 660.7,784.7 661.2,781.0 661.7,780.3 662.2,781.0 662.7,784.2 663.2,787.6 663.7,780.7 664.2,777.3 664.7,780.6" class="ln" stroke="#0000ff" stroke-width="1.9"/>
<polyline points="417.7,786.7 418.2,783.3 418.7,783.3 419.2,783.7 419.7,783.8 420.2,786.6 420.7,788.8 421.2,785.2 421.7,785.6 422.1,785.8 422.6,786.6 423.1,787.3 423.6,786.1 424.1,786.4 424.6,789.1 425.1,784.9 425.6,781.7 426.1,783.2 426.6,790.0 427.1,779.6 427.6,773.7 428.1,773.5 428.6,778.4 429.1,783.2 429.6,785.0 430.1,784.6 430.5,782.7 431.0,782.3 431.5,783.0 432.0,783.3 432.5,787.9 433.0,786.5 433.5,785.1 434.0,789.2 434.5,783.1 435.0,784.0 435.5,788.0 436.0,785.7 436.5,782.9 437.0,786.3 437.5,784.8 438.0,786.2 438.4,788.6 438.9,785.8 439.4,782.6 439.9,782.4 440.4,783.0 440.9,780.6 441.4,779.2 441.9,783.8 442.4,786.5 442.9,787.1 443.4,786.7 443.9,786.1 444.4,787.7 444.9,790.6 445.4,787.7 445.9,785.1 446.4,782.0 446.8,778.9 447.3,777.7 447.8,778.4 448.3,780.2 448.8,781.3 449.3,781.2 449.8,782.6 450.3,784.5 450.8,785.2 451.3,783.2 451.8,783.4 452.3,786.1 452.8,787.3 453.3,789.7 453.8,787.6 454.3,785.6 454.8,781.7 455.2,778.6 455.7,784.3 456.2,790.2 456.7,787.4 457.2,786.6 457.7,784.2 458.2,780.9 458.7,779.0 459.2,778.8 459.7,779.0 460.2,782.8 460.7,789.7 461.2,780.6 461.7,776.4 462.2,775.6 462.7,777.8 463.1,783.5 463.6,788.6 464.1,786.2 464.6,788.0 465.1,785.3 465.6,778.4 466.1,777.5 466.6,780.7 467.1,785.0 467.6,785.5 468.1,780.4 468.6,780.2 469.1,785.5 469.6,786.7 470.1,786.6 470.6,786.5 471.1,783.5 471.5,783.8 472.0,786.8 472.5,781.6 473.0,780.9 473.5,785.1 474.0,788.7 474.5,787.3 475.0,783.5 475.5,785.9 476.0,789.1 476.5,788.9 477.0,785.9 477.5,788.3 478.0,788.1 478.5,785.9 479.0,784.4 479.4,779.6 479.9,777.2 480.4,777.5 480.9,778.2 481.4,777.4 481.9,777.3 482.4,782.1 482.9,784.0 483.4,778.6 483.9,777.3 484.4,780.4 484.9,785.7 485.4,790.1 485.9,788.3 486.4,785.0 486.9,781.6 487.4,777.0 487.8,775.9 488.3,782.0 488.8,784.5 489.3,786.1 489.8,785.4 490.3,781.8 490.8,782.7 491.3,789.5 491.8,782.3 492.3,778.6 492.8,781.0 493.3,781.8 493.8,778.9 494.3,778.2 494.8,781.3 495.3,781.0 495.8,781.7 496.2,783.9 496.7,785.8 497.2,784.3 497.7,776.6 498.2,773.8 498.7,778.2 499.2,777.9 499.7,775.5 500.2,780.9 500.7,785.7 501.2,783.2 501.7,786.2 502.2,789.2 502.7,785.6 503.2,779.0 503.7,779.2 504.1,785.4 504.6,789.2 505.1,788.0 505.6,784.4 506.1,779.5 506.6,778.4 507.1,783.2 507.6,789.4 508.1,785.9 508.6,781.1 509.1,781.3 509.6,785.9 510.1,784.1 510.6,782.3 511.1,782.9 511.6,785.1 512.1,787.1 512.5,786.2 513.0,782.8 513.5,782.1 514.0,782.8 514.5,786.1 515.0,787.6 515.5,787.0 516.0,786.6 516.5,782.3 517.0,778.7 517.5,781.4 518.0,783.4 518.5,785.5 519.0,789.2 519.5,780.9 520.0,778.1 520.5,780.9 520.9,784.8 521.4,789.0 521.9,787.2 522.4,789.0 522.9,786.1 523.4,783.1 523.9,783.1 524.4,780.9 524.9,778.4 525.4,778.3 525.9,782.3 526.4,786.0 526.9,788.4 527.4,788.5 527.9,788.0 528.4,779.7 528.9,774.5 529.3,780.2 529.8,783.6 530.3,780.8 530.8,783.1 531.3,785.8 531.8,786.7 532.3,784.7 532.8,782.2 533.3,783.1 533.8,787.6 534.3,789.3 534.8,787.1 535.3,786.8 535.8,786.4 536.3,789.5 536.8,785.9 537.2,783.2 537.7,785.1 538.2,787.4 538.7,784.6 539.2,782.2 539.7,783.4 540.2,786.6 540.7,789.1 541.2,787.8 541.7,788.9 542.2,789.2 542.7,785.0 543.2,784.6 543.7,784.5 544.2,782.3 544.7,780.5 545.2,780.9 545.6,786.1 546.1,787.2 546.6,782.9 547.1,781.4 547.6,776.9 548.1,773.6 548.6,773.2 549.1,778.9 549.6,783.5 550.1,781.3 550.6,781.1 551.1,784.1 551.6,789.3 552.1,784.5 552.6,779.5 553.1,776.1 553.5,775.2 554.0,778.7 554.5,784.9 555.0,789.2 555.5,783.1 556.0,781.5 556.5,787.7 557.0,781.7 557.5,776.9 558.0,779.0 558.5,782.0 559.0,785.3 559.5,787.1 560.0,784.1 560.5,782.5 561.0,781.2 561.5,783.3 561.9,789.9 562.4,783.9 562.9,783.1 563.4,783.1 563.9,781.7 564.4,783.4 564.9,785.8 565.4,786.0 565.9,786.5 566.4,787.0 566.9,787.0 567.4,784.5 567.9,780.5 568.4,778.7 568.9,780.4 569.4,783.4 569.9,785.9 570.3,782.3 570.8,776.4 571.3,774.7 571.8,776.4 572.3,781.4 572.8,784.4 573.3,781.9 573.8,779.3 574.3,781.1 574.8,783.0 575.3,783.1 575.8,782.9 576.3,782.8 576.8,788.0 577.3,786.1 577.8,784.5 578.2,788.5 578.7,789.7 579.2,787.7 579.7,785.2 580.2,784.7 580.7,787.0 581.2,789.6 581.7,787.7 582.2,789.9 582.7,784.4 583.2,780.8 583.7,782.8 584.2,789.0 584.7,785.1 585.2,785.9 585.7,786.1 586.2,786.6 586.6,786.6 587.1,783.1 587.6,783.4 588.1,787.4 588.6,784.9 589.1,780.1 589.6,780.4 590.1,784.3 590.6,790.3 591.1,784.9 591.6,782.8 592.1,788.6 592.6,782.8 593.1,774.5 593.6,773.1 594.1,779.7 594.6,788.2 595.0,782.6 595.5,781.8 596.0,784.2 596.5,784.9 597.0,783.1 597.5,778.6 598.0,775.0 598.5,775.9 599.0,777.7 599.5,778.8 600.0,780.5 600.5,780.4 601.0,779.4 601.5,779.6 602.0,780.8 602.5,782.8 603.0,782.3 603.4,781.4 603.9,778.5 604.4,777.0 604.9,777.9 605.4,780.5 605.9,784.6 606.4,789.4 606.9,786.0 607.4,780.8 607.9,778.8 608.4,780.1 608.9,782.7 609.4,786.9 609.9,789.2 610.4,788.4 610.9,787.7 611.3,787.8 611.8,789.9 612.3,787.1 612.8,784.1 613.3,782.2 613.8,780.9 614.3,782.4 614.8,784.8 615.3,783.9 615.8,784.1 616.3,787.4 616.8,785.3 617.3,781.2 617.8,780.0 618.3,781.0 618.8,781.9 619.3,782.4 619.7,781.5 620.2,778.3 620.7,778.1 621.2,781.6 621.7,781.8 622.2,783.5 622.7,788.0 623.2,790.0 623.7,787.7 624.2,787.6 624.7,788.5 625.2,784.7 625.7,786.3 626.2,781.6 626.7,775.8 627.2,773.7 627.7,778.0 628.1,785.6 628.6,786.8 629.1,781.7 629.6,778.4 630.1,776.6 630.6,776.0 631.1,776.7 631.6,776.0 632.1,778.8 632.6,784.6 633.1,782.7 633.6,784.3 634.1,779.5 634.6,775.0 635.1,777.3 635.6,781.5 636.0,782.5 636.5,779.9 637.0,779.8 637.5,781.2 638.0,782.5 638.5,786.8 639.0,787.6 639.5,784.6 640.0,779.0 640.5,778.7 641.0,785.8 641.5,784.9 642.0,782.6 642.5,788.5 643.0,787.8 643.5,787.9 644.0,784.2 644.4,783.0 644.9,782.2 645.4,780.4 645.9,780.6 646.4,786.5 646.9,790.2 647.4,788.8 647.9,788.3 648.4,788.6 648.9,788.6 649.4,788.0 649.9,785.5 650.4,785.2 650.9,783.9 651.4,784.0 651.9,786.8 652.4,778.9 652.8,774.2 653.3,771.8 653.8,775.2 654.3,783.8 654.8,789.0 655.3,790.4 655.8,783.6 656.3,777.5 656.8,774.3 657.3,774.0 657.8,778.9 658.3,788.5 658.8,784.8 659.3,782.9 659.8,787.0 660.3,786.2 660.7,787.1 661.2,789.8 661.7,788.8 662.2,787.4 662.7,784.3 663.2,777.3 663.7,774.0 664.2,777.5 664.7,780.3" class="ln" stroke="#0000ff" stroke-width="1.9"/>
<polyline points="417.7,707.6 418.2,709.0 418.7,709.0 419.2,708.9 419.7,708.6 420.2,708.2 420.7,707.7 421.2,708.2 421.7,711.8 422.1,718.3 422.6,725.1 423.1,729.0 423.6,726.8 424.1,720.1 424.6,714.1 425.1,710.6 425.6,709.0 426.1,708.7 426.6,709.9 427.1,712.1 427.6,714.0 428.1,714.5 428.6,713.9 429.1,714.3 429.6,716.4 430.1,719.7 430.5,723.0 431.0,725.3 431.5,724.8 432.0,721.6 432.5,717.6 433.0,713.8 433.5,709.6 434.0,704.6 434.5,699.9 435.0,697.0 435.5,698.0 436.0,702.4 436.5,707.3 437.0,710.8 437.5,713.6 438.0,716.9 438.4,720.3 438.9,722.0 439.4,720.8 439.9,716.7 440.4,709.8 440.9,704.1 441.4,701.2 441.9,701.0 442.4,701.4 442.9,701.3 443.4,700.5 443.9,699.0 444.4,696.7 444.9,696.4 445.4,699.8 445.9,704.8 446.4,708.9 446.8,710.4 447.3,709.8 447.8,707.7 448.3,707.7 448.8,708.7 449.3,708.7 449.8,710.8 450.3,714.0 450.8,718.4 451.3,721.5 451.8,718.5 452.3,712.9 452.8,707.0 453.3,702.8 453.8,703.3 454.3,706.0 454.8,709.7 455.2,712.9 455.7,712.3 456.2,709.4 456.7,705.1 457.2,700.7 457.7,698.4 458.2,700.6 458.7,703.7 459.2,706.7 459.7,709.9 460.2,713.0 460.7,715.3 461.2,716.9 461.7,718.4 462.2,720.1 462.7,722.2 463.1,725.6 463.6,730.1 464.1,733.2 464.6,733.2 465.1,730.1 465.6,724.3 466.1,718.3 466.6,715.5 467.1,714.9 467.6,715.6 468.1,717.1 468.6,718.4 469.1,718.3 469.6,717.0 470.1,715.0 470.6,711.7 471.1,707.3 471.5,704.7 472.0,706.3 472.5,711.3 473.0,717.4 473.5,721.7 474.0,723.9 474.5,725.9 475.0,728.1 475.5,727.8 476.0,724.8 476.5,720.8 477.0,715.9 477.5,712.8 478.0,712.6 478.5,713.1 479.0,713.0 479.4,712.4 479.9,710.2 480.4,708.0 480.9,707.0 481.4,707.8 481.9,710.7 482.4,715.1 482.9,718.1 483.4,718.4 483.9,717.0 484.4,715.0 484.9,713.8 485.4,713.9 485.9,715.8 486.4,718.4 486.9,720.5 487.4,721.5 487.8,722.2 488.3,723.0 488.8,723.7 489.3,724.8 489.8,727.1 490.3,729.7 490.8,731.8 491.3,735.0 491.8,743.8 492.3,753.9 492.8,761.6 493.3,768.6 493.8,777.7 494.3,779.8 494.8,778.0 495.3,776.7 495.8,775.4 496.2,769.8 496.7,762.3 497.2,759.1 497.7,757.7 498.2,756.3 498.7,755.0 499.2,756.9 499.7,761.5 500.2,764.0 500.7,764.1 501.2,762.1 501.7,757.6 502.2,753.3 502.7,751.2 503.2,750.8 503.7,750.4 504.1,749.9 504.6,750.1 505.1,751.0 505.6,751.3 506.1,751.9 506.6,754.2 507.1,757.9 507.6,763.7 508.1,770.8 508.6,768.0 509.1,765.6 509.6,764.4 510.1,762.2 510.6,759.7 511.1,760.5 511.6,761.8 512.1,762.0 512.5,761.8 513.0,760.1 513.5,757.7 514.0,755.6 514.5,752.8 515.0,750.6 515.5,750.4 516.0,752.1 516.5,754.6 517.0,755.6 517.5,755.3 518.0,755.0 518.5,755.4 519.0,756.9 519.5,758.8 520.0,759.0 520.5,757.7 520.9,756.7 521.4,758.3 521.9,761.4 522.4,762.3 522.9,761.2 523.4,758.1 523.9,753.7 524.4,749.7 524.9,747.2 525.4,746.0 525.9,746.6 526.4,751.6 526.9,757.3 527.4,761.9 527.9,766.0 528.4,772.3 528.9,774.5 529.3,774.9 529.8,779.2 530.3,782.8 530.8,780.9 531.3,778.4 531.8,779.6 532.3,784.5 532.8,786.6 533.3,784.4 533.8,781.9 534.3,778.5 534.8,774.9 535.3,773.2 535.8,774.5 536.3,776.2 536.8,774.8 537.2,771.9 537.7,772.5 538.2,777.5 538.7,782.5 539.2,785.7 539.7,786.5 540.2,783.5 540.7,780.8 541.2,780.0 541.7,782.8 542.2,787.6 542.7,782.8 543.2,779.3 543.7,780.6 544.2,782.2 544.7,781.4 545.2,780.2 545.6,778.1 546.1,776.9 546.6,779.2 547.1,782.3 547.6,781.4 548.1,779.1 548.6,776.5 549.1,775.6 549.6,777.8 550.1,781.2 550.6,783.9 551.1,787.8 551.6,787.9 552.1,781.5 552.6,776.1 553.1,768.2 553.5,759.4 554.0,756.8 554.5,755.7 555.0,753.5 555.5,749.7 556.0,745.0 556.5,742.7 557.0,741.9 557.5,741.8 558.0,741.3 558.5,737.4 559.0,733.3 559.5,728.3 560.0,721.5 560.5,713.3 561.0,707.0 561.5,710.0 561.9,715.5 562.4,720.0 562.9,721.9 563.4,722.7 563.9,724.8 564.4,726.3 564.9,722.6 565.4,717.1 565.9,711.0 566.4,706.2 566.9,707.6 567.4,711.0 567.9,714.3 568.4,715.1 568.9,712.5 569.4,708.8 569.9,706.3 570.3,706.4 570.8,708.1 571.3,708.9 571.8,709.1 572.3,711.9 572.8,717.2 573.3,722.5 573.8,726.5 574.3,726.6 574.8,723.0 575.3,718.9 575.8,715.4 576.3,712.9 576.8,711.4 577.3,710.1 577.8,708.3 578.2,705.8 578.7,704.4 579.2,706.3 579.7,710.8 580.2,715.4 580.7,718.3 581.2,719.8 581.7,721.3 582.2,723.4 582.7,725.3 583.2,724.6 583.7,721.1 584.2,717.2 584.7,713.6 585.2,709.9 585.7,706.2 586.2,703.9 586.6,704.3 587.1,707.7 587.6,710.0 588.1,710.6 588.6,710.2 589.1,709.7 589.6,710.7 590.1,714.0 590.6,717.7 591.1,720.5 591.6,722.3 592.1,722.4 592.6,720.6 593.1,718.4 593.6,716.6 594.1,717.1 594.6,719.1 595.0,721.0 595.5,721.6 596.0,721.1 596.5,720.4 597.0,719.5 597.5,719.1 598.0,718.8 598.5,719.3 599.0,720.0 599.5,721.3 600.0,724.0 600.5,726.6 601.0,727.8 601.5,726.9 602.0,724.9 602.5,723.3 603.0,722.2 603.4,720.6 603.9,719.5 604.4,721.4 604.9,724.4 605.4,727.2 605.9,729.8 606.4,732.4 606.9,733.7 607.4,731.4 607.9,727.7 608.4,723.8 608.9,720.9 609.4,720.4 609.9,721.6 610.4,721.8 610.9,719.8 611.3,717.4 611.8,716.7 612.3,716.9 612.8,716.2 613.3,713.9 613.8,711.2 614.3,709.2 614.8,708.5 615.3,709.7 615.8,711.4 616.3,711.4 616.8,710.4 617.3,711.4 617.8,716.0 618.3,722.5 618.8,726.7 619.3,727.6 619.7,728.7 620.2,732.1 620.7,735.4 621.2,735.1 621.7,732.4 622.2,731.4 622.7,732.1 623.2,732.1 623.7,729.3 624.2,723.9 624.7,718.3 625.2,713.7 625.7,709.1 626.2,704.7 626.7,702.2 627.2,701.9 627.7,702.4 628.1,703.9 628.6,707.2 629.1,710.7 629.6,712.1 630.1,710.7 630.6,708.9 631.1,707.4 631.6,707.4 632.1,709.6 632.6,713.3 633.1,716.1 633.6,714.9 634.1,712.6 634.6,710.5 635.1,708.2 635.6,705.3 636.0,702.3 636.5,699.5 637.0,698.1 637.5,701.9 638.0,707.7 638.5,712.8 639.0,716.0 639.5,717.4 640.0,717.5 640.5,714.8 641.0,712.7 641.5,711.5 642.0,710.7 642.5,710.2 643.0,709.9 643.5,710.6 644.0,710.6 644.4,709.7 644.9,708.6 645.4,708.7 645.9,710.0 646.4,711.8 646.9,714.2 647.4,717.2 647.9,720.0 648.4,721.4 648.9,721.8 649.4,722.6 649.9,723.3 650.4,721.5 650.9,718.3 651.4,715.5 651.9,713.3 652.4,711.6 652.8,709.9 653.3,708.1 653.8,706.9 654.3,707.0 654.8,707.8 655.3,708.1 655.8,707.8 656.3,708.2 656.8,709.6 657.3,711.1 657.8,711.8 658.3,712.6 658.8,714.6 659.3,716.9 659.8,718.2 660.3,716.6 660.7,712.5 661.2,708.7 661.7,706.8 662.2,707.9 662.7,710.9 663.2,713.7 663.7,716.7 664.2,719.0 664.7,719.5" class="ln" stroke="#ff0000" stroke-width="1.9"/>
<polyline points="417.7,786.8 418.2,785.6 418.7,783.3 419.2,781.4 419.7,781.0 420.2,781.9 420.7,783.1 421.2,783.3 421.7,783.4 422.1,784.6 422.6,786.0 423.1,784.4 423.6,780.7 424.1,778.0 424.6,777.6 425.1,779.1 425.6,782.0 426.1,784.8 426.6,784.9 427.1,782.3 427.6,780.2 428.1,780.0 428.6,781.2 429.1,782.9 429.6,784.3 430.1,784.4 430.5,783.1 431.0,781.2 431.5,779.7 432.0,779.2 432.5,779.6 433.0,780.5 433.5,781.0 434.0,780.9 434.5,780.4 435.0,780.1 435.5,780.0 436.0,780.4 436.5,781.3 437.0,783.0 437.5,784.8 438.0,785.5 438.4,784.7 438.9,783.1 439.4,781.9 439.9,782.0 440.4,783.8 440.9,786.8 441.4,788.7 441.9,787.1 442.4,784.3 442.9,782.6 443.4,782.5 443.9,784.2 444.4,786.8 444.9,788.3 445.4,788.4 445.9,788.3 446.4,787.1 446.8,784.2 447.3,781.2 447.8,779.1 448.3,777.8 448.8,776.6 449.3,775.3 449.8,774.0 450.3,772.5 450.8,770.9 451.3,770.0 451.8,771.1 452.3,774.6 452.8,780.1 453.3,785.4 453.8,786.6 454.3,783.7 454.8,781.4 455.2,781.6 455.7,783.7 456.2,785.7 456.7,786.1 457.2,785.2 457.7,784.7 458.2,785.4 458.7,786.4 459.2,785.6 459.7,782.5 460.2,778.8 460.7,775.9 461.2,774.5 461.7,774.7 462.2,776.0 462.7,777.7 463.1,779.2 463.6,780.8 464.1,782.6 464.6,784.0 465.1,783.7 465.6,782.0 466.1,780.6 466.6,780.5 467.1,781.2 467.6,782.2 468.1,782.8 468.6,782.4 469.1,781.1 469.6,780.0 470.1,780.0 470.6,781.6 471.1,784.8 471.5,787.0 472.0,784.4 472.5,779.6 473.0,775.9 473.5,774.1 474.0,773.9 474.5,774.9 475.0,777.1 475.5,779.9 476.0,782.5 476.5,783.8 477.0,783.5 477.5,782.3 478.0,781.1 478.5,780.4 479.0,780.5 479.4,781.0 479.9,782.0 480.4,782.9 480.9,783.1 481.4,782.1 481.9,780.0 482.4,777.3 482.9,775.0 483.4,774.4 483.9,775.6 484.4,776.5 484.9,774.9 485.4,771.9 485.9,770.2 486.4,771.9 486.9,776.7 487.4,782.8 487.8,786.6 488.3,785.2 488.8,781.8 489.3,779.3 489.8,778.6 490.3,779.4 490.8,780.4 491.3,781.0 491.8,781.9 492.3,784.0 492.8,786.9 493.3,788.4 493.8,785.8 494.3,782.4 494.8,781.0 495.3,782.2 495.8,785.1 496.2,788.0 496.7,789.1 497.2,788.5 497.7,787.0 498.2,784.6 498.7,781.5 499.2,778.5 499.7,776.7 500.2,777.0 500.7,779.0 501.2,781.5 501.7,783.1 502.2,783.6 502.7,784.1 503.2,785.2 503.7,786.6 504.1,788.0 504.6,789.1 505.1,789.6 505.6,789.5 506.1,788.5 506.6,786.1 507.1,783.0 507.6,780.2 508.1,778.6 508.6,777.9 509.1,777.6 509.6,777.1 510.1,776.0 510.6,774.7 511.1,774.0 511.6,774.4 512.1,775.8 512.5,777.7 513.0,780.3 513.5,783.4 514.0,786.4 514.5,787.8 515.0,788.0 515.5,788.4 516.0,788.7 516.5,787.1 517.0,784.6 517.5,782.7 518.0,781.3 518.5,780.0 519.0,778.8 519.5,778.4 520.0,779.2 520.5,781.0 520.9,783.5 521.4,785.7 521.9,786.4 522.4,785.4 522.9,783.6 523.4,781.7 523.9,780.4 524.4,780.4 524.9,781.5 525.4,783.4 525.9,785.6 526.4,787.9 526.9,789.0 527.4,786.6 527.9,783.0 528.4,780.5 528.9,779.3 529.3,778.6 529.8,777.8 530.3,777.1 530.8,776.8 531.3,776.8 531.8,776.6 532.3,775.9 532.8,775.3 533.3,775.4 533.8,776.4 534.3,777.9 534.8,779.8 535.3,782.1 535.8,783.6 536.3,781.5 536.8,775.6 537.2,769.2 537.7,765.2 538.2,764.8 538.7,767.3 539.2,771.6 539.7,776.6 540.2,781.9 540.7,786.2 541.2,786.9 541.7,784.0 542.2,780.6 542.7,778.4 543.2,777.4 543.7,777.8 544.2,779.0 544.7,780.0 545.2,779.9 545.6,778.7 546.1,777.4 546.6,777.2 547.1,778.8 547.6,782.2 548.1,786.3 548.6,788.0 549.1,786.3 549.6,785.2 550.1,786.2 550.6,788.3 551.1,789.9 551.6,790.0 552.1,788.6 552.6,786.3 553.1,784.0 553.5,782.3 554.0,781.3 554.5,781.0 555.0,781.1 555.5,781.0 556.0,780.1 556.5,778.6 557.0,776.9 557.5,775.1 558.0,773.4 558.5,772.2 559.0,772.2 559.5,773.5 560.0,775.3 560.5,776.9 561.0,778.2 561.5,779.8 561.9,781.8 562.4,784.3 562.9,786.7 563.4,788.2 563.9,788.7 564.4,788.4 564.9,787.7 565.4,787.4 565.9,787.9 566.4,788.5 566.9,787.3 567.4,785.7 567.9,785.4 568.4,785.8 568.9,785.2 569.4,783.7 569.9,782.7 570.3,782.5 570.8,782.7 571.3,783.0 571.8,783.5 572.3,784.4 572.8,786.0 573.3,787.6 573.8,787.3 574.3,784.2 574.8,780.0 575.3,776.4 575.8,774.3 576.3,774.0 576.8,775.3 577.3,777.4 577.8,780.0 578.2,782.8 578.7,785.5 579.2,787.2 579.7,787.1 580.2,786.5 580.7,786.4 581.2,787.0 581.7,788.0 582.2,788.8 582.7,788.9 583.2,788.8 583.7,788.4 584.2,787.2 584.7,784.6 585.2,781.3 585.7,777.9 586.2,775.2 586.6,773.7 587.1,773.6 587.6,774.5 588.1,775.9 588.6,777.5 589.1,779.0 589.6,780.2 590.1,780.8 590.6,780.7 591.1,780.4 591.6,780.9 592.1,782.5 592.6,784.1 593.1,783.9 593.6,782.0 594.1,780.4 594.6,780.7 595.0,782.9 595.5,786.2 596.0,788.9 596.5,789.3 597.0,788.0 597.5,786.8 598.0,786.4 598.5,786.0 599.0,785.5 599.5,785.7 600.0,786.9 600.5,787.4 601.0,785.7 601.5,783.2 602.0,781.7 602.5,782.1 603.0,784.6 603.4,786.9 603.9,785.3 604.4,781.8 604.9,780.0 605.4,780.6 605.9,782.8 606.4,785.0 606.9,785.8 607.4,784.3 607.9,781.1 608.4,778.0 608.9,776.6 609.4,778.0 609.9,781.4 610.4,785.4 610.9,788.4 611.3,788.9 611.8,787.1 612.3,784.4 612.8,781.9 613.3,780.5 613.8,780.5 614.3,781.7 614.8,783.3 615.3,784.4 615.8,784.7 616.3,784.5 616.8,784.5 617.3,785.1 617.8,786.8 618.3,788.7 618.8,788.8 619.3,788.1 619.7,788.2 620.2,788.9 620.7,788.8 621.2,788.1 621.7,787.4 622.2,787.1 622.7,787.5 623.2,788.3 623.7,788.4 624.2,787.5 624.7,786.3 625.2,785.8 625.7,785.9 626.2,786.5 626.7,787.4 627.2,788.1 627.7,787.3 628.1,785.6 628.6,785.0 629.1,786.1 629.6,787.0 630.1,785.8 630.6,783.9 631.1,783.1 631.6,783.7 632.1,784.7 632.6,784.7 633.1,783.8 633.6,783.1 634.1,783.3 634.6,784.1 635.1,784.1 635.6,782.2 636.0,779.3 636.5,776.7 637.0,775.4 637.5,775.5 638.0,776.6 638.5,777.9 639.0,778.8 639.5,778.8 640.0,778.5 640.5,778.4 641.0,778.8 641.5,779.5 642.0,780.3 642.5,781.0 643.0,781.5 643.5,781.6 644.0,781.7 644.4,782.3 644.9,783.3 645.4,783.2 645.9,781.1 646.4,778.7 646.9,777.9 647.4,779.3 647.9,782.0 648.4,785.1 648.9,787.2 649.4,787.3 649.9,786.1 650.4,785.2 650.9,785.1 651.4,785.7 651.9,786.7 652.4,787.6 652.8,788.3 653.3,788.6 653.8,788.5 654.3,788.5 654.8,788.9 655.3,789.6 655.8,789.0 656.3,787.9 656.8,787.8 657.3,788.5 657.8,788.0 658.3,786.0 658.8,784.2 659.3,783.3 659.8,783.3 660.3,784.1 660.7,786.0 661.2,787.9 661.7,787.5 662.2,784.4 662.7,781.0 663.2,779.1 663.7,779.2 664.2,780.7 664.7,782.2" class="ln" stroke="#ff0000" stroke-width="2.3"/>
</g>
<rect x="417.7" y="599.9" width="247.0" height="191.1" fill="none" stroke="#1c1c1c" stroke-width="1.0"/><path d="M467.1 791.0v-3.2M467.1 599.9v3.2M516.5 791.0v-3.2M516.5 599.9v3.2M565.9 791.0v-3.2M565.9 599.9v3.2M615.3 791.0v-3.2M615.3 599.9v3.2M417.7 767.1h3.2M664.7 767.1h-3.2M417.7 743.2h3.2M664.7 743.2h-3.2M417.7 719.3h3.2M664.7 719.3h-3.2M417.7 695.5h3.2M664.7 695.5h-3.2M417.7 671.6h3.2M664.7 671.6h-3.2M417.7 647.7h3.2M664.7 647.7h-3.2M417.7 623.8h3.2M664.7 623.8h-3.2" stroke="#111" stroke-width="0.7" fill="none"/><text x="0" y="0" font-size="16.4" class="dv" text-anchor="middle" transform="translate(417.7 806.5) scale(0.93 1)">0</text><text x="0" y="0" font-size="16.4" class="dv" text-anchor="middle" transform="translate(467.1 806.5) scale(0.93 1)">2</text><text x="0" y="0" font-size="16.4" class="dv" text-anchor="middle" transform="translate(516.5 806.5) scale(0.93 1)">4</text><text x="0" y="0" font-size="16.4" class="dv" text-anchor="middle" transform="translate(565.9 806.5) scale(0.93 1)">6</text><text x="0" y="0" font-size="16.4" class="dv" text-anchor="middle" transform="translate(615.3 806.5) scale(0.93 1)">8</text><text x="0" y="0" font-size="16.4" class="dv" text-anchor="middle" transform="translate(664.7 806.5) scale(0.93 1)">10</text><text x="0" y="0" font-size="16.4" class="dv" text-anchor="end" transform="translate(414.5 796.9) scale(0.93 1)">0.0</text><text x="0" y="0" font-size="16.4" class="dv" text-anchor="end" transform="translate(414.5 773.0) scale(0.93 1)">0.5</text><text x="0" y="0" font-size="16.4" class="dv" text-anchor="end" transform="translate(414.5 749.1) scale(0.93 1)">1.0</text><text x="0" y="0" font-size="16.4" class="dv" text-anchor="end" transform="translate(414.5 725.2) scale(0.93 1)">1.5</text><text x="0" y="0" font-size="16.4" class="dv" text-anchor="end" transform="translate(414.5 701.4) scale(0.93 1)">2.0</text><text x="0" y="0" font-size="16.4" class="dv" text-anchor="end" transform="translate(414.5 677.5) scale(0.93 1)">2.5</text><text x="0" y="0" font-size="16.4" class="dv" text-anchor="end" transform="translate(414.5 653.6) scale(0.93 1)">3.0</text><text x="0" y="0" font-size="16.4" class="dv" text-anchor="end" transform="translate(414.5 629.7) scale(0.93 1)">3.5</text><text x="0" y="0" font-size="16.4" class="dv" text-anchor="end" transform="translate(414.5 605.8) scale(0.93 1)">4.0</text><text x="541.2" y="825.8" font-size="19.5" class="dv" text-anchor="middle">Time (ps)</text><text x="0" y="0" font-size="19.6" class="dv" text-anchor="middle" transform="translate(380.7 695.5) rotate(-90) scale(1 1.07)">RMS Displacement (<tspan class="sf" font-size="19.5">Å</tspan>)</text>
</svg></body></html>
